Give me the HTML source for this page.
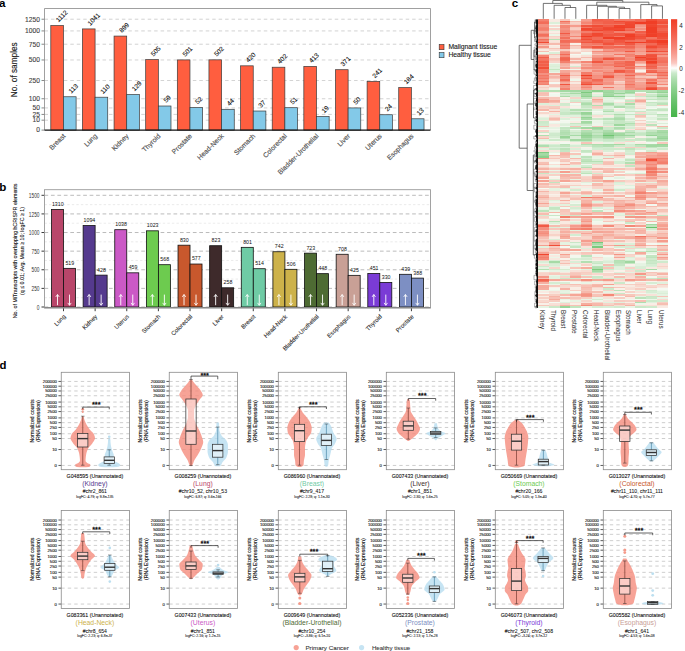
<!DOCTYPE html>
<html><head><meta charset="utf-8"><style>
html,body{margin:0;padding:0;background:#fff;overflow:hidden}
svg{display:block}
text{font-family:"Liberation Sans",sans-serif}
</style></head><body>
<svg width="685" height="651" viewBox="0 0 685 651">
<rect width="685" height="651" fill="#fff"/>
<text x="-0.90" y="6.90" font-size="11.6" text-anchor="start" fill="#000" font-weight="bold">a</text>
<text x="-0.80" y="190.50" font-size="11.6" text-anchor="start" fill="#000" font-weight="bold">b</text>
<text x="511.70" y="6.60" font-size="11.6" text-anchor="start" fill="#000" font-weight="bold">c</text>
<text x="-0.60" y="369.30" font-size="11.4" text-anchor="start" fill="#000" font-weight="bold">d</text>
<line x1="41.50" y1="130.10" x2="44.50" y2="130.10" stroke="#555" stroke-width="0.7"/>
<text x="40.00" y="132.40" font-size="6.7" text-anchor="end" fill="#444" stroke="#444" stroke-width="0.12">0</text>
<line x1="44.50" y1="120.18" x2="430.50" y2="120.18" stroke="#c8c8c8" stroke-width="0.8" stroke-dasharray="3.5,2.95"/>
<line x1="41.50" y1="120.18" x2="44.50" y2="120.18" stroke="#555" stroke-width="0.7"/>
<text x="40.00" y="122.48" font-size="6.7" text-anchor="end" fill="#444" stroke="#444" stroke-width="0.12">10</text>
<line x1="44.50" y1="114.42" x2="430.50" y2="114.42" stroke="#c8c8c8" stroke-width="0.8" stroke-dasharray="3.5,2.95"/>
<line x1="41.50" y1="114.42" x2="44.50" y2="114.42" stroke="#555" stroke-width="0.7"/>
<text x="40.00" y="116.72" font-size="6.7" text-anchor="end" fill="#444" stroke="#444" stroke-width="0.12">25</text>
<line x1="44.50" y1="107.93" x2="430.50" y2="107.93" stroke="#c8c8c8" stroke-width="0.8" stroke-dasharray="3.5,2.95"/>
<line x1="41.50" y1="107.93" x2="44.50" y2="107.93" stroke="#555" stroke-width="0.7"/>
<text x="40.00" y="110.23" font-size="6.7" text-anchor="end" fill="#444" stroke="#444" stroke-width="0.12">50</text>
<line x1="44.50" y1="98.74" x2="430.50" y2="98.74" stroke="#c8c8c8" stroke-width="0.8" stroke-dasharray="3.5,2.95"/>
<line x1="41.50" y1="98.74" x2="44.50" y2="98.74" stroke="#555" stroke-width="0.7"/>
<text x="40.00" y="101.04" font-size="6.7" text-anchor="end" fill="#444" stroke="#444" stroke-width="0.12">100</text>
<line x1="44.50" y1="80.52" x2="430.50" y2="80.52" stroke="#c8c8c8" stroke-width="0.8" stroke-dasharray="3.5,2.95"/>
<line x1="41.50" y1="80.52" x2="44.50" y2="80.52" stroke="#555" stroke-width="0.7"/>
<text x="40.00" y="82.82" font-size="6.7" text-anchor="end" fill="#444" stroke="#444" stroke-width="0.12">250</text>
<line x1="44.50" y1="59.98" x2="430.50" y2="59.98" stroke="#c8c8c8" stroke-width="0.8" stroke-dasharray="3.5,2.95"/>
<line x1="41.50" y1="59.98" x2="44.50" y2="59.98" stroke="#555" stroke-width="0.7"/>
<text x="40.00" y="62.28" font-size="6.7" text-anchor="end" fill="#444" stroke="#444" stroke-width="0.12">500</text>
<line x1="44.50" y1="44.22" x2="430.50" y2="44.22" stroke="#c8c8c8" stroke-width="0.8" stroke-dasharray="3.5,2.95"/>
<line x1="41.50" y1="44.22" x2="44.50" y2="44.22" stroke="#555" stroke-width="0.7"/>
<text x="40.00" y="46.52" font-size="6.7" text-anchor="end" fill="#444" stroke="#444" stroke-width="0.12">750</text>
<line x1="44.50" y1="30.93" x2="430.50" y2="30.93" stroke="#c8c8c8" stroke-width="0.8" stroke-dasharray="3.5,2.95"/>
<line x1="41.50" y1="30.93" x2="44.50" y2="30.93" stroke="#555" stroke-width="0.7"/>
<text x="40.00" y="33.23" font-size="6.7" text-anchor="end" fill="#444" stroke="#444" stroke-width="0.12">1000</text>
<line x1="44.50" y1="19.23" x2="430.50" y2="19.23" stroke="#c8c8c8" stroke-width="0.8" stroke-dasharray="3.5,2.95"/>
<line x1="41.50" y1="19.23" x2="44.50" y2="19.23" stroke="#555" stroke-width="0.7"/>
<text x="40.00" y="21.53" font-size="6.7" text-anchor="end" fill="#444" stroke="#444" stroke-width="0.12">1250</text>
<rect x="50.80" y="25.52" width="12.65" height="104.58" fill="#ff5e3f" stroke="#3a3a3a" stroke-width="0.7"/>
<text x="58.62" y="22.52" font-size="6.5" text-anchor="start" fill="#111" transform="rotate(-45 58.62 22.52)" stroke="#111" stroke-width="0.1">1112</text>
<rect x="63.45" y="96.76" width="12.65" height="33.34" fill="#83c9e8" stroke="#3a3a3a" stroke-width="0.7"/>
<text x="71.27" y="93.76" font-size="6.5" text-anchor="start" fill="#111" transform="rotate(-45 71.27 93.76)" stroke="#111" stroke-width="0.1">113</text>
<text x="65.95" y="136.50" font-size="6.8" text-anchor="end" fill="#555" transform="rotate(-45 65.95 136.50)" stroke="#555" stroke-width="0.15">Breast</text>
<rect x="82.43" y="28.92" width="12.65" height="101.18" fill="#ff5e3f" stroke="#3a3a3a" stroke-width="0.7"/>
<text x="90.25" y="25.92" font-size="6.5" text-anchor="start" fill="#111" transform="rotate(-45 90.25 25.92)" stroke="#111" stroke-width="0.1">1041</text>
<rect x="95.08" y="97.21" width="12.65" height="32.89" fill="#83c9e8" stroke="#3a3a3a" stroke-width="0.7"/>
<text x="102.91" y="94.21" font-size="6.5" text-anchor="start" fill="#111" transform="rotate(-45 102.91 94.21)" stroke="#111" stroke-width="0.1">110</text>
<text x="97.58" y="136.50" font-size="6.8" text-anchor="end" fill="#555" transform="rotate(-45 97.58 136.50)" stroke="#555" stroke-width="0.15">Lung</text>
<rect x="114.06" y="36.07" width="12.65" height="94.03" fill="#ff5e3f" stroke="#3a3a3a" stroke-width="0.7"/>
<text x="121.89" y="33.07" font-size="6.5" text-anchor="start" fill="#111" transform="rotate(-45 121.89 33.07)" stroke="#111" stroke-width="0.1">899</text>
<rect x="126.71" y="94.48" width="12.65" height="35.62" fill="#83c9e8" stroke="#3a3a3a" stroke-width="0.7"/>
<text x="134.53" y="91.48" font-size="6.5" text-anchor="start" fill="#111" transform="rotate(-45 134.53 91.48)" stroke="#111" stroke-width="0.1">129</text>
<text x="129.21" y="136.50" font-size="6.8" text-anchor="end" fill="#555" transform="rotate(-45 129.21 136.50)" stroke="#555" stroke-width="0.15">Kidney</text>
<rect x="145.69" y="59.63" width="12.65" height="70.47" fill="#ff5e3f" stroke="#3a3a3a" stroke-width="0.7"/>
<text x="153.51" y="56.63" font-size="6.5" text-anchor="start" fill="#111" transform="rotate(-45 153.51 56.63)" stroke="#111" stroke-width="0.1">505</text>
<rect x="158.34" y="106.01" width="12.65" height="24.09" fill="#83c9e8" stroke="#3a3a3a" stroke-width="0.7"/>
<text x="166.16" y="103.01" font-size="6.5" text-anchor="start" fill="#111" transform="rotate(-45 166.16 103.01)" stroke="#111" stroke-width="0.1">59</text>
<text x="160.84" y="136.50" font-size="6.8" text-anchor="end" fill="#555" transform="rotate(-45 160.84 136.50)" stroke="#555" stroke-width="0.15">Thyroid</text>
<rect x="177.32" y="59.91" width="12.65" height="70.19" fill="#ff5e3f" stroke="#3a3a3a" stroke-width="0.7"/>
<text x="185.14" y="56.91" font-size="6.5" text-anchor="start" fill="#111" transform="rotate(-45 185.14 56.91)" stroke="#111" stroke-width="0.1">501</text>
<rect x="189.97" y="107.49" width="12.65" height="22.61" fill="#83c9e8" stroke="#3a3a3a" stroke-width="0.7"/>
<text x="197.79" y="104.49" font-size="6.5" text-anchor="start" fill="#111" transform="rotate(-45 197.79 104.49)" stroke="#111" stroke-width="0.1">52</text>
<text x="192.47" y="136.50" font-size="6.8" text-anchor="end" fill="#555" transform="rotate(-45 192.47 136.50)" stroke="#555" stroke-width="0.15">Prostate</text>
<rect x="208.95" y="59.84" width="12.65" height="70.26" fill="#ff5e3f" stroke="#3a3a3a" stroke-width="0.7"/>
<text x="216.77" y="56.84" font-size="6.5" text-anchor="start" fill="#111" transform="rotate(-45 216.77 56.84)" stroke="#111" stroke-width="0.1">502</text>
<rect x="221.60" y="109.30" width="12.65" height="20.80" fill="#83c9e8" stroke="#3a3a3a" stroke-width="0.7"/>
<text x="229.42" y="106.30" font-size="6.5" text-anchor="start" fill="#111" transform="rotate(-45 229.42 106.30)" stroke="#111" stroke-width="0.1">44</text>
<text x="224.10" y="136.50" font-size="6.8" text-anchor="end" fill="#555" transform="rotate(-45 224.10 136.50)" stroke="#555" stroke-width="0.15">Head-Neck</text>
<rect x="240.58" y="65.83" width="12.65" height="64.27" fill="#ff5e3f" stroke="#3a3a3a" stroke-width="0.7"/>
<text x="248.40" y="62.83" font-size="6.5" text-anchor="start" fill="#111" transform="rotate(-45 248.40 62.83)" stroke="#111" stroke-width="0.1">420</text>
<rect x="253.23" y="111.02" width="12.65" height="19.08" fill="#83c9e8" stroke="#3a3a3a" stroke-width="0.7"/>
<text x="261.06" y="108.02" font-size="6.5" text-anchor="start" fill="#111" transform="rotate(-45 261.06 108.02)" stroke="#111" stroke-width="0.1">37</text>
<text x="255.73" y="136.50" font-size="6.8" text-anchor="end" fill="#555" transform="rotate(-45 255.73 136.50)" stroke="#555" stroke-width="0.15">Stomach</text>
<rect x="272.21" y="67.22" width="12.65" height="62.88" fill="#ff5e3f" stroke="#3a3a3a" stroke-width="0.7"/>
<text x="280.03" y="64.22" font-size="6.5" text-anchor="start" fill="#111" transform="rotate(-45 280.03 64.22)" stroke="#111" stroke-width="0.1">402</text>
<rect x="284.86" y="107.70" width="12.65" height="22.40" fill="#83c9e8" stroke="#3a3a3a" stroke-width="0.7"/>
<text x="292.68" y="104.70" font-size="6.5" text-anchor="start" fill="#111" transform="rotate(-45 292.68 104.70)" stroke="#111" stroke-width="0.1">51</text>
<text x="287.36" y="136.50" font-size="6.8" text-anchor="end" fill="#555" transform="rotate(-45 287.36 136.50)" stroke="#555" stroke-width="0.15">Colorectal</text>
<rect x="303.84" y="66.37" width="12.65" height="63.73" fill="#ff5e3f" stroke="#3a3a3a" stroke-width="0.7"/>
<text x="311.66" y="63.37" font-size="6.5" text-anchor="start" fill="#111" transform="rotate(-45 311.66 63.37)" stroke="#111" stroke-width="0.1">413</text>
<rect x="316.49" y="116.43" width="12.65" height="13.67" fill="#83c9e8" stroke="#3a3a3a" stroke-width="0.7"/>
<text x="324.31" y="113.43" font-size="6.5" text-anchor="start" fill="#111" transform="rotate(-45 324.31 113.43)" stroke="#111" stroke-width="0.1">19</text>
<text x="318.99" y="136.50" font-size="6.8" text-anchor="end" fill="#555" transform="rotate(-45 318.99 136.50)" stroke="#555" stroke-width="0.15">Bladder-Urothelial</text>
<rect x="335.47" y="69.70" width="12.65" height="60.40" fill="#ff5e3f" stroke="#3a3a3a" stroke-width="0.7"/>
<text x="343.30" y="66.70" font-size="6.5" text-anchor="start" fill="#111" transform="rotate(-45 343.30 66.70)" stroke="#111" stroke-width="0.1">371</text>
<rect x="348.12" y="107.93" width="12.65" height="22.17" fill="#83c9e8" stroke="#3a3a3a" stroke-width="0.7"/>
<text x="355.94" y="104.93" font-size="6.5" text-anchor="start" fill="#111" transform="rotate(-45 355.94 104.93)" stroke="#111" stroke-width="0.1">50</text>
<text x="350.62" y="136.50" font-size="6.8" text-anchor="end" fill="#555" transform="rotate(-45 350.62 136.50)" stroke="#555" stroke-width="0.15">Liver</text>
<rect x="367.10" y="81.42" width="12.65" height="48.68" fill="#ff5e3f" stroke="#3a3a3a" stroke-width="0.7"/>
<text x="374.93" y="78.42" font-size="6.5" text-anchor="start" fill="#111" transform="rotate(-45 374.93 78.42)" stroke="#111" stroke-width="0.1">241</text>
<rect x="379.75" y="114.74" width="12.65" height="15.36" fill="#83c9e8" stroke="#3a3a3a" stroke-width="0.7"/>
<text x="387.57" y="111.74" font-size="6.5" text-anchor="start" fill="#111" transform="rotate(-45 387.57 111.74)" stroke="#111" stroke-width="0.1">24</text>
<text x="382.25" y="136.50" font-size="6.8" text-anchor="end" fill="#555" transform="rotate(-45 382.25 136.50)" stroke="#555" stroke-width="0.15">Uterus</text>
<rect x="398.73" y="87.56" width="12.65" height="42.54" fill="#ff5e3f" stroke="#3a3a3a" stroke-width="0.7"/>
<text x="406.56" y="84.56" font-size="6.5" text-anchor="start" fill="#111" transform="rotate(-45 406.56 84.56)" stroke="#111" stroke-width="0.1">184</text>
<rect x="411.38" y="118.79" width="12.65" height="11.31" fill="#83c9e8" stroke="#3a3a3a" stroke-width="0.7"/>
<text x="419.20" y="115.79" font-size="6.5" text-anchor="start" fill="#111" transform="rotate(-45 419.20 115.79)" stroke="#111" stroke-width="0.1">13</text>
<text x="413.88" y="136.50" font-size="6.8" text-anchor="end" fill="#555" transform="rotate(-45 413.88 136.50)" stroke="#555" stroke-width="0.15">Esophagus</text>
<line x1="44.50" y1="8.50" x2="44.50" y2="130.10" stroke="#888" stroke-width="0.8"/>
<line x1="44.50" y1="8.50" x2="430.50" y2="8.50" stroke="#888" stroke-width="0.8"/>
<line x1="430.50" y1="8.50" x2="430.50" y2="130.10" stroke="#888" stroke-width="0.8"/>
<line x1="44.50" y1="130.10" x2="430.50" y2="130.10" stroke="#111" stroke-width="1.3"/>
<text x="17.40" y="69.80" font-size="8.5" text-anchor="middle" fill="#222" transform="rotate(-90 17.40 69.80)" textLength="55" lengthAdjust="spacingAndGlyphs" stroke="#222" stroke-width="0.15">No. of samples</text>
<rect x="439.20" y="44.50" width="4.80" height="5.20" fill="#ff5e3f" stroke="#333" stroke-width="0.6"/>
<rect x="439.20" y="52.50" width="4.80" height="5.20" fill="#83c9e8" stroke="#333" stroke-width="0.6"/>
<text x="448.40" y="49.10" font-size="6.6" text-anchor="start" fill="#222" textLength="48.9" lengthAdjust="spacingAndGlyphs" stroke="#222" stroke-width="0.12">Malignant tissue</text>
<text x="448.40" y="57.20" font-size="6.6" text-anchor="start" fill="#222" textLength="42.5" lengthAdjust="spacingAndGlyphs" stroke="#222" stroke-width="0.12">Healthy tissue</text>
<line x1="44.50" y1="307.00" x2="430.50" y2="307.00" stroke="#aaa" stroke-width="0.8" stroke-dasharray="3.7,2.75"/>
<line x1="44.50" y1="297.69" x2="430.50" y2="297.69" stroke="#ddd" stroke-width="0.6" stroke-dasharray="2.4,2.15"/>
<line x1="44.50" y1="288.38" x2="430.50" y2="288.38" stroke="#aaa" stroke-width="0.8" stroke-dasharray="3.7,2.75"/>
<line x1="44.50" y1="279.07" x2="430.50" y2="279.07" stroke="#ddd" stroke-width="0.6" stroke-dasharray="2.4,2.15"/>
<line x1="44.50" y1="269.77" x2="430.50" y2="269.77" stroke="#aaa" stroke-width="0.8" stroke-dasharray="3.7,2.75"/>
<line x1="44.50" y1="260.46" x2="430.50" y2="260.46" stroke="#ddd" stroke-width="0.6" stroke-dasharray="2.4,2.15"/>
<line x1="44.50" y1="251.15" x2="430.50" y2="251.15" stroke="#aaa" stroke-width="0.8" stroke-dasharray="3.7,2.75"/>
<line x1="44.50" y1="241.84" x2="430.50" y2="241.84" stroke="#ddd" stroke-width="0.6" stroke-dasharray="2.4,2.15"/>
<line x1="44.50" y1="232.53" x2="430.50" y2="232.53" stroke="#aaa" stroke-width="0.8" stroke-dasharray="3.7,2.75"/>
<line x1="44.50" y1="223.23" x2="430.50" y2="223.23" stroke="#ddd" stroke-width="0.6" stroke-dasharray="2.4,2.15"/>
<line x1="44.50" y1="213.92" x2="430.50" y2="213.92" stroke="#aaa" stroke-width="0.8" stroke-dasharray="3.7,2.75"/>
<line x1="44.50" y1="204.61" x2="430.50" y2="204.61" stroke="#ddd" stroke-width="0.6" stroke-dasharray="2.4,2.15"/>
<line x1="44.50" y1="195.30" x2="430.50" y2="195.30" stroke="#aaa" stroke-width="0.8" stroke-dasharray="3.7,2.75"/>
<line x1="41.50" y1="307.00" x2="44.50" y2="307.00" stroke="#222" stroke-width="0.9"/>
<text x="39.50" y="309.60" font-size="6.4" text-anchor="end" fill="#333" textLength="2.68" lengthAdjust="spacingAndGlyphs">0</text>
<line x1="41.50" y1="288.38" x2="44.50" y2="288.38" stroke="#222" stroke-width="0.9"/>
<text x="39.50" y="290.98" font-size="6.4" text-anchor="end" fill="#333" textLength="8.040000000000001" lengthAdjust="spacingAndGlyphs">250</text>
<line x1="41.50" y1="269.77" x2="44.50" y2="269.77" stroke="#222" stroke-width="0.9"/>
<text x="39.50" y="272.37" font-size="6.4" text-anchor="end" fill="#333" textLength="8.040000000000001" lengthAdjust="spacingAndGlyphs">500</text>
<line x1="41.50" y1="251.15" x2="44.50" y2="251.15" stroke="#222" stroke-width="0.9"/>
<text x="39.50" y="253.75" font-size="6.4" text-anchor="end" fill="#333" textLength="8.040000000000001" lengthAdjust="spacingAndGlyphs">750</text>
<line x1="41.50" y1="232.53" x2="44.50" y2="232.53" stroke="#222" stroke-width="0.9"/>
<text x="39.50" y="235.13" font-size="6.4" text-anchor="end" fill="#333" textLength="10.72" lengthAdjust="spacingAndGlyphs">1000</text>
<line x1="41.50" y1="213.92" x2="44.50" y2="213.92" stroke="#222" stroke-width="0.9"/>
<text x="39.50" y="216.52" font-size="6.4" text-anchor="end" fill="#333" textLength="10.72" lengthAdjust="spacingAndGlyphs">1250</text>
<line x1="41.50" y1="195.30" x2="44.50" y2="195.30" stroke="#222" stroke-width="0.9"/>
<text x="39.50" y="197.90" font-size="6.4" text-anchor="end" fill="#333" textLength="10.72" lengthAdjust="spacingAndGlyphs">1500</text>
<rect x="51.50" y="209.45" width="12.00" height="97.55" fill="#b9466a" stroke="#111" stroke-width="0.8"/>
<text x="57.80" y="205.85" font-size="6.0" text-anchor="middle" fill="#111" textLength="11.68" lengthAdjust="spacingAndGlyphs">1310</text>
<line x1="57.50" y1="305.20" x2="57.50" y2="294.60" stroke="#fff" stroke-width="0.9"/>
<path d="M55.80,296.90 L57.50,294.50 L59.20,296.90" fill="none" stroke="#fff" stroke-width="0.85"/>
<rect x="63.50" y="268.35" width="12.00" height="38.65" fill="#b9466a" stroke="#111" stroke-width="0.8"/>
<text x="69.80" y="264.75" font-size="6.0" text-anchor="middle" fill="#111" textLength="8.76" lengthAdjust="spacingAndGlyphs">519</text>
<line x1="69.50" y1="294.60" x2="69.50" y2="305.20" stroke="#fff" stroke-width="0.9"/>
<path d="M67.80,302.90 L69.50,305.30 L71.20,302.90" fill="none" stroke="#fff" stroke-width="0.85"/>
<line x1="63.50" y1="307.50" x2="63.50" y2="311.20" stroke="#222" stroke-width="0.9"/>
<text x="66.10" y="317.00" font-size="6.0" text-anchor="end" fill="#333" transform="rotate(-45 66.10 317.00)" stroke="#333" stroke-width="0.1">Lung</text>
<rect x="83.13" y="225.53" width="12.00" height="81.47" fill="#553a8e" stroke="#111" stroke-width="0.8"/>
<text x="89.43" y="221.93" font-size="6.0" text-anchor="middle" fill="#111" textLength="11.68" lengthAdjust="spacingAndGlyphs">1094</text>
<line x1="89.13" y1="305.20" x2="89.13" y2="294.60" stroke="#fff" stroke-width="0.9"/>
<path d="M87.43,296.90 L89.13,294.50 L90.83,296.90" fill="none" stroke="#fff" stroke-width="0.85"/>
<rect x="95.13" y="275.13" width="12.00" height="31.87" fill="#553a8e" stroke="#111" stroke-width="0.8"/>
<text x="101.43" y="271.53" font-size="6.0" text-anchor="middle" fill="#111" textLength="8.76" lengthAdjust="spacingAndGlyphs">428</text>
<line x1="101.13" y1="294.60" x2="101.13" y2="305.20" stroke="#fff" stroke-width="0.9"/>
<path d="M99.43,302.90 L101.13,305.30 L102.83,302.90" fill="none" stroke="#fff" stroke-width="0.85"/>
<line x1="95.13" y1="307.50" x2="95.13" y2="311.20" stroke="#222" stroke-width="0.9"/>
<text x="97.73" y="317.00" font-size="6.0" text-anchor="end" fill="#333" transform="rotate(-45 97.73 317.00)" stroke="#333" stroke-width="0.1">Kidney</text>
<rect x="114.76" y="229.70" width="12.00" height="77.30" fill="#cb59c6" stroke="#111" stroke-width="0.8"/>
<text x="121.06" y="226.10" font-size="6.0" text-anchor="middle" fill="#111" textLength="11.68" lengthAdjust="spacingAndGlyphs">1038</text>
<line x1="120.76" y1="305.20" x2="120.76" y2="294.60" stroke="#fff" stroke-width="0.9"/>
<path d="M119.06,296.90 L120.76,294.50 L122.46,296.90" fill="none" stroke="#fff" stroke-width="0.85"/>
<rect x="126.76" y="272.82" width="12.00" height="34.18" fill="#cb59c6" stroke="#111" stroke-width="0.8"/>
<text x="133.06" y="269.22" font-size="6.0" text-anchor="middle" fill="#111" textLength="8.76" lengthAdjust="spacingAndGlyphs">459</text>
<line x1="132.76" y1="294.60" x2="132.76" y2="305.20" stroke="#fff" stroke-width="0.9"/>
<path d="M131.06,302.90 L132.76,305.30 L134.46,302.90" fill="none" stroke="#fff" stroke-width="0.85"/>
<line x1="126.76" y1="307.50" x2="126.76" y2="311.20" stroke="#222" stroke-width="0.9"/>
<text x="129.36" y="317.00" font-size="6.0" text-anchor="end" fill="#333" transform="rotate(-45 129.36 317.00)" stroke="#333" stroke-width="0.1">Uterus</text>
<rect x="146.39" y="230.82" width="12.00" height="76.18" fill="#6dcb4f" stroke="#111" stroke-width="0.8"/>
<text x="152.69" y="227.22" font-size="6.0" text-anchor="middle" fill="#111" textLength="11.68" lengthAdjust="spacingAndGlyphs">1023</text>
<line x1="152.39" y1="305.20" x2="152.39" y2="294.60" stroke="#fff" stroke-width="0.9"/>
<path d="M150.69,296.90 L152.39,294.50 L154.09,296.90" fill="none" stroke="#fff" stroke-width="0.85"/>
<rect x="158.39" y="264.70" width="12.00" height="42.30" fill="#6dcb4f" stroke="#111" stroke-width="0.8"/>
<text x="164.69" y="261.10" font-size="6.0" text-anchor="middle" fill="#111" textLength="8.76" lengthAdjust="spacingAndGlyphs">568</text>
<line x1="164.39" y1="294.60" x2="164.39" y2="305.20" stroke="#fff" stroke-width="0.9"/>
<path d="M162.69,302.90 L164.39,305.30 L166.09,302.90" fill="none" stroke="#fff" stroke-width="0.85"/>
<line x1="158.39" y1="307.50" x2="158.39" y2="311.20" stroke="#222" stroke-width="0.9"/>
<text x="160.99" y="317.00" font-size="6.0" text-anchor="end" fill="#333" transform="rotate(-45 160.99 317.00)" stroke="#333" stroke-width="0.1">Stomach</text>
<rect x="178.02" y="245.19" width="12.00" height="61.81" fill="#c8582d" stroke="#111" stroke-width="0.8"/>
<text x="184.32" y="241.59" font-size="6.0" text-anchor="middle" fill="#111" textLength="8.76" lengthAdjust="spacingAndGlyphs">830</text>
<line x1="184.02" y1="305.20" x2="184.02" y2="294.60" stroke="#fff" stroke-width="0.9"/>
<path d="M182.32,296.90 L184.02,294.50 L185.72,296.90" fill="none" stroke="#fff" stroke-width="0.85"/>
<rect x="190.02" y="264.03" width="12.00" height="42.97" fill="#c8582d" stroke="#111" stroke-width="0.8"/>
<text x="196.32" y="260.43" font-size="6.0" text-anchor="middle" fill="#111" textLength="8.76" lengthAdjust="spacingAndGlyphs">577</text>
<line x1="196.02" y1="294.60" x2="196.02" y2="305.20" stroke="#fff" stroke-width="0.9"/>
<path d="M194.32,302.90 L196.02,305.30 L197.72,302.90" fill="none" stroke="#fff" stroke-width="0.85"/>
<line x1="190.02" y1="307.50" x2="190.02" y2="311.20" stroke="#222" stroke-width="0.9"/>
<text x="192.62" y="317.00" font-size="6.0" text-anchor="end" fill="#333" transform="rotate(-45 192.62 317.00)" stroke="#333" stroke-width="0.1">Colorectal</text>
<rect x="209.65" y="245.71" width="12.00" height="61.29" fill="#3e2a2b" stroke="#111" stroke-width="0.8"/>
<text x="215.95" y="242.11" font-size="6.0" text-anchor="middle" fill="#111" textLength="8.76" lengthAdjust="spacingAndGlyphs">823</text>
<line x1="215.65" y1="305.20" x2="215.65" y2="294.60" stroke="#fff" stroke-width="0.9"/>
<path d="M213.95,296.90 L215.65,294.50 L217.35,296.90" fill="none" stroke="#fff" stroke-width="0.85"/>
<rect x="221.65" y="287.79" width="12.00" height="19.21" fill="#3e2a2b" stroke="#111" stroke-width="0.8"/>
<text x="227.95" y="284.19" font-size="6.0" text-anchor="middle" fill="#111" textLength="8.76" lengthAdjust="spacingAndGlyphs">258</text>
<line x1="227.65" y1="294.60" x2="227.65" y2="305.20" stroke="#fff" stroke-width="0.9"/>
<path d="M225.95,302.90 L227.65,305.30 L229.35,302.90" fill="none" stroke="#fff" stroke-width="0.85"/>
<line x1="221.65" y1="307.50" x2="221.65" y2="311.20" stroke="#222" stroke-width="0.9"/>
<text x="224.25" y="317.00" font-size="6.0" text-anchor="end" fill="#333" transform="rotate(-45 224.25 317.00)" stroke="#333" stroke-width="0.1">Liver</text>
<rect x="241.28" y="247.35" width="12.00" height="59.65" fill="#6fcba5" stroke="#111" stroke-width="0.8"/>
<text x="247.58" y="243.75" font-size="6.0" text-anchor="middle" fill="#111" textLength="8.76" lengthAdjust="spacingAndGlyphs">801</text>
<line x1="247.28" y1="305.20" x2="247.28" y2="294.60" stroke="#fff" stroke-width="0.9"/>
<path d="M245.58,296.90 L247.28,294.50 L248.98,296.90" fill="none" stroke="#fff" stroke-width="0.85"/>
<rect x="253.28" y="268.72" width="12.00" height="38.28" fill="#6fcba5" stroke="#111" stroke-width="0.8"/>
<text x="259.58" y="265.12" font-size="6.0" text-anchor="middle" fill="#111" textLength="8.76" lengthAdjust="spacingAndGlyphs">514</text>
<line x1="259.28" y1="294.60" x2="259.28" y2="305.20" stroke="#fff" stroke-width="0.9"/>
<path d="M257.58,302.90 L259.28,305.30 L260.98,302.90" fill="none" stroke="#fff" stroke-width="0.85"/>
<line x1="253.28" y1="307.50" x2="253.28" y2="311.20" stroke="#222" stroke-width="0.9"/>
<text x="255.88" y="317.00" font-size="6.0" text-anchor="end" fill="#333" transform="rotate(-45 255.88 317.00)" stroke="#333" stroke-width="0.1">Breast</text>
<rect x="272.91" y="251.75" width="12.00" height="55.25" fill="#cdb24a" stroke="#111" stroke-width="0.8"/>
<text x="279.21" y="248.15" font-size="6.0" text-anchor="middle" fill="#111" textLength="8.76" lengthAdjust="spacingAndGlyphs">742</text>
<line x1="278.91" y1="305.20" x2="278.91" y2="294.60" stroke="#fff" stroke-width="0.9"/>
<path d="M277.21,296.90 L278.91,294.50 L280.61,296.90" fill="none" stroke="#fff" stroke-width="0.85"/>
<rect x="284.91" y="269.32" width="12.00" height="37.68" fill="#cdb24a" stroke="#111" stroke-width="0.8"/>
<text x="291.21" y="265.72" font-size="6.0" text-anchor="middle" fill="#111" textLength="8.76" lengthAdjust="spacingAndGlyphs">506</text>
<line x1="290.91" y1="294.60" x2="290.91" y2="305.20" stroke="#fff" stroke-width="0.9"/>
<path d="M289.21,302.90 L290.91,305.30 L292.61,302.90" fill="none" stroke="#fff" stroke-width="0.85"/>
<line x1="284.91" y1="307.50" x2="284.91" y2="311.20" stroke="#222" stroke-width="0.9"/>
<text x="287.51" y="317.00" font-size="6.0" text-anchor="end" fill="#333" transform="rotate(-45 287.51 317.00)" stroke="#333" stroke-width="0.1">Head-Neck</text>
<rect x="304.54" y="253.16" width="12.00" height="53.84" fill="#4e6b33" stroke="#111" stroke-width="0.8"/>
<text x="310.84" y="249.56" font-size="6.0" text-anchor="middle" fill="#111" textLength="8.76" lengthAdjust="spacingAndGlyphs">723</text>
<line x1="310.54" y1="305.20" x2="310.54" y2="294.60" stroke="#fff" stroke-width="0.9"/>
<path d="M308.84,296.90 L310.54,294.50 L312.24,296.90" fill="none" stroke="#fff" stroke-width="0.85"/>
<rect x="316.54" y="273.64" width="12.00" height="33.36" fill="#4e6b33" stroke="#111" stroke-width="0.8"/>
<text x="322.84" y="270.04" font-size="6.0" text-anchor="middle" fill="#111" textLength="8.76" lengthAdjust="spacingAndGlyphs">448</text>
<line x1="322.54" y1="294.60" x2="322.54" y2="305.20" stroke="#fff" stroke-width="0.9"/>
<path d="M320.84,302.90 L322.54,305.30 L324.24,302.90" fill="none" stroke="#fff" stroke-width="0.85"/>
<line x1="316.54" y1="307.50" x2="316.54" y2="311.20" stroke="#222" stroke-width="0.9"/>
<text x="319.14" y="317.00" font-size="6.0" text-anchor="end" fill="#333" transform="rotate(-45 319.14 317.00)" stroke="#333" stroke-width="0.1">Bladder-Urothelial</text>
<rect x="336.17" y="254.28" width="12.00" height="52.72" fill="#c9a096" stroke="#111" stroke-width="0.8"/>
<text x="342.47" y="250.68" font-size="6.0" text-anchor="middle" fill="#111" textLength="8.76" lengthAdjust="spacingAndGlyphs">708</text>
<line x1="342.17" y1="305.20" x2="342.17" y2="294.60" stroke="#fff" stroke-width="0.9"/>
<path d="M340.47,296.90 L342.17,294.50 L343.87,296.90" fill="none" stroke="#fff" stroke-width="0.85"/>
<rect x="348.17" y="275.35" width="12.00" height="31.65" fill="#c9a096" stroke="#111" stroke-width="0.8"/>
<text x="354.47" y="271.75" font-size="6.0" text-anchor="middle" fill="#111" textLength="8.76" lengthAdjust="spacingAndGlyphs">425</text>
<line x1="354.17" y1="294.60" x2="354.17" y2="305.20" stroke="#fff" stroke-width="0.9"/>
<path d="M352.47,302.90 L354.17,305.30 L355.87,302.90" fill="none" stroke="#fff" stroke-width="0.85"/>
<line x1="348.17" y1="307.50" x2="348.17" y2="311.20" stroke="#222" stroke-width="0.9"/>
<text x="350.77" y="317.00" font-size="6.0" text-anchor="end" fill="#333" transform="rotate(-45 350.77 317.00)" stroke="#333" stroke-width="0.1">Esophagus</text>
<rect x="367.80" y="273.42" width="12.00" height="33.58" fill="#7a3bd6" stroke="#111" stroke-width="0.8"/>
<text x="374.10" y="269.82" font-size="6.0" text-anchor="middle" fill="#111" textLength="8.76" lengthAdjust="spacingAndGlyphs">451</text>
<line x1="373.80" y1="305.20" x2="373.80" y2="294.60" stroke="#fff" stroke-width="0.9"/>
<path d="M372.10,296.90 L373.80,294.50 L375.50,296.90" fill="none" stroke="#fff" stroke-width="0.85"/>
<rect x="379.80" y="282.43" width="12.00" height="24.57" fill="#7a3bd6" stroke="#111" stroke-width="0.8"/>
<text x="386.10" y="278.83" font-size="6.0" text-anchor="middle" fill="#111" textLength="8.76" lengthAdjust="spacingAndGlyphs">330</text>
<line x1="385.80" y1="294.60" x2="385.80" y2="305.20" stroke="#fff" stroke-width="0.9"/>
<path d="M384.10,302.90 L385.80,305.30 L387.50,302.90" fill="none" stroke="#fff" stroke-width="0.85"/>
<line x1="379.80" y1="307.50" x2="379.80" y2="311.20" stroke="#222" stroke-width="0.9"/>
<text x="382.40" y="317.00" font-size="6.0" text-anchor="end" fill="#333" transform="rotate(-45 382.40 317.00)" stroke="#333" stroke-width="0.1">Thyroid</text>
<rect x="399.43" y="274.31" width="12.00" height="32.69" fill="#7d8fc3" stroke="#111" stroke-width="0.8"/>
<text x="405.73" y="270.71" font-size="6.0" text-anchor="middle" fill="#111" textLength="8.76" lengthAdjust="spacingAndGlyphs">439</text>
<line x1="405.43" y1="305.20" x2="405.43" y2="294.60" stroke="#fff" stroke-width="0.9"/>
<path d="M403.73,296.90 L405.43,294.50 L407.13,296.90" fill="none" stroke="#fff" stroke-width="0.85"/>
<rect x="411.43" y="278.11" width="12.00" height="28.89" fill="#7d8fc3" stroke="#111" stroke-width="0.8"/>
<text x="417.73" y="274.51" font-size="6.0" text-anchor="middle" fill="#111" textLength="8.76" lengthAdjust="spacingAndGlyphs">388</text>
<line x1="417.43" y1="294.60" x2="417.43" y2="305.20" stroke="#fff" stroke-width="0.9"/>
<path d="M415.73,302.90 L417.43,305.30 L419.13,302.90" fill="none" stroke="#fff" stroke-width="0.85"/>
<line x1="411.43" y1="307.50" x2="411.43" y2="311.20" stroke="#222" stroke-width="0.9"/>
<text x="414.03" y="317.00" font-size="6.0" text-anchor="end" fill="#333" transform="rotate(-45 414.03 317.00)" stroke="#333" stroke-width="0.1">Prostate</text>
<rect x="44.50" y="189.70" width="386.00" height="118.30" fill="none" stroke="#999" stroke-width="0.9"/>
<line x1="44.50" y1="307.70" x2="430.50" y2="307.70" stroke="#888" stroke-width="1.2"/>
<text x="17.00" y="250.90" font-size="5.8" text-anchor="middle" fill="#111" transform="rotate(-90 17.00 250.90)" textLength="134.7" lengthAdjust="spacingAndGlyphs" stroke="#111" stroke-width="0.1">No. of MiTranscripts with overlapping hCRISPR elements</text>
<text x="24.20" y="251.00" font-size="5.8" text-anchor="middle" fill="#111" transform="rotate(-90 24.20 251.00)" textLength="88" lengthAdjust="spacingAndGlyphs" stroke="#111" stroke-width="0.1">(q ≤ 0.01; Avg. Mean ≥ 10; logFC ≥ 1)</text>
<g shape-rendering="crispEdges">
<rect x="537.90" y="19.20" width="10.88" height="1.55" fill="#f38371"/>
<rect x="548.73" y="19.20" width="10.88" height="1.55" fill="#f9ebe2"/>
<rect x="559.56" y="19.20" width="10.88" height="1.55" fill="#f7c8bc"/>
<rect x="570.39" y="19.20" width="10.88" height="1.55" fill="#f5f9f1"/>
<rect x="581.22" y="19.20" width="10.88" height="1.55" fill="#f59e8f"/>
<rect x="592.05" y="19.20" width="10.88" height="1.55" fill="#f25e49"/>
<rect x="602.88" y="19.20" width="10.88" height="1.55" fill="#f26450"/>
<rect x="613.70" y="19.20" width="10.88" height="1.55" fill="#f37c69"/>
<rect x="624.53" y="19.20" width="10.88" height="1.55" fill="#f37d6b"/>
<rect x="635.36" y="19.20" width="10.88" height="1.55" fill="#f26b57"/>
<rect x="646.19" y="19.20" width="10.88" height="1.55" fill="#f14d36"/>
<rect x="657.02" y="19.20" width="10.88" height="1.55" fill="#f25d47"/>
<rect x="537.90" y="20.70" width="10.88" height="1.55" fill="#f37461"/>
<rect x="548.73" y="20.70" width="10.88" height="1.55" fill="#f8eae1"/>
<rect x="559.56" y="20.70" width="10.88" height="1.55" fill="#f3735f"/>
<rect x="570.39" y="20.70" width="10.88" height="1.55" fill="#f6bcaf"/>
<rect x="581.22" y="20.70" width="10.88" height="1.55" fill="#f49382"/>
<rect x="592.05" y="20.70" width="10.88" height="1.55" fill="#f2634e"/>
<rect x="602.88" y="20.70" width="10.88" height="1.55" fill="#f25f4a"/>
<rect x="613.70" y="20.70" width="10.88" height="1.55" fill="#f14d36"/>
<rect x="624.53" y="20.70" width="10.88" height="1.55" fill="#f1553f"/>
<rect x="635.36" y="20.70" width="10.88" height="1.55" fill="#f2614d"/>
<rect x="646.19" y="20.70" width="10.88" height="1.55" fill="#f03e26"/>
<rect x="657.02" y="20.70" width="10.88" height="1.55" fill="#f1543e"/>
<rect x="537.90" y="22.21" width="10.88" height="1.55" fill="#f26d59"/>
<rect x="548.73" y="22.21" width="10.88" height="1.55" fill="#dcefd9"/>
<rect x="559.56" y="22.21" width="10.88" height="1.55" fill="#f49483"/>
<rect x="570.39" y="22.21" width="10.88" height="1.55" fill="#f7d3c8"/>
<rect x="581.22" y="22.21" width="10.88" height="1.55" fill="#f48674"/>
<rect x="592.05" y="22.21" width="10.88" height="1.55" fill="#f26853"/>
<rect x="602.88" y="22.21" width="10.88" height="1.55" fill="#f25f4a"/>
<rect x="613.70" y="22.21" width="10.88" height="1.55" fill="#f15b46"/>
<rect x="624.53" y="22.21" width="10.88" height="1.55" fill="#f14a33"/>
<rect x="635.36" y="22.21" width="10.88" height="1.55" fill="#f03e26"/>
<rect x="646.19" y="22.21" width="10.88" height="1.55" fill="#f03e26"/>
<rect x="657.02" y="22.21" width="10.88" height="1.55" fill="#f1513a"/>
<rect x="537.90" y="23.71" width="10.88" height="1.55" fill="#f49180"/>
<rect x="548.73" y="23.71" width="10.88" height="1.55" fill="#f3f8ef"/>
<rect x="559.56" y="23.71" width="10.88" height="1.55" fill="#f6c0b3"/>
<rect x="570.39" y="23.71" width="10.88" height="1.55" fill="#f7cbc0"/>
<rect x="581.22" y="23.71" width="10.88" height="1.55" fill="#f59c8c"/>
<rect x="592.05" y="23.71" width="10.88" height="1.55" fill="#f37966"/>
<rect x="602.88" y="23.71" width="10.88" height="1.55" fill="#f26f5b"/>
<rect x="613.70" y="23.71" width="10.88" height="1.55" fill="#f37662"/>
<rect x="624.53" y="23.71" width="10.88" height="1.55" fill="#f04730"/>
<rect x="635.36" y="23.71" width="10.88" height="1.55" fill="#f38270"/>
<rect x="646.19" y="23.71" width="10.88" height="1.55" fill="#f14a33"/>
<rect x="657.02" y="23.71" width="10.88" height="1.55" fill="#f37966"/>
<rect x="537.90" y="25.21" width="10.88" height="1.55" fill="#f4907f"/>
<rect x="548.73" y="25.21" width="10.88" height="1.55" fill="#f8d9cf"/>
<rect x="559.56" y="25.21" width="10.88" height="1.55" fill="#f48775"/>
<rect x="570.39" y="25.21" width="10.88" height="1.55" fill="#f59d8e"/>
<rect x="581.22" y="25.21" width="10.88" height="1.55" fill="#f15640"/>
<rect x="592.05" y="25.21" width="10.88" height="1.55" fill="#f14d36"/>
<rect x="602.88" y="25.21" width="10.88" height="1.55" fill="#f25d48"/>
<rect x="613.70" y="25.21" width="10.88" height="1.55" fill="#f0422b"/>
<rect x="624.53" y="25.21" width="10.88" height="1.55" fill="#f04730"/>
<rect x="635.36" y="25.21" width="10.88" height="1.55" fill="#f49686"/>
<rect x="646.19" y="25.21" width="10.88" height="1.55" fill="#f0452d"/>
<rect x="657.02" y="25.21" width="10.88" height="1.55" fill="#f15741"/>
<rect x="537.90" y="26.72" width="10.88" height="1.55" fill="#f38472"/>
<rect x="548.73" y="26.72" width="10.88" height="1.55" fill="#f4f9f0"/>
<rect x="559.56" y="26.72" width="10.88" height="1.55" fill="#f48674"/>
<rect x="570.39" y="26.72" width="10.88" height="1.55" fill="#f7c9bd"/>
<rect x="581.22" y="26.72" width="10.88" height="1.55" fill="#f37764"/>
<rect x="592.05" y="26.72" width="10.88" height="1.55" fill="#f15b45"/>
<rect x="602.88" y="26.72" width="10.88" height="1.55" fill="#f14a33"/>
<rect x="613.70" y="26.72" width="10.88" height="1.55" fill="#f03e26"/>
<rect x="624.53" y="26.72" width="10.88" height="1.55" fill="#f0432c"/>
<rect x="635.36" y="26.72" width="10.88" height="1.55" fill="#f5a798"/>
<rect x="646.19" y="26.72" width="10.88" height="1.55" fill="#f03e26"/>
<rect x="657.02" y="26.72" width="10.88" height="1.55" fill="#f15944"/>
<rect x="537.90" y="28.22" width="10.88" height="1.55" fill="#f37f6c"/>
<rect x="548.73" y="28.22" width="10.88" height="1.55" fill="#f7d2c7"/>
<rect x="559.56" y="28.22" width="10.88" height="1.55" fill="#f49383"/>
<rect x="570.39" y="28.22" width="10.88" height="1.55" fill="#f7cfc4"/>
<rect x="581.22" y="28.22" width="10.88" height="1.55" fill="#f04730"/>
<rect x="592.05" y="28.22" width="10.88" height="1.55" fill="#f1533d"/>
<rect x="602.88" y="28.22" width="10.88" height="1.55" fill="#f04730"/>
<rect x="613.70" y="28.22" width="10.88" height="1.55" fill="#f14831"/>
<rect x="624.53" y="28.22" width="10.88" height="1.55" fill="#f26b57"/>
<rect x="635.36" y="28.22" width="10.88" height="1.55" fill="#f4907f"/>
<rect x="646.19" y="28.22" width="10.88" height="1.55" fill="#f03e26"/>
<rect x="657.02" y="28.22" width="10.88" height="1.55" fill="#f26651"/>
<rect x="537.90" y="29.72" width="10.88" height="1.55" fill="#f38473"/>
<rect x="548.73" y="29.72" width="10.88" height="1.55" fill="#def0db"/>
<rect x="559.56" y="29.72" width="10.88" height="1.55" fill="#f48977"/>
<rect x="570.39" y="29.72" width="10.88" height="1.55" fill="#f6b1a3"/>
<rect x="581.22" y="29.72" width="10.88" height="1.55" fill="#f15039"/>
<rect x="592.05" y="29.72" width="10.88" height="1.55" fill="#f0452e"/>
<rect x="602.88" y="29.72" width="10.88" height="1.55" fill="#f1503a"/>
<rect x="613.70" y="29.72" width="10.88" height="1.55" fill="#f03e26"/>
<rect x="624.53" y="29.72" width="10.88" height="1.55" fill="#f25f4a"/>
<rect x="635.36" y="29.72" width="10.88" height="1.55" fill="#f5a99a"/>
<rect x="646.19" y="29.72" width="10.88" height="1.55" fill="#f03e26"/>
<rect x="657.02" y="29.72" width="10.88" height="1.55" fill="#f26854"/>
<rect x="537.90" y="31.23" width="10.88" height="1.55" fill="#f5a292"/>
<rect x="548.73" y="31.23" width="10.88" height="1.55" fill="#f9eee6"/>
<rect x="559.56" y="31.23" width="10.88" height="1.55" fill="#f48775"/>
<rect x="570.39" y="31.23" width="10.88" height="1.55" fill="#f5a495"/>
<rect x="581.22" y="31.23" width="10.88" height="1.55" fill="#f37e6c"/>
<rect x="592.05" y="31.23" width="10.88" height="1.55" fill="#f26c58"/>
<rect x="602.88" y="31.23" width="10.88" height="1.55" fill="#f2614c"/>
<rect x="613.70" y="31.23" width="10.88" height="1.55" fill="#f3816f"/>
<rect x="624.53" y="31.23" width="10.88" height="1.55" fill="#f38573"/>
<rect x="635.36" y="31.23" width="10.88" height="1.55" fill="#f25e49"/>
<rect x="646.19" y="31.23" width="10.88" height="1.55" fill="#f03e26"/>
<rect x="657.02" y="31.23" width="10.88" height="1.55" fill="#f15a45"/>
<rect x="537.90" y="32.73" width="10.88" height="1.55" fill="#f48e7d"/>
<rect x="548.73" y="32.73" width="10.88" height="1.55" fill="#f8e0d7"/>
<rect x="559.56" y="32.73" width="10.88" height="1.55" fill="#f15a45"/>
<rect x="570.39" y="32.73" width="10.88" height="1.55" fill="#f5ac9e"/>
<rect x="581.22" y="32.73" width="10.88" height="1.55" fill="#f2614c"/>
<rect x="592.05" y="32.73" width="10.88" height="1.55" fill="#f04831"/>
<rect x="602.88" y="32.73" width="10.88" height="1.55" fill="#f26450"/>
<rect x="613.70" y="32.73" width="10.88" height="1.55" fill="#f1543e"/>
<rect x="624.53" y="32.73" width="10.88" height="1.55" fill="#f25d48"/>
<rect x="635.36" y="32.73" width="10.88" height="1.55" fill="#f26b57"/>
<rect x="646.19" y="32.73" width="10.88" height="1.55" fill="#f0452e"/>
<rect x="657.02" y="32.73" width="10.88" height="1.55" fill="#f14a33"/>
<rect x="537.90" y="34.23" width="10.88" height="1.55" fill="#f2705d"/>
<rect x="548.73" y="34.23" width="10.88" height="1.55" fill="#ecf6e8"/>
<rect x="559.56" y="34.23" width="10.88" height="1.55" fill="#f38271"/>
<rect x="570.39" y="34.23" width="10.88" height="1.55" fill="#f6b2a4"/>
<rect x="581.22" y="34.23" width="10.88" height="1.55" fill="#f15c46"/>
<rect x="592.05" y="34.23" width="10.88" height="1.55" fill="#f14931"/>
<rect x="602.88" y="34.23" width="10.88" height="1.55" fill="#f15843"/>
<rect x="613.70" y="34.23" width="10.88" height="1.55" fill="#f15640"/>
<rect x="624.53" y="34.23" width="10.88" height="1.55" fill="#f04028"/>
<rect x="635.36" y="34.23" width="10.88" height="1.55" fill="#f15843"/>
<rect x="646.19" y="34.23" width="10.88" height="1.55" fill="#f04028"/>
<rect x="657.02" y="34.23" width="10.88" height="1.55" fill="#f14b34"/>
<rect x="537.90" y="35.74" width="10.88" height="1.55" fill="#f37c69"/>
<rect x="548.73" y="35.74" width="10.88" height="1.55" fill="#f7d2c7"/>
<rect x="559.56" y="35.74" width="10.88" height="1.55" fill="#f48c7b"/>
<rect x="570.39" y="35.74" width="10.88" height="1.55" fill="#f48574"/>
<rect x="581.22" y="35.74" width="10.88" height="1.55" fill="#f03e26"/>
<rect x="592.05" y="35.74" width="10.88" height="1.55" fill="#f1533d"/>
<rect x="602.88" y="35.74" width="10.88" height="1.55" fill="#f15943"/>
<rect x="613.70" y="35.74" width="10.88" height="1.55" fill="#f37865"/>
<rect x="624.53" y="35.74" width="10.88" height="1.55" fill="#f03e26"/>
<rect x="635.36" y="35.74" width="10.88" height="1.55" fill="#f14d36"/>
<rect x="646.19" y="35.74" width="10.88" height="1.55" fill="#f03e26"/>
<rect x="657.02" y="35.74" width="10.88" height="1.55" fill="#f14c35"/>
<rect x="537.90" y="37.24" width="10.88" height="1.55" fill="#f5a091"/>
<rect x="548.73" y="37.24" width="10.88" height="1.55" fill="#f8dacf"/>
<rect x="559.56" y="37.24" width="10.88" height="1.55" fill="#f2705c"/>
<rect x="570.39" y="37.24" width="10.88" height="1.55" fill="#f6b7aa"/>
<rect x="581.22" y="37.24" width="10.88" height="1.55" fill="#f25e49"/>
<rect x="592.05" y="37.24" width="10.88" height="1.55" fill="#f26c58"/>
<rect x="602.88" y="37.24" width="10.88" height="1.55" fill="#f03e26"/>
<rect x="613.70" y="37.24" width="10.88" height="1.55" fill="#f03e26"/>
<rect x="624.53" y="37.24" width="10.88" height="1.55" fill="#f0462f"/>
<rect x="635.36" y="37.24" width="10.88" height="1.55" fill="#f1533d"/>
<rect x="646.19" y="37.24" width="10.88" height="1.55" fill="#f37662"/>
<rect x="657.02" y="37.24" width="10.88" height="1.55" fill="#f1523c"/>
<rect x="537.90" y="38.74" width="10.88" height="1.55" fill="#f3715d"/>
<rect x="548.73" y="38.74" width="10.88" height="1.55" fill="#b5e0b4"/>
<rect x="559.56" y="38.74" width="10.88" height="1.55" fill="#f48c7b"/>
<rect x="570.39" y="38.74" width="10.88" height="1.55" fill="#f48a78"/>
<rect x="581.22" y="38.74" width="10.88" height="1.55" fill="#f14d36"/>
<rect x="592.05" y="38.74" width="10.88" height="1.55" fill="#f26d59"/>
<rect x="602.88" y="38.74" width="10.88" height="1.55" fill="#f37360"/>
<rect x="613.70" y="38.74" width="10.88" height="1.55" fill="#f14932"/>
<rect x="624.53" y="38.74" width="10.88" height="1.55" fill="#f14933"/>
<rect x="635.36" y="38.74" width="10.88" height="1.55" fill="#f26955"/>
<rect x="646.19" y="38.74" width="10.88" height="1.55" fill="#f26450"/>
<rect x="657.02" y="38.74" width="10.88" height="1.55" fill="#f26450"/>
<rect x="537.90" y="40.25" width="10.88" height="1.55" fill="#f38472"/>
<rect x="548.73" y="40.25" width="10.88" height="1.55" fill="#f8e4da"/>
<rect x="559.56" y="40.25" width="10.88" height="1.55" fill="#f26b57"/>
<rect x="570.39" y="40.25" width="10.88" height="1.55" fill="#f37663"/>
<rect x="581.22" y="40.25" width="10.88" height="1.55" fill="#f26753"/>
<rect x="592.05" y="40.25" width="10.88" height="1.55" fill="#f15741"/>
<rect x="602.88" y="40.25" width="10.88" height="1.55" fill="#f26551"/>
<rect x="613.70" y="40.25" width="10.88" height="1.55" fill="#f15641"/>
<rect x="624.53" y="40.25" width="10.88" height="1.55" fill="#f26b57"/>
<rect x="635.36" y="40.25" width="10.88" height="1.55" fill="#f37360"/>
<rect x="646.19" y="40.25" width="10.88" height="1.55" fill="#f14831"/>
<rect x="657.02" y="40.25" width="10.88" height="1.55" fill="#f03e26"/>
<rect x="537.90" y="41.75" width="10.88" height="1.55" fill="#f14b34"/>
<rect x="548.73" y="41.75" width="10.88" height="1.55" fill="#f8ded4"/>
<rect x="559.56" y="41.75" width="10.88" height="1.55" fill="#f26f5b"/>
<rect x="570.39" y="41.75" width="10.88" height="1.55" fill="#f38472"/>
<rect x="581.22" y="41.75" width="10.88" height="1.55" fill="#f15741"/>
<rect x="592.05" y="41.75" width="10.88" height="1.55" fill="#f1533c"/>
<rect x="602.88" y="41.75" width="10.88" height="1.55" fill="#f25d47"/>
<rect x="613.70" y="41.75" width="10.88" height="1.55" fill="#f15943"/>
<rect x="624.53" y="41.75" width="10.88" height="1.55" fill="#f04028"/>
<rect x="635.36" y="41.75" width="10.88" height="1.55" fill="#f03e26"/>
<rect x="646.19" y="41.75" width="10.88" height="1.55" fill="#f04831"/>
<rect x="657.02" y="41.75" width="10.88" height="1.55" fill="#f03e26"/>
<rect x="537.90" y="43.25" width="10.88" height="1.55" fill="#f5a091"/>
<rect x="548.73" y="43.25" width="10.88" height="1.55" fill="#f6bbae"/>
<rect x="559.56" y="43.25" width="10.88" height="1.55" fill="#f48a78"/>
<rect x="570.39" y="43.25" width="10.88" height="1.55" fill="#f9efe6"/>
<rect x="581.22" y="43.25" width="10.88" height="1.55" fill="#f37f6d"/>
<rect x="592.05" y="43.25" width="10.88" height="1.55" fill="#f37562"/>
<rect x="602.88" y="43.25" width="10.88" height="1.55" fill="#f1523c"/>
<rect x="613.70" y="43.25" width="10.88" height="1.55" fill="#f2634e"/>
<rect x="624.53" y="43.25" width="10.88" height="1.55" fill="#f15742"/>
<rect x="635.36" y="43.25" width="10.88" height="1.55" fill="#f37f6d"/>
<rect x="646.19" y="43.25" width="10.88" height="1.55" fill="#f26a56"/>
<rect x="657.02" y="43.25" width="10.88" height="1.55" fill="#f14b34"/>
<rect x="537.90" y="44.76" width="10.88" height="1.55" fill="#f7c6ba"/>
<rect x="548.73" y="44.76" width="10.88" height="1.55" fill="#f9eee6"/>
<rect x="559.56" y="44.76" width="10.88" height="1.55" fill="#f37663"/>
<rect x="570.39" y="44.76" width="10.88" height="1.55" fill="#f6b8ab"/>
<rect x="581.22" y="44.76" width="10.88" height="1.55" fill="#f38472"/>
<rect x="592.05" y="44.76" width="10.88" height="1.55" fill="#f4907f"/>
<rect x="602.88" y="44.76" width="10.88" height="1.55" fill="#f37d6a"/>
<rect x="613.70" y="44.76" width="10.88" height="1.55" fill="#f59e8e"/>
<rect x="624.53" y="44.76" width="10.88" height="1.55" fill="#f37460"/>
<rect x="635.36" y="44.76" width="10.88" height="1.55" fill="#f48b7a"/>
<rect x="646.19" y="44.76" width="10.88" height="1.55" fill="#f15c47"/>
<rect x="657.02" y="44.76" width="10.88" height="1.55" fill="#f15c47"/>
<rect x="537.90" y="46.26" width="10.88" height="1.55" fill="#f49887"/>
<rect x="548.73" y="46.26" width="10.88" height="1.55" fill="#f8eae1"/>
<rect x="559.56" y="46.26" width="10.88" height="1.55" fill="#f48978"/>
<rect x="570.39" y="46.26" width="10.88" height="1.55" fill="#f7d0c5"/>
<rect x="581.22" y="46.26" width="10.88" height="1.55" fill="#f26d59"/>
<rect x="592.05" y="46.26" width="10.88" height="1.55" fill="#f1553f"/>
<rect x="602.88" y="46.26" width="10.88" height="1.55" fill="#f26a56"/>
<rect x="613.70" y="46.26" width="10.88" height="1.55" fill="#f26450"/>
<rect x="624.53" y="46.26" width="10.88" height="1.55" fill="#f26652"/>
<rect x="635.36" y="46.26" width="10.88" height="1.55" fill="#f48977"/>
<rect x="646.19" y="46.26" width="10.88" height="1.55" fill="#f14932"/>
<rect x="657.02" y="46.26" width="10.88" height="1.55" fill="#f25d47"/>
<rect x="537.90" y="47.76" width="10.88" height="1.55" fill="#f7cbbf"/>
<rect x="548.73" y="47.76" width="10.88" height="1.55" fill="#f7c4b8"/>
<rect x="559.56" y="47.76" width="10.88" height="1.55" fill="#f3816e"/>
<rect x="570.39" y="47.76" width="10.88" height="1.55" fill="#f7d1c6"/>
<rect x="581.22" y="47.76" width="10.88" height="1.55" fill="#f5a192"/>
<rect x="592.05" y="47.76" width="10.88" height="1.55" fill="#f37764"/>
<rect x="602.88" y="47.76" width="10.88" height="1.55" fill="#f3725e"/>
<rect x="613.70" y="47.76" width="10.88" height="1.55" fill="#f38472"/>
<rect x="624.53" y="47.76" width="10.88" height="1.55" fill="#f37561"/>
<rect x="635.36" y="47.76" width="10.88" height="1.55" fill="#f49989"/>
<rect x="646.19" y="47.76" width="10.88" height="1.55" fill="#f2624d"/>
<rect x="657.02" y="47.76" width="10.88" height="1.55" fill="#f37461"/>
<rect x="537.90" y="49.27" width="10.88" height="1.55" fill="#f8e9e0"/>
<rect x="548.73" y="49.27" width="10.88" height="1.55" fill="#f8dbd1"/>
<rect x="559.56" y="49.27" width="10.88" height="1.55" fill="#f7cabe"/>
<rect x="570.39" y="49.27" width="10.88" height="1.55" fill="#f9efe7"/>
<rect x="581.22" y="49.27" width="10.88" height="1.55" fill="#f8ddd3"/>
<rect x="592.05" y="49.27" width="10.88" height="1.55" fill="#f7c7bb"/>
<rect x="602.88" y="49.27" width="10.88" height="1.55" fill="#f49888"/>
<rect x="613.70" y="49.27" width="10.88" height="1.55" fill="#f48574"/>
<rect x="624.53" y="49.27" width="10.88" height="1.55" fill="#f48675"/>
<rect x="635.36" y="49.27" width="10.88" height="1.55" fill="#f59d8d"/>
<rect x="646.19" y="49.27" width="10.88" height="1.55" fill="#f26f5b"/>
<rect x="657.02" y="49.27" width="10.88" height="1.55" fill="#f37865"/>
<rect x="537.90" y="50.77" width="10.88" height="1.55" fill="#f6bfb2"/>
<rect x="548.73" y="50.77" width="10.88" height="1.55" fill="#f9f4ec"/>
<rect x="559.56" y="50.77" width="10.88" height="1.55" fill="#f59d8d"/>
<rect x="570.39" y="50.77" width="10.88" height="1.55" fill="#f8e6dd"/>
<rect x="581.22" y="50.77" width="10.88" height="1.55" fill="#f7d5ca"/>
<rect x="592.05" y="50.77" width="10.88" height="1.55" fill="#f48e7d"/>
<rect x="602.88" y="50.77" width="10.88" height="1.55" fill="#f37e6c"/>
<rect x="613.70" y="50.77" width="10.88" height="1.55" fill="#f48978"/>
<rect x="624.53" y="50.77" width="10.88" height="1.55" fill="#f15944"/>
<rect x="635.36" y="50.77" width="10.88" height="1.55" fill="#f49180"/>
<rect x="646.19" y="50.77" width="10.88" height="1.55" fill="#f0432b"/>
<rect x="657.02" y="50.77" width="10.88" height="1.55" fill="#f1533d"/>
<rect x="537.90" y="52.27" width="10.88" height="1.55" fill="#eaf5e7"/>
<rect x="548.73" y="52.27" width="10.88" height="1.55" fill="#daeed7"/>
<rect x="559.56" y="52.27" width="10.88" height="1.55" fill="#f48f7f"/>
<rect x="570.39" y="52.27" width="10.88" height="1.55" fill="#f7d0c5"/>
<rect x="581.22" y="52.27" width="10.88" height="1.55" fill="#f3f8ef"/>
<rect x="592.05" y="52.27" width="10.88" height="1.55" fill="#f5ab9d"/>
<rect x="602.88" y="52.27" width="10.88" height="1.55" fill="#f5a899"/>
<rect x="613.70" y="52.27" width="10.88" height="1.55" fill="#f5a89a"/>
<rect x="624.53" y="52.27" width="10.88" height="1.55" fill="#f49888"/>
<rect x="635.36" y="52.27" width="10.88" height="1.55" fill="#f5a798"/>
<rect x="646.19" y="52.27" width="10.88" height="1.55" fill="#f48a79"/>
<rect x="657.02" y="52.27" width="10.88" height="1.55" fill="#f48e7d"/>
<rect x="537.90" y="53.78" width="10.88" height="1.55" fill="#f7c8bc"/>
<rect x="548.73" y="53.78" width="10.88" height="1.55" fill="#f7c3b7"/>
<rect x="559.56" y="53.78" width="10.88" height="1.55" fill="#f26b57"/>
<rect x="570.39" y="53.78" width="10.88" height="1.55" fill="#f5f9f1"/>
<rect x="581.22" y="53.78" width="10.88" height="1.55" fill="#ebf5e8"/>
<rect x="592.05" y="53.78" width="10.88" height="1.55" fill="#f7c5b9"/>
<rect x="602.88" y="53.78" width="10.88" height="1.55" fill="#f6afa1"/>
<rect x="613.70" y="53.78" width="10.88" height="1.55" fill="#f37865"/>
<rect x="624.53" y="53.78" width="10.88" height="1.55" fill="#f3806e"/>
<rect x="635.36" y="53.78" width="10.88" height="1.55" fill="#f5ab9d"/>
<rect x="646.19" y="53.78" width="10.88" height="1.55" fill="#f15640"/>
<rect x="657.02" y="53.78" width="10.88" height="1.55" fill="#f26e5b"/>
<rect x="537.90" y="55.28" width="10.88" height="1.55" fill="#f48674"/>
<rect x="548.73" y="55.28" width="10.88" height="1.55" fill="#f8ded4"/>
<rect x="559.56" y="55.28" width="10.88" height="1.55" fill="#f48e7d"/>
<rect x="570.39" y="55.28" width="10.88" height="1.55" fill="#f9eee6"/>
<rect x="581.22" y="55.28" width="10.88" height="1.55" fill="#f8e0d6"/>
<rect x="592.05" y="55.28" width="10.88" height="1.55" fill="#f59e8e"/>
<rect x="602.88" y="55.28" width="10.88" height="1.55" fill="#f59a8a"/>
<rect x="613.70" y="55.28" width="10.88" height="1.55" fill="#f6b3a6"/>
<rect x="624.53" y="55.28" width="10.88" height="1.55" fill="#f48573"/>
<rect x="635.36" y="55.28" width="10.88" height="1.55" fill="#f2644f"/>
<rect x="646.19" y="55.28" width="10.88" height="1.55" fill="#f1513b"/>
<rect x="657.02" y="55.28" width="10.88" height="1.55" fill="#f59a8a"/>
<rect x="537.90" y="56.78" width="10.88" height="1.55" fill="#f25e49"/>
<rect x="548.73" y="56.78" width="10.88" height="1.55" fill="#f8e2d8"/>
<rect x="559.56" y="56.78" width="10.88" height="1.55" fill="#f26b57"/>
<rect x="570.39" y="56.78" width="10.88" height="1.55" fill="#f8e4db"/>
<rect x="581.22" y="56.78" width="10.88" height="1.55" fill="#f6bcaf"/>
<rect x="592.05" y="56.78" width="10.88" height="1.55" fill="#f49383"/>
<rect x="602.88" y="56.78" width="10.88" height="1.55" fill="#f37b68"/>
<rect x="613.70" y="56.78" width="10.88" height="1.55" fill="#f37b68"/>
<rect x="624.53" y="56.78" width="10.88" height="1.55" fill="#f49888"/>
<rect x="635.36" y="56.78" width="10.88" height="1.55" fill="#f04028"/>
<rect x="646.19" y="56.78" width="10.88" height="1.55" fill="#f15741"/>
<rect x="657.02" y="56.78" width="10.88" height="1.55" fill="#f37d6b"/>
<rect x="537.90" y="58.29" width="10.88" height="1.55" fill="#f37663"/>
<rect x="548.73" y="58.29" width="10.88" height="1.55" fill="#f6c1b5"/>
<rect x="559.56" y="58.29" width="10.88" height="1.55" fill="#f26550"/>
<rect x="570.39" y="58.29" width="10.88" height="1.55" fill="#f6b5a8"/>
<rect x="581.22" y="58.29" width="10.88" height="1.55" fill="#f8e1d7"/>
<rect x="592.05" y="58.29" width="10.88" height="1.55" fill="#f37e6b"/>
<rect x="602.88" y="58.29" width="10.88" height="1.55" fill="#f1543e"/>
<rect x="613.70" y="58.29" width="10.88" height="1.55" fill="#f3715e"/>
<rect x="624.53" y="58.29" width="10.88" height="1.55" fill="#f48c7a"/>
<rect x="635.36" y="58.29" width="10.88" height="1.55" fill="#f15c47"/>
<rect x="646.19" y="58.29" width="10.88" height="1.55" fill="#f0462f"/>
<rect x="657.02" y="58.29" width="10.88" height="1.55" fill="#f37865"/>
<rect x="537.90" y="59.79" width="10.88" height="1.55" fill="#f3715d"/>
<rect x="548.73" y="59.79" width="10.88" height="1.55" fill="#f7c9bd"/>
<rect x="559.56" y="59.79" width="10.88" height="1.55" fill="#f26a56"/>
<rect x="570.39" y="59.79" width="10.88" height="1.55" fill="#f8e2d8"/>
<rect x="581.22" y="59.79" width="10.88" height="1.55" fill="#f8e8df"/>
<rect x="592.05" y="59.79" width="10.88" height="1.55" fill="#f37f6c"/>
<rect x="602.88" y="59.79" width="10.88" height="1.55" fill="#f49383"/>
<rect x="613.70" y="59.79" width="10.88" height="1.55" fill="#f59a8b"/>
<rect x="624.53" y="59.79" width="10.88" height="1.55" fill="#f49584"/>
<rect x="635.36" y="59.79" width="10.88" height="1.55" fill="#f2624d"/>
<rect x="646.19" y="59.79" width="10.88" height="1.55" fill="#f15c47"/>
<rect x="657.02" y="59.79" width="10.88" height="1.55" fill="#f3725f"/>
<rect x="537.90" y="61.29" width="10.88" height="1.55" fill="#f25e49"/>
<rect x="548.73" y="61.29" width="10.88" height="1.55" fill="#f7d4ca"/>
<rect x="559.56" y="61.29" width="10.88" height="1.55" fill="#f3806d"/>
<rect x="570.39" y="61.29" width="10.88" height="1.55" fill="#f5ad9e"/>
<rect x="581.22" y="61.29" width="10.88" height="1.55" fill="#f48675"/>
<rect x="592.05" y="61.29" width="10.88" height="1.55" fill="#f15640"/>
<rect x="602.88" y="61.29" width="10.88" height="1.55" fill="#f48977"/>
<rect x="613.70" y="61.29" width="10.88" height="1.55" fill="#f37561"/>
<rect x="624.53" y="61.29" width="10.88" height="1.55" fill="#f2634e"/>
<rect x="635.36" y="61.29" width="10.88" height="1.55" fill="#f59e8e"/>
<rect x="646.19" y="61.29" width="10.88" height="1.55" fill="#f03e26"/>
<rect x="657.02" y="61.29" width="10.88" height="1.55" fill="#f26f5b"/>
<rect x="537.90" y="62.80" width="10.88" height="1.55" fill="#f26d59"/>
<rect x="548.73" y="62.80" width="10.88" height="1.55" fill="#eef6ea"/>
<rect x="559.56" y="62.80" width="10.88" height="1.55" fill="#f5ac9d"/>
<rect x="570.39" y="62.80" width="10.88" height="1.55" fill="#f7ccc1"/>
<rect x="581.22" y="62.80" width="10.88" height="1.55" fill="#f6b8aa"/>
<rect x="592.05" y="62.80" width="10.88" height="1.55" fill="#f48e7d"/>
<rect x="602.88" y="62.80" width="10.88" height="1.55" fill="#f48f7e"/>
<rect x="613.70" y="62.80" width="10.88" height="1.55" fill="#f26c58"/>
<rect x="624.53" y="62.80" width="10.88" height="1.55" fill="#f26854"/>
<rect x="635.36" y="62.80" width="10.88" height="1.55" fill="#f6b1a3"/>
<rect x="646.19" y="62.80" width="10.88" height="1.55" fill="#f14d36"/>
<rect x="657.02" y="62.80" width="10.88" height="1.55" fill="#f38270"/>
<rect x="537.90" y="64.30" width="10.88" height="1.55" fill="#f25f4a"/>
<rect x="548.73" y="64.30" width="10.88" height="1.55" fill="#def0db"/>
<rect x="559.56" y="64.30" width="10.88" height="1.55" fill="#f6b2a4"/>
<rect x="570.39" y="64.30" width="10.88" height="1.55" fill="#f9ebe2"/>
<rect x="581.22" y="64.30" width="10.88" height="1.55" fill="#f5a090"/>
<rect x="592.05" y="64.30" width="10.88" height="1.55" fill="#f48776"/>
<rect x="602.88" y="64.30" width="10.88" height="1.55" fill="#f37f6c"/>
<rect x="613.70" y="64.30" width="10.88" height="1.55" fill="#f37562"/>
<rect x="624.53" y="64.30" width="10.88" height="1.55" fill="#f26550"/>
<rect x="635.36" y="64.30" width="10.88" height="1.55" fill="#f7d4c9"/>
<rect x="646.19" y="64.30" width="10.88" height="1.55" fill="#f26a56"/>
<rect x="657.02" y="64.30" width="10.88" height="1.55" fill="#f3806e"/>
<rect x="537.90" y="65.80" width="10.88" height="1.55" fill="#f26f5b"/>
<rect x="548.73" y="65.80" width="10.88" height="1.55" fill="#daefd7"/>
<rect x="559.56" y="65.80" width="10.88" height="1.55" fill="#f6bdb1"/>
<rect x="570.39" y="65.80" width="10.88" height="1.55" fill="#d5ecd2"/>
<rect x="581.22" y="65.80" width="10.88" height="1.55" fill="#f5ad9f"/>
<rect x="592.05" y="65.80" width="10.88" height="1.55" fill="#f49281"/>
<rect x="602.88" y="65.80" width="10.88" height="1.55" fill="#f59a8a"/>
<rect x="613.70" y="65.80" width="10.88" height="1.55" fill="#f2634f"/>
<rect x="624.53" y="65.80" width="10.88" height="1.55" fill="#f37c69"/>
<rect x="635.36" y="65.80" width="10.88" height="1.55" fill="#f48a79"/>
<rect x="646.19" y="65.80" width="10.88" height="1.55" fill="#f25e49"/>
<rect x="657.02" y="65.80" width="10.88" height="1.55" fill="#f5a293"/>
<rect x="537.90" y="67.31" width="10.88" height="1.55" fill="#f14e37"/>
<rect x="548.73" y="67.31" width="10.88" height="1.55" fill="#e0f1dd"/>
<rect x="559.56" y="67.31" width="10.88" height="1.55" fill="#f5a495"/>
<rect x="570.39" y="67.31" width="10.88" height="1.55" fill="#f7cbc0"/>
<rect x="581.22" y="67.31" width="10.88" height="1.55" fill="#f48c7b"/>
<rect x="592.05" y="67.31" width="10.88" height="1.55" fill="#f48b7a"/>
<rect x="602.88" y="67.31" width="10.88" height="1.55" fill="#f49787"/>
<rect x="613.70" y="67.31" width="10.88" height="1.55" fill="#f49282"/>
<rect x="624.53" y="67.31" width="10.88" height="1.55" fill="#f26c58"/>
<rect x="635.36" y="67.31" width="10.88" height="1.55" fill="#f6b3a5"/>
<rect x="646.19" y="67.31" width="10.88" height="1.55" fill="#f26854"/>
<rect x="657.02" y="67.31" width="10.88" height="1.55" fill="#f48c7b"/>
<rect x="537.90" y="68.81" width="10.88" height="1.55" fill="#f37865"/>
<rect x="548.73" y="68.81" width="10.88" height="1.55" fill="#c4e6c2"/>
<rect x="559.56" y="68.81" width="10.88" height="1.55" fill="#f9f0e7"/>
<rect x="570.39" y="68.81" width="10.88" height="1.55" fill="#f0f7ec"/>
<rect x="581.22" y="68.81" width="10.88" height="1.55" fill="#f6b0a2"/>
<rect x="592.05" y="68.81" width="10.88" height="1.55" fill="#f5a698"/>
<rect x="602.88" y="68.81" width="10.88" height="1.55" fill="#f5a394"/>
<rect x="613.70" y="68.81" width="10.88" height="1.55" fill="#f48c7b"/>
<rect x="624.53" y="68.81" width="10.88" height="1.55" fill="#f48f7e"/>
<rect x="635.36" y="68.81" width="10.88" height="1.55" fill="#f8d9cf"/>
<rect x="646.19" y="68.81" width="10.88" height="1.55" fill="#f49585"/>
<rect x="657.02" y="68.81" width="10.88" height="1.55" fill="#f59a8a"/>
<rect x="537.90" y="70.32" width="10.88" height="1.55" fill="#f37461"/>
<rect x="548.73" y="70.32" width="10.88" height="1.55" fill="#def0db"/>
<rect x="559.56" y="70.32" width="10.88" height="1.55" fill="#f5a899"/>
<rect x="570.39" y="70.32" width="10.88" height="1.55" fill="#f6bbae"/>
<rect x="581.22" y="70.32" width="10.88" height="1.55" fill="#f6b3a6"/>
<rect x="592.05" y="70.32" width="10.88" height="1.55" fill="#f48d7c"/>
<rect x="602.88" y="70.32" width="10.88" height="1.55" fill="#f49988"/>
<rect x="613.70" y="70.32" width="10.88" height="1.55" fill="#f15a44"/>
<rect x="624.53" y="70.32" width="10.88" height="1.55" fill="#f3715e"/>
<rect x="635.36" y="70.32" width="10.88" height="1.55" fill="#f9f2ea"/>
<rect x="646.19" y="70.32" width="10.88" height="1.55" fill="#f26955"/>
<rect x="657.02" y="70.32" width="10.88" height="1.55" fill="#f48c7b"/>
<rect x="537.90" y="71.82" width="10.88" height="1.55" fill="#f37360"/>
<rect x="548.73" y="71.82" width="10.88" height="1.55" fill="#eaf5e7"/>
<rect x="559.56" y="71.82" width="10.88" height="1.55" fill="#f5a596"/>
<rect x="570.39" y="71.82" width="10.88" height="1.55" fill="#f7cdc2"/>
<rect x="581.22" y="71.82" width="10.88" height="1.55" fill="#f37c6a"/>
<rect x="592.05" y="71.82" width="10.88" height="1.55" fill="#f5a798"/>
<rect x="602.88" y="71.82" width="10.88" height="1.55" fill="#f37c69"/>
<rect x="613.70" y="71.82" width="10.88" height="1.55" fill="#f2604b"/>
<rect x="624.53" y="71.82" width="10.88" height="1.55" fill="#f37360"/>
<rect x="635.36" y="71.82" width="10.88" height="1.55" fill="#f7cbc0"/>
<rect x="646.19" y="71.82" width="10.88" height="1.55" fill="#f25d47"/>
<rect x="657.02" y="71.82" width="10.88" height="1.55" fill="#f26854"/>
<rect x="537.90" y="73.32" width="10.88" height="1.55" fill="#f49181"/>
<rect x="548.73" y="73.32" width="10.88" height="1.55" fill="#f5a899"/>
<rect x="559.56" y="73.32" width="10.88" height="1.55" fill="#f49383"/>
<rect x="570.39" y="73.32" width="10.88" height="1.55" fill="#f7d1c6"/>
<rect x="581.22" y="73.32" width="10.88" height="1.55" fill="#f37d6a"/>
<rect x="592.05" y="73.32" width="10.88" height="1.55" fill="#f59e8f"/>
<rect x="602.88" y="73.32" width="10.88" height="1.55" fill="#f48c7b"/>
<rect x="613.70" y="73.32" width="10.88" height="1.55" fill="#f5a394"/>
<rect x="624.53" y="73.32" width="10.88" height="1.55" fill="#f48b7a"/>
<rect x="635.36" y="73.32" width="10.88" height="1.55" fill="#f48d7c"/>
<rect x="646.19" y="73.32" width="10.88" height="1.55" fill="#f6b4a6"/>
<rect x="657.02" y="73.32" width="10.88" height="1.55" fill="#f3816f"/>
<rect x="537.90" y="74.83" width="10.88" height="1.55" fill="#f37865"/>
<rect x="548.73" y="74.83" width="10.88" height="1.55" fill="#f7cbc0"/>
<rect x="559.56" y="74.83" width="10.88" height="1.55" fill="#f25e49"/>
<rect x="570.39" y="74.83" width="10.88" height="1.55" fill="#f6baad"/>
<rect x="581.22" y="74.83" width="10.88" height="1.55" fill="#f03e26"/>
<rect x="592.05" y="74.83" width="10.88" height="1.55" fill="#f48e7d"/>
<rect x="602.88" y="74.83" width="10.88" height="1.55" fill="#f26f5c"/>
<rect x="613.70" y="74.83" width="10.88" height="1.55" fill="#f49484"/>
<rect x="624.53" y="74.83" width="10.88" height="1.55" fill="#f2634f"/>
<rect x="635.36" y="74.83" width="10.88" height="1.55" fill="#f5a899"/>
<rect x="646.19" y="74.83" width="10.88" height="1.55" fill="#f49685"/>
<rect x="657.02" y="74.83" width="10.88" height="1.55" fill="#f26c58"/>
<rect x="537.90" y="76.33" width="10.88" height="1.55" fill="#f38473"/>
<rect x="548.73" y="76.33" width="10.88" height="1.55" fill="#f6b6a9"/>
<rect x="559.56" y="76.33" width="10.88" height="1.55" fill="#f38270"/>
<rect x="570.39" y="76.33" width="10.88" height="1.55" fill="#f8dfd5"/>
<rect x="581.22" y="76.33" width="10.88" height="1.55" fill="#f3735f"/>
<rect x="592.05" y="76.33" width="10.88" height="1.55" fill="#f49180"/>
<rect x="602.88" y="76.33" width="10.88" height="1.55" fill="#f15943"/>
<rect x="613.70" y="76.33" width="10.88" height="1.55" fill="#f59f8f"/>
<rect x="624.53" y="76.33" width="10.88" height="1.55" fill="#f49281"/>
<rect x="635.36" y="76.33" width="10.88" height="1.55" fill="#f7c4b7"/>
<rect x="646.19" y="76.33" width="10.88" height="1.55" fill="#f7ccc1"/>
<rect x="657.02" y="76.33" width="10.88" height="1.55" fill="#f49585"/>
<rect x="537.90" y="77.83" width="10.88" height="1.55" fill="#f37764"/>
<rect x="548.73" y="77.83" width="10.88" height="1.55" fill="#f7c5b9"/>
<rect x="559.56" y="77.83" width="10.88" height="1.55" fill="#f48877"/>
<rect x="570.39" y="77.83" width="10.88" height="1.55" fill="#f9ebe2"/>
<rect x="581.22" y="77.83" width="10.88" height="1.55" fill="#f15842"/>
<rect x="592.05" y="77.83" width="10.88" height="1.55" fill="#f49281"/>
<rect x="602.88" y="77.83" width="10.88" height="1.55" fill="#f49685"/>
<rect x="613.70" y="77.83" width="10.88" height="1.55" fill="#f5a697"/>
<rect x="624.53" y="77.83" width="10.88" height="1.55" fill="#f3806d"/>
<rect x="635.36" y="77.83" width="10.88" height="1.55" fill="#f59c8d"/>
<rect x="646.19" y="77.83" width="10.88" height="1.55" fill="#f5a495"/>
<rect x="657.02" y="77.83" width="10.88" height="1.55" fill="#f37b69"/>
<rect x="537.90" y="79.34" width="10.88" height="1.55" fill="#f48d7c"/>
<rect x="548.73" y="79.34" width="10.88" height="1.55" fill="#f8ddd3"/>
<rect x="559.56" y="79.34" width="10.88" height="1.55" fill="#f26b57"/>
<rect x="570.39" y="79.34" width="10.88" height="1.55" fill="#eef7eb"/>
<rect x="581.22" y="79.34" width="10.88" height="1.55" fill="#f48775"/>
<rect x="592.05" y="79.34" width="10.88" height="1.55" fill="#f26955"/>
<rect x="602.88" y="79.34" width="10.88" height="1.55" fill="#f49888"/>
<rect x="613.70" y="79.34" width="10.88" height="1.55" fill="#f5a99b"/>
<rect x="624.53" y="79.34" width="10.88" height="1.55" fill="#f49383"/>
<rect x="635.36" y="79.34" width="10.88" height="1.55" fill="#f6afa1"/>
<rect x="646.19" y="79.34" width="10.88" height="1.55" fill="#f37562"/>
<rect x="657.02" y="79.34" width="10.88" height="1.55" fill="#f6ad9f"/>
<rect x="537.90" y="80.84" width="10.88" height="1.55" fill="#f3715e"/>
<rect x="548.73" y="80.84" width="10.88" height="1.55" fill="#f8d7cc"/>
<rect x="559.56" y="80.84" width="10.88" height="1.55" fill="#f48f7e"/>
<rect x="570.39" y="80.84" width="10.88" height="1.55" fill="#f7d0c5"/>
<rect x="581.22" y="80.84" width="10.88" height="1.55" fill="#f37d6a"/>
<rect x="592.05" y="80.84" width="10.88" height="1.55" fill="#f37562"/>
<rect x="602.88" y="80.84" width="10.88" height="1.55" fill="#f59f90"/>
<rect x="613.70" y="80.84" width="10.88" height="1.55" fill="#f7d4c9"/>
<rect x="624.53" y="80.84" width="10.88" height="1.55" fill="#f48876"/>
<rect x="635.36" y="80.84" width="10.88" height="1.55" fill="#f6c1b4"/>
<rect x="646.19" y="80.84" width="10.88" height="1.55" fill="#f48d7c"/>
<rect x="657.02" y="80.84" width="10.88" height="1.55" fill="#f59e8f"/>
<rect x="537.90" y="82.34" width="10.88" height="1.55" fill="#f48a78"/>
<rect x="548.73" y="82.34" width="10.88" height="1.55" fill="#f5f9f2"/>
<rect x="559.56" y="82.34" width="10.88" height="1.55" fill="#f5aa9b"/>
<rect x="570.39" y="82.34" width="10.88" height="1.55" fill="#f8e9e0"/>
<rect x="581.22" y="82.34" width="10.88" height="1.55" fill="#f26752"/>
<rect x="592.05" y="82.34" width="10.88" height="1.55" fill="#f38372"/>
<rect x="602.88" y="82.34" width="10.88" height="1.55" fill="#f49282"/>
<rect x="613.70" y="82.34" width="10.88" height="1.55" fill="#f7c9bd"/>
<rect x="624.53" y="82.34" width="10.88" height="1.55" fill="#f4907f"/>
<rect x="635.36" y="82.34" width="10.88" height="1.55" fill="#f5a293"/>
<rect x="646.19" y="82.34" width="10.88" height="1.55" fill="#f15842"/>
<rect x="657.02" y="82.34" width="10.88" height="1.55" fill="#f6b5a8"/>
<rect x="537.90" y="83.85" width="10.88" height="1.55" fill="#f3806e"/>
<rect x="548.73" y="83.85" width="10.88" height="1.55" fill="#f7cdc2"/>
<rect x="559.56" y="83.85" width="10.88" height="1.55" fill="#f15640"/>
<rect x="570.39" y="83.85" width="10.88" height="1.55" fill="#f7cabe"/>
<rect x="581.22" y="83.85" width="10.88" height="1.55" fill="#f14c35"/>
<rect x="592.05" y="83.85" width="10.88" height="1.55" fill="#f25d48"/>
<rect x="602.88" y="83.85" width="10.88" height="1.55" fill="#f49382"/>
<rect x="613.70" y="83.85" width="10.88" height="1.55" fill="#f5a899"/>
<rect x="624.53" y="83.85" width="10.88" height="1.55" fill="#f3735f"/>
<rect x="635.36" y="83.85" width="10.88" height="1.55" fill="#f5a091"/>
<rect x="646.19" y="83.85" width="10.88" height="1.55" fill="#f48674"/>
<rect x="657.02" y="83.85" width="10.88" height="1.55" fill="#f48675"/>
<rect x="537.90" y="85.35" width="10.88" height="1.55" fill="#f8ded4"/>
<rect x="548.73" y="85.35" width="10.88" height="1.55" fill="#f7c8bd"/>
<rect x="559.56" y="85.35" width="10.88" height="1.55" fill="#f49685"/>
<rect x="570.39" y="85.35" width="10.88" height="1.55" fill="#f7cdc2"/>
<rect x="581.22" y="85.35" width="10.88" height="1.55" fill="#f49787"/>
<rect x="592.05" y="85.35" width="10.88" height="1.55" fill="#f6c0b4"/>
<rect x="602.88" y="85.35" width="10.88" height="1.55" fill="#f6c0b3"/>
<rect x="613.70" y="85.35" width="10.88" height="1.55" fill="#f7c3b6"/>
<rect x="624.53" y="85.35" width="10.88" height="1.55" fill="#f48b7a"/>
<rect x="635.36" y="85.35" width="10.88" height="1.55" fill="#f59b8b"/>
<rect x="646.19" y="85.35" width="10.88" height="1.55" fill="#f3806e"/>
<rect x="657.02" y="85.35" width="10.88" height="1.55" fill="#f7cdc2"/>
<rect x="537.90" y="86.85" width="10.88" height="1.55" fill="#f7ccc0"/>
<rect x="548.73" y="86.85" width="10.88" height="1.55" fill="#f8e4db"/>
<rect x="559.56" y="86.85" width="10.88" height="1.55" fill="#f59a8a"/>
<rect x="570.39" y="86.85" width="10.88" height="1.55" fill="#f7c7bb"/>
<rect x="581.22" y="86.85" width="10.88" height="1.55" fill="#f48574"/>
<rect x="592.05" y="86.85" width="10.88" height="1.55" fill="#f6c0b4"/>
<rect x="602.88" y="86.85" width="10.88" height="1.55" fill="#f37967"/>
<rect x="613.70" y="86.85" width="10.88" height="1.55" fill="#f6bcb0"/>
<rect x="624.53" y="86.85" width="10.88" height="1.55" fill="#f48b79"/>
<rect x="635.36" y="86.85" width="10.88" height="1.55" fill="#f49787"/>
<rect x="646.19" y="86.85" width="10.88" height="1.55" fill="#f15b45"/>
<rect x="657.02" y="86.85" width="10.88" height="1.55" fill="#f48d7c"/>
<rect x="537.90" y="88.36" width="10.88" height="1.55" fill="#f8ddd3"/>
<rect x="548.73" y="88.36" width="10.88" height="1.55" fill="#eef7eb"/>
<rect x="559.56" y="88.36" width="10.88" height="1.55" fill="#f3806e"/>
<rect x="570.39" y="88.36" width="10.88" height="1.55" fill="#f7c9be"/>
<rect x="581.22" y="88.36" width="10.88" height="1.55" fill="#f5a293"/>
<rect x="592.05" y="88.36" width="10.88" height="1.55" fill="#f7c2b6"/>
<rect x="602.88" y="88.36" width="10.88" height="1.55" fill="#f6baad"/>
<rect x="613.70" y="88.36" width="10.88" height="1.55" fill="#f6beb1"/>
<rect x="624.53" y="88.36" width="10.88" height="1.55" fill="#f49888"/>
<rect x="635.36" y="88.36" width="10.88" height="1.55" fill="#f48b7a"/>
<rect x="646.19" y="88.36" width="10.88" height="1.55" fill="#f14932"/>
<rect x="657.02" y="88.36" width="10.88" height="1.55" fill="#f48877"/>
<rect x="537.90" y="89.86" width="10.88" height="1.55" fill="#f7c8bc"/>
<rect x="548.73" y="89.86" width="10.88" height="1.55" fill="#e9f5e6"/>
<rect x="559.56" y="89.86" width="10.88" height="1.55" fill="#f59d8e"/>
<rect x="570.39" y="89.86" width="10.88" height="1.55" fill="#f6b9ac"/>
<rect x="581.22" y="89.86" width="10.88" height="1.55" fill="#f5a192"/>
<rect x="592.05" y="89.86" width="10.88" height="1.55" fill="#f6c1b5"/>
<rect x="602.88" y="89.86" width="10.88" height="1.55" fill="#f7c2b6"/>
<rect x="613.70" y="89.86" width="10.88" height="1.55" fill="#f7d2c7"/>
<rect x="624.53" y="89.86" width="10.88" height="1.55" fill="#f38371"/>
<rect x="635.36" y="89.86" width="10.88" height="1.55" fill="#f48c7b"/>
<rect x="646.19" y="89.86" width="10.88" height="1.55" fill="#f5a192"/>
<rect x="657.02" y="89.86" width="10.88" height="1.55" fill="#f7c4b7"/>
<rect x="537.90" y="91.36" width="10.88" height="1.55" fill="#f7c5b9"/>
<rect x="548.73" y="91.36" width="10.88" height="1.55" fill="#f9ebe2"/>
<rect x="559.56" y="91.36" width="10.88" height="1.55" fill="#d9eed7"/>
<rect x="570.39" y="91.36" width="10.88" height="1.55" fill="#c6e7c4"/>
<rect x="581.22" y="91.36" width="10.88" height="1.55" fill="#7dca7f"/>
<rect x="592.05" y="91.36" width="10.88" height="1.55" fill="#d8eed6"/>
<rect x="602.88" y="91.36" width="10.88" height="1.55" fill="#9dd69d"/>
<rect x="613.70" y="91.36" width="10.88" height="1.55" fill="#bde3bc"/>
<rect x="624.53" y="91.36" width="10.88" height="1.55" fill="#9bd69b"/>
<rect x="635.36" y="91.36" width="10.88" height="1.55" fill="#f5f9f1"/>
<rect x="646.19" y="91.36" width="10.88" height="1.55" fill="#a6daa6"/>
<rect x="657.02" y="91.36" width="10.88" height="1.55" fill="#94d394"/>
<rect x="537.90" y="92.87" width="10.88" height="1.55" fill="#f6beb1"/>
<rect x="548.73" y="92.87" width="10.88" height="1.55" fill="#f6f9f2"/>
<rect x="559.56" y="92.87" width="10.88" height="1.55" fill="#b5e0b4"/>
<rect x="570.39" y="92.87" width="10.88" height="1.55" fill="#a7daa6"/>
<rect x="581.22" y="92.87" width="10.88" height="1.55" fill="#a5d9a4"/>
<rect x="592.05" y="92.87" width="10.88" height="1.55" fill="#f9eee5"/>
<rect x="602.88" y="92.87" width="10.88" height="1.55" fill="#a7daa7"/>
<rect x="613.70" y="92.87" width="10.88" height="1.55" fill="#98d498"/>
<rect x="624.53" y="92.87" width="10.88" height="1.55" fill="#b2dfb1"/>
<rect x="635.36" y="92.87" width="10.88" height="1.55" fill="#f8d7cc"/>
<rect x="646.19" y="92.87" width="10.88" height="1.55" fill="#e6f3e3"/>
<rect x="657.02" y="92.87" width="10.88" height="1.55" fill="#c6e7c5"/>
<rect x="537.90" y="94.37" width="10.88" height="1.55" fill="#f6c1b5"/>
<rect x="548.73" y="94.37" width="10.88" height="1.55" fill="#f1f8ee"/>
<rect x="559.56" y="94.37" width="10.88" height="1.55" fill="#ceeacc"/>
<rect x="570.39" y="94.37" width="10.88" height="1.55" fill="#d1ebce"/>
<rect x="581.22" y="94.37" width="10.88" height="1.55" fill="#a1d8a1"/>
<rect x="592.05" y="94.37" width="10.88" height="1.55" fill="#e2f2df"/>
<rect x="602.88" y="94.37" width="10.88" height="1.55" fill="#a1d8a1"/>
<rect x="613.70" y="94.37" width="10.88" height="1.55" fill="#cae8c8"/>
<rect x="624.53" y="94.37" width="10.88" height="1.55" fill="#e1f1de"/>
<rect x="635.36" y="94.37" width="10.88" height="1.55" fill="#f7cfc4"/>
<rect x="646.19" y="94.37" width="10.88" height="1.55" fill="#cce9ca"/>
<rect x="657.02" y="94.37" width="10.88" height="1.55" fill="#abdcab"/>
<rect x="537.90" y="95.87" width="10.88" height="1.55" fill="#f8e7de"/>
<rect x="548.73" y="95.87" width="10.88" height="1.55" fill="#f9f1e9"/>
<rect x="559.56" y="95.87" width="10.88" height="1.55" fill="#aadba9"/>
<rect x="570.39" y="95.87" width="10.88" height="1.55" fill="#d6edd4"/>
<rect x="581.22" y="95.87" width="10.88" height="1.55" fill="#91d291"/>
<rect x="592.05" y="95.87" width="10.88" height="1.55" fill="#cce9ca"/>
<rect x="602.88" y="95.87" width="10.88" height="1.55" fill="#8acf8b"/>
<rect x="613.70" y="95.87" width="10.88" height="1.55" fill="#92d293"/>
<rect x="624.53" y="95.87" width="10.88" height="1.55" fill="#d2ecd0"/>
<rect x="635.36" y="95.87" width="10.88" height="1.55" fill="#ceeacc"/>
<rect x="646.19" y="95.87" width="10.88" height="1.55" fill="#bbe2ba"/>
<rect x="657.02" y="95.87" width="10.88" height="1.55" fill="#8dd08e"/>
<rect x="537.90" y="97.38" width="10.88" height="1.55" fill="#f6baad"/>
<rect x="548.73" y="97.38" width="10.88" height="1.55" fill="#f7c7bb"/>
<rect x="559.56" y="97.38" width="10.88" height="1.55" fill="#f9f0e7"/>
<rect x="570.39" y="97.38" width="10.88" height="1.55" fill="#f7d5ca"/>
<rect x="581.22" y="97.38" width="10.88" height="1.55" fill="#bde3bc"/>
<rect x="592.05" y="97.38" width="10.88" height="1.55" fill="#f7d4c9"/>
<rect x="602.88" y="97.38" width="10.88" height="1.55" fill="#e2f2df"/>
<rect x="613.70" y="97.38" width="10.88" height="1.55" fill="#d6edd3"/>
<rect x="624.53" y="97.38" width="10.88" height="1.55" fill="#f4f9f0"/>
<rect x="635.36" y="97.38" width="10.88" height="1.55" fill="#f8e7de"/>
<rect x="646.19" y="97.38" width="10.88" height="1.55" fill="#dbefd8"/>
<rect x="657.02" y="97.38" width="10.88" height="1.55" fill="#c3e5c1"/>
<rect x="537.90" y="98.88" width="10.88" height="1.55" fill="#f49686"/>
<rect x="548.73" y="98.88" width="10.88" height="1.55" fill="#f7cabe"/>
<rect x="559.56" y="98.88" width="10.88" height="1.55" fill="#f8e4db"/>
<rect x="570.39" y="98.88" width="10.88" height="1.55" fill="#daeed7"/>
<rect x="581.22" y="98.88" width="10.88" height="1.55" fill="#ecf6e9"/>
<rect x="592.05" y="98.88" width="10.88" height="1.55" fill="#f5a798"/>
<rect x="602.88" y="98.88" width="10.88" height="1.55" fill="#e9f4e5"/>
<rect x="613.70" y="98.88" width="10.88" height="1.55" fill="#e5f3e2"/>
<rect x="624.53" y="98.88" width="10.88" height="1.55" fill="#f8d7cd"/>
<rect x="635.36" y="98.88" width="10.88" height="1.55" fill="#f7c2b6"/>
<rect x="646.19" y="98.88" width="10.88" height="1.55" fill="#c2e5c1"/>
<rect x="657.02" y="98.88" width="10.88" height="1.55" fill="#c0e4bf"/>
<rect x="537.90" y="100.38" width="10.88" height="1.55" fill="#f5a091"/>
<rect x="548.73" y="100.38" width="10.88" height="1.55" fill="#f5ac9d"/>
<rect x="559.56" y="100.38" width="10.88" height="1.55" fill="#eef6ea"/>
<rect x="570.39" y="100.38" width="10.88" height="1.55" fill="#d0ebce"/>
<rect x="581.22" y="100.38" width="10.88" height="1.55" fill="#d4ecd2"/>
<rect x="592.05" y="100.38" width="10.88" height="1.55" fill="#f6bbae"/>
<rect x="602.88" y="100.38" width="10.88" height="1.55" fill="#e3f2e0"/>
<rect x="613.70" y="100.38" width="10.88" height="1.55" fill="#f2f8ee"/>
<rect x="624.53" y="100.38" width="10.88" height="1.55" fill="#c7e7c5"/>
<rect x="635.36" y="100.38" width="10.88" height="1.55" fill="#f5aa9b"/>
<rect x="646.19" y="100.38" width="10.88" height="1.55" fill="#eff7ec"/>
<rect x="657.02" y="100.38" width="10.88" height="1.55" fill="#dff1dc"/>
<rect x="537.90" y="101.89" width="10.88" height="1.55" fill="#f5a596"/>
<rect x="548.73" y="101.89" width="10.88" height="1.55" fill="#f6bcaf"/>
<rect x="559.56" y="101.89" width="10.88" height="1.55" fill="#f9ece4"/>
<rect x="570.39" y="101.89" width="10.88" height="1.55" fill="#f7cbc0"/>
<rect x="581.22" y="101.89" width="10.88" height="1.55" fill="#bbe2ba"/>
<rect x="592.05" y="101.89" width="10.88" height="1.55" fill="#f7c9bd"/>
<rect x="602.88" y="101.89" width="10.88" height="1.55" fill="#ceeacc"/>
<rect x="613.70" y="101.89" width="10.88" height="1.55" fill="#f8e5dc"/>
<rect x="624.53" y="101.89" width="10.88" height="1.55" fill="#f7d0c5"/>
<rect x="635.36" y="101.89" width="10.88" height="1.55" fill="#f7cbbf"/>
<rect x="646.19" y="101.89" width="10.88" height="1.55" fill="#c4e6c2"/>
<rect x="657.02" y="101.89" width="10.88" height="1.55" fill="#c9e8c7"/>
<rect x="537.90" y="103.39" width="10.88" height="1.55" fill="#dcefd9"/>
<rect x="548.73" y="103.39" width="10.88" height="1.55" fill="#f8e0d6"/>
<rect x="559.56" y="103.39" width="10.88" height="1.55" fill="#d0eace"/>
<rect x="570.39" y="103.39" width="10.88" height="1.55" fill="#f4f9f0"/>
<rect x="581.22" y="103.39" width="10.88" height="1.55" fill="#adddac"/>
<rect x="592.05" y="103.39" width="10.88" height="1.55" fill="#f8dbd1"/>
<rect x="602.88" y="103.39" width="10.88" height="1.55" fill="#aadcaa"/>
<rect x="613.70" y="103.39" width="10.88" height="1.55" fill="#dcefd9"/>
<rect x="624.53" y="103.39" width="10.88" height="1.55" fill="#abdcaa"/>
<rect x="635.36" y="103.39" width="10.88" height="1.55" fill="#f8e3d9"/>
<rect x="646.19" y="103.39" width="10.88" height="1.55" fill="#d3ecd0"/>
<rect x="657.02" y="103.39" width="10.88" height="1.55" fill="#bbe2ba"/>
<rect x="537.90" y="104.89" width="10.88" height="1.55" fill="#f8ded4"/>
<rect x="548.73" y="104.89" width="10.88" height="1.55" fill="#dcefd9"/>
<rect x="559.56" y="104.89" width="10.88" height="1.55" fill="#d1ebcf"/>
<rect x="570.39" y="104.89" width="10.88" height="1.55" fill="#eaf5e7"/>
<rect x="581.22" y="104.89" width="10.88" height="1.55" fill="#c4e6c2"/>
<rect x="592.05" y="104.89" width="10.88" height="1.55" fill="#b2dfb1"/>
<rect x="602.88" y="104.89" width="10.88" height="1.55" fill="#bee4bd"/>
<rect x="613.70" y="104.89" width="10.88" height="1.55" fill="#d0eacd"/>
<rect x="624.53" y="104.89" width="10.88" height="1.55" fill="#d5edd3"/>
<rect x="635.36" y="104.89" width="10.88" height="1.55" fill="#f9ece3"/>
<rect x="646.19" y="104.89" width="10.88" height="1.55" fill="#cde9cb"/>
<rect x="657.02" y="104.89" width="10.88" height="1.55" fill="#f7d0c4"/>
<rect x="537.90" y="106.40" width="10.88" height="1.55" fill="#f7cec2"/>
<rect x="548.73" y="106.40" width="10.88" height="1.55" fill="#f7cabe"/>
<rect x="559.56" y="106.40" width="10.88" height="1.55" fill="#f8e4db"/>
<rect x="570.39" y="106.40" width="10.88" height="1.55" fill="#f9f1e9"/>
<rect x="581.22" y="106.40" width="10.88" height="1.55" fill="#c9e8c7"/>
<rect x="592.05" y="106.40" width="10.88" height="1.55" fill="#f7cbc0"/>
<rect x="602.88" y="106.40" width="10.88" height="1.55" fill="#dff0dc"/>
<rect x="613.70" y="106.40" width="10.88" height="1.55" fill="#b0deaf"/>
<rect x="624.53" y="106.40" width="10.88" height="1.55" fill="#c7e7c5"/>
<rect x="635.36" y="106.40" width="10.88" height="1.55" fill="#f8e7dd"/>
<rect x="646.19" y="106.40" width="10.88" height="1.55" fill="#eef6eb"/>
<rect x="657.02" y="106.40" width="10.88" height="1.55" fill="#f2f8ef"/>
<rect x="537.90" y="107.90" width="10.88" height="1.55" fill="#f7d4c9"/>
<rect x="548.73" y="107.90" width="10.88" height="1.55" fill="#f7c2b5"/>
<rect x="559.56" y="107.90" width="10.88" height="1.55" fill="#dcefd9"/>
<rect x="570.39" y="107.90" width="10.88" height="1.55" fill="#e9f4e6"/>
<rect x="581.22" y="107.90" width="10.88" height="1.55" fill="#daefd7"/>
<rect x="592.05" y="107.90" width="10.88" height="1.55" fill="#f7d4c9"/>
<rect x="602.88" y="107.90" width="10.88" height="1.55" fill="#e4f3e1"/>
<rect x="613.70" y="107.90" width="10.88" height="1.55" fill="#f5f9f1"/>
<rect x="624.53" y="107.90" width="10.88" height="1.55" fill="#d2ebcf"/>
<rect x="635.36" y="107.90" width="10.88" height="1.55" fill="#f8d8ce"/>
<rect x="646.19" y="107.90" width="10.88" height="1.55" fill="#f4f9f1"/>
<rect x="657.02" y="107.90" width="10.88" height="1.55" fill="#d2ecd0"/>
<rect x="537.90" y="109.40" width="10.88" height="1.55" fill="#f6b6a9"/>
<rect x="548.73" y="109.40" width="10.88" height="1.55" fill="#f8e0d6"/>
<rect x="559.56" y="109.40" width="10.88" height="1.55" fill="#d3ecd1"/>
<rect x="570.39" y="109.40" width="10.88" height="1.55" fill="#b5e0b4"/>
<rect x="581.22" y="109.40" width="10.88" height="1.55" fill="#bae2b8"/>
<rect x="592.05" y="109.40" width="10.88" height="1.55" fill="#e3f2e0"/>
<rect x="602.88" y="109.40" width="10.88" height="1.55" fill="#cae8c8"/>
<rect x="613.70" y="109.40" width="10.88" height="1.55" fill="#f9ede4"/>
<rect x="624.53" y="109.40" width="10.88" height="1.55" fill="#e0f1dd"/>
<rect x="635.36" y="109.40" width="10.88" height="1.55" fill="#edf6e9"/>
<rect x="646.19" y="109.40" width="10.88" height="1.55" fill="#cae8c8"/>
<rect x="657.02" y="109.40" width="10.88" height="1.55" fill="#c5e6c3"/>
<rect x="537.90" y="110.91" width="10.88" height="1.55" fill="#f7faf3"/>
<rect x="548.73" y="110.91" width="10.88" height="1.55" fill="#f6b1a3"/>
<rect x="559.56" y="110.91" width="10.88" height="1.55" fill="#d3ecd1"/>
<rect x="570.39" y="110.91" width="10.88" height="1.55" fill="#d7edd5"/>
<rect x="581.22" y="110.91" width="10.88" height="1.55" fill="#dff0dc"/>
<rect x="592.05" y="110.91" width="10.88" height="1.55" fill="#f5f9f1"/>
<rect x="602.88" y="110.91" width="10.88" height="1.55" fill="#afdeae"/>
<rect x="613.70" y="110.91" width="10.88" height="1.55" fill="#e2f2df"/>
<rect x="624.53" y="110.91" width="10.88" height="1.55" fill="#c9e8c7"/>
<rect x="635.36" y="110.91" width="10.88" height="1.55" fill="#c9e8c7"/>
<rect x="646.19" y="110.91" width="10.88" height="1.55" fill="#e3f2e0"/>
<rect x="657.02" y="110.91" width="10.88" height="1.55" fill="#e7f3e3"/>
<rect x="537.90" y="112.41" width="10.88" height="1.55" fill="#f8d7cc"/>
<rect x="548.73" y="112.41" width="10.88" height="1.55" fill="#f8e3d9"/>
<rect x="559.56" y="112.41" width="10.88" height="1.55" fill="#c8e7c6"/>
<rect x="570.39" y="112.41" width="10.88" height="1.55" fill="#b8e1b7"/>
<rect x="581.22" y="112.41" width="10.88" height="1.55" fill="#98d498"/>
<rect x="592.05" y="112.41" width="10.88" height="1.55" fill="#edf6ea"/>
<rect x="602.88" y="112.41" width="10.88" height="1.55" fill="#dff0dc"/>
<rect x="613.70" y="112.41" width="10.88" height="1.55" fill="#daefd7"/>
<rect x="624.53" y="112.41" width="10.88" height="1.55" fill="#ebf5e8"/>
<rect x="635.36" y="112.41" width="10.88" height="1.55" fill="#f8d8cd"/>
<rect x="646.19" y="112.41" width="10.88" height="1.55" fill="#daefd8"/>
<rect x="657.02" y="112.41" width="10.88" height="1.55" fill="#f2f8ee"/>
<rect x="537.90" y="113.91" width="10.88" height="1.55" fill="#f9ece4"/>
<rect x="548.73" y="113.91" width="10.88" height="1.55" fill="#e6f3e3"/>
<rect x="559.56" y="113.91" width="10.88" height="1.55" fill="#c7e7c5"/>
<rect x="570.39" y="113.91" width="10.88" height="1.55" fill="#c8e7c6"/>
<rect x="581.22" y="113.91" width="10.88" height="1.55" fill="#a0d8a0"/>
<rect x="592.05" y="113.91" width="10.88" height="1.55" fill="#e0f1de"/>
<rect x="602.88" y="113.91" width="10.88" height="1.55" fill="#ceeacc"/>
<rect x="613.70" y="113.91" width="10.88" height="1.55" fill="#aeddad"/>
<rect x="624.53" y="113.91" width="10.88" height="1.55" fill="#c7e7c6"/>
<rect x="635.36" y="113.91" width="10.88" height="1.55" fill="#c3e6c2"/>
<rect x="646.19" y="113.91" width="10.88" height="1.55" fill="#ceeacc"/>
<rect x="657.02" y="113.91" width="10.88" height="1.55" fill="#b5e0b4"/>
<rect x="537.90" y="115.42" width="10.88" height="1.55" fill="#f9f2ea"/>
<rect x="548.73" y="115.42" width="10.88" height="1.55" fill="#f8e3d9"/>
<rect x="559.56" y="115.42" width="10.88" height="1.55" fill="#e0f1dd"/>
<rect x="570.39" y="115.42" width="10.88" height="1.55" fill="#e1f1de"/>
<rect x="581.22" y="115.42" width="10.88" height="1.55" fill="#c1e5bf"/>
<rect x="592.05" y="115.42" width="10.88" height="1.55" fill="#f8e0d6"/>
<rect x="602.88" y="115.42" width="10.88" height="1.55" fill="#f9ece3"/>
<rect x="613.70" y="115.42" width="10.88" height="1.55" fill="#c9e8c7"/>
<rect x="624.53" y="115.42" width="10.88" height="1.55" fill="#e9f5e6"/>
<rect x="635.36" y="115.42" width="10.88" height="1.55" fill="#f7c2b5"/>
<rect x="646.19" y="115.42" width="10.88" height="1.55" fill="#eef6ea"/>
<rect x="657.02" y="115.42" width="10.88" height="1.55" fill="#cce9ca"/>
<rect x="537.90" y="116.92" width="10.88" height="1.55" fill="#e5f3e1"/>
<rect x="548.73" y="116.92" width="10.88" height="1.55" fill="#f7cfc4"/>
<rect x="559.56" y="116.92" width="10.88" height="1.55" fill="#f8e7de"/>
<rect x="570.39" y="116.92" width="10.88" height="1.55" fill="#f8dcd2"/>
<rect x="581.22" y="116.92" width="10.88" height="1.55" fill="#96d497"/>
<rect x="592.05" y="116.92" width="10.88" height="1.55" fill="#f9ece3"/>
<rect x="602.88" y="116.92" width="10.88" height="1.55" fill="#e6f3e3"/>
<rect x="613.70" y="116.92" width="10.88" height="1.55" fill="#b5e0b4"/>
<rect x="624.53" y="116.92" width="10.88" height="1.55" fill="#ecf6e9"/>
<rect x="635.36" y="116.92" width="10.88" height="1.55" fill="#f7d1c6"/>
<rect x="646.19" y="116.92" width="10.88" height="1.55" fill="#e0f1dd"/>
<rect x="657.02" y="116.92" width="10.88" height="1.55" fill="#ddf0da"/>
<rect x="537.90" y="118.42" width="10.88" height="1.55" fill="#dcefd9"/>
<rect x="548.73" y="118.42" width="10.88" height="1.55" fill="#f6baad"/>
<rect x="559.56" y="118.42" width="10.88" height="1.55" fill="#ddf0da"/>
<rect x="570.39" y="118.42" width="10.88" height="1.55" fill="#eaf5e7"/>
<rect x="581.22" y="118.42" width="10.88" height="1.55" fill="#a8dba7"/>
<rect x="592.05" y="118.42" width="10.88" height="1.55" fill="#cce9ca"/>
<rect x="602.88" y="118.42" width="10.88" height="1.55" fill="#b9e2b8"/>
<rect x="613.70" y="118.42" width="10.88" height="1.55" fill="#abdcaa"/>
<rect x="624.53" y="118.42" width="10.88" height="1.55" fill="#d6edd3"/>
<rect x="635.36" y="118.42" width="10.88" height="1.55" fill="#f9f3eb"/>
<rect x="646.19" y="118.42" width="10.88" height="1.55" fill="#e2f2df"/>
<rect x="657.02" y="118.42" width="10.88" height="1.55" fill="#c1e5bf"/>
<rect x="537.90" y="119.93" width="10.88" height="1.55" fill="#f8e2d8"/>
<rect x="548.73" y="119.93" width="10.88" height="1.55" fill="#f7d1c6"/>
<rect x="559.56" y="119.93" width="10.88" height="1.55" fill="#f5f9f1"/>
<rect x="570.39" y="119.93" width="10.88" height="1.55" fill="#f0f7ed"/>
<rect x="581.22" y="119.93" width="10.88" height="1.55" fill="#e9f5e6"/>
<rect x="592.05" y="119.93" width="10.88" height="1.55" fill="#edf6e9"/>
<rect x="602.88" y="119.93" width="10.88" height="1.55" fill="#ddf0da"/>
<rect x="613.70" y="119.93" width="10.88" height="1.55" fill="#c5e6c4"/>
<rect x="624.53" y="119.93" width="10.88" height="1.55" fill="#e5f3e1"/>
<rect x="635.36" y="119.93" width="10.88" height="1.55" fill="#f7d2c7"/>
<rect x="646.19" y="119.93" width="10.88" height="1.55" fill="#f5f9f1"/>
<rect x="657.02" y="119.93" width="10.88" height="1.55" fill="#f8e7de"/>
<rect x="537.90" y="121.43" width="10.88" height="1.55" fill="#cce9ca"/>
<rect x="548.73" y="121.43" width="10.88" height="1.55" fill="#f5f9f1"/>
<rect x="559.56" y="121.43" width="10.88" height="1.55" fill="#f2f8ee"/>
<rect x="570.39" y="121.43" width="10.88" height="1.55" fill="#f9ede4"/>
<rect x="581.22" y="121.43" width="10.88" height="1.55" fill="#a3d9a3"/>
<rect x="592.05" y="121.43" width="10.88" height="1.55" fill="#ebf5e7"/>
<rect x="602.88" y="121.43" width="10.88" height="1.55" fill="#d0ebce"/>
<rect x="613.70" y="121.43" width="10.88" height="1.55" fill="#c6e7c4"/>
<rect x="624.53" y="121.43" width="10.88" height="1.55" fill="#d1ebcf"/>
<rect x="635.36" y="121.43" width="10.88" height="1.55" fill="#f9ede5"/>
<rect x="646.19" y="121.43" width="10.88" height="1.55" fill="#d9eed7"/>
<rect x="657.02" y="121.43" width="10.88" height="1.55" fill="#f3f8ef"/>
<rect x="537.90" y="122.93" width="10.88" height="1.55" fill="#ceeacc"/>
<rect x="548.73" y="122.93" width="10.88" height="1.55" fill="#ebf5e8"/>
<rect x="559.56" y="122.93" width="10.88" height="1.55" fill="#e4f3e1"/>
<rect x="570.39" y="122.93" width="10.88" height="1.55" fill="#c6e7c4"/>
<rect x="581.22" y="122.93" width="10.88" height="1.55" fill="#aeddad"/>
<rect x="592.05" y="122.93" width="10.88" height="1.55" fill="#edf6ea"/>
<rect x="602.88" y="122.93" width="10.88" height="1.55" fill="#c8e7c6"/>
<rect x="613.70" y="122.93" width="10.88" height="1.55" fill="#c5e6c3"/>
<rect x="624.53" y="122.93" width="10.88" height="1.55" fill="#b2dfb1"/>
<rect x="635.36" y="122.93" width="10.88" height="1.55" fill="#f7ccc0"/>
<rect x="646.19" y="122.93" width="10.88" height="1.55" fill="#f8e7de"/>
<rect x="657.02" y="122.93" width="10.88" height="1.55" fill="#dcefd9"/>
<rect x="537.90" y="124.44" width="10.88" height="1.55" fill="#d1ebcf"/>
<rect x="548.73" y="124.44" width="10.88" height="1.55" fill="#f8e8df"/>
<rect x="559.56" y="124.44" width="10.88" height="1.55" fill="#dff0dc"/>
<rect x="570.39" y="124.44" width="10.88" height="1.55" fill="#d8eed6"/>
<rect x="581.22" y="124.44" width="10.88" height="1.55" fill="#d0ebce"/>
<rect x="592.05" y="124.44" width="10.88" height="1.55" fill="#eef6ea"/>
<rect x="602.88" y="124.44" width="10.88" height="1.55" fill="#d4ecd2"/>
<rect x="613.70" y="124.44" width="10.88" height="1.55" fill="#9ed79e"/>
<rect x="624.53" y="124.44" width="10.88" height="1.55" fill="#c6e7c4"/>
<rect x="635.36" y="124.44" width="10.88" height="1.55" fill="#f8d6cb"/>
<rect x="646.19" y="124.44" width="10.88" height="1.55" fill="#bce2ba"/>
<rect x="657.02" y="124.44" width="10.88" height="1.55" fill="#f2f8ee"/>
<rect x="537.90" y="125.94" width="10.88" height="1.55" fill="#f7c2b5"/>
<rect x="548.73" y="125.94" width="10.88" height="1.55" fill="#f9ebe2"/>
<rect x="559.56" y="125.94" width="10.88" height="1.55" fill="#eff7eb"/>
<rect x="570.39" y="125.94" width="10.88" height="1.55" fill="#f7c3b7"/>
<rect x="581.22" y="125.94" width="10.88" height="1.55" fill="#ecf6e9"/>
<rect x="592.05" y="125.94" width="10.88" height="1.55" fill="#f7cabf"/>
<rect x="602.88" y="125.94" width="10.88" height="1.55" fill="#f8e2d8"/>
<rect x="613.70" y="125.94" width="10.88" height="1.55" fill="#ddf0da"/>
<rect x="624.53" y="125.94" width="10.88" height="1.55" fill="#dff0dc"/>
<rect x="635.36" y="125.94" width="10.88" height="1.55" fill="#f9efe6"/>
<rect x="646.19" y="125.94" width="10.88" height="1.55" fill="#f8ded4"/>
<rect x="657.02" y="125.94" width="10.88" height="1.55" fill="#f6b4a7"/>
<rect x="537.90" y="127.44" width="10.88" height="1.55" fill="#e3f2e0"/>
<rect x="548.73" y="127.44" width="10.88" height="1.55" fill="#e6f3e3"/>
<rect x="559.56" y="127.44" width="10.88" height="1.55" fill="#c3e6c2"/>
<rect x="570.39" y="127.44" width="10.88" height="1.55" fill="#bce3bb"/>
<rect x="581.22" y="127.44" width="10.88" height="1.55" fill="#a3d9a2"/>
<rect x="592.05" y="127.44" width="10.88" height="1.55" fill="#9bd69c"/>
<rect x="602.88" y="127.44" width="10.88" height="1.55" fill="#cce9ca"/>
<rect x="613.70" y="127.44" width="10.88" height="1.55" fill="#aeddad"/>
<rect x="624.53" y="127.44" width="10.88" height="1.55" fill="#d5edd3"/>
<rect x="635.36" y="127.44" width="10.88" height="1.55" fill="#f8d9ce"/>
<rect x="646.19" y="127.44" width="10.88" height="1.55" fill="#f6faf2"/>
<rect x="657.02" y="127.44" width="10.88" height="1.55" fill="#cce9ca"/>
<rect x="537.90" y="128.95" width="10.88" height="1.55" fill="#f4f9f0"/>
<rect x="548.73" y="128.95" width="10.88" height="1.55" fill="#f1f8ed"/>
<rect x="559.56" y="128.95" width="10.88" height="1.55" fill="#cae8c8"/>
<rect x="570.39" y="128.95" width="10.88" height="1.55" fill="#f3f8ef"/>
<rect x="581.22" y="128.95" width="10.88" height="1.55" fill="#f8ded4"/>
<rect x="592.05" y="128.95" width="10.88" height="1.55" fill="#acdcab"/>
<rect x="602.88" y="128.95" width="10.88" height="1.55" fill="#cce9ca"/>
<rect x="613.70" y="128.95" width="10.88" height="1.55" fill="#c0e4bf"/>
<rect x="624.53" y="128.95" width="10.88" height="1.55" fill="#f8e5dc"/>
<rect x="635.36" y="128.95" width="10.88" height="1.55" fill="#f7c6ba"/>
<rect x="646.19" y="128.95" width="10.88" height="1.55" fill="#e0f1dd"/>
<rect x="657.02" y="128.95" width="10.88" height="1.55" fill="#f9ede4"/>
<rect x="537.90" y="130.45" width="10.88" height="1.55" fill="#f7d0c5"/>
<rect x="548.73" y="130.45" width="10.88" height="1.55" fill="#e7f4e4"/>
<rect x="559.56" y="130.45" width="10.88" height="1.55" fill="#b8e1b7"/>
<rect x="570.39" y="130.45" width="10.88" height="1.55" fill="#d8eed5"/>
<rect x="581.22" y="130.45" width="10.88" height="1.55" fill="#b5e0b4"/>
<rect x="592.05" y="130.45" width="10.88" height="1.55" fill="#c4e6c2"/>
<rect x="602.88" y="130.45" width="10.88" height="1.55" fill="#aeddae"/>
<rect x="613.70" y="130.45" width="10.88" height="1.55" fill="#f9f3eb"/>
<rect x="624.53" y="130.45" width="10.88" height="1.55" fill="#c7e7c6"/>
<rect x="635.36" y="130.45" width="10.88" height="1.55" fill="#dff0dc"/>
<rect x="646.19" y="130.45" width="10.88" height="1.55" fill="#c5e6c3"/>
<rect x="657.02" y="130.45" width="10.88" height="1.55" fill="#a9dba8"/>
<rect x="537.90" y="131.95" width="10.88" height="1.55" fill="#cae8c8"/>
<rect x="548.73" y="131.95" width="10.88" height="1.55" fill="#ddf0da"/>
<rect x="559.56" y="131.95" width="10.88" height="1.55" fill="#b0deaf"/>
<rect x="570.39" y="131.95" width="10.88" height="1.55" fill="#c7e7c5"/>
<rect x="581.22" y="131.95" width="10.88" height="1.55" fill="#aadba9"/>
<rect x="592.05" y="131.95" width="10.88" height="1.55" fill="#b8e1b6"/>
<rect x="602.88" y="131.95" width="10.88" height="1.55" fill="#a4d9a3"/>
<rect x="613.70" y="131.95" width="10.88" height="1.55" fill="#bee3bc"/>
<rect x="624.53" y="131.95" width="10.88" height="1.55" fill="#acdcab"/>
<rect x="635.36" y="131.95" width="10.88" height="1.55" fill="#cde9cb"/>
<rect x="646.19" y="131.95" width="10.88" height="1.55" fill="#afdeae"/>
<rect x="657.02" y="131.95" width="10.88" height="1.55" fill="#a1d8a1"/>
<rect x="537.90" y="133.46" width="10.88" height="1.55" fill="#f9f2e9"/>
<rect x="548.73" y="133.46" width="10.88" height="1.55" fill="#cfeacd"/>
<rect x="559.56" y="133.46" width="10.88" height="1.55" fill="#b3dfb2"/>
<rect x="570.39" y="133.46" width="10.88" height="1.55" fill="#cdeacb"/>
<rect x="581.22" y="133.46" width="10.88" height="1.55" fill="#a2d8a2"/>
<rect x="592.05" y="133.46" width="10.88" height="1.55" fill="#c5e6c3"/>
<rect x="602.88" y="133.46" width="10.88" height="1.55" fill="#9ad59a"/>
<rect x="613.70" y="133.46" width="10.88" height="1.55" fill="#a4d9a3"/>
<rect x="624.53" y="133.46" width="10.88" height="1.55" fill="#c3e5c1"/>
<rect x="635.36" y="133.46" width="10.88" height="1.55" fill="#c5e6c3"/>
<rect x="646.19" y="133.46" width="10.88" height="1.55" fill="#b2dfb1"/>
<rect x="657.02" y="133.46" width="10.88" height="1.55" fill="#adddac"/>
<rect x="537.90" y="134.96" width="10.88" height="1.55" fill="#afdeae"/>
<rect x="548.73" y="134.96" width="10.88" height="1.55" fill="#cde9cb"/>
<rect x="559.56" y="134.96" width="10.88" height="1.55" fill="#c0e4be"/>
<rect x="570.39" y="134.96" width="10.88" height="1.55" fill="#a6daa6"/>
<rect x="581.22" y="134.96" width="10.88" height="1.55" fill="#90d190"/>
<rect x="592.05" y="134.96" width="10.88" height="1.55" fill="#abdcab"/>
<rect x="602.88" y="134.96" width="10.88" height="1.55" fill="#71c573"/>
<rect x="613.70" y="134.96" width="10.88" height="1.55" fill="#9bd69b"/>
<rect x="624.53" y="134.96" width="10.88" height="1.55" fill="#9cd69d"/>
<rect x="635.36" y="134.96" width="10.88" height="1.55" fill="#cbe9c9"/>
<rect x="646.19" y="134.96" width="10.88" height="1.55" fill="#96d396"/>
<rect x="657.02" y="134.96" width="10.88" height="1.55" fill="#b1deb0"/>
<rect x="537.90" y="136.46" width="10.88" height="1.55" fill="#f7d4c9"/>
<rect x="548.73" y="136.46" width="10.88" height="1.55" fill="#d6edd3"/>
<rect x="559.56" y="136.46" width="10.88" height="1.55" fill="#98d498"/>
<rect x="570.39" y="136.46" width="10.88" height="1.55" fill="#daeed7"/>
<rect x="581.22" y="136.46" width="10.88" height="1.55" fill="#9bd69b"/>
<rect x="592.05" y="136.46" width="10.88" height="1.55" fill="#b5e0b4"/>
<rect x="602.88" y="136.46" width="10.88" height="1.55" fill="#99d599"/>
<rect x="613.70" y="136.46" width="10.88" height="1.55" fill="#bae2b9"/>
<rect x="624.53" y="136.46" width="10.88" height="1.55" fill="#c4e6c2"/>
<rect x="635.36" y="136.46" width="10.88" height="1.55" fill="#f9f1e9"/>
<rect x="646.19" y="136.46" width="10.88" height="1.55" fill="#e0f1dd"/>
<rect x="657.02" y="136.46" width="10.88" height="1.55" fill="#a1d8a1"/>
<rect x="537.90" y="137.97" width="10.88" height="1.55" fill="#f6b9ac"/>
<rect x="548.73" y="137.97" width="10.88" height="1.55" fill="#eaf5e6"/>
<rect x="559.56" y="137.97" width="10.88" height="1.55" fill="#b4dfb3"/>
<rect x="570.39" y="137.97" width="10.88" height="1.55" fill="#dcefd9"/>
<rect x="581.22" y="137.97" width="10.88" height="1.55" fill="#b0deaf"/>
<rect x="592.05" y="137.97" width="10.88" height="1.55" fill="#c9e8c7"/>
<rect x="602.88" y="137.97" width="10.88" height="1.55" fill="#abdcab"/>
<rect x="613.70" y="137.97" width="10.88" height="1.55" fill="#c9e8c7"/>
<rect x="624.53" y="137.97" width="10.88" height="1.55" fill="#f9ede4"/>
<rect x="635.36" y="137.97" width="10.88" height="1.55" fill="#cae8c8"/>
<rect x="646.19" y="137.97" width="10.88" height="1.55" fill="#bee3bc"/>
<rect x="657.02" y="137.97" width="10.88" height="1.55" fill="#95d396"/>
<rect x="537.90" y="139.47" width="10.88" height="1.55" fill="#e2f2df"/>
<rect x="548.73" y="139.47" width="10.88" height="1.55" fill="#ceeacc"/>
<rect x="559.56" y="139.47" width="10.88" height="1.55" fill="#d5ecd2"/>
<rect x="570.39" y="139.47" width="10.88" height="1.55" fill="#a2d8a2"/>
<rect x="581.22" y="139.47" width="10.88" height="1.55" fill="#a3d9a3"/>
<rect x="592.05" y="139.47" width="10.88" height="1.55" fill="#d1ebcf"/>
<rect x="602.88" y="139.47" width="10.88" height="1.55" fill="#c8e8c7"/>
<rect x="613.70" y="139.47" width="10.88" height="1.55" fill="#ceeacb"/>
<rect x="624.53" y="139.47" width="10.88" height="1.55" fill="#cdeacb"/>
<rect x="635.36" y="139.47" width="10.88" height="1.55" fill="#c9e8c7"/>
<rect x="646.19" y="139.47" width="10.88" height="1.55" fill="#b4e0b3"/>
<rect x="657.02" y="139.47" width="10.88" height="1.55" fill="#adddac"/>
<rect x="537.90" y="140.97" width="10.88" height="1.55" fill="#f2f8ee"/>
<rect x="548.73" y="140.97" width="10.88" height="1.55" fill="#f4f9f0"/>
<rect x="559.56" y="140.97" width="10.88" height="1.55" fill="#f9f2ea"/>
<rect x="570.39" y="140.97" width="10.88" height="1.55" fill="#d4ecd1"/>
<rect x="581.22" y="140.97" width="10.88" height="1.55" fill="#c7e7c5"/>
<rect x="592.05" y="140.97" width="10.88" height="1.55" fill="#e2f2df"/>
<rect x="602.88" y="140.97" width="10.88" height="1.55" fill="#d1ebcf"/>
<rect x="613.70" y="140.97" width="10.88" height="1.55" fill="#dbefd9"/>
<rect x="624.53" y="140.97" width="10.88" height="1.55" fill="#f8d6cc"/>
<rect x="635.36" y="140.97" width="10.88" height="1.55" fill="#f9f4ec"/>
<rect x="646.19" y="140.97" width="10.88" height="1.55" fill="#ceeacc"/>
<rect x="657.02" y="140.97" width="10.88" height="1.55" fill="#e5f3e2"/>
<rect x="537.90" y="142.48" width="10.88" height="1.55" fill="#f9f2ea"/>
<rect x="548.73" y="142.48" width="10.88" height="1.55" fill="#f9f0e8"/>
<rect x="559.56" y="142.48" width="10.88" height="1.55" fill="#f3f9f0"/>
<rect x="570.39" y="142.48" width="10.88" height="1.55" fill="#f9efe7"/>
<rect x="581.22" y="142.48" width="10.88" height="1.55" fill="#f7c4b7"/>
<rect x="592.05" y="142.48" width="10.88" height="1.55" fill="#f9eae2"/>
<rect x="602.88" y="142.48" width="10.88" height="1.55" fill="#e7f4e4"/>
<rect x="613.70" y="142.48" width="10.88" height="1.55" fill="#f8e1d7"/>
<rect x="624.53" y="142.48" width="10.88" height="1.55" fill="#e7f4e4"/>
<rect x="635.36" y="142.48" width="10.88" height="1.55" fill="#f9eee6"/>
<rect x="646.19" y="142.48" width="10.88" height="1.55" fill="#f3f8ef"/>
<rect x="657.02" y="142.48" width="10.88" height="1.55" fill="#f7c8bc"/>
<rect x="537.90" y="143.98" width="10.88" height="1.55" fill="#cfeacd"/>
<rect x="548.73" y="143.98" width="10.88" height="1.55" fill="#daefd7"/>
<rect x="559.56" y="143.98" width="10.88" height="1.55" fill="#bae2b8"/>
<rect x="570.39" y="143.98" width="10.88" height="1.55" fill="#e7f4e3"/>
<rect x="581.22" y="143.98" width="10.88" height="1.55" fill="#b4e0b3"/>
<rect x="592.05" y="143.98" width="10.88" height="1.55" fill="#aeddad"/>
<rect x="602.88" y="143.98" width="10.88" height="1.55" fill="#a9dba8"/>
<rect x="613.70" y="143.98" width="10.88" height="1.55" fill="#a3d9a3"/>
<rect x="624.53" y="143.98" width="10.88" height="1.55" fill="#d4ecd1"/>
<rect x="635.36" y="143.98" width="10.88" height="1.55" fill="#a8dba7"/>
<rect x="646.19" y="143.98" width="10.88" height="1.55" fill="#a9dba9"/>
<rect x="657.02" y="143.98" width="10.88" height="1.55" fill="#9ad59a"/>
<rect x="537.90" y="145.48" width="10.88" height="1.55" fill="#afdeaf"/>
<rect x="548.73" y="145.48" width="10.88" height="1.55" fill="#cce9ca"/>
<rect x="559.56" y="145.48" width="10.88" height="1.55" fill="#c2e5c0"/>
<rect x="570.39" y="145.48" width="10.88" height="1.55" fill="#d6edd4"/>
<rect x="581.22" y="145.48" width="10.88" height="1.55" fill="#d0ebce"/>
<rect x="592.05" y="145.48" width="10.88" height="1.55" fill="#bce3bb"/>
<rect x="602.88" y="145.48" width="10.88" height="1.55" fill="#b3dfb2"/>
<rect x="613.70" y="145.48" width="10.88" height="1.55" fill="#cdeacb"/>
<rect x="624.53" y="145.48" width="10.88" height="1.55" fill="#d5ecd2"/>
<rect x="635.36" y="145.48" width="10.88" height="1.55" fill="#c1e5c0"/>
<rect x="646.19" y="145.48" width="10.88" height="1.55" fill="#a2d8a2"/>
<rect x="657.02" y="145.48" width="10.88" height="1.55" fill="#a4d9a4"/>
<rect x="537.90" y="146.99" width="10.88" height="1.55" fill="#f7d5ca"/>
<rect x="548.73" y="146.99" width="10.88" height="1.55" fill="#dcefd9"/>
<rect x="559.56" y="146.99" width="10.88" height="1.55" fill="#dcefd9"/>
<rect x="570.39" y="146.99" width="10.88" height="1.55" fill="#f8e3d9"/>
<rect x="581.22" y="146.99" width="10.88" height="1.55" fill="#f9f1e9"/>
<rect x="592.05" y="146.99" width="10.88" height="1.55" fill="#cce9ca"/>
<rect x="602.88" y="146.99" width="10.88" height="1.55" fill="#d4ecd2"/>
<rect x="613.70" y="146.99" width="10.88" height="1.55" fill="#f8e3da"/>
<rect x="624.53" y="146.99" width="10.88" height="1.55" fill="#f7ccc0"/>
<rect x="635.36" y="146.99" width="10.88" height="1.55" fill="#f7d2c7"/>
<rect x="646.19" y="146.99" width="10.88" height="1.55" fill="#c2e5c1"/>
<rect x="657.02" y="146.99" width="10.88" height="1.55" fill="#daefd8"/>
<rect x="537.90" y="148.49" width="10.88" height="1.55" fill="#e2f2df"/>
<rect x="548.73" y="148.49" width="10.88" height="1.55" fill="#cde9cb"/>
<rect x="559.56" y="148.49" width="10.88" height="1.55" fill="#bce3bb"/>
<rect x="570.39" y="148.49" width="10.88" height="1.55" fill="#daefd8"/>
<rect x="581.22" y="148.49" width="10.88" height="1.55" fill="#ecf6e9"/>
<rect x="592.05" y="148.49" width="10.88" height="1.55" fill="#d4ecd2"/>
<rect x="602.88" y="148.49" width="10.88" height="1.55" fill="#cfeacc"/>
<rect x="613.70" y="148.49" width="10.88" height="1.55" fill="#cfeacc"/>
<rect x="624.53" y="148.49" width="10.88" height="1.55" fill="#bfe4be"/>
<rect x="635.36" y="148.49" width="10.88" height="1.55" fill="#d6edd3"/>
<rect x="646.19" y="148.49" width="10.88" height="1.55" fill="#e0f1dd"/>
<rect x="657.02" y="148.49" width="10.88" height="1.55" fill="#cfeacc"/>
<rect x="537.90" y="149.99" width="10.88" height="1.55" fill="#f8d8cd"/>
<rect x="548.73" y="149.99" width="10.88" height="1.55" fill="#f8e9e0"/>
<rect x="559.56" y="149.99" width="10.88" height="1.55" fill="#c5e6c4"/>
<rect x="570.39" y="149.99" width="10.88" height="1.55" fill="#f8ded4"/>
<rect x="581.22" y="149.99" width="10.88" height="1.55" fill="#c3e6c2"/>
<rect x="592.05" y="149.99" width="10.88" height="1.55" fill="#f8dbd1"/>
<rect x="602.88" y="149.99" width="10.88" height="1.55" fill="#daeed7"/>
<rect x="613.70" y="149.99" width="10.88" height="1.55" fill="#f1f8ed"/>
<rect x="624.53" y="149.99" width="10.88" height="1.55" fill="#d3ecd0"/>
<rect x="635.36" y="149.99" width="10.88" height="1.55" fill="#f3f9f0"/>
<rect x="646.19" y="149.99" width="10.88" height="1.55" fill="#d3ecd1"/>
<rect x="657.02" y="149.99" width="10.88" height="1.55" fill="#f9f0e8"/>
<rect x="537.90" y="151.50" width="10.88" height="1.55" fill="#80cb82"/>
<rect x="548.73" y="151.50" width="10.88" height="1.55" fill="#e7f3e3"/>
<rect x="559.56" y="151.50" width="10.88" height="1.55" fill="#f6beb1"/>
<rect x="570.39" y="151.50" width="10.88" height="1.55" fill="#f1f8ed"/>
<rect x="581.22" y="151.50" width="10.88" height="1.55" fill="#cdeacb"/>
<rect x="592.05" y="151.50" width="10.88" height="1.55" fill="#f7c5b9"/>
<rect x="602.88" y="151.50" width="10.88" height="1.55" fill="#f9f1e8"/>
<rect x="613.70" y="151.50" width="10.88" height="1.55" fill="#f8d9ce"/>
<rect x="624.53" y="151.50" width="10.88" height="1.55" fill="#d8eed6"/>
<rect x="635.36" y="151.50" width="10.88" height="1.55" fill="#f6b4a6"/>
<rect x="646.19" y="151.50" width="10.88" height="1.55" fill="#f59e8e"/>
<rect x="657.02" y="151.50" width="10.88" height="1.55" fill="#f6b4a7"/>
<rect x="537.90" y="153.00" width="10.88" height="1.55" fill="#a5daa5"/>
<rect x="548.73" y="153.00" width="10.88" height="1.55" fill="#f6faf2"/>
<rect x="559.56" y="153.00" width="10.88" height="1.55" fill="#f6b2a4"/>
<rect x="570.39" y="153.00" width="10.88" height="1.55" fill="#f7c6b9"/>
<rect x="581.22" y="153.00" width="10.88" height="1.55" fill="#f5f9f1"/>
<rect x="592.05" y="153.00" width="10.88" height="1.55" fill="#f6aea0"/>
<rect x="602.88" y="153.00" width="10.88" height="1.55" fill="#f8e7de"/>
<rect x="613.70" y="153.00" width="10.88" height="1.55" fill="#f7d2c7"/>
<rect x="624.53" y="153.00" width="10.88" height="1.55" fill="#d2ebd0"/>
<rect x="635.36" y="153.00" width="10.88" height="1.55" fill="#f6b2a4"/>
<rect x="646.19" y="153.00" width="10.88" height="1.55" fill="#f6b0a2"/>
<rect x="657.02" y="153.00" width="10.88" height="1.55" fill="#f59e8f"/>
<rect x="537.90" y="154.50" width="10.88" height="1.55" fill="#9fd79f"/>
<rect x="548.73" y="154.50" width="10.88" height="1.55" fill="#f6b9ac"/>
<rect x="559.56" y="154.50" width="10.88" height="1.55" fill="#f6baad"/>
<rect x="570.39" y="154.50" width="10.88" height="1.55" fill="#e5f3e2"/>
<rect x="581.22" y="154.50" width="10.88" height="1.55" fill="#eff7eb"/>
<rect x="592.05" y="154.50" width="10.88" height="1.55" fill="#f7d6cb"/>
<rect x="602.88" y="154.50" width="10.88" height="1.55" fill="#f6c1b5"/>
<rect x="613.70" y="154.50" width="10.88" height="1.55" fill="#f6b1a3"/>
<rect x="624.53" y="154.50" width="10.88" height="1.55" fill="#f9ece3"/>
<rect x="635.36" y="154.50" width="10.88" height="1.55" fill="#f6bfb3"/>
<rect x="646.19" y="154.50" width="10.88" height="1.55" fill="#f59f90"/>
<rect x="657.02" y="154.50" width="10.88" height="1.55" fill="#f49281"/>
<rect x="537.90" y="156.01" width="10.88" height="1.55" fill="#8cd08d"/>
<rect x="548.73" y="156.01" width="10.88" height="1.55" fill="#f8dbd0"/>
<rect x="559.56" y="156.01" width="10.88" height="1.55" fill="#f6c1b5"/>
<rect x="570.39" y="156.01" width="10.88" height="1.55" fill="#e9f4e5"/>
<rect x="581.22" y="156.01" width="10.88" height="1.55" fill="#bde3bc"/>
<rect x="592.05" y="156.01" width="10.88" height="1.55" fill="#e7f4e4"/>
<rect x="602.88" y="156.01" width="10.88" height="1.55" fill="#e1f1de"/>
<rect x="613.70" y="156.01" width="10.88" height="1.55" fill="#f7d5ca"/>
<rect x="624.53" y="156.01" width="10.88" height="1.55" fill="#f1f8ed"/>
<rect x="635.36" y="156.01" width="10.88" height="1.55" fill="#f5aa9b"/>
<rect x="646.19" y="156.01" width="10.88" height="1.55" fill="#f5a293"/>
<rect x="657.02" y="156.01" width="10.88" height="1.55" fill="#f59c8d"/>
<rect x="537.90" y="157.51" width="10.88" height="1.55" fill="#f49786"/>
<rect x="548.73" y="157.51" width="10.88" height="1.55" fill="#f7c7bb"/>
<rect x="559.56" y="157.51" width="10.88" height="1.55" fill="#f8e8df"/>
<rect x="570.39" y="157.51" width="10.88" height="1.55" fill="#f6b9ac"/>
<rect x="581.22" y="157.51" width="10.88" height="1.55" fill="#d0ebce"/>
<rect x="592.05" y="157.51" width="10.88" height="1.55" fill="#e9f4e5"/>
<rect x="602.88" y="157.51" width="10.88" height="1.55" fill="#f6b9ac"/>
<rect x="613.70" y="157.51" width="10.88" height="1.55" fill="#f9ede5"/>
<rect x="624.53" y="157.51" width="10.88" height="1.55" fill="#dcefd9"/>
<rect x="635.36" y="157.51" width="10.88" height="1.55" fill="#f7d3c9"/>
<rect x="646.19" y="157.51" width="10.88" height="1.55" fill="#f37562"/>
<rect x="657.02" y="157.51" width="10.88" height="1.55" fill="#f37f6d"/>
<rect x="537.90" y="159.01" width="10.88" height="1.55" fill="#f8e8df"/>
<rect x="548.73" y="159.01" width="10.88" height="1.55" fill="#f8e7de"/>
<rect x="559.56" y="159.01" width="10.88" height="1.55" fill="#f7c9be"/>
<rect x="570.39" y="159.01" width="10.88" height="1.55" fill="#f8dfd5"/>
<rect x="581.22" y="159.01" width="10.88" height="1.55" fill="#bee3bc"/>
<rect x="592.05" y="159.01" width="10.88" height="1.55" fill="#d6edd4"/>
<rect x="602.88" y="159.01" width="10.88" height="1.55" fill="#f9eae2"/>
<rect x="613.70" y="159.01" width="10.88" height="1.55" fill="#e9f5e6"/>
<rect x="624.53" y="159.01" width="10.88" height="1.55" fill="#c2e5c0"/>
<rect x="635.36" y="159.01" width="10.88" height="1.55" fill="#f6c0b3"/>
<rect x="646.19" y="159.01" width="10.88" height="1.55" fill="#f14f38"/>
<rect x="657.02" y="159.01" width="10.88" height="1.55" fill="#f48e7d"/>
<rect x="537.90" y="160.52" width="10.88" height="1.55" fill="#f8e4db"/>
<rect x="548.73" y="160.52" width="10.88" height="1.55" fill="#f9ece3"/>
<rect x="559.56" y="160.52" width="10.88" height="1.55" fill="#f7c4b8"/>
<rect x="570.39" y="160.52" width="10.88" height="1.55" fill="#f9f2ea"/>
<rect x="581.22" y="160.52" width="10.88" height="1.55" fill="#b5e0b4"/>
<rect x="592.05" y="160.52" width="10.88" height="1.55" fill="#b4e0b3"/>
<rect x="602.88" y="160.52" width="10.88" height="1.55" fill="#f7c9bd"/>
<rect x="613.70" y="160.52" width="10.88" height="1.55" fill="#d6edd3"/>
<rect x="624.53" y="160.52" width="10.88" height="1.55" fill="#dbefd9"/>
<rect x="635.36" y="160.52" width="10.88" height="1.55" fill="#f5a495"/>
<rect x="646.19" y="160.52" width="10.88" height="1.55" fill="#f48876"/>
<rect x="657.02" y="160.52" width="10.88" height="1.55" fill="#f48573"/>
<rect x="537.90" y="162.02" width="10.88" height="1.55" fill="#f6c1b4"/>
<rect x="548.73" y="162.02" width="10.88" height="1.55" fill="#f7faf3"/>
<rect x="559.56" y="162.02" width="10.88" height="1.55" fill="#f8e7de"/>
<rect x="570.39" y="162.02" width="10.88" height="1.55" fill="#f6bfb2"/>
<rect x="581.22" y="162.02" width="10.88" height="1.55" fill="#cdeacb"/>
<rect x="592.05" y="162.02" width="10.88" height="1.55" fill="#d0eacd"/>
<rect x="602.88" y="162.02" width="10.88" height="1.55" fill="#f6c0b3"/>
<rect x="613.70" y="162.02" width="10.88" height="1.55" fill="#d5edd3"/>
<rect x="624.53" y="162.02" width="10.88" height="1.55" fill="#b2dfb1"/>
<rect x="635.36" y="162.02" width="10.88" height="1.55" fill="#f5a495"/>
<rect x="646.19" y="162.02" width="10.88" height="1.55" fill="#f59a8b"/>
<rect x="657.02" y="162.02" width="10.88" height="1.55" fill="#f37f6d"/>
<rect x="537.90" y="163.53" width="10.88" height="1.55" fill="#f6b7a9"/>
<rect x="548.73" y="163.53" width="10.88" height="1.55" fill="#f8dfd5"/>
<rect x="559.56" y="163.53" width="10.88" height="1.55" fill="#f6b2a4"/>
<rect x="570.39" y="163.53" width="10.88" height="1.55" fill="#f7d2c7"/>
<rect x="581.22" y="163.53" width="10.88" height="1.55" fill="#f1f8ee"/>
<rect x="592.05" y="163.53" width="10.88" height="1.55" fill="#f7d4c9"/>
<rect x="602.88" y="163.53" width="10.88" height="1.55" fill="#f7c2b5"/>
<rect x="613.70" y="163.53" width="10.88" height="1.55" fill="#f9ebe2"/>
<rect x="624.53" y="163.53" width="10.88" height="1.55" fill="#f7d3c8"/>
<rect x="635.36" y="163.53" width="10.88" height="1.55" fill="#f6b9ac"/>
<rect x="646.19" y="163.53" width="10.88" height="1.55" fill="#f48978"/>
<rect x="657.02" y="163.53" width="10.88" height="1.55" fill="#f6b1a4"/>
<rect x="537.90" y="165.03" width="10.88" height="1.55" fill="#f8e2d9"/>
<rect x="548.73" y="165.03" width="10.88" height="1.55" fill="#eff7eb"/>
<rect x="559.56" y="165.03" width="10.88" height="1.55" fill="#f8e4da"/>
<rect x="570.39" y="165.03" width="10.88" height="1.55" fill="#e5f3e2"/>
<rect x="581.22" y="165.03" width="10.88" height="1.55" fill="#d2ecd0"/>
<rect x="592.05" y="165.03" width="10.88" height="1.55" fill="#f8e9e0"/>
<rect x="602.88" y="165.03" width="10.88" height="1.55" fill="#f8e5dc"/>
<rect x="613.70" y="165.03" width="10.88" height="1.55" fill="#f8e3d9"/>
<rect x="624.53" y="165.03" width="10.88" height="1.55" fill="#c3e6c2"/>
<rect x="635.36" y="165.03" width="10.88" height="1.55" fill="#f7ccc0"/>
<rect x="646.19" y="165.03" width="10.88" height="1.55" fill="#f59a8a"/>
<rect x="657.02" y="165.03" width="10.88" height="1.55" fill="#f8ddd3"/>
<rect x="537.90" y="166.53" width="10.88" height="1.55" fill="#f7cec2"/>
<rect x="548.73" y="166.53" width="10.88" height="1.55" fill="#f8e6dc"/>
<rect x="559.56" y="166.53" width="10.88" height="1.55" fill="#f8e0d7"/>
<rect x="570.39" y="166.53" width="10.88" height="1.55" fill="#f8e5dc"/>
<rect x="581.22" y="166.53" width="10.88" height="1.55" fill="#b6e0b5"/>
<rect x="592.05" y="166.53" width="10.88" height="1.55" fill="#f8e5dc"/>
<rect x="602.88" y="166.53" width="10.88" height="1.55" fill="#f9ede4"/>
<rect x="613.70" y="166.53" width="10.88" height="1.55" fill="#ecf6e9"/>
<rect x="624.53" y="166.53" width="10.88" height="1.55" fill="#f8e5dc"/>
<rect x="635.36" y="166.53" width="10.88" height="1.55" fill="#f6c0b3"/>
<rect x="646.19" y="166.53" width="10.88" height="1.55" fill="#f3816f"/>
<rect x="657.02" y="166.53" width="10.88" height="1.55" fill="#f8d9cf"/>
<rect x="537.90" y="168.04" width="10.88" height="1.55" fill="#f6b2a4"/>
<rect x="548.73" y="168.04" width="10.88" height="1.55" fill="#f7cabe"/>
<rect x="559.56" y="168.04" width="10.88" height="1.55" fill="#f6b7aa"/>
<rect x="570.39" y="168.04" width="10.88" height="1.55" fill="#f6b1a3"/>
<rect x="581.22" y="168.04" width="10.88" height="1.55" fill="#f7d3c8"/>
<rect x="592.05" y="168.04" width="10.88" height="1.55" fill="#f6b7aa"/>
<rect x="602.88" y="168.04" width="10.88" height="1.55" fill="#f6beb2"/>
<rect x="613.70" y="168.04" width="10.88" height="1.55" fill="#f7c3b7"/>
<rect x="624.53" y="168.04" width="10.88" height="1.55" fill="#f7d2c7"/>
<rect x="635.36" y="168.04" width="10.88" height="1.55" fill="#f5a698"/>
<rect x="646.19" y="168.04" width="10.88" height="1.55" fill="#f37764"/>
<rect x="657.02" y="168.04" width="10.88" height="1.55" fill="#f5a091"/>
<rect x="537.90" y="169.54" width="10.88" height="1.55" fill="#f8e6dc"/>
<rect x="548.73" y="169.54" width="10.88" height="1.55" fill="#ebf5e8"/>
<rect x="559.56" y="169.54" width="10.88" height="1.55" fill="#f0f7ec"/>
<rect x="570.39" y="169.54" width="10.88" height="1.55" fill="#f8dbd1"/>
<rect x="581.22" y="169.54" width="10.88" height="1.55" fill="#e6f3e3"/>
<rect x="592.05" y="169.54" width="10.88" height="1.55" fill="#f9ede5"/>
<rect x="602.88" y="169.54" width="10.88" height="1.55" fill="#f6c1b5"/>
<rect x="613.70" y="169.54" width="10.88" height="1.55" fill="#e7f4e4"/>
<rect x="624.53" y="169.54" width="10.88" height="1.55" fill="#f8e9e0"/>
<rect x="635.36" y="169.54" width="10.88" height="1.55" fill="#f8d9cf"/>
<rect x="646.19" y="169.54" width="10.88" height="1.55" fill="#f59b8b"/>
<rect x="657.02" y="169.54" width="10.88" height="1.55" fill="#f7c9bd"/>
<rect x="537.90" y="171.04" width="10.88" height="1.55" fill="#f6b8ab"/>
<rect x="548.73" y="171.04" width="10.88" height="1.55" fill="#f7d2c8"/>
<rect x="559.56" y="171.04" width="10.88" height="1.55" fill="#f59e8e"/>
<rect x="570.39" y="171.04" width="10.88" height="1.55" fill="#f7c4b8"/>
<rect x="581.22" y="171.04" width="10.88" height="1.55" fill="#d1ebce"/>
<rect x="592.05" y="171.04" width="10.88" height="1.55" fill="#f8d9cf"/>
<rect x="602.88" y="171.04" width="10.88" height="1.55" fill="#f6b7aa"/>
<rect x="613.70" y="171.04" width="10.88" height="1.55" fill="#f7d2c7"/>
<rect x="624.53" y="171.04" width="10.88" height="1.55" fill="#f4f9f0"/>
<rect x="635.36" y="171.04" width="10.88" height="1.55" fill="#f0f7ec"/>
<rect x="646.19" y="171.04" width="10.88" height="1.55" fill="#f37561"/>
<rect x="657.02" y="171.04" width="10.88" height="1.55" fill="#f48e7e"/>
<rect x="537.90" y="172.55" width="10.88" height="1.55" fill="#c8e8c6"/>
<rect x="548.73" y="172.55" width="10.88" height="1.55" fill="#e2f2df"/>
<rect x="559.56" y="172.55" width="10.88" height="1.55" fill="#ebf5e7"/>
<rect x="570.39" y="172.55" width="10.88" height="1.55" fill="#e0f1dd"/>
<rect x="581.22" y="172.55" width="10.88" height="1.55" fill="#bce3bb"/>
<rect x="592.05" y="172.55" width="10.88" height="1.55" fill="#d3ecd1"/>
<rect x="602.88" y="172.55" width="10.88" height="1.55" fill="#f1f8ed"/>
<rect x="613.70" y="172.55" width="10.88" height="1.55" fill="#f6faf2"/>
<rect x="624.53" y="172.55" width="10.88" height="1.55" fill="#dff0dc"/>
<rect x="635.36" y="172.55" width="10.88" height="1.55" fill="#dbefd8"/>
<rect x="646.19" y="172.55" width="10.88" height="1.55" fill="#f49382"/>
<rect x="657.02" y="172.55" width="10.88" height="1.55" fill="#f8e0d6"/>
<rect x="537.90" y="174.05" width="10.88" height="1.55" fill="#f7d5ca"/>
<rect x="548.73" y="174.05" width="10.88" height="1.55" fill="#f7d2c7"/>
<rect x="559.56" y="174.05" width="10.88" height="1.55" fill="#f6b1a4"/>
<rect x="570.39" y="174.05" width="10.88" height="1.55" fill="#f6b5a8"/>
<rect x="581.22" y="174.05" width="10.88" height="1.55" fill="#eef6ea"/>
<rect x="592.05" y="174.05" width="10.88" height="1.55" fill="#f7c7bb"/>
<rect x="602.88" y="174.05" width="10.88" height="1.55" fill="#f8ded4"/>
<rect x="613.70" y="174.05" width="10.88" height="1.55" fill="#f7c3b7"/>
<rect x="624.53" y="174.05" width="10.88" height="1.55" fill="#f7cfc4"/>
<rect x="635.36" y="174.05" width="10.88" height="1.55" fill="#f6b9ac"/>
<rect x="646.19" y="174.05" width="10.88" height="1.55" fill="#f48876"/>
<rect x="657.02" y="174.05" width="10.88" height="1.55" fill="#f7cbc0"/>
<rect x="537.90" y="175.55" width="10.88" height="1.55" fill="#f7c5b9"/>
<rect x="548.73" y="175.55" width="10.88" height="1.55" fill="#f4f9f0"/>
<rect x="559.56" y="175.55" width="10.88" height="1.55" fill="#f6b4a6"/>
<rect x="570.39" y="175.55" width="10.88" height="1.55" fill="#f7cbc0"/>
<rect x="581.22" y="175.55" width="10.88" height="1.55" fill="#f8d7cd"/>
<rect x="592.05" y="175.55" width="10.88" height="1.55" fill="#f5aa9c"/>
<rect x="602.88" y="175.55" width="10.88" height="1.55" fill="#f7c7bb"/>
<rect x="613.70" y="175.55" width="10.88" height="1.55" fill="#eef7eb"/>
<rect x="624.53" y="175.55" width="10.88" height="1.55" fill="#f9f1e9"/>
<rect x="635.36" y="175.55" width="10.88" height="1.55" fill="#f8d8ce"/>
<rect x="646.19" y="175.55" width="10.88" height="1.55" fill="#f6b2a5"/>
<rect x="657.02" y="175.55" width="10.88" height="1.55" fill="#f6aea0"/>
<rect x="537.90" y="177.06" width="10.88" height="1.55" fill="#f5a899"/>
<rect x="548.73" y="177.06" width="10.88" height="1.55" fill="#f9f2e9"/>
<rect x="559.56" y="177.06" width="10.88" height="1.55" fill="#f6beb1"/>
<rect x="570.39" y="177.06" width="10.88" height="1.55" fill="#f6bbae"/>
<rect x="581.22" y="177.06" width="10.88" height="1.55" fill="#f7d1c6"/>
<rect x="592.05" y="177.06" width="10.88" height="1.55" fill="#f5a798"/>
<rect x="602.88" y="177.06" width="10.88" height="1.55" fill="#f0f7ec"/>
<rect x="613.70" y="177.06" width="10.88" height="1.55" fill="#e4f2e1"/>
<rect x="624.53" y="177.06" width="10.88" height="1.55" fill="#f9f3eb"/>
<rect x="635.36" y="177.06" width="10.88" height="1.55" fill="#f6b6a9"/>
<rect x="646.19" y="177.06" width="10.88" height="1.55" fill="#f59c8c"/>
<rect x="657.02" y="177.06" width="10.88" height="1.55" fill="#f7c9bd"/>
<rect x="537.90" y="178.56" width="10.88" height="1.55" fill="#f9f0e8"/>
<rect x="548.73" y="178.56" width="10.88" height="1.55" fill="#daefd7"/>
<rect x="559.56" y="178.56" width="10.88" height="1.55" fill="#f7cabe"/>
<rect x="570.39" y="178.56" width="10.88" height="1.55" fill="#e7f4e3"/>
<rect x="581.22" y="178.56" width="10.88" height="1.55" fill="#f7cdc1"/>
<rect x="592.05" y="178.56" width="10.88" height="1.55" fill="#f7c6ba"/>
<rect x="602.88" y="178.56" width="10.88" height="1.55" fill="#eff7eb"/>
<rect x="613.70" y="178.56" width="10.88" height="1.55" fill="#f4f9f0"/>
<rect x="624.53" y="178.56" width="10.88" height="1.55" fill="#eaf5e7"/>
<rect x="635.36" y="178.56" width="10.88" height="1.55" fill="#f7d5ca"/>
<rect x="646.19" y="178.56" width="10.88" height="1.55" fill="#f7c2b6"/>
<rect x="657.02" y="178.56" width="10.88" height="1.55" fill="#f8ded4"/>
<rect x="537.90" y="180.06" width="10.88" height="1.55" fill="#f5a091"/>
<rect x="548.73" y="180.06" width="10.88" height="1.55" fill="#f7cbbf"/>
<rect x="559.56" y="180.06" width="10.88" height="1.55" fill="#f5a697"/>
<rect x="570.39" y="180.06" width="10.88" height="1.55" fill="#f6bbae"/>
<rect x="581.22" y="180.06" width="10.88" height="1.55" fill="#f7d0c5"/>
<rect x="592.05" y="180.06" width="10.88" height="1.55" fill="#f6b9ab"/>
<rect x="602.88" y="180.06" width="10.88" height="1.55" fill="#f5a191"/>
<rect x="613.70" y="180.06" width="10.88" height="1.55" fill="#f7c9bd"/>
<rect x="624.53" y="180.06" width="10.88" height="1.55" fill="#f8d6cb"/>
<rect x="635.36" y="180.06" width="10.88" height="1.55" fill="#f6b0a2"/>
<rect x="646.19" y="180.06" width="10.88" height="1.55" fill="#f7c9bd"/>
<rect x="657.02" y="180.06" width="10.88" height="1.55" fill="#f5aa9c"/>
<rect x="537.90" y="181.57" width="10.88" height="1.55" fill="#f9ebe2"/>
<rect x="548.73" y="181.57" width="10.88" height="1.55" fill="#c0e4bf"/>
<rect x="559.56" y="181.57" width="10.88" height="1.55" fill="#f7faf3"/>
<rect x="570.39" y="181.57" width="10.88" height="1.55" fill="#f9efe7"/>
<rect x="581.22" y="181.57" width="10.88" height="1.55" fill="#e1f1de"/>
<rect x="592.05" y="181.57" width="10.88" height="1.55" fill="#eaf5e7"/>
<rect x="602.88" y="181.57" width="10.88" height="1.55" fill="#f7c9bd"/>
<rect x="613.70" y="181.57" width="10.88" height="1.55" fill="#d7edd5"/>
<rect x="624.53" y="181.57" width="10.88" height="1.55" fill="#f8dfd5"/>
<rect x="635.36" y="181.57" width="10.88" height="1.55" fill="#e9f5e6"/>
<rect x="646.19" y="181.57" width="10.88" height="1.55" fill="#e5f3e1"/>
<rect x="657.02" y="181.57" width="10.88" height="1.55" fill="#f6b8aa"/>
<rect x="537.90" y="183.07" width="10.88" height="1.55" fill="#f6b9ac"/>
<rect x="548.73" y="183.07" width="10.88" height="1.55" fill="#f7cfc3"/>
<rect x="559.56" y="183.07" width="10.88" height="1.55" fill="#f8e7de"/>
<rect x="570.39" y="183.07" width="10.88" height="1.55" fill="#f8e9e0"/>
<rect x="581.22" y="183.07" width="10.88" height="1.55" fill="#eff7eb"/>
<rect x="592.05" y="183.07" width="10.88" height="1.55" fill="#f6bcaf"/>
<rect x="602.88" y="183.07" width="10.88" height="1.55" fill="#f8d9cf"/>
<rect x="613.70" y="183.07" width="10.88" height="1.55" fill="#dff1dd"/>
<rect x="624.53" y="183.07" width="10.88" height="1.55" fill="#f8eae1"/>
<rect x="635.36" y="183.07" width="10.88" height="1.55" fill="#f7c8bc"/>
<rect x="646.19" y="183.07" width="10.88" height="1.55" fill="#f7cfc4"/>
<rect x="657.02" y="183.07" width="10.88" height="1.55" fill="#f6bdb0"/>
<rect x="537.90" y="184.57" width="10.88" height="1.55" fill="#f7ccc1"/>
<rect x="548.73" y="184.57" width="10.88" height="1.55" fill="#f8e5db"/>
<rect x="559.56" y="184.57" width="10.88" height="1.55" fill="#f7c8bc"/>
<rect x="570.39" y="184.57" width="10.88" height="1.55" fill="#f7cfc4"/>
<rect x="581.22" y="184.57" width="10.88" height="1.55" fill="#f8d6cc"/>
<rect x="592.05" y="184.57" width="10.88" height="1.55" fill="#f6b9ac"/>
<rect x="602.88" y="184.57" width="10.88" height="1.55" fill="#f7cbc0"/>
<rect x="613.70" y="184.57" width="10.88" height="1.55" fill="#f8eae1"/>
<rect x="624.53" y="184.57" width="10.88" height="1.55" fill="#dff1dc"/>
<rect x="635.36" y="184.57" width="10.88" height="1.55" fill="#f7c4b8"/>
<rect x="646.19" y="184.57" width="10.88" height="1.55" fill="#f5a899"/>
<rect x="657.02" y="184.57" width="10.88" height="1.55" fill="#f7c6ba"/>
<rect x="537.90" y="186.08" width="10.88" height="1.55" fill="#f7c5b9"/>
<rect x="548.73" y="186.08" width="10.88" height="1.55" fill="#f7cabe"/>
<rect x="559.56" y="186.08" width="10.88" height="1.55" fill="#f6beb2"/>
<rect x="570.39" y="186.08" width="10.88" height="1.55" fill="#eaf5e7"/>
<rect x="581.22" y="186.08" width="10.88" height="1.55" fill="#f9eae1"/>
<rect x="592.05" y="186.08" width="10.88" height="1.55" fill="#f7d5ca"/>
<rect x="602.88" y="186.08" width="10.88" height="1.55" fill="#f8d9ce"/>
<rect x="613.70" y="186.08" width="10.88" height="1.55" fill="#ecf6e9"/>
<rect x="624.53" y="186.08" width="10.88" height="1.55" fill="#edf6e9"/>
<rect x="635.36" y="186.08" width="10.88" height="1.55" fill="#f6b5a8"/>
<rect x="646.19" y="186.08" width="10.88" height="1.55" fill="#f6afa1"/>
<rect x="657.02" y="186.08" width="10.88" height="1.55" fill="#f8e9e0"/>
<rect x="537.90" y="187.58" width="10.88" height="1.55" fill="#f6faf2"/>
<rect x="548.73" y="187.58" width="10.88" height="1.55" fill="#e6f3e2"/>
<rect x="559.56" y="187.58" width="10.88" height="1.55" fill="#e0f1dd"/>
<rect x="570.39" y="187.58" width="10.88" height="1.55" fill="#f8e3da"/>
<rect x="581.22" y="187.58" width="10.88" height="1.55" fill="#ebf5e8"/>
<rect x="592.05" y="187.58" width="10.88" height="1.55" fill="#f8d7cc"/>
<rect x="602.88" y="187.58" width="10.88" height="1.55" fill="#f8d7cc"/>
<rect x="613.70" y="187.58" width="10.88" height="1.55" fill="#e6f3e3"/>
<rect x="624.53" y="187.58" width="10.88" height="1.55" fill="#e0f1dd"/>
<rect x="635.36" y="187.58" width="10.88" height="1.55" fill="#f6b1a4"/>
<rect x="646.19" y="187.58" width="10.88" height="1.55" fill="#f7d2c7"/>
<rect x="657.02" y="187.58" width="10.88" height="1.55" fill="#e0f1dd"/>
<rect x="537.90" y="189.08" width="10.88" height="1.55" fill="#f8e1d8"/>
<rect x="548.73" y="189.08" width="10.88" height="1.55" fill="#e5f3e2"/>
<rect x="559.56" y="189.08" width="10.88" height="1.55" fill="#eff7eb"/>
<rect x="570.39" y="189.08" width="10.88" height="1.55" fill="#d3ecd0"/>
<rect x="581.22" y="189.08" width="10.88" height="1.55" fill="#f9efe6"/>
<rect x="592.05" y="189.08" width="10.88" height="1.55" fill="#e7f4e4"/>
<rect x="602.88" y="189.08" width="10.88" height="1.55" fill="#f6b1a3"/>
<rect x="613.70" y="189.08" width="10.88" height="1.55" fill="#cdeacb"/>
<rect x="624.53" y="189.08" width="10.88" height="1.55" fill="#f8dbd1"/>
<rect x="635.36" y="189.08" width="10.88" height="1.55" fill="#f6afa1"/>
<rect x="646.19" y="189.08" width="10.88" height="1.55" fill="#f8d8cd"/>
<rect x="657.02" y="189.08" width="10.88" height="1.55" fill="#f8d8cd"/>
<rect x="537.90" y="190.59" width="10.88" height="1.55" fill="#f6b5a8"/>
<rect x="548.73" y="190.59" width="10.88" height="1.55" fill="#f8ddd3"/>
<rect x="559.56" y="190.59" width="10.88" height="1.55" fill="#f8d8cd"/>
<rect x="570.39" y="190.59" width="10.88" height="1.55" fill="#f9ede4"/>
<rect x="581.22" y="190.59" width="10.88" height="1.55" fill="#f7c3b7"/>
<rect x="592.05" y="190.59" width="10.88" height="1.55" fill="#f5f9f1"/>
<rect x="602.88" y="190.59" width="10.88" height="1.55" fill="#f8dfd5"/>
<rect x="613.70" y="190.59" width="10.88" height="1.55" fill="#eff7ec"/>
<rect x="624.53" y="190.59" width="10.88" height="1.55" fill="#f8dad0"/>
<rect x="635.36" y="190.59" width="10.88" height="1.55" fill="#f59a8b"/>
<rect x="646.19" y="190.59" width="10.88" height="1.55" fill="#f5f9f1"/>
<rect x="657.02" y="190.59" width="10.88" height="1.55" fill="#f7ccc0"/>
<rect x="537.90" y="192.09" width="10.88" height="1.55" fill="#f7d3c8"/>
<rect x="548.73" y="192.09" width="10.88" height="1.55" fill="#f8e1d7"/>
<rect x="559.56" y="192.09" width="10.88" height="1.55" fill="#f5a495"/>
<rect x="570.39" y="192.09" width="10.88" height="1.55" fill="#f7c9bd"/>
<rect x="581.22" y="192.09" width="10.88" height="1.55" fill="#f6b2a4"/>
<rect x="592.05" y="192.09" width="10.88" height="1.55" fill="#f7d1c6"/>
<rect x="602.88" y="192.09" width="10.88" height="1.55" fill="#f6b4a6"/>
<rect x="613.70" y="192.09" width="10.88" height="1.55" fill="#f7d2c8"/>
<rect x="624.53" y="192.09" width="10.88" height="1.55" fill="#f7c2b6"/>
<rect x="635.36" y="192.09" width="10.88" height="1.55" fill="#f38270"/>
<rect x="646.19" y="192.09" width="10.88" height="1.55" fill="#f59c8c"/>
<rect x="657.02" y="192.09" width="10.88" height="1.55" fill="#f6afa1"/>
<rect x="537.90" y="193.59" width="10.88" height="1.55" fill="#f8dad0"/>
<rect x="548.73" y="193.59" width="10.88" height="1.55" fill="#f9f1e9"/>
<rect x="559.56" y="193.59" width="10.88" height="1.55" fill="#f8d7cc"/>
<rect x="570.39" y="193.59" width="10.88" height="1.55" fill="#eef6ea"/>
<rect x="581.22" y="193.59" width="10.88" height="1.55" fill="#f7d0c5"/>
<rect x="592.05" y="193.59" width="10.88" height="1.55" fill="#f8eae1"/>
<rect x="602.88" y="193.59" width="10.88" height="1.55" fill="#f8eae1"/>
<rect x="613.70" y="193.59" width="10.88" height="1.55" fill="#f8e9e0"/>
<rect x="624.53" y="193.59" width="10.88" height="1.55" fill="#f7d2c6"/>
<rect x="635.36" y="193.59" width="10.88" height="1.55" fill="#f6b3a6"/>
<rect x="646.19" y="193.59" width="10.88" height="1.55" fill="#f6beb2"/>
<rect x="657.02" y="193.59" width="10.88" height="1.55" fill="#f7c3b7"/>
<rect x="537.90" y="195.10" width="10.88" height="1.55" fill="#f6bdb0"/>
<rect x="548.73" y="195.10" width="10.88" height="1.55" fill="#f8eae1"/>
<rect x="559.56" y="195.10" width="10.88" height="1.55" fill="#f6c0b3"/>
<rect x="570.39" y="195.10" width="10.88" height="1.55" fill="#f7d5ca"/>
<rect x="581.22" y="195.10" width="10.88" height="1.55" fill="#dcefda"/>
<rect x="592.05" y="195.10" width="10.88" height="1.55" fill="#f7c4b8"/>
<rect x="602.88" y="195.10" width="10.88" height="1.55" fill="#f6bfb2"/>
<rect x="613.70" y="195.10" width="10.88" height="1.55" fill="#f6b2a5"/>
<rect x="624.53" y="195.10" width="10.88" height="1.55" fill="#f2f8ee"/>
<rect x="635.36" y="195.10" width="10.88" height="1.55" fill="#f59a8a"/>
<rect x="646.19" y="195.10" width="10.88" height="1.55" fill="#f6b5a8"/>
<rect x="657.02" y="195.10" width="10.88" height="1.55" fill="#f7d0c5"/>
<rect x="537.90" y="196.60" width="10.88" height="1.55" fill="#f5aa9c"/>
<rect x="548.73" y="196.60" width="10.88" height="1.55" fill="#f7d3c8"/>
<rect x="559.56" y="196.60" width="10.88" height="1.55" fill="#f7cbc0"/>
<rect x="570.39" y="196.60" width="10.88" height="1.55" fill="#f7cabf"/>
<rect x="581.22" y="196.60" width="10.88" height="1.55" fill="#f37966"/>
<rect x="592.05" y="196.60" width="10.88" height="1.55" fill="#f48a79"/>
<rect x="602.88" y="196.60" width="10.88" height="1.55" fill="#f8e9e0"/>
<rect x="613.70" y="196.60" width="10.88" height="1.55" fill="#f9ece3"/>
<rect x="624.53" y="196.60" width="10.88" height="1.55" fill="#f6b4a7"/>
<rect x="635.36" y="196.60" width="10.88" height="1.55" fill="#f48876"/>
<rect x="646.19" y="196.60" width="10.88" height="1.55" fill="#f6b1a3"/>
<rect x="657.02" y="196.60" width="10.88" height="1.55" fill="#f59989"/>
<rect x="537.90" y="198.10" width="10.88" height="1.55" fill="#f7c6ba"/>
<rect x="548.73" y="198.10" width="10.88" height="1.55" fill="#f8d6cb"/>
<rect x="559.56" y="198.10" width="10.88" height="1.55" fill="#f8e5dc"/>
<rect x="570.39" y="198.10" width="10.88" height="1.55" fill="#f6c0b3"/>
<rect x="581.22" y="198.10" width="10.88" height="1.55" fill="#f7c6ba"/>
<rect x="592.05" y="198.10" width="10.88" height="1.55" fill="#f6b4a7"/>
<rect x="602.88" y="198.10" width="10.88" height="1.55" fill="#f6bdb0"/>
<rect x="613.70" y="198.10" width="10.88" height="1.55" fill="#f8dbd1"/>
<rect x="624.53" y="198.10" width="10.88" height="1.55" fill="#f8d9cf"/>
<rect x="635.36" y="198.10" width="10.88" height="1.55" fill="#f59d8d"/>
<rect x="646.19" y="198.10" width="10.88" height="1.55" fill="#f8e5dc"/>
<rect x="657.02" y="198.10" width="10.88" height="1.55" fill="#f7c3b7"/>
<rect x="537.90" y="199.61" width="10.88" height="1.55" fill="#f8d7cd"/>
<rect x="548.73" y="199.61" width="10.88" height="1.55" fill="#dff1dc"/>
<rect x="559.56" y="199.61" width="10.88" height="1.55" fill="#f6aea0"/>
<rect x="570.39" y="199.61" width="10.88" height="1.55" fill="#f9ebe2"/>
<rect x="581.22" y="199.61" width="10.88" height="1.55" fill="#f6b3a5"/>
<rect x="592.05" y="199.61" width="10.88" height="1.55" fill="#f7cabe"/>
<rect x="602.88" y="199.61" width="10.88" height="1.55" fill="#f6b6a9"/>
<rect x="613.70" y="199.61" width="10.88" height="1.55" fill="#f6b0a2"/>
<rect x="624.53" y="199.61" width="10.88" height="1.55" fill="#f6bcaf"/>
<rect x="635.36" y="199.61" width="10.88" height="1.55" fill="#f8d9ce"/>
<rect x="646.19" y="199.61" width="10.88" height="1.55" fill="#f7c4b8"/>
<rect x="657.02" y="199.61" width="10.88" height="1.55" fill="#f6c0b4"/>
<rect x="537.90" y="201.11" width="10.88" height="1.55" fill="#f7cfc4"/>
<rect x="548.73" y="201.11" width="10.88" height="1.55" fill="#ebf5e8"/>
<rect x="559.56" y="201.11" width="10.88" height="1.55" fill="#f8e3d9"/>
<rect x="570.39" y="201.11" width="10.88" height="1.55" fill="#eaf5e6"/>
<rect x="581.22" y="201.11" width="10.88" height="1.55" fill="#f6b5a7"/>
<rect x="592.05" y="201.11" width="10.88" height="1.55" fill="#e0f1de"/>
<rect x="602.88" y="201.11" width="10.88" height="1.55" fill="#f8d6cc"/>
<rect x="613.70" y="201.11" width="10.88" height="1.55" fill="#f6baad"/>
<rect x="624.53" y="201.11" width="10.88" height="1.55" fill="#f7ccc1"/>
<rect x="635.36" y="201.11" width="10.88" height="1.55" fill="#f7d3c8"/>
<rect x="646.19" y="201.11" width="10.88" height="1.55" fill="#f6b3a5"/>
<rect x="657.02" y="201.11" width="10.88" height="1.55" fill="#f8ddd3"/>
<rect x="537.90" y="202.61" width="10.88" height="1.55" fill="#f5a495"/>
<rect x="548.73" y="202.61" width="10.88" height="1.55" fill="#f8ddd3"/>
<rect x="559.56" y="202.61" width="10.88" height="1.55" fill="#f7cbc0"/>
<rect x="570.39" y="202.61" width="10.88" height="1.55" fill="#f1f7ed"/>
<rect x="581.22" y="202.61" width="10.88" height="1.55" fill="#f5a798"/>
<rect x="592.05" y="202.61" width="10.88" height="1.55" fill="#f7d2c7"/>
<rect x="602.88" y="202.61" width="10.88" height="1.55" fill="#f6baac"/>
<rect x="613.70" y="202.61" width="10.88" height="1.55" fill="#f6b4a6"/>
<rect x="624.53" y="202.61" width="10.88" height="1.55" fill="#f5a799"/>
<rect x="635.36" y="202.61" width="10.88" height="1.55" fill="#f8dad0"/>
<rect x="646.19" y="202.61" width="10.88" height="1.55" fill="#f59d8e"/>
<rect x="657.02" y="202.61" width="10.88" height="1.55" fill="#f5a596"/>
<rect x="537.90" y="204.12" width="10.88" height="1.55" fill="#f7cdc1"/>
<rect x="548.73" y="204.12" width="10.88" height="1.55" fill="#f8e3d9"/>
<rect x="559.56" y="204.12" width="10.88" height="1.55" fill="#e2f2de"/>
<rect x="570.39" y="204.12" width="10.88" height="1.55" fill="#d5ecd2"/>
<rect x="581.22" y="204.12" width="10.88" height="1.55" fill="#f49281"/>
<rect x="592.05" y="204.12" width="10.88" height="1.55" fill="#f6b2a5"/>
<rect x="602.88" y="204.12" width="10.88" height="1.55" fill="#f7cdc1"/>
<rect x="613.70" y="204.12" width="10.88" height="1.55" fill="#f5ad9f"/>
<rect x="624.53" y="204.12" width="10.88" height="1.55" fill="#f4907f"/>
<rect x="635.36" y="204.12" width="10.88" height="1.55" fill="#f6b5a7"/>
<rect x="646.19" y="204.12" width="10.88" height="1.55" fill="#f4f9f1"/>
<rect x="657.02" y="204.12" width="10.88" height="1.55" fill="#f6b6a8"/>
<rect x="537.90" y="205.62" width="10.88" height="1.55" fill="#f7c4b7"/>
<rect x="548.73" y="205.62" width="10.88" height="1.55" fill="#e0f1dd"/>
<rect x="559.56" y="205.62" width="10.88" height="1.55" fill="#f7c7bb"/>
<rect x="570.39" y="205.62" width="10.88" height="1.55" fill="#f8dfd5"/>
<rect x="581.22" y="205.62" width="10.88" height="1.55" fill="#f59d8d"/>
<rect x="592.05" y="205.62" width="10.88" height="1.55" fill="#f7c7bb"/>
<rect x="602.88" y="205.62" width="10.88" height="1.55" fill="#f7d0c5"/>
<rect x="613.70" y="205.62" width="10.88" height="1.55" fill="#f49382"/>
<rect x="624.53" y="205.62" width="10.88" height="1.55" fill="#f5a99b"/>
<rect x="635.36" y="205.62" width="10.88" height="1.55" fill="#f6beb1"/>
<rect x="646.19" y="205.62" width="10.88" height="1.55" fill="#f6bbae"/>
<rect x="657.02" y="205.62" width="10.88" height="1.55" fill="#f7c8bc"/>
<rect x="537.90" y="207.12" width="10.88" height="1.55" fill="#eaf5e6"/>
<rect x="548.73" y="207.12" width="10.88" height="1.55" fill="#c3e6c2"/>
<rect x="559.56" y="207.12" width="10.88" height="1.55" fill="#f1f8ee"/>
<rect x="570.39" y="207.12" width="10.88" height="1.55" fill="#d5ecd2"/>
<rect x="581.22" y="207.12" width="10.88" height="1.55" fill="#f6bdb1"/>
<rect x="592.05" y="207.12" width="10.88" height="1.55" fill="#dbefd8"/>
<rect x="602.88" y="207.12" width="10.88" height="1.55" fill="#e7f3e3"/>
<rect x="613.70" y="207.12" width="10.88" height="1.55" fill="#f6afa1"/>
<rect x="624.53" y="207.12" width="10.88" height="1.55" fill="#f6b2a4"/>
<rect x="635.36" y="207.12" width="10.88" height="1.55" fill="#f7c5b8"/>
<rect x="646.19" y="207.12" width="10.88" height="1.55" fill="#f8dacf"/>
<rect x="657.02" y="207.12" width="10.88" height="1.55" fill="#f8e9e0"/>
<rect x="537.90" y="208.63" width="10.88" height="1.55" fill="#e4f3e1"/>
<rect x="548.73" y="208.63" width="10.88" height="1.55" fill="#c8e7c6"/>
<rect x="559.56" y="208.63" width="10.88" height="1.55" fill="#f6c1b5"/>
<rect x="570.39" y="208.63" width="10.88" height="1.55" fill="#e1f1de"/>
<rect x="581.22" y="208.63" width="10.88" height="1.55" fill="#f8ddd3"/>
<rect x="592.05" y="208.63" width="10.88" height="1.55" fill="#f4f9f0"/>
<rect x="602.88" y="208.63" width="10.88" height="1.55" fill="#f8dcd2"/>
<rect x="613.70" y="208.63" width="10.88" height="1.55" fill="#f6b9ab"/>
<rect x="624.53" y="208.63" width="10.88" height="1.55" fill="#f8ddd3"/>
<rect x="635.36" y="208.63" width="10.88" height="1.55" fill="#f0f7ec"/>
<rect x="646.19" y="208.63" width="10.88" height="1.55" fill="#f8dcd2"/>
<rect x="657.02" y="208.63" width="10.88" height="1.55" fill="#f6c0b4"/>
<rect x="537.90" y="210.13" width="10.88" height="1.55" fill="#bee3bc"/>
<rect x="548.73" y="210.13" width="10.88" height="1.55" fill="#e7f4e3"/>
<rect x="559.56" y="210.13" width="10.88" height="1.55" fill="#f7c6ba"/>
<rect x="570.39" y="210.13" width="10.88" height="1.55" fill="#ecf6e9"/>
<rect x="581.22" y="210.13" width="10.88" height="1.55" fill="#f7cabe"/>
<rect x="592.05" y="210.13" width="10.88" height="1.55" fill="#bfe4be"/>
<rect x="602.88" y="210.13" width="10.88" height="1.55" fill="#ebf5e7"/>
<rect x="613.70" y="210.13" width="10.88" height="1.55" fill="#f48d7c"/>
<rect x="624.53" y="210.13" width="10.88" height="1.55" fill="#f59a8a"/>
<rect x="635.36" y="210.13" width="10.88" height="1.55" fill="#f5a798"/>
<rect x="646.19" y="210.13" width="10.88" height="1.55" fill="#f7d5ca"/>
<rect x="657.02" y="210.13" width="10.88" height="1.55" fill="#f7c4b7"/>
<rect x="537.90" y="211.63" width="10.88" height="1.55" fill="#f8d7cc"/>
<rect x="548.73" y="211.63" width="10.88" height="1.55" fill="#f6b6a9"/>
<rect x="559.56" y="211.63" width="10.88" height="1.55" fill="#f7cbc0"/>
<rect x="570.39" y="211.63" width="10.88" height="1.55" fill="#f7c4b8"/>
<rect x="581.22" y="211.63" width="10.88" height="1.55" fill="#f7c5b9"/>
<rect x="592.05" y="211.63" width="10.88" height="1.55" fill="#f6b5a7"/>
<rect x="602.88" y="211.63" width="10.88" height="1.55" fill="#f6aea0"/>
<rect x="613.70" y="211.63" width="10.88" height="1.55" fill="#f7c4b7"/>
<rect x="624.53" y="211.63" width="10.88" height="1.55" fill="#f7c5b9"/>
<rect x="635.36" y="211.63" width="10.88" height="1.55" fill="#f6bcaf"/>
<rect x="646.19" y="211.63" width="10.88" height="1.55" fill="#f49888"/>
<rect x="657.02" y="211.63" width="10.88" height="1.55" fill="#f8d6cb"/>
<rect x="537.90" y="213.14" width="10.88" height="1.55" fill="#f6bdb0"/>
<rect x="548.73" y="213.14" width="10.88" height="1.55" fill="#f4f9f0"/>
<rect x="559.56" y="213.14" width="10.88" height="1.55" fill="#f7ccc0"/>
<rect x="570.39" y="213.14" width="10.88" height="1.55" fill="#f6b7aa"/>
<rect x="581.22" y="213.14" width="10.88" height="1.55" fill="#f5a091"/>
<rect x="592.05" y="213.14" width="10.88" height="1.55" fill="#f6baad"/>
<rect x="602.88" y="213.14" width="10.88" height="1.55" fill="#f6b1a4"/>
<rect x="613.70" y="213.14" width="10.88" height="1.55" fill="#e5f3e1"/>
<rect x="624.53" y="213.14" width="10.88" height="1.55" fill="#f6b5a7"/>
<rect x="635.36" y="213.14" width="10.88" height="1.55" fill="#f5a292"/>
<rect x="646.19" y="213.14" width="10.88" height="1.55" fill="#f6b0a2"/>
<rect x="657.02" y="213.14" width="10.88" height="1.55" fill="#f8e5dc"/>
<rect x="537.90" y="214.64" width="10.88" height="1.55" fill="#d4ecd2"/>
<rect x="548.73" y="214.64" width="10.88" height="1.55" fill="#c8e7c6"/>
<rect x="559.56" y="214.64" width="10.88" height="1.55" fill="#d7edd4"/>
<rect x="570.39" y="214.64" width="10.88" height="1.55" fill="#cde9cb"/>
<rect x="581.22" y="214.64" width="10.88" height="1.55" fill="#f9ece3"/>
<rect x="592.05" y="214.64" width="10.88" height="1.55" fill="#f9f1e9"/>
<rect x="602.88" y="214.64" width="10.88" height="1.55" fill="#f9f0e8"/>
<rect x="613.70" y="214.64" width="10.88" height="1.55" fill="#def0dc"/>
<rect x="624.53" y="214.64" width="10.88" height="1.55" fill="#d4ecd1"/>
<rect x="635.36" y="214.64" width="10.88" height="1.55" fill="#edf6ea"/>
<rect x="646.19" y="214.64" width="10.88" height="1.55" fill="#ecf6e9"/>
<rect x="657.02" y="214.64" width="10.88" height="1.55" fill="#c4e6c2"/>
<rect x="537.90" y="216.14" width="10.88" height="1.55" fill="#f7d3c8"/>
<rect x="548.73" y="216.14" width="10.88" height="1.55" fill="#f5f9f1"/>
<rect x="559.56" y="216.14" width="10.88" height="1.55" fill="#f37f6c"/>
<rect x="570.39" y="216.14" width="10.88" height="1.55" fill="#f5a697"/>
<rect x="581.22" y="216.14" width="10.88" height="1.55" fill="#f59c8c"/>
<rect x="592.05" y="216.14" width="10.88" height="1.55" fill="#f49787"/>
<rect x="602.88" y="216.14" width="10.88" height="1.55" fill="#f48d7c"/>
<rect x="613.70" y="216.14" width="10.88" height="1.55" fill="#f9ece3"/>
<rect x="624.53" y="216.14" width="10.88" height="1.55" fill="#f59a8a"/>
<rect x="635.36" y="216.14" width="10.88" height="1.55" fill="#f49686"/>
<rect x="646.19" y="216.14" width="10.88" height="1.55" fill="#f6b5a7"/>
<rect x="657.02" y="216.14" width="10.88" height="1.55" fill="#f6b0a2"/>
<rect x="537.90" y="217.65" width="10.88" height="1.55" fill="#f8dacf"/>
<rect x="548.73" y="217.65" width="10.88" height="1.55" fill="#e7f4e4"/>
<rect x="559.56" y="217.65" width="10.88" height="1.55" fill="#f8e9e0"/>
<rect x="570.39" y="217.65" width="10.88" height="1.55" fill="#eff7eb"/>
<rect x="581.22" y="217.65" width="10.88" height="1.55" fill="#f6bbae"/>
<rect x="592.05" y="217.65" width="10.88" height="1.55" fill="#f8e7dd"/>
<rect x="602.88" y="217.65" width="10.88" height="1.55" fill="#f7cfc4"/>
<rect x="613.70" y="217.65" width="10.88" height="1.55" fill="#f2f8ee"/>
<rect x="624.53" y="217.65" width="10.88" height="1.55" fill="#f3f9f0"/>
<rect x="635.36" y="217.65" width="10.88" height="1.55" fill="#f7d2c7"/>
<rect x="646.19" y="217.65" width="10.88" height="1.55" fill="#f7d2c7"/>
<rect x="657.02" y="217.65" width="10.88" height="1.55" fill="#f6afa1"/>
<rect x="537.90" y="219.15" width="10.88" height="1.55" fill="#f0f7ed"/>
<rect x="548.73" y="219.15" width="10.88" height="1.55" fill="#f8e7de"/>
<rect x="559.56" y="219.15" width="10.88" height="1.55" fill="#f6b9ac"/>
<rect x="570.39" y="219.15" width="10.88" height="1.55" fill="#f8dcd2"/>
<rect x="581.22" y="219.15" width="10.88" height="1.55" fill="#f5aa9c"/>
<rect x="592.05" y="219.15" width="10.88" height="1.55" fill="#e4f3e1"/>
<rect x="602.88" y="219.15" width="10.88" height="1.55" fill="#f8e4db"/>
<rect x="613.70" y="219.15" width="10.88" height="1.55" fill="#f7d5cb"/>
<rect x="624.53" y="219.15" width="10.88" height="1.55" fill="#f7c8bc"/>
<rect x="635.36" y="219.15" width="10.88" height="1.55" fill="#f7c2b6"/>
<rect x="646.19" y="219.15" width="10.88" height="1.55" fill="#e4f3e1"/>
<rect x="657.02" y="219.15" width="10.88" height="1.55" fill="#f6b9ac"/>
<rect x="537.90" y="220.65" width="10.88" height="1.55" fill="#f9eae1"/>
<rect x="548.73" y="220.65" width="10.88" height="1.55" fill="#b7e1b6"/>
<rect x="559.56" y="220.65" width="10.88" height="1.55" fill="#f8e9e1"/>
<rect x="570.39" y="220.65" width="10.88" height="1.55" fill="#ebf5e7"/>
<rect x="581.22" y="220.65" width="10.88" height="1.55" fill="#f59989"/>
<rect x="592.05" y="220.65" width="10.88" height="1.55" fill="#f2f8ee"/>
<rect x="602.88" y="220.65" width="10.88" height="1.55" fill="#f7c8bc"/>
<rect x="613.70" y="220.65" width="10.88" height="1.55" fill="#e5f3e1"/>
<rect x="624.53" y="220.65" width="10.88" height="1.55" fill="#f6baad"/>
<rect x="635.36" y="220.65" width="10.88" height="1.55" fill="#f6faf2"/>
<rect x="646.19" y="220.65" width="10.88" height="1.55" fill="#f6bbae"/>
<rect x="657.02" y="220.65" width="10.88" height="1.55" fill="#f8e1d7"/>
<rect x="537.90" y="222.16" width="10.88" height="1.55" fill="#f8e4da"/>
<rect x="548.73" y="222.16" width="10.88" height="1.55" fill="#def0db"/>
<rect x="559.56" y="222.16" width="10.88" height="1.55" fill="#f9eae1"/>
<rect x="570.39" y="222.16" width="10.88" height="1.55" fill="#dff0dc"/>
<rect x="581.22" y="222.16" width="10.88" height="1.55" fill="#f6bbae"/>
<rect x="592.05" y="222.16" width="10.88" height="1.55" fill="#f0f7ec"/>
<rect x="602.88" y="222.16" width="10.88" height="1.55" fill="#eef6ea"/>
<rect x="613.70" y="222.16" width="10.88" height="1.55" fill="#f9f3ea"/>
<rect x="624.53" y="222.16" width="10.88" height="1.55" fill="#cbe9c9"/>
<rect x="635.36" y="222.16" width="10.88" height="1.55" fill="#f7d2c8"/>
<rect x="646.19" y="222.16" width="10.88" height="1.55" fill="#f5f9f1"/>
<rect x="657.02" y="222.16" width="10.88" height="1.55" fill="#f6b7a9"/>
<rect x="537.90" y="223.66" width="10.88" height="1.55" fill="#f49585"/>
<rect x="548.73" y="223.66" width="10.88" height="1.55" fill="#ecf6e9"/>
<rect x="559.56" y="223.66" width="10.88" height="1.55" fill="#f7d1c6"/>
<rect x="570.39" y="223.66" width="10.88" height="1.55" fill="#f7cabe"/>
<rect x="581.22" y="223.66" width="10.88" height="1.55" fill="#f59c8d"/>
<rect x="592.05" y="223.66" width="10.88" height="1.55" fill="#f9ece3"/>
<rect x="602.88" y="223.66" width="10.88" height="1.55" fill="#f7cdc2"/>
<rect x="613.70" y="223.66" width="10.88" height="1.55" fill="#f7c5b8"/>
<rect x="624.53" y="223.66" width="10.88" height="1.55" fill="#f9f3eb"/>
<rect x="635.36" y="223.66" width="10.88" height="1.55" fill="#f8dfd5"/>
<rect x="646.19" y="223.66" width="10.88" height="1.55" fill="#a2d8a2"/>
<rect x="657.02" y="223.66" width="10.88" height="1.55" fill="#f5a495"/>
<rect x="537.90" y="225.16" width="10.88" height="1.55" fill="#f15b46"/>
<rect x="548.73" y="225.16" width="10.88" height="1.55" fill="#f6bcaf"/>
<rect x="559.56" y="225.16" width="10.88" height="1.55" fill="#f7c9bd"/>
<rect x="570.39" y="225.16" width="10.88" height="1.55" fill="#f59b8c"/>
<rect x="581.22" y="225.16" width="10.88" height="1.55" fill="#f37b69"/>
<rect x="592.05" y="225.16" width="10.88" height="1.55" fill="#f7c2b6"/>
<rect x="602.88" y="225.16" width="10.88" height="1.55" fill="#f48c7b"/>
<rect x="613.70" y="225.16" width="10.88" height="1.55" fill="#f7d0c5"/>
<rect x="624.53" y="225.16" width="10.88" height="1.55" fill="#f48977"/>
<rect x="635.36" y="225.16" width="10.88" height="1.55" fill="#f59f90"/>
<rect x="646.19" y="225.16" width="10.88" height="1.55" fill="#bfe4be"/>
<rect x="657.02" y="225.16" width="10.88" height="1.55" fill="#f5a090"/>
<rect x="537.90" y="226.67" width="10.88" height="1.55" fill="#f48f7f"/>
<rect x="548.73" y="226.67" width="10.88" height="1.55" fill="#dcefd9"/>
<rect x="559.56" y="226.67" width="10.88" height="1.55" fill="#e6f3e2"/>
<rect x="570.39" y="226.67" width="10.88" height="1.55" fill="#f5aa9b"/>
<rect x="581.22" y="226.67" width="10.88" height="1.55" fill="#f5a899"/>
<rect x="592.05" y="226.67" width="10.88" height="1.55" fill="#f7cdc1"/>
<rect x="602.88" y="226.67" width="10.88" height="1.55" fill="#f8e6dd"/>
<rect x="613.70" y="226.67" width="10.88" height="1.55" fill="#f7d4c9"/>
<rect x="624.53" y="226.67" width="10.88" height="1.55" fill="#f5f9f1"/>
<rect x="635.36" y="226.67" width="10.88" height="1.55" fill="#f9eee5"/>
<rect x="646.19" y="226.67" width="10.88" height="1.55" fill="#68c26b"/>
<rect x="657.02" y="226.67" width="10.88" height="1.55" fill="#f6bdb0"/>
<rect x="537.90" y="228.17" width="10.88" height="1.55" fill="#f48e7e"/>
<rect x="548.73" y="228.17" width="10.88" height="1.55" fill="#f7c7bb"/>
<rect x="559.56" y="228.17" width="10.88" height="1.55" fill="#f6b7aa"/>
<rect x="570.39" y="228.17" width="10.88" height="1.55" fill="#f48978"/>
<rect x="581.22" y="228.17" width="10.88" height="1.55" fill="#f37f6c"/>
<rect x="592.05" y="228.17" width="10.88" height="1.55" fill="#f6b0a2"/>
<rect x="602.88" y="228.17" width="10.88" height="1.55" fill="#f6b7a9"/>
<rect x="613.70" y="228.17" width="10.88" height="1.55" fill="#f6b3a6"/>
<rect x="624.53" y="228.17" width="10.88" height="1.55" fill="#f6b5a8"/>
<rect x="635.36" y="228.17" width="10.88" height="1.55" fill="#f6bdb0"/>
<rect x="646.19" y="228.17" width="10.88" height="1.55" fill="#cfeacc"/>
<rect x="657.02" y="228.17" width="10.88" height="1.55" fill="#f59c8c"/>
<rect x="537.90" y="229.67" width="10.88" height="1.55" fill="#f6b0a2"/>
<rect x="548.73" y="229.67" width="10.88" height="1.55" fill="#e7f4e4"/>
<rect x="559.56" y="229.67" width="10.88" height="1.55" fill="#f7c3b7"/>
<rect x="570.39" y="229.67" width="10.88" height="1.55" fill="#e4f2e1"/>
<rect x="581.22" y="229.67" width="10.88" height="1.55" fill="#e2f2df"/>
<rect x="592.05" y="229.67" width="10.88" height="1.55" fill="#f7c9bd"/>
<rect x="602.88" y="229.67" width="10.88" height="1.55" fill="#f7cabe"/>
<rect x="613.70" y="229.67" width="10.88" height="1.55" fill="#f7cfc4"/>
<rect x="624.53" y="229.67" width="10.88" height="1.55" fill="#f8e9e0"/>
<rect x="635.36" y="229.67" width="10.88" height="1.55" fill="#f6b1a3"/>
<rect x="646.19" y="229.67" width="10.88" height="1.55" fill="#e8f4e5"/>
<rect x="657.02" y="229.67" width="10.88" height="1.55" fill="#f8d7cc"/>
<rect x="537.90" y="231.18" width="10.88" height="1.55" fill="#f49585"/>
<rect x="548.73" y="231.18" width="10.88" height="1.55" fill="#f8e2d9"/>
<rect x="559.56" y="231.18" width="10.88" height="1.55" fill="#f6afa1"/>
<rect x="570.39" y="231.18" width="10.88" height="1.55" fill="#f7c2b6"/>
<rect x="581.22" y="231.18" width="10.88" height="1.55" fill="#f7c4b7"/>
<rect x="592.05" y="231.18" width="10.88" height="1.55" fill="#f5a596"/>
<rect x="602.88" y="231.18" width="10.88" height="1.55" fill="#f5a99b"/>
<rect x="613.70" y="231.18" width="10.88" height="1.55" fill="#f7c7bb"/>
<rect x="624.53" y="231.18" width="10.88" height="1.55" fill="#f7c5b8"/>
<rect x="635.36" y="231.18" width="10.88" height="1.55" fill="#f6b5a8"/>
<rect x="646.19" y="231.18" width="10.88" height="1.55" fill="#f8ded4"/>
<rect x="657.02" y="231.18" width="10.88" height="1.55" fill="#f7ccc1"/>
<rect x="537.90" y="232.68" width="10.88" height="1.55" fill="#f48d7c"/>
<rect x="548.73" y="232.68" width="10.88" height="1.55" fill="#f8e3d9"/>
<rect x="559.56" y="232.68" width="10.88" height="1.55" fill="#f7c8bc"/>
<rect x="570.39" y="232.68" width="10.88" height="1.55" fill="#f8d6cc"/>
<rect x="581.22" y="232.68" width="10.88" height="1.55" fill="#f5a698"/>
<rect x="592.05" y="232.68" width="10.88" height="1.55" fill="#f7d2c7"/>
<rect x="602.88" y="232.68" width="10.88" height="1.55" fill="#f7c4b8"/>
<rect x="613.70" y="232.68" width="10.88" height="1.55" fill="#f7d5ca"/>
<rect x="624.53" y="232.68" width="10.88" height="1.55" fill="#f7d4c9"/>
<rect x="635.36" y="232.68" width="10.88" height="1.55" fill="#f6b5a7"/>
<rect x="646.19" y="232.68" width="10.88" height="1.55" fill="#f8d6cb"/>
<rect x="657.02" y="232.68" width="10.88" height="1.55" fill="#f6b2a4"/>
<rect x="537.90" y="234.18" width="10.88" height="1.55" fill="#f59c8c"/>
<rect x="548.73" y="234.18" width="10.88" height="1.55" fill="#f7d3c8"/>
<rect x="559.56" y="234.18" width="10.88" height="1.55" fill="#f6b0a2"/>
<rect x="570.39" y="234.18" width="10.88" height="1.55" fill="#d5edd2"/>
<rect x="581.22" y="234.18" width="10.88" height="1.55" fill="#f7c7bb"/>
<rect x="592.05" y="234.18" width="10.88" height="1.55" fill="#f7c3b6"/>
<rect x="602.88" y="234.18" width="10.88" height="1.55" fill="#f6afa0"/>
<rect x="613.70" y="234.18" width="10.88" height="1.55" fill="#f7c2b6"/>
<rect x="624.53" y="234.18" width="10.88" height="1.55" fill="#f8d8cd"/>
<rect x="635.36" y="234.18" width="10.88" height="1.55" fill="#f8e9e0"/>
<rect x="646.19" y="234.18" width="10.88" height="1.55" fill="#f7c5b9"/>
<rect x="657.02" y="234.18" width="10.88" height="1.55" fill="#f6beb1"/>
<rect x="537.90" y="235.69" width="10.88" height="1.55" fill="#f6b2a5"/>
<rect x="548.73" y="235.69" width="10.88" height="1.55" fill="#f8e7dd"/>
<rect x="559.56" y="235.69" width="10.88" height="1.55" fill="#f5a090"/>
<rect x="570.39" y="235.69" width="10.88" height="1.55" fill="#f9f2ea"/>
<rect x="581.22" y="235.69" width="10.88" height="1.55" fill="#f7d5ca"/>
<rect x="592.05" y="235.69" width="10.88" height="1.55" fill="#f5a191"/>
<rect x="602.88" y="235.69" width="10.88" height="1.55" fill="#f6bdb0"/>
<rect x="613.70" y="235.69" width="10.88" height="1.55" fill="#f6b5a7"/>
<rect x="624.53" y="235.69" width="10.88" height="1.55" fill="#f5ad9f"/>
<rect x="635.36" y="235.69" width="10.88" height="1.55" fill="#f37562"/>
<rect x="646.19" y="235.69" width="10.88" height="1.55" fill="#f5a697"/>
<rect x="657.02" y="235.69" width="10.88" height="1.55" fill="#f6bfb3"/>
<rect x="537.90" y="237.19" width="10.88" height="1.55" fill="#f6c0b4"/>
<rect x="548.73" y="237.19" width="10.88" height="1.55" fill="#f9efe7"/>
<rect x="559.56" y="237.19" width="10.88" height="1.55" fill="#f5ad9e"/>
<rect x="570.39" y="237.19" width="10.88" height="1.55" fill="#f7cfc4"/>
<rect x="581.22" y="237.19" width="10.88" height="1.55" fill="#f8d6cb"/>
<rect x="592.05" y="237.19" width="10.88" height="1.55" fill="#f5a89a"/>
<rect x="602.88" y="237.19" width="10.88" height="1.55" fill="#f7c4b8"/>
<rect x="613.70" y="237.19" width="10.88" height="1.55" fill="#f5ac9e"/>
<rect x="624.53" y="237.19" width="10.88" height="1.55" fill="#f5a99b"/>
<rect x="635.36" y="237.19" width="10.88" height="1.55" fill="#f49787"/>
<rect x="646.19" y="237.19" width="10.88" height="1.55" fill="#f7c6b9"/>
<rect x="657.02" y="237.19" width="10.88" height="1.55" fill="#f59989"/>
<rect x="537.90" y="238.69" width="10.88" height="1.55" fill="#f7d2c7"/>
<rect x="548.73" y="238.69" width="10.88" height="1.55" fill="#d9eed6"/>
<rect x="559.56" y="238.69" width="10.88" height="1.55" fill="#f9eee6"/>
<rect x="570.39" y="238.69" width="10.88" height="1.55" fill="#f7cdc2"/>
<rect x="581.22" y="238.69" width="10.88" height="1.55" fill="#f7c8bc"/>
<rect x="592.05" y="238.69" width="10.88" height="1.55" fill="#f6bdb0"/>
<rect x="602.88" y="238.69" width="10.88" height="1.55" fill="#f8dbd1"/>
<rect x="613.70" y="238.69" width="10.88" height="1.55" fill="#e9f4e6"/>
<rect x="624.53" y="238.69" width="10.88" height="1.55" fill="#f8dcd2"/>
<rect x="635.36" y="238.69" width="10.88" height="1.55" fill="#f6b1a3"/>
<rect x="646.19" y="238.69" width="10.88" height="1.55" fill="#f8dcd1"/>
<rect x="657.02" y="238.69" width="10.88" height="1.55" fill="#f8e4da"/>
<rect x="537.90" y="240.20" width="10.88" height="1.55" fill="#f6c0b3"/>
<rect x="548.73" y="240.20" width="10.88" height="1.55" fill="#f7cdc2"/>
<rect x="559.56" y="240.20" width="10.88" height="1.55" fill="#f7cfc4"/>
<rect x="570.39" y="240.20" width="10.88" height="1.55" fill="#f9ebe3"/>
<rect x="581.22" y="240.20" width="10.88" height="1.55" fill="#f59d8d"/>
<rect x="592.05" y="240.20" width="10.88" height="1.55" fill="#f6b0a2"/>
<rect x="602.88" y="240.20" width="10.88" height="1.55" fill="#f6bdb0"/>
<rect x="613.70" y="240.20" width="10.88" height="1.55" fill="#f6c0b4"/>
<rect x="624.53" y="240.20" width="10.88" height="1.55" fill="#f8dfd5"/>
<rect x="635.36" y="240.20" width="10.88" height="1.55" fill="#f5ac9e"/>
<rect x="646.19" y="240.20" width="10.88" height="1.55" fill="#f7d3c8"/>
<rect x="657.02" y="240.20" width="10.88" height="1.55" fill="#f59d8d"/>
<rect x="537.90" y="241.70" width="10.88" height="1.55" fill="#f7cfc3"/>
<rect x="548.73" y="241.70" width="10.88" height="1.55" fill="#f5a192"/>
<rect x="559.56" y="241.70" width="10.88" height="1.55" fill="#e4f3e1"/>
<rect x="570.39" y="241.70" width="10.88" height="1.55" fill="#c8e7c6"/>
<rect x="581.22" y="241.70" width="10.88" height="1.55" fill="#f7c5b9"/>
<rect x="592.05" y="241.70" width="10.88" height="1.55" fill="#79c87b"/>
<rect x="602.88" y="241.70" width="10.88" height="1.55" fill="#f8e1d8"/>
<rect x="613.70" y="241.70" width="10.88" height="1.55" fill="#f8e5db"/>
<rect x="624.53" y="241.70" width="10.88" height="1.55" fill="#f9ece3"/>
<rect x="635.36" y="241.70" width="10.88" height="1.55" fill="#f7cdc1"/>
<rect x="646.19" y="241.70" width="10.88" height="1.55" fill="#f8dbd1"/>
<rect x="657.02" y="241.70" width="10.88" height="1.55" fill="#f7c6ba"/>
<rect x="537.90" y="243.20" width="10.88" height="1.55" fill="#f8d9cf"/>
<rect x="548.73" y="243.20" width="10.88" height="1.55" fill="#f5a596"/>
<rect x="559.56" y="243.20" width="10.88" height="1.55" fill="#e5f3e2"/>
<rect x="570.39" y="243.20" width="10.88" height="1.55" fill="#e7f4e4"/>
<rect x="581.22" y="243.20" width="10.88" height="1.55" fill="#f6b2a4"/>
<rect x="592.05" y="243.20" width="10.88" height="1.55" fill="#aadcaa"/>
<rect x="602.88" y="243.20" width="10.88" height="1.55" fill="#f8ded4"/>
<rect x="613.70" y="243.20" width="10.88" height="1.55" fill="#dbefd9"/>
<rect x="624.53" y="243.20" width="10.88" height="1.55" fill="#dcefd9"/>
<rect x="635.36" y="243.20" width="10.88" height="1.55" fill="#f6b3a5"/>
<rect x="646.19" y="243.20" width="10.88" height="1.55" fill="#f5f9f1"/>
<rect x="657.02" y="243.20" width="10.88" height="1.55" fill="#eef6ea"/>
<rect x="537.90" y="244.71" width="10.88" height="1.55" fill="#f59e8f"/>
<rect x="548.73" y="244.71" width="10.88" height="1.55" fill="#f14b35"/>
<rect x="559.56" y="244.71" width="10.88" height="1.55" fill="#f6b0a2"/>
<rect x="570.39" y="244.71" width="10.88" height="1.55" fill="#d6edd4"/>
<rect x="581.22" y="244.71" width="10.88" height="1.55" fill="#f6b9ac"/>
<rect x="592.05" y="244.71" width="10.88" height="1.55" fill="#c2e5c1"/>
<rect x="602.88" y="244.71" width="10.88" height="1.55" fill="#f6ad9f"/>
<rect x="613.70" y="244.71" width="10.88" height="1.55" fill="#f59a8a"/>
<rect x="624.53" y="244.71" width="10.88" height="1.55" fill="#f7c7bb"/>
<rect x="635.36" y="244.71" width="10.88" height="1.55" fill="#f59e8e"/>
<rect x="646.19" y="244.71" width="10.88" height="1.55" fill="#f6baac"/>
<rect x="657.02" y="244.71" width="10.88" height="1.55" fill="#f59e8e"/>
<rect x="537.90" y="246.21" width="10.88" height="1.55" fill="#e1f1de"/>
<rect x="548.73" y="246.21" width="10.88" height="1.55" fill="#f7cbc0"/>
<rect x="559.56" y="246.21" width="10.88" height="1.55" fill="#f5f9f1"/>
<rect x="570.39" y="246.21" width="10.88" height="1.55" fill="#c3e6c2"/>
<rect x="581.22" y="246.21" width="10.88" height="1.55" fill="#f8e4db"/>
<rect x="592.05" y="246.21" width="10.88" height="1.55" fill="#7bc97d"/>
<rect x="602.88" y="246.21" width="10.88" height="1.55" fill="#f8eae1"/>
<rect x="613.70" y="246.21" width="10.88" height="1.55" fill="#d7edd4"/>
<rect x="624.53" y="246.21" width="10.88" height="1.55" fill="#d6edd3"/>
<rect x="635.36" y="246.21" width="10.88" height="1.55" fill="#f7d0c5"/>
<rect x="646.19" y="246.21" width="10.88" height="1.55" fill="#f9ece4"/>
<rect x="657.02" y="246.21" width="10.88" height="1.55" fill="#f7cbbf"/>
<rect x="537.90" y="247.71" width="10.88" height="1.55" fill="#f7c8bc"/>
<rect x="548.73" y="247.71" width="10.88" height="1.55" fill="#f6b2a4"/>
<rect x="559.56" y="247.71" width="10.88" height="1.55" fill="#f7c4b7"/>
<rect x="570.39" y="247.71" width="10.88" height="1.55" fill="#f9f2ea"/>
<rect x="581.22" y="247.71" width="10.88" height="1.55" fill="#dcefd9"/>
<rect x="592.05" y="247.71" width="10.88" height="1.55" fill="#f7c7bb"/>
<rect x="602.88" y="247.71" width="10.88" height="1.55" fill="#f7c8bc"/>
<rect x="613.70" y="247.71" width="10.88" height="1.55" fill="#f0f7ed"/>
<rect x="624.53" y="247.71" width="10.88" height="1.55" fill="#f7d2c7"/>
<rect x="635.36" y="247.71" width="10.88" height="1.55" fill="#d6edd4"/>
<rect x="646.19" y="247.71" width="10.88" height="1.55" fill="#cde9cb"/>
<rect x="657.02" y="247.71" width="10.88" height="1.55" fill="#f7cabe"/>
<rect x="537.90" y="249.22" width="10.88" height="1.55" fill="#f7cfc4"/>
<rect x="548.73" y="249.22" width="10.88" height="1.55" fill="#f6c0b3"/>
<rect x="559.56" y="249.22" width="10.88" height="1.55" fill="#f5a89a"/>
<rect x="570.39" y="249.22" width="10.88" height="1.55" fill="#f5a99a"/>
<rect x="581.22" y="249.22" width="10.88" height="1.55" fill="#f8dcd2"/>
<rect x="592.05" y="249.22" width="10.88" height="1.55" fill="#f6b6a9"/>
<rect x="602.88" y="249.22" width="10.88" height="1.55" fill="#f7cabe"/>
<rect x="613.70" y="249.22" width="10.88" height="1.55" fill="#f6bdb1"/>
<rect x="624.53" y="249.22" width="10.88" height="1.55" fill="#e0f1dd"/>
<rect x="635.36" y="249.22" width="10.88" height="1.55" fill="#f1f8ed"/>
<rect x="646.19" y="249.22" width="10.88" height="1.55" fill="#d6edd3"/>
<rect x="657.02" y="249.22" width="10.88" height="1.55" fill="#f6b6a8"/>
<rect x="537.90" y="250.72" width="10.88" height="1.55" fill="#f7c6ba"/>
<rect x="548.73" y="250.72" width="10.88" height="1.55" fill="#f7d2c7"/>
<rect x="559.56" y="250.72" width="10.88" height="1.55" fill="#f9ebe2"/>
<rect x="570.39" y="250.72" width="10.88" height="1.55" fill="#f5f9f1"/>
<rect x="581.22" y="250.72" width="10.88" height="1.55" fill="#eff7eb"/>
<rect x="592.05" y="250.72" width="10.88" height="1.55" fill="#f9ebe3"/>
<rect x="602.88" y="250.72" width="10.88" height="1.55" fill="#f8dcd1"/>
<rect x="613.70" y="250.72" width="10.88" height="1.55" fill="#f0f7ec"/>
<rect x="624.53" y="250.72" width="10.88" height="1.55" fill="#d1ebcf"/>
<rect x="635.36" y="250.72" width="10.88" height="1.55" fill="#cfeacd"/>
<rect x="646.19" y="250.72" width="10.88" height="1.55" fill="#b4e0b3"/>
<rect x="657.02" y="250.72" width="10.88" height="1.55" fill="#dff0dc"/>
<rect x="537.90" y="252.22" width="10.88" height="1.55" fill="#f5a293"/>
<rect x="548.73" y="252.22" width="10.88" height="1.55" fill="#f7cbc0"/>
<rect x="559.56" y="252.22" width="10.88" height="1.55" fill="#f8e1d7"/>
<rect x="570.39" y="252.22" width="10.88" height="1.55" fill="#f8d7cc"/>
<rect x="581.22" y="252.22" width="10.88" height="1.55" fill="#f7c6ba"/>
<rect x="592.05" y="252.22" width="10.88" height="1.55" fill="#f6bdb0"/>
<rect x="602.88" y="252.22" width="10.88" height="1.55" fill="#f6c0b3"/>
<rect x="613.70" y="252.22" width="10.88" height="1.55" fill="#f8d9cf"/>
<rect x="624.53" y="252.22" width="10.88" height="1.55" fill="#f2f8ee"/>
<rect x="635.36" y="252.22" width="10.88" height="1.55" fill="#f5a99a"/>
<rect x="646.19" y="252.22" width="10.88" height="1.55" fill="#e4f3e1"/>
<rect x="657.02" y="252.22" width="10.88" height="1.55" fill="#f7c2b6"/>
<rect x="537.90" y="253.73" width="10.88" height="1.55" fill="#f0462f"/>
<rect x="548.73" y="253.73" width="10.88" height="1.55" fill="#f0f7ec"/>
<rect x="559.56" y="253.73" width="10.88" height="1.55" fill="#f5a090"/>
<rect x="570.39" y="253.73" width="10.88" height="1.55" fill="#f8e2d8"/>
<rect x="581.22" y="253.73" width="10.88" height="1.55" fill="#f7cec3"/>
<rect x="592.05" y="253.73" width="10.88" height="1.55" fill="#f9f1e9"/>
<rect x="602.88" y="253.73" width="10.88" height="1.55" fill="#f7cbbf"/>
<rect x="613.70" y="253.73" width="10.88" height="1.55" fill="#f49585"/>
<rect x="624.53" y="253.73" width="10.88" height="1.55" fill="#f7d2c7"/>
<rect x="635.36" y="253.73" width="10.88" height="1.55" fill="#f7c5b9"/>
<rect x="646.19" y="253.73" width="10.88" height="1.55" fill="#f5f9f1"/>
<rect x="657.02" y="253.73" width="10.88" height="1.55" fill="#f59989"/>
<rect x="537.90" y="255.23" width="10.88" height="1.55" fill="#f48a78"/>
<rect x="548.73" y="255.23" width="10.88" height="1.55" fill="#f8eae1"/>
<rect x="559.56" y="255.23" width="10.88" height="1.55" fill="#f7c8bc"/>
<rect x="570.39" y="255.23" width="10.88" height="1.55" fill="#f2f8ee"/>
<rect x="581.22" y="255.23" width="10.88" height="1.55" fill="#bde3bc"/>
<rect x="592.05" y="255.23" width="10.88" height="1.55" fill="#eef7eb"/>
<rect x="602.88" y="255.23" width="10.88" height="1.55" fill="#f5f9f1"/>
<rect x="613.70" y="255.23" width="10.88" height="1.55" fill="#f7cfc3"/>
<rect x="624.53" y="255.23" width="10.88" height="1.55" fill="#f8d6cb"/>
<rect x="635.36" y="255.23" width="10.88" height="1.55" fill="#eff7eb"/>
<rect x="646.19" y="255.23" width="10.88" height="1.55" fill="#c3e5c1"/>
<rect x="657.02" y="255.23" width="10.88" height="1.55" fill="#f7d3c8"/>
<rect x="537.90" y="256.73" width="10.88" height="1.55" fill="#f37d6b"/>
<rect x="548.73" y="256.73" width="10.88" height="1.55" fill="#ebf5e8"/>
<rect x="559.56" y="256.73" width="10.88" height="1.55" fill="#f6c1b5"/>
<rect x="570.39" y="256.73" width="10.88" height="1.55" fill="#f1f7ed"/>
<rect x="581.22" y="256.73" width="10.88" height="1.55" fill="#dcefd9"/>
<rect x="592.05" y="256.73" width="10.88" height="1.55" fill="#f8d8ce"/>
<rect x="602.88" y="256.73" width="10.88" height="1.55" fill="#ecf6e8"/>
<rect x="613.70" y="256.73" width="10.88" height="1.55" fill="#f5a596"/>
<rect x="624.53" y="256.73" width="10.88" height="1.55" fill="#dbefd8"/>
<rect x="635.36" y="256.73" width="10.88" height="1.55" fill="#f8e4db"/>
<rect x="646.19" y="256.73" width="10.88" height="1.55" fill="#bce3bb"/>
<rect x="657.02" y="256.73" width="10.88" height="1.55" fill="#f59d8e"/>
<rect x="537.90" y="258.24" width="10.88" height="1.55" fill="#f48775"/>
<rect x="548.73" y="258.24" width="10.88" height="1.55" fill="#f8e8df"/>
<rect x="559.56" y="258.24" width="10.88" height="1.55" fill="#f9f1e9"/>
<rect x="570.39" y="258.24" width="10.88" height="1.55" fill="#d8eed6"/>
<rect x="581.22" y="258.24" width="10.88" height="1.55" fill="#d4ecd1"/>
<rect x="592.05" y="258.24" width="10.88" height="1.55" fill="#f8e8de"/>
<rect x="602.88" y="258.24" width="10.88" height="1.55" fill="#e9f4e6"/>
<rect x="613.70" y="258.24" width="10.88" height="1.55" fill="#f8dfd5"/>
<rect x="624.53" y="258.24" width="10.88" height="1.55" fill="#e5f3e2"/>
<rect x="635.36" y="258.24" width="10.88" height="1.55" fill="#f8dad0"/>
<rect x="646.19" y="258.24" width="10.88" height="1.55" fill="#cfeacd"/>
<rect x="657.02" y="258.24" width="10.88" height="1.55" fill="#f6b8ab"/>
<rect x="537.90" y="259.74" width="10.88" height="1.55" fill="#f7cfc4"/>
<rect x="548.73" y="259.74" width="10.88" height="1.55" fill="#d8eed5"/>
<rect x="559.56" y="259.74" width="10.88" height="1.55" fill="#f7c7bb"/>
<rect x="570.39" y="259.74" width="10.88" height="1.55" fill="#f9eae2"/>
<rect x="581.22" y="259.74" width="10.88" height="1.55" fill="#e9f4e6"/>
<rect x="592.05" y="259.74" width="10.88" height="1.55" fill="#f9efe7"/>
<rect x="602.88" y="259.74" width="10.88" height="1.55" fill="#e1f1de"/>
<rect x="613.70" y="259.74" width="10.88" height="1.55" fill="#b5e0b4"/>
<rect x="624.53" y="259.74" width="10.88" height="1.55" fill="#cce9ca"/>
<rect x="635.36" y="259.74" width="10.88" height="1.55" fill="#f8e6dc"/>
<rect x="646.19" y="259.74" width="10.88" height="1.55" fill="#c3e5c1"/>
<rect x="657.02" y="259.74" width="10.88" height="1.55" fill="#e8f4e4"/>
<rect x="537.90" y="261.25" width="10.88" height="1.55" fill="#daeed7"/>
<rect x="548.73" y="261.25" width="10.88" height="1.55" fill="#a6daa6"/>
<rect x="559.56" y="261.25" width="10.88" height="1.55" fill="#f8dcd2"/>
<rect x="570.39" y="261.25" width="10.88" height="1.55" fill="#d9eed6"/>
<rect x="581.22" y="261.25" width="10.88" height="1.55" fill="#b2dfb1"/>
<rect x="592.05" y="261.25" width="10.88" height="1.55" fill="#cfeacd"/>
<rect x="602.88" y="261.25" width="10.88" height="1.55" fill="#daeed7"/>
<rect x="613.70" y="261.25" width="10.88" height="1.55" fill="#b7e1b6"/>
<rect x="624.53" y="261.25" width="10.88" height="1.55" fill="#a0d7a0"/>
<rect x="635.36" y="261.25" width="10.88" height="1.55" fill="#f2f8ee"/>
<rect x="646.19" y="261.25" width="10.88" height="1.55" fill="#cbe9c9"/>
<rect x="657.02" y="261.25" width="10.88" height="1.55" fill="#cfeacd"/>
<rect x="537.90" y="262.75" width="10.88" height="1.55" fill="#e8f4e5"/>
<rect x="548.73" y="262.75" width="10.88" height="1.55" fill="#d1ebcf"/>
<rect x="559.56" y="262.75" width="10.88" height="1.55" fill="#f6beb1"/>
<rect x="570.39" y="262.75" width="10.88" height="1.55" fill="#f8dbd1"/>
<rect x="581.22" y="262.75" width="10.88" height="1.55" fill="#f8e3d9"/>
<rect x="592.05" y="262.75" width="10.88" height="1.55" fill="#c7e7c5"/>
<rect x="602.88" y="262.75" width="10.88" height="1.55" fill="#e9f5e6"/>
<rect x="613.70" y="262.75" width="10.88" height="1.55" fill="#bfe4be"/>
<rect x="624.53" y="262.75" width="10.88" height="1.55" fill="#c6e7c4"/>
<rect x="635.36" y="262.75" width="10.88" height="1.55" fill="#e6f3e3"/>
<rect x="646.19" y="262.75" width="10.88" height="1.55" fill="#c7e7c6"/>
<rect x="657.02" y="262.75" width="10.88" height="1.55" fill="#f8e1d7"/>
<rect x="537.90" y="264.25" width="10.88" height="1.55" fill="#f8dbd1"/>
<rect x="548.73" y="264.25" width="10.88" height="1.55" fill="#d8eed6"/>
<rect x="559.56" y="264.25" width="10.88" height="1.55" fill="#f8e6dc"/>
<rect x="570.39" y="264.25" width="10.88" height="1.55" fill="#edf6e9"/>
<rect x="581.22" y="264.25" width="10.88" height="1.55" fill="#f7d4c9"/>
<rect x="592.05" y="264.25" width="10.88" height="1.55" fill="#e3f2e0"/>
<rect x="602.88" y="264.25" width="10.88" height="1.55" fill="#f6bfb2"/>
<rect x="613.70" y="264.25" width="10.88" height="1.55" fill="#c6e6c4"/>
<rect x="624.53" y="264.25" width="10.88" height="1.55" fill="#f9f3eb"/>
<rect x="635.36" y="264.25" width="10.88" height="1.55" fill="#e5f3e2"/>
<rect x="646.19" y="264.25" width="10.88" height="1.55" fill="#d5edd3"/>
<rect x="657.02" y="264.25" width="10.88" height="1.55" fill="#f8e2d9"/>
<rect x="537.90" y="265.76" width="10.88" height="1.55" fill="#ceeacc"/>
<rect x="548.73" y="265.76" width="10.88" height="1.55" fill="#e1f1de"/>
<rect x="559.56" y="265.76" width="10.88" height="1.55" fill="#f3f8ef"/>
<rect x="570.39" y="265.76" width="10.88" height="1.55" fill="#e7f4e4"/>
<rect x="581.22" y="265.76" width="10.88" height="1.55" fill="#f9f3ea"/>
<rect x="592.05" y="265.76" width="10.88" height="1.55" fill="#b7e1b6"/>
<rect x="602.88" y="265.76" width="10.88" height="1.55" fill="#d0ebce"/>
<rect x="613.70" y="265.76" width="10.88" height="1.55" fill="#ddf0da"/>
<rect x="624.53" y="265.76" width="10.88" height="1.55" fill="#e7f3e3"/>
<rect x="635.36" y="265.76" width="10.88" height="1.55" fill="#daeed7"/>
<rect x="646.19" y="265.76" width="10.88" height="1.55" fill="#dbefd8"/>
<rect x="657.02" y="265.76" width="10.88" height="1.55" fill="#f7d2c7"/>
<rect x="537.90" y="267.26" width="10.88" height="1.55" fill="#e6f3e3"/>
<rect x="548.73" y="267.26" width="10.88" height="1.55" fill="#f8d6cb"/>
<rect x="559.56" y="267.26" width="10.88" height="1.55" fill="#eef7eb"/>
<rect x="570.39" y="267.26" width="10.88" height="1.55" fill="#f7c6ba"/>
<rect x="581.22" y="267.26" width="10.88" height="1.55" fill="#f6ae9f"/>
<rect x="592.05" y="267.26" width="10.88" height="1.55" fill="#b1deb0"/>
<rect x="602.88" y="267.26" width="10.88" height="1.55" fill="#f7c4b8"/>
<rect x="613.70" y="267.26" width="10.88" height="1.55" fill="#e0f1dd"/>
<rect x="624.53" y="267.26" width="10.88" height="1.55" fill="#f7d3c8"/>
<rect x="635.36" y="267.26" width="10.88" height="1.55" fill="#d8eed5"/>
<rect x="646.19" y="267.26" width="10.88" height="1.55" fill="#f8eae1"/>
<rect x="657.02" y="267.26" width="10.88" height="1.55" fill="#f8e2d8"/>
<rect x="537.90" y="268.76" width="10.88" height="1.55" fill="#b2dfb1"/>
<rect x="548.73" y="268.76" width="10.88" height="1.55" fill="#d0eacd"/>
<rect x="559.56" y="268.76" width="10.88" height="1.55" fill="#d3ecd0"/>
<rect x="570.39" y="268.76" width="10.88" height="1.55" fill="#eff7eb"/>
<rect x="581.22" y="268.76" width="10.88" height="1.55" fill="#e2f2df"/>
<rect x="592.05" y="268.76" width="10.88" height="1.55" fill="#80cb81"/>
<rect x="602.88" y="268.76" width="10.88" height="1.55" fill="#d0ebce"/>
<rect x="613.70" y="268.76" width="10.88" height="1.55" fill="#e0f1dd"/>
<rect x="624.53" y="268.76" width="10.88" height="1.55" fill="#d8eed6"/>
<rect x="635.36" y="268.76" width="10.88" height="1.55" fill="#f8d8ce"/>
<rect x="646.19" y="268.76" width="10.88" height="1.55" fill="#a6daa6"/>
<rect x="657.02" y="268.76" width="10.88" height="1.55" fill="#ecf5e8"/>
<rect x="537.90" y="270.27" width="10.88" height="1.55" fill="#f1f8ed"/>
<rect x="548.73" y="270.27" width="10.88" height="1.55" fill="#e8f4e5"/>
<rect x="559.56" y="270.27" width="10.88" height="1.55" fill="#e9f4e6"/>
<rect x="570.39" y="270.27" width="10.88" height="1.55" fill="#f8e2d9"/>
<rect x="581.22" y="270.27" width="10.88" height="1.55" fill="#f8dcd2"/>
<rect x="592.05" y="270.27" width="10.88" height="1.55" fill="#a8dba7"/>
<rect x="602.88" y="270.27" width="10.88" height="1.55" fill="#f8e7de"/>
<rect x="613.70" y="270.27" width="10.88" height="1.55" fill="#f9f2ea"/>
<rect x="624.53" y="270.27" width="10.88" height="1.55" fill="#f8ddd3"/>
<rect x="635.36" y="270.27" width="10.88" height="1.55" fill="#cde9cb"/>
<rect x="646.19" y="270.27" width="10.88" height="1.55" fill="#f6f9f2"/>
<rect x="657.02" y="270.27" width="10.88" height="1.55" fill="#f3f9ef"/>
<rect x="537.90" y="271.77" width="10.88" height="1.55" fill="#f8d9ce"/>
<rect x="548.73" y="271.77" width="10.88" height="1.55" fill="#f7d4c9"/>
<rect x="559.56" y="271.77" width="10.88" height="1.55" fill="#f8e8df"/>
<rect x="570.39" y="271.77" width="10.88" height="1.55" fill="#f7ccc1"/>
<rect x="581.22" y="271.77" width="10.88" height="1.55" fill="#f7cdc1"/>
<rect x="592.05" y="271.77" width="10.88" height="1.55" fill="#c2e5c0"/>
<rect x="602.88" y="271.77" width="10.88" height="1.55" fill="#f9f2ea"/>
<rect x="613.70" y="271.77" width="10.88" height="1.55" fill="#dff0dc"/>
<rect x="624.53" y="271.77" width="10.88" height="1.55" fill="#e4f2e1"/>
<rect x="635.36" y="271.77" width="10.88" height="1.55" fill="#f7d6cb"/>
<rect x="646.19" y="271.77" width="10.88" height="1.55" fill="#f7c3b7"/>
<rect x="657.02" y="271.77" width="10.88" height="1.55" fill="#f7d4ca"/>
<rect x="537.90" y="273.27" width="10.88" height="1.55" fill="#f7d3c8"/>
<rect x="548.73" y="273.27" width="10.88" height="1.55" fill="#f7c9bd"/>
<rect x="559.56" y="273.27" width="10.88" height="1.55" fill="#f7cec2"/>
<rect x="570.39" y="273.27" width="10.88" height="1.55" fill="#f7c6ba"/>
<rect x="581.22" y="273.27" width="10.88" height="1.55" fill="#f7d0c4"/>
<rect x="592.05" y="273.27" width="10.88" height="1.55" fill="#f8d8ce"/>
<rect x="602.88" y="273.27" width="10.88" height="1.55" fill="#f7d4c9"/>
<rect x="613.70" y="273.27" width="10.88" height="1.55" fill="#f7c7bb"/>
<rect x="624.53" y="273.27" width="10.88" height="1.55" fill="#f7d3c9"/>
<rect x="635.36" y="273.27" width="10.88" height="1.55" fill="#f59989"/>
<rect x="646.19" y="273.27" width="10.88" height="1.55" fill="#f7d2c7"/>
<rect x="657.02" y="273.27" width="10.88" height="1.55" fill="#f6b4a7"/>
<rect x="537.90" y="274.78" width="10.88" height="1.55" fill="#f7d3c8"/>
<rect x="548.73" y="274.78" width="10.88" height="1.55" fill="#e9f5e6"/>
<rect x="559.56" y="274.78" width="10.88" height="1.55" fill="#ddf0db"/>
<rect x="570.39" y="274.78" width="10.88" height="1.55" fill="#f6bfb2"/>
<rect x="581.22" y="274.78" width="10.88" height="1.55" fill="#e3f2e0"/>
<rect x="592.05" y="274.78" width="10.88" height="1.55" fill="#f9ede5"/>
<rect x="602.88" y="274.78" width="10.88" height="1.55" fill="#f7d4c9"/>
<rect x="613.70" y="274.78" width="10.88" height="1.55" fill="#eff7ec"/>
<rect x="624.53" y="274.78" width="10.88" height="1.55" fill="#f8d6cb"/>
<rect x="635.36" y="274.78" width="10.88" height="1.55" fill="#d5edd2"/>
<rect x="646.19" y="274.78" width="10.88" height="1.55" fill="#f7c9be"/>
<rect x="657.02" y="274.78" width="10.88" height="1.55" fill="#f8e5dc"/>
<rect x="537.90" y="276.28" width="10.88" height="1.55" fill="#f59989"/>
<rect x="548.73" y="276.28" width="10.88" height="1.55" fill="#e2f2df"/>
<rect x="559.56" y="276.28" width="10.88" height="1.55" fill="#f8d7cc"/>
<rect x="570.39" y="276.28" width="10.88" height="1.55" fill="#f5a99a"/>
<rect x="581.22" y="276.28" width="10.88" height="1.55" fill="#f7c4b8"/>
<rect x="592.05" y="276.28" width="10.88" height="1.55" fill="#cbe9c9"/>
<rect x="602.88" y="276.28" width="10.88" height="1.55" fill="#f8e4da"/>
<rect x="613.70" y="276.28" width="10.88" height="1.55" fill="#f6bdb0"/>
<rect x="624.53" y="276.28" width="10.88" height="1.55" fill="#f8dbd1"/>
<rect x="635.36" y="276.28" width="10.88" height="1.55" fill="#f6b3a5"/>
<rect x="646.19" y="276.28" width="10.88" height="1.55" fill="#f2f8ee"/>
<rect x="657.02" y="276.28" width="10.88" height="1.55" fill="#f7d2c7"/>
<rect x="537.90" y="277.78" width="10.88" height="1.55" fill="#f6c1b4"/>
<rect x="548.73" y="277.78" width="10.88" height="1.55" fill="#e3f2df"/>
<rect x="559.56" y="277.78" width="10.88" height="1.55" fill="#cce9ca"/>
<rect x="570.39" y="277.78" width="10.88" height="1.55" fill="#d3ecd1"/>
<rect x="581.22" y="277.78" width="10.88" height="1.55" fill="#eef7eb"/>
<rect x="592.05" y="277.78" width="10.88" height="1.55" fill="#d4ecd1"/>
<rect x="602.88" y="277.78" width="10.88" height="1.55" fill="#d3ecd1"/>
<rect x="613.70" y="277.78" width="10.88" height="1.55" fill="#d6edd3"/>
<rect x="624.53" y="277.78" width="10.88" height="1.55" fill="#f8e0d6"/>
<rect x="635.36" y="277.78" width="10.88" height="1.55" fill="#f7c9bd"/>
<rect x="646.19" y="277.78" width="10.88" height="1.55" fill="#cde9cb"/>
<rect x="657.02" y="277.78" width="10.88" height="1.55" fill="#bfe4be"/>
<rect x="537.90" y="279.29" width="10.88" height="1.55" fill="#f26550"/>
<rect x="548.73" y="279.29" width="10.88" height="1.55" fill="#f5a798"/>
<rect x="559.56" y="279.29" width="10.88" height="1.55" fill="#f6b3a5"/>
<rect x="570.39" y="279.29" width="10.88" height="1.55" fill="#f6b5a8"/>
<rect x="581.22" y="279.29" width="10.88" height="1.55" fill="#f4907f"/>
<rect x="592.05" y="279.29" width="10.88" height="1.55" fill="#f5a99a"/>
<rect x="602.88" y="279.29" width="10.88" height="1.55" fill="#f59a8a"/>
<rect x="613.70" y="279.29" width="10.88" height="1.55" fill="#f8d7cd"/>
<rect x="624.53" y="279.29" width="10.88" height="1.55" fill="#f59c8d"/>
<rect x="635.36" y="279.29" width="10.88" height="1.55" fill="#f5a99b"/>
<rect x="646.19" y="279.29" width="10.88" height="1.55" fill="#f6b8ab"/>
<rect x="657.02" y="279.29" width="10.88" height="1.55" fill="#f5aa9b"/>
<rect x="537.90" y="280.79" width="10.88" height="1.55" fill="#f37a67"/>
<rect x="548.73" y="280.79" width="10.88" height="1.55" fill="#f9ede4"/>
<rect x="559.56" y="280.79" width="10.88" height="1.55" fill="#f4f9f0"/>
<rect x="570.39" y="280.79" width="10.88" height="1.55" fill="#f9eee6"/>
<rect x="581.22" y="280.79" width="10.88" height="1.55" fill="#f7d1c6"/>
<rect x="592.05" y="280.79" width="10.88" height="1.55" fill="#e8f4e5"/>
<rect x="602.88" y="280.79" width="10.88" height="1.55" fill="#f8dacf"/>
<rect x="613.70" y="280.79" width="10.88" height="1.55" fill="#f8e5db"/>
<rect x="624.53" y="280.79" width="10.88" height="1.55" fill="#f7d4c9"/>
<rect x="635.36" y="280.79" width="10.88" height="1.55" fill="#f2f8ee"/>
<rect x="646.19" y="280.79" width="10.88" height="1.55" fill="#f9f3eb"/>
<rect x="657.02" y="280.79" width="10.88" height="1.55" fill="#f8e6dd"/>
<rect x="537.90" y="282.29" width="10.88" height="1.55" fill="#f6b1a3"/>
<rect x="548.73" y="282.29" width="10.88" height="1.55" fill="#d5edd2"/>
<rect x="559.56" y="282.29" width="10.88" height="1.55" fill="#d9eed6"/>
<rect x="570.39" y="282.29" width="10.88" height="1.55" fill="#f1f7ed"/>
<rect x="581.22" y="282.29" width="10.88" height="1.55" fill="#eaf5e6"/>
<rect x="592.05" y="282.29" width="10.88" height="1.55" fill="#f9ece3"/>
<rect x="602.88" y="282.29" width="10.88" height="1.55" fill="#f8e7dd"/>
<rect x="613.70" y="282.29" width="10.88" height="1.55" fill="#cde9ca"/>
<rect x="624.53" y="282.29" width="10.88" height="1.55" fill="#f3f8ef"/>
<rect x="635.36" y="282.29" width="10.88" height="1.55" fill="#f8dcd2"/>
<rect x="646.19" y="282.29" width="10.88" height="1.55" fill="#d7edd4"/>
<rect x="657.02" y="282.29" width="10.88" height="1.55" fill="#e0f1dd"/>
<rect x="537.90" y="283.80" width="10.88" height="1.55" fill="#f8e8df"/>
<rect x="548.73" y="283.80" width="10.88" height="1.55" fill="#e9f5e6"/>
<rect x="559.56" y="283.80" width="10.88" height="1.55" fill="#f7c6b9"/>
<rect x="570.39" y="283.80" width="10.88" height="1.55" fill="#f6bfb3"/>
<rect x="581.22" y="283.80" width="10.88" height="1.55" fill="#f7d1c6"/>
<rect x="592.05" y="283.80" width="10.88" height="1.55" fill="#f6baad"/>
<rect x="602.88" y="283.80" width="10.88" height="1.55" fill="#f59f90"/>
<rect x="613.70" y="283.80" width="10.88" height="1.55" fill="#f8d8ce"/>
<rect x="624.53" y="283.80" width="10.88" height="1.55" fill="#f7cec2"/>
<rect x="635.36" y="283.80" width="10.88" height="1.55" fill="#f7cbc0"/>
<rect x="646.19" y="283.80" width="10.88" height="1.55" fill="#f1f8ed"/>
<rect x="657.02" y="283.80" width="10.88" height="1.55" fill="#f7c7bb"/>
<rect x="537.90" y="285.30" width="10.88" height="1.55" fill="#f5ab9d"/>
<rect x="548.73" y="285.30" width="10.88" height="1.55" fill="#f7cabe"/>
<rect x="559.56" y="285.30" width="10.88" height="1.55" fill="#f8d9cf"/>
<rect x="570.39" y="285.30" width="10.88" height="1.55" fill="#f7d6cb"/>
<rect x="581.22" y="285.30" width="10.88" height="1.55" fill="#f7c2b6"/>
<rect x="592.05" y="285.30" width="10.88" height="1.55" fill="#f6b4a6"/>
<rect x="602.88" y="285.30" width="10.88" height="1.55" fill="#eaf5e6"/>
<rect x="613.70" y="285.30" width="10.88" height="1.55" fill="#f9ece4"/>
<rect x="624.53" y="285.30" width="10.88" height="1.55" fill="#f8eae1"/>
<rect x="635.36" y="285.30" width="10.88" height="1.55" fill="#f8d7cc"/>
<rect x="646.19" y="285.30" width="10.88" height="1.55" fill="#f8d7cd"/>
<rect x="657.02" y="285.30" width="10.88" height="1.55" fill="#f8dfd5"/>
<rect x="537.90" y="286.80" width="10.88" height="1.55" fill="#f5aa9c"/>
<rect x="548.73" y="286.80" width="10.88" height="1.55" fill="#f9efe7"/>
<rect x="559.56" y="286.80" width="10.88" height="1.55" fill="#f8dbd1"/>
<rect x="570.39" y="286.80" width="10.88" height="1.55" fill="#f9eee5"/>
<rect x="581.22" y="286.80" width="10.88" height="1.55" fill="#f6b8ab"/>
<rect x="592.05" y="286.80" width="10.88" height="1.55" fill="#f7d5ca"/>
<rect x="602.88" y="286.80" width="10.88" height="1.55" fill="#f6baad"/>
<rect x="613.70" y="286.80" width="10.88" height="1.55" fill="#f7c6ba"/>
<rect x="624.53" y="286.80" width="10.88" height="1.55" fill="#f8e0d7"/>
<rect x="635.36" y="286.80" width="10.88" height="1.55" fill="#f8e6dc"/>
<rect x="646.19" y="286.80" width="10.88" height="1.55" fill="#f7cec3"/>
<rect x="657.02" y="286.80" width="10.88" height="1.55" fill="#f8e8df"/>
<rect x="537.90" y="288.31" width="10.88" height="1.55" fill="#f6ad9f"/>
<rect x="548.73" y="288.31" width="10.88" height="1.55" fill="#f3f8ef"/>
<rect x="559.56" y="288.31" width="10.88" height="1.55" fill="#f6b2a5"/>
<rect x="570.39" y="288.31" width="10.88" height="1.55" fill="#f9ede4"/>
<rect x="581.22" y="288.31" width="10.88" height="1.55" fill="#f6c0b3"/>
<rect x="592.05" y="288.31" width="10.88" height="1.55" fill="#f8e3da"/>
<rect x="602.88" y="288.31" width="10.88" height="1.55" fill="#cce9ca"/>
<rect x="613.70" y="288.31" width="10.88" height="1.55" fill="#f9f1e8"/>
<rect x="624.53" y="288.31" width="10.88" height="1.55" fill="#f8ddd3"/>
<rect x="635.36" y="288.31" width="10.88" height="1.55" fill="#f7ccc0"/>
<rect x="646.19" y="288.31" width="10.88" height="1.55" fill="#f9efe7"/>
<rect x="657.02" y="288.31" width="10.88" height="1.55" fill="#f5f9f2"/>
<rect x="537.90" y="289.81" width="10.88" height="1.55" fill="#ecf6e9"/>
<rect x="548.73" y="289.81" width="10.88" height="1.55" fill="#edf6e9"/>
<rect x="559.56" y="289.81" width="10.88" height="1.55" fill="#e3f2e0"/>
<rect x="570.39" y="289.81" width="10.88" height="1.55" fill="#f7cfc4"/>
<rect x="581.22" y="289.81" width="10.88" height="1.55" fill="#f7c7bc"/>
<rect x="592.05" y="289.81" width="10.88" height="1.55" fill="#f9efe6"/>
<rect x="602.88" y="289.81" width="10.88" height="1.55" fill="#f7d4c9"/>
<rect x="613.70" y="289.81" width="10.88" height="1.55" fill="#bae2b9"/>
<rect x="624.53" y="289.81" width="10.88" height="1.55" fill="#f4f9f0"/>
<rect x="635.36" y="289.81" width="10.88" height="1.55" fill="#e3f2e0"/>
<rect x="646.19" y="289.81" width="10.88" height="1.55" fill="#d1ebcf"/>
<rect x="657.02" y="289.81" width="10.88" height="1.55" fill="#edf6e9"/>
<rect x="537.90" y="291.31" width="10.88" height="1.55" fill="#f9eae2"/>
<rect x="548.73" y="291.31" width="10.88" height="1.55" fill="#f8dfd6"/>
<rect x="559.56" y="291.31" width="10.88" height="1.55" fill="#e5f3e2"/>
<rect x="570.39" y="291.31" width="10.88" height="1.55" fill="#f4f9f0"/>
<rect x="581.22" y="291.31" width="10.88" height="1.55" fill="#f6b9ac"/>
<rect x="592.05" y="291.31" width="10.88" height="1.55" fill="#f6c1b4"/>
<rect x="602.88" y="291.31" width="10.88" height="1.55" fill="#e6f3e3"/>
<rect x="613.70" y="291.31" width="10.88" height="1.55" fill="#f9eee5"/>
<rect x="624.53" y="291.31" width="10.88" height="1.55" fill="#f7d3c8"/>
<rect x="635.36" y="291.31" width="10.88" height="1.55" fill="#f8e3d9"/>
<rect x="646.19" y="291.31" width="10.88" height="1.55" fill="#d7edd4"/>
<rect x="657.02" y="291.31" width="10.88" height="1.55" fill="#e2f2df"/>
<rect x="537.90" y="292.82" width="10.88" height="1.55" fill="#f6faf2"/>
<rect x="548.73" y="292.82" width="10.88" height="1.55" fill="#f8e5db"/>
<rect x="559.56" y="292.82" width="10.88" height="1.55" fill="#d8eed5"/>
<rect x="570.39" y="292.82" width="10.88" height="1.55" fill="#f8dbd0"/>
<rect x="581.22" y="292.82" width="10.88" height="1.55" fill="#f59d8e"/>
<rect x="592.05" y="292.82" width="10.88" height="1.55" fill="#f8e1d8"/>
<rect x="602.88" y="292.82" width="10.88" height="1.55" fill="#f8dacf"/>
<rect x="613.70" y="292.82" width="10.88" height="1.55" fill="#cae8c8"/>
<rect x="624.53" y="292.82" width="10.88" height="1.55" fill="#f3f8ef"/>
<rect x="635.36" y="292.82" width="10.88" height="1.55" fill="#f2f8ee"/>
<rect x="646.19" y="292.82" width="10.88" height="1.55" fill="#e6f3e3"/>
<rect x="657.02" y="292.82" width="10.88" height="1.55" fill="#daefd7"/>
<rect x="537.90" y="294.32" width="10.88" height="1.55" fill="#f7ccc0"/>
<rect x="548.73" y="294.32" width="10.88" height="1.55" fill="#f7cfc3"/>
<rect x="559.56" y="294.32" width="10.88" height="1.55" fill="#f6bdb0"/>
<rect x="570.39" y="294.32" width="10.88" height="1.55" fill="#f5a697"/>
<rect x="581.22" y="294.32" width="10.88" height="1.55" fill="#f49382"/>
<rect x="592.05" y="294.32" width="10.88" height="1.55" fill="#f7c4b8"/>
<rect x="602.88" y="294.32" width="10.88" height="1.55" fill="#f48877"/>
<rect x="613.70" y="294.32" width="10.88" height="1.55" fill="#f7c8bc"/>
<rect x="624.53" y="294.32" width="10.88" height="1.55" fill="#f7c7bb"/>
<rect x="635.36" y="294.32" width="10.88" height="1.55" fill="#f7d6cb"/>
<rect x="646.19" y="294.32" width="10.88" height="1.55" fill="#f8e2d8"/>
<rect x="657.02" y="294.32" width="10.88" height="1.55" fill="#e5f3e2"/>
<rect x="537.90" y="295.82" width="10.88" height="1.55" fill="#f8e9e0"/>
<rect x="548.73" y="295.82" width="10.88" height="1.55" fill="#f6b4a6"/>
<rect x="559.56" y="295.82" width="10.88" height="1.55" fill="#f9eee6"/>
<rect x="570.39" y="295.82" width="10.88" height="1.55" fill="#f8d8cd"/>
<rect x="581.22" y="295.82" width="10.88" height="1.55" fill="#f59c8d"/>
<rect x="592.05" y="295.82" width="10.88" height="1.55" fill="#f6c0b3"/>
<rect x="602.88" y="295.82" width="10.88" height="1.55" fill="#f8d6cb"/>
<rect x="613.70" y="295.82" width="10.88" height="1.55" fill="#f6f9f2"/>
<rect x="624.53" y="295.82" width="10.88" height="1.55" fill="#f6baad"/>
<rect x="635.36" y="295.82" width="10.88" height="1.55" fill="#e4f3e1"/>
<rect x="646.19" y="295.82" width="10.88" height="1.55" fill="#c6e7c5"/>
<rect x="657.02" y="295.82" width="10.88" height="1.55" fill="#f7c3b7"/>
<rect x="537.90" y="297.33" width="10.88" height="1.55" fill="#f7cfc3"/>
<rect x="548.73" y="297.33" width="10.88" height="1.55" fill="#f6c0b4"/>
<rect x="559.56" y="297.33" width="10.88" height="1.55" fill="#f6bdb0"/>
<rect x="570.39" y="297.33" width="10.88" height="1.55" fill="#f7c5b9"/>
<rect x="581.22" y="297.33" width="10.88" height="1.55" fill="#f7d0c4"/>
<rect x="592.05" y="297.33" width="10.88" height="1.55" fill="#e9f4e6"/>
<rect x="602.88" y="297.33" width="10.88" height="1.55" fill="#f8e0d7"/>
<rect x="613.70" y="297.33" width="10.88" height="1.55" fill="#f7cdc2"/>
<rect x="624.53" y="297.33" width="10.88" height="1.55" fill="#f9ece4"/>
<rect x="635.36" y="297.33" width="10.88" height="1.55" fill="#bae2b9"/>
<rect x="646.19" y="297.33" width="10.88" height="1.55" fill="#cae8c8"/>
<rect x="657.02" y="297.33" width="10.88" height="1.55" fill="#e8f4e5"/>
<rect x="537.90" y="298.83" width="10.88" height="1.55" fill="#f8eae1"/>
<rect x="548.73" y="298.83" width="10.88" height="1.55" fill="#f5a99a"/>
<rect x="559.56" y="298.83" width="10.88" height="1.55" fill="#e8f4e5"/>
<rect x="570.39" y="298.83" width="10.88" height="1.55" fill="#f8d6cb"/>
<rect x="581.22" y="298.83" width="10.88" height="1.55" fill="#e8f4e5"/>
<rect x="592.05" y="298.83" width="10.88" height="1.55" fill="#d4ecd2"/>
<rect x="602.88" y="298.83" width="10.88" height="1.55" fill="#eef6ea"/>
<rect x="613.70" y="298.83" width="10.88" height="1.55" fill="#f4f9f1"/>
<rect x="624.53" y="298.83" width="10.88" height="1.55" fill="#f1f7ed"/>
<rect x="635.36" y="298.83" width="10.88" height="1.55" fill="#f6faf2"/>
<rect x="646.19" y="298.83" width="10.88" height="1.55" fill="#ecf6e8"/>
<rect x="657.02" y="298.83" width="10.88" height="1.55" fill="#f8d9cf"/>
<rect x="537.90" y="300.33" width="10.88" height="1.55" fill="#f8d8ce"/>
<rect x="548.73" y="300.33" width="10.88" height="1.55" fill="#f7ccc0"/>
<rect x="559.56" y="300.33" width="10.88" height="1.55" fill="#f2f8ee"/>
<rect x="570.39" y="300.33" width="10.88" height="1.55" fill="#e8f4e4"/>
<rect x="581.22" y="300.33" width="10.88" height="1.55" fill="#f7d6cb"/>
<rect x="592.05" y="300.33" width="10.88" height="1.55" fill="#eef7eb"/>
<rect x="602.88" y="300.33" width="10.88" height="1.55" fill="#f8e5dc"/>
<rect x="613.70" y="300.33" width="10.88" height="1.55" fill="#f7ccc1"/>
<rect x="624.53" y="300.33" width="10.88" height="1.55" fill="#f7d0c5"/>
<rect x="635.36" y="300.33" width="10.88" height="1.55" fill="#f6bfb3"/>
<rect x="646.19" y="300.33" width="10.88" height="1.55" fill="#cdeacb"/>
<rect x="657.02" y="300.33" width="10.88" height="1.55" fill="#d1ebcf"/>
<rect x="537.90" y="301.84" width="10.88" height="1.55" fill="#f7cdc2"/>
<rect x="548.73" y="301.84" width="10.88" height="1.55" fill="#f4f9f1"/>
<rect x="559.56" y="301.84" width="10.88" height="1.55" fill="#e0f1dd"/>
<rect x="570.39" y="301.84" width="10.88" height="1.55" fill="#f8e4da"/>
<rect x="581.22" y="301.84" width="10.88" height="1.55" fill="#f8e4db"/>
<rect x="592.05" y="301.84" width="10.88" height="1.55" fill="#f7d4ca"/>
<rect x="602.88" y="301.84" width="10.88" height="1.55" fill="#e1f1de"/>
<rect x="613.70" y="301.84" width="10.88" height="1.55" fill="#e1f1de"/>
<rect x="624.53" y="301.84" width="10.88" height="1.55" fill="#f9ede4"/>
<rect x="635.36" y="301.84" width="10.88" height="1.55" fill="#afdeaf"/>
<rect x="646.19" y="301.84" width="10.88" height="1.55" fill="#e0f1dd"/>
<rect x="657.02" y="301.84" width="10.88" height="1.55" fill="#f7cec3"/>
<rect x="537.90" y="303.34" width="10.88" height="1.55" fill="#f9f0e8"/>
<rect x="548.73" y="303.34" width="10.88" height="1.55" fill="#f8e0d7"/>
<rect x="559.56" y="303.34" width="10.88" height="1.55" fill="#f7d4ca"/>
<rect x="570.39" y="303.34" width="10.88" height="1.55" fill="#f9eee6"/>
<rect x="581.22" y="303.34" width="10.88" height="1.55" fill="#f5ad9e"/>
<rect x="592.05" y="303.34" width="10.88" height="1.55" fill="#f6b9ac"/>
<rect x="602.88" y="303.34" width="10.88" height="1.55" fill="#f7d3c8"/>
<rect x="613.70" y="303.34" width="10.88" height="1.55" fill="#f6c0b4"/>
<rect x="624.53" y="303.34" width="10.88" height="1.55" fill="#f7cdc2"/>
<rect x="635.36" y="303.34" width="10.88" height="1.55" fill="#edf6e9"/>
<rect x="646.19" y="303.34" width="10.88" height="1.55" fill="#f9eee6"/>
<rect x="657.02" y="303.34" width="10.88" height="1.55" fill="#f6bfb2"/>
<rect x="537.90" y="304.84" width="10.88" height="1.55" fill="#f7c7bb"/>
<rect x="548.73" y="304.84" width="10.88" height="1.55" fill="#f8d7cd"/>
<rect x="559.56" y="304.84" width="10.88" height="1.55" fill="#f6b3a5"/>
<rect x="570.39" y="304.84" width="10.88" height="1.55" fill="#f7c2b5"/>
<rect x="581.22" y="304.84" width="10.88" height="1.55" fill="#f48c7b"/>
<rect x="592.05" y="304.84" width="10.88" height="1.55" fill="#f6b4a6"/>
<rect x="602.88" y="304.84" width="10.88" height="1.55" fill="#f6c1b4"/>
<rect x="613.70" y="304.84" width="10.88" height="1.55" fill="#f8ddd3"/>
<rect x="624.53" y="304.84" width="10.88" height="1.55" fill="#f6b1a3"/>
<rect x="635.36" y="304.84" width="10.88" height="1.55" fill="#f8e2d9"/>
<rect x="646.19" y="304.84" width="10.88" height="1.55" fill="#f8e1d7"/>
<rect x="657.02" y="304.84" width="10.88" height="1.55" fill="#f8dfd5"/>
<rect x="537.90" y="306.35" width="10.88" height="1.55" fill="#e6f3e3"/>
<rect x="548.73" y="306.35" width="10.88" height="1.55" fill="#cae8c8"/>
<rect x="559.56" y="306.35" width="10.88" height="1.55" fill="#98d498"/>
<rect x="570.39" y="306.35" width="10.88" height="1.55" fill="#c1e5bf"/>
<rect x="581.22" y="306.35" width="10.88" height="1.55" fill="#eaf5e7"/>
<rect x="592.05" y="306.35" width="10.88" height="1.55" fill="#d6edd4"/>
<rect x="602.88" y="306.35" width="10.88" height="1.55" fill="#d9eed7"/>
<rect x="613.70" y="306.35" width="10.88" height="1.55" fill="#d2ebcf"/>
<rect x="624.53" y="306.35" width="10.88" height="1.55" fill="#e9f4e6"/>
<rect x="635.36" y="306.35" width="10.88" height="1.55" fill="#cae8c8"/>
<rect x="646.19" y="306.35" width="10.88" height="1.55" fill="#ceeacc"/>
<rect x="657.02" y="306.35" width="10.88" height="1.55" fill="#f9eae2"/>
<rect x="537.90" y="89.6" width="10.88" height="1.9" fill="#b6e0b5"/>
<rect x="548.73" y="89.6" width="10.88" height="1.9" fill="#b6e0b5"/>
<rect x="559.56" y="89.6" width="10.88" height="1.9" fill="#a3d9a3"/>
<rect x="570.39" y="89.6" width="10.88" height="1.9" fill="#a3d9a3"/>
<rect x="581.22" y="89.6" width="10.88" height="1.9" fill="#a3d9a3"/>
<rect x="592.05" y="89.6" width="10.88" height="1.9" fill="#91d291"/>
<rect x="602.88" y="89.6" width="10.88" height="1.9" fill="#a3d9a3"/>
<rect x="613.70" y="89.6" width="10.88" height="1.9" fill="#b6e0b5"/>
<rect x="624.53" y="89.6" width="10.88" height="1.9" fill="#a3d9a3"/>
<rect x="635.36" y="89.6" width="10.88" height="1.9" fill="#b6e0b5"/>
<rect x="646.19" y="89.6" width="10.88" height="1.9" fill="#b6e0b5"/>
<rect x="657.02" y="89.6" width="10.88" height="1.9" fill="#a3d9a3"/>
</g>
<defs><linearGradient id="cb" x1="0" y1="0" x2="0" y2="1"><stop offset="0.000" stop-color="#f03e26"/><stop offset="0.050" stop-color="#f14932"/><stop offset="0.100" stop-color="#f2543f"/><stop offset="0.150" stop-color="#f3604d"/><stop offset="0.200" stop-color="#f46d5b"/><stop offset="0.250" stop-color="#f57b6b"/><stop offset="0.300" stop-color="#f68a7c"/><stop offset="0.350" stop-color="#f79b8f"/><stop offset="0.400" stop-color="#f9afa5"/><stop offset="0.450" stop-color="#fbc9c2"/><stop offset="0.500" stop-color="#ffffff"/><stop offset="0.550" stop-color="#cbeacc"/><stop offset="0.600" stop-color="#b3e0b4"/><stop offset="0.650" stop-color="#a0d8a2"/><stop offset="0.700" stop-color="#8fd292"/><stop offset="0.750" stop-color="#81cc83"/><stop offset="0.800" stop-color="#73c676"/><stop offset="0.850" stop-color="#67c16a"/><stop offset="0.900" stop-color="#5bbd5f"/><stop offset="0.950" stop-color="#50b854"/><stop offset="1.000" stop-color="#46b44a"/></linearGradient></defs>
<rect x="671.00" y="19.20" width="6.20" height="97.80" fill="url(#cb)"/>
<text x="679.20" y="27.70" font-size="6.3" text-anchor="start" fill="#222">4</text>
<text x="679.20" y="49.50" font-size="6.3" text-anchor="start" fill="#222">2</text>
<text x="679.20" y="71.20" font-size="6.3" text-anchor="start" fill="#222">0</text>
<text x="678.60" y="92.50" font-size="6.3" text-anchor="start" fill="#222">-2</text>
<text x="678.60" y="114.50" font-size="6.3" text-anchor="start" fill="#222">-4</text>
<path d="M564.97,18.80 V7.50 H575.80 V18.80" fill="none" stroke="#444" stroke-width="0.75"/>
<path d="M554.14,18.80 V5.30 H570.39 V7.50" fill="none" stroke="#444" stroke-width="0.75"/>
<path d="M543.31,18.80 V3.40 H562.27 V5.30" fill="none" stroke="#444" stroke-width="0.75"/>
<path d="M619.12,18.80 V8.50 H629.95 V18.80" fill="none" stroke="#444" stroke-width="0.75"/>
<path d="M608.29,18.80 V7.20 H624.53 V8.50" fill="none" stroke="#444" stroke-width="0.75"/>
<path d="M597.46,18.80 V6.30 H616.41 V7.20" fill="none" stroke="#444" stroke-width="0.75"/>
<path d="M586.63,18.80 V5.30 H606.94 V6.30" fill="none" stroke="#444" stroke-width="0.75"/>
<path d="M651.61,18.80 V5.90 H662.44 V18.80" fill="none" stroke="#444" stroke-width="0.75"/>
<path d="M640.78,18.80 V4.60 H657.02 V5.90" fill="none" stroke="#444" stroke-width="0.75"/>
<path d="M596.78,5.30 V2.20 H648.90 V4.60" fill="none" stroke="#444" stroke-width="0.75"/>
<path d="M552.79,3.40 V0.50 H622.84 V2.20" fill="none" stroke="#444" stroke-width="0.75"/>
<path d="M531.20,45.30 H519.20 V148.20 H527.20" fill="none" stroke="#444" stroke-width="0.75"/>
<path d="M534.50,30.30 H531.20 V59.50 H534.00" fill="none" stroke="#444" stroke-width="0.75"/>
<path d="M533.50,104.00 H527.20 V190.50 H533.30" fill="none" stroke="#444" stroke-width="0.75"/>
<path d="M535.50,90.00 H533.50 V118.00 H535.50" fill="none" stroke="#444" stroke-width="0.75"/>
<path d="M535.30,155.00 H533.30 V255.00 H535.30" fill="none" stroke="#444" stroke-width="0.75"/>
<path d="M536.00,22.00 H534.50 V38.00 H536.00" fill="none" stroke="#444" stroke-width="0.75"/>
<path d="M536.00,50.00 H534.00 V70.00 H536.00" fill="none" stroke="#444" stroke-width="0.75"/>
<path d="M536.90,19.70 H534.97 V23.80 H536.90" fill="none" stroke="#555" stroke-width="0.45"/>
<path d="M536.90,24.98 H535.67 V29.07 H536.90" fill="none" stroke="#555" stroke-width="0.45"/>
<path d="M536.90,30.71 H533.66 V33.84 H536.90" fill="none" stroke="#555" stroke-width="0.45"/>
<path d="M536.90,36.51 H535.03 V41.17 H536.90" fill="none" stroke="#555" stroke-width="0.45"/>
<path d="M536.90,39.41 H534.63 V41.77 H536.90" fill="none" stroke="#555" stroke-width="0.45"/>
<path d="M536.90,43.81 H534.86 V45.36 H536.90" fill="none" stroke="#555" stroke-width="0.45"/>
<path d="M536.90,47.07 H534.21 V51.78 H536.90" fill="none" stroke="#555" stroke-width="0.45"/>
<path d="M536.90,52.25 H533.95 V56.54 H536.90" fill="none" stroke="#555" stroke-width="0.45"/>
<path d="M536.90,55.24 H534.96 V57.18 H536.90" fill="none" stroke="#555" stroke-width="0.45"/>
<path d="M536.90,57.74 H535.52 V59.98 H536.90" fill="none" stroke="#555" stroke-width="0.45"/>
<path d="M536.90,61.00 H535.76 V65.55 H536.90" fill="none" stroke="#555" stroke-width="0.45"/>
<path d="M536.90,64.51 H535.72 V67.90 H536.90" fill="none" stroke="#555" stroke-width="0.45"/>
<path d="M536.90,69.38 H534.05 V74.18 H536.90" fill="none" stroke="#555" stroke-width="0.45"/>
<path d="M536.90,74.30 H535.73 V78.93 H536.90" fill="none" stroke="#555" stroke-width="0.45"/>
<path d="M536.90,77.85 H534.39 V79.93 H536.90" fill="none" stroke="#555" stroke-width="0.45"/>
<path d="M536.90,80.86 H533.74 V83.41 H536.90" fill="none" stroke="#555" stroke-width="0.45"/>
<path d="M536.90,85.47 H533.61 V89.34 H536.90" fill="none" stroke="#555" stroke-width="0.45"/>
<path d="M536.90,89.15 H534.28 V93.51 H536.90" fill="none" stroke="#555" stroke-width="0.45"/>
<path d="M536.90,93.33 H534.29 V96.52 H536.90" fill="none" stroke="#555" stroke-width="0.45"/>
<path d="M536.90,98.30 H533.73 V103.21 H536.90" fill="none" stroke="#555" stroke-width="0.45"/>
<path d="M536.90,100.88 H535.25 V105.33 H536.90" fill="none" stroke="#555" stroke-width="0.45"/>
<path d="M536.90,103.44 H535.33 V106.22 H536.90" fill="none" stroke="#555" stroke-width="0.45"/>
<path d="M536.90,107.97 H533.62 V109.63 H536.90" fill="none" stroke="#555" stroke-width="0.45"/>
<path d="M536.90,111.10 H535.70 V113.29 H536.90" fill="none" stroke="#555" stroke-width="0.45"/>
<path d="M536.90,116.24 H535.65 V121.04 H536.90" fill="none" stroke="#555" stroke-width="0.45"/>
<path d="M536.90,119.95 H534.38 V123.29 H536.90" fill="none" stroke="#555" stroke-width="0.45"/>
<path d="M536.90,125.16 H533.84 V129.28 H536.90" fill="none" stroke="#555" stroke-width="0.45"/>
<path d="M536.90,130.45 H535.49 V132.08 H536.90" fill="none" stroke="#555" stroke-width="0.45"/>
<path d="M536.90,136.26 H533.80 V138.96 H536.90" fill="none" stroke="#555" stroke-width="0.45"/>
<path d="M536.90,140.90 H535.62 V143.59 H536.90" fill="none" stroke="#555" stroke-width="0.45"/>
<path d="M536.90,146.64 H534.80 V149.23 H536.90" fill="none" stroke="#555" stroke-width="0.45"/>
<path d="M536.90,150.25 H533.99 V152.02 H536.90" fill="none" stroke="#555" stroke-width="0.45"/>
<path d="M536.90,153.27 H535.12 V158.26 H536.90" fill="none" stroke="#555" stroke-width="0.45"/>
<path d="M536.90,156.33 H533.71 V161.29 H536.90" fill="none" stroke="#555" stroke-width="0.45"/>
<path d="M536.90,160.70 H534.49 V163.03 H536.90" fill="none" stroke="#555" stroke-width="0.45"/>
<path d="M536.90,165.28 H535.42 V168.37 H536.90" fill="none" stroke="#555" stroke-width="0.45"/>
<path d="M536.90,169.25 H533.72 V173.96 H536.90" fill="none" stroke="#555" stroke-width="0.45"/>
<path d="M536.90,171.87 H534.69 V176.30 H536.90" fill="none" stroke="#555" stroke-width="0.45"/>
<path d="M536.90,174.83 H535.21 V179.65 H536.90" fill="none" stroke="#555" stroke-width="0.45"/>
<path d="M536.90,179.53 H535.33 V181.41 H536.90" fill="none" stroke="#555" stroke-width="0.45"/>
<path d="M536.90,183.55 H533.93 V188.01 H536.90" fill="none" stroke="#555" stroke-width="0.45"/>
<path d="M536.90,187.09 H534.60 V192.08 H536.90" fill="none" stroke="#555" stroke-width="0.45"/>
<path d="M536.90,192.57 H535.75 V195.66 H536.90" fill="none" stroke="#555" stroke-width="0.45"/>
<path d="M536.90,196.78 H535.20 V199.95 H536.90" fill="none" stroke="#555" stroke-width="0.45"/>
<path d="M536.90,200.30 H534.49 V202.31 H536.90" fill="none" stroke="#555" stroke-width="0.45"/>
<path d="M536.90,204.11 H535.77 V208.97 H536.90" fill="none" stroke="#555" stroke-width="0.45"/>
<path d="M536.90,208.81 H534.70 V211.49 H536.90" fill="none" stroke="#555" stroke-width="0.45"/>
<path d="M536.90,211.62 H534.20 V215.86 H536.90" fill="none" stroke="#555" stroke-width="0.45"/>
<path d="M536.90,217.16 H534.39 V221.41 H536.90" fill="none" stroke="#555" stroke-width="0.45"/>
<path d="M536.90,222.37 H535.13 V226.19 H536.90" fill="none" stroke="#555" stroke-width="0.45"/>
<path d="M536.90,227.53 H534.40 V231.49 H536.90" fill="none" stroke="#555" stroke-width="0.45"/>
<path d="M536.90,231.01 H534.67 V235.21 H536.90" fill="none" stroke="#555" stroke-width="0.45"/>
<path d="M536.90,235.93 H534.25 V240.74 H536.90" fill="none" stroke="#555" stroke-width="0.45"/>
<path d="M536.90,240.70 H534.88 V242.24 H536.90" fill="none" stroke="#555" stroke-width="0.45"/>
<path d="M536.90,245.12 H534.15 V248.97 H536.90" fill="none" stroke="#555" stroke-width="0.45"/>
<path d="M536.90,249.24 H535.40 V253.00 H536.90" fill="none" stroke="#555" stroke-width="0.45"/>
<path d="M536.90,254.53 H534.37 V258.28 H536.90" fill="none" stroke="#555" stroke-width="0.45"/>
<path d="M536.90,259.61 H535.42 V262.34 H536.90" fill="none" stroke="#555" stroke-width="0.45"/>
<path d="M536.90,265.06 H535.51 V268.97 H536.90" fill="none" stroke="#555" stroke-width="0.45"/>
<path d="M536.90,270.98 H535.70 V274.29 H536.90" fill="none" stroke="#555" stroke-width="0.45"/>
<path d="M536.90,275.33 H533.97 V279.76 H536.90" fill="none" stroke="#555" stroke-width="0.45"/>
<path d="M536.90,281.11 H534.65 V285.03 H536.90" fill="none" stroke="#555" stroke-width="0.45"/>
<path d="M536.90,286.13 H535.21 V288.23 H536.90" fill="none" stroke="#555" stroke-width="0.45"/>
<path d="M536.90,291.36 H534.88 V295.19 H536.90" fill="none" stroke="#555" stroke-width="0.45"/>
<path d="M536.90,295.33 H534.97 V299.55 H536.90" fill="none" stroke="#555" stroke-width="0.45"/>
<path d="M536.90,300.06 H535.18 V301.66 H536.90" fill="none" stroke="#555" stroke-width="0.45"/>
<path d="M536.90,303.12 H534.57 V306.90 H536.90" fill="none" stroke="#555" stroke-width="0.45"/>
<path d="M536.90,306.39 H535.11 V307.85 H536.90" fill="none" stroke="#555" stroke-width="0.45"/>
<path d="M537.6,19.50 L536.05,19.50 L535.39,20.62 L535.81,21.60 L535.61,22.66 L536.04,23.51 L536.28,24.84 L535.68,26.47 L535.30,28.53 L535.75,29.90 L535.48,31.27 L535.90,33.24 L536.28,34.09 L536.17,35.02 L536.23,36.29 L536.61,38.44 L536.60,39.82 L535.89,41.52 L536.25,42.52 L536.83,44.11 L536.27,46.27 L536.73,47.56 L535.47,48.36 L536.28,49.95 L536.31,50.95 L535.90,53.00 L535.66,54.40 L536.86,55.61 L536.84,56.94 L536.25,59.02 L536.87,60.18 L535.96,61.68 L536.87,62.92 L535.76,64.41 L535.50,65.88 L536.01,67.55 L536.55,68.76 L535.32,70.72 L535.74,72.26 L536.55,74.37 L535.73,75.52 L536.88,76.53 L536.27,77.74 L536.33,79.21 L536.49,80.85 L536.52,81.82 L536.15,83.04 L535.77,84.31 L536.04,85.85 L536.49,87.16 L535.36,88.79 L536.03,89.94 L536.72,92.02 L535.32,93.59 L535.98,95.48 L536.43,97.08 L536.07,98.77 L535.92,100.84 L536.66,102.19 L535.77,103.27 L535.41,105.23 L536.41,107.20 L535.76,108.61 L536.76,110.50 L536.07,111.50 L536.10,113.07 L535.55,114.33 L536.60,115.95 L535.67,116.85 L536.57,118.79 L535.34,120.52 L536.87,122.33 L536.42,124.53 L536.65,125.40 L536.33,126.51 L536.44,128.64 L535.77,129.63 L535.54,131.71 L535.96,133.37 L536.30,134.40 L535.47,135.26 L535.42,136.59 L536.22,137.47 L536.71,139.31 L535.99,140.29 L536.26,141.54 L536.80,143.02 L535.39,144.34 L535.54,146.12 L536.11,147.80 L536.19,149.88 L535.72,151.55 L535.71,153.12 L536.13,154.97 L535.68,155.96 L536.48,157.28 L536.44,158.33 L535.44,160.05 L535.45,161.78 L536.25,162.76 L536.70,163.89 L535.82,165.36 L535.35,167.28 L535.39,169.09 L536.82,170.10 L535.66,171.86 L536.86,172.82 L536.61,174.55 L536.30,175.55 L535.68,176.84 L536.28,178.11 L535.92,179.40 L536.63,180.39 L536.59,182.10 L536.66,183.50 L536.25,185.03 L536.48,186.63 L535.46,187.98 L535.62,188.83 L536.72,189.69 L536.52,191.16 L536.05,191.96 L536.29,194.00 L536.04,195.41 L535.55,196.34 L535.90,197.37 L536.71,198.71 L535.71,199.72 L535.56,200.91 L535.68,202.11 L535.35,203.59 L535.89,205.68 L536.40,207.79 L536.05,209.54 L535.49,211.66 L535.77,213.40 L536.47,215.14 L535.62,216.17 L535.67,217.00 L535.94,217.91 L535.88,220.08 L536.05,221.31 L536.47,222.51 L535.56,224.31 L536.38,225.45 L536.33,227.57 L536.86,228.97 L535.40,229.78 L535.96,231.67 L536.18,232.53 L536.13,234.72 L535.45,236.01 L536.74,236.91 L536.80,238.40 L535.69,239.27 L535.94,240.14 L535.71,241.03 L535.79,242.40 L535.36,243.27 L535.59,245.43 L535.94,246.94 L535.43,248.48 L535.47,249.72 L536.77,251.28 L536.67,252.92 L535.33,254.02 L536.08,255.58 L535.90,257.18 L536.46,258.85 L535.79,260.93 L536.62,262.36 L535.49,263.47 L535.44,264.71 L536.61,266.59 L535.51,267.83 L535.69,268.74 L535.99,269.66 L535.69,271.27 L536.42,272.15 L535.62,273.02 L535.90,274.22 L535.97,275.16 L536.50,276.40 L536.73,277.98 L536.52,279.69 L536.01,281.30 L536.35,283.24 L536.46,285.38 L535.73,287.16 L535.91,289.10 L535.41,290.08 L535.72,291.12 L535.76,292.86 L536.52,293.75 L535.34,295.33 L535.51,296.20 L536.68,297.50 L536.28,299.63 L535.99,300.75 L535.83,302.06 L536.24,302.88 L536.46,304.84 L536.15,305.77 L536.44,306.81 L536.50,307.85 L537.6,307.85 Z" fill="#111"/>
<line x1="537.40" y1="19.50" x2="537.40" y2="307.85" stroke="#000" stroke-width="1.0"/>
<text x="539.81" y="310.00" font-size="6.3" text-anchor="start" fill="#222" transform="rotate(90 539.81 310.00)">Kidney</text>
<text x="550.64" y="310.00" font-size="6.3" text-anchor="start" fill="#222" transform="rotate(90 550.64 310.00)">Thyroid</text>
<text x="561.47" y="310.00" font-size="6.3" text-anchor="start" fill="#222" transform="rotate(90 561.47 310.00)">Breast</text>
<text x="572.30" y="310.00" font-size="6.3" text-anchor="start" fill="#222" transform="rotate(90 572.30 310.00)">Prostate</text>
<text x="583.13" y="310.00" font-size="6.3" text-anchor="start" fill="#222" transform="rotate(90 583.13 310.00)">Colorectal</text>
<text x="593.96" y="310.00" font-size="6.3" text-anchor="start" fill="#222" transform="rotate(90 593.96 310.00)">Head-Neck</text>
<text x="604.79" y="310.00" font-size="6.3" text-anchor="start" fill="#222" transform="rotate(90 604.79 310.00)">Bladder-Urothelial</text>
<text x="615.62" y="310.00" font-size="6.3" text-anchor="start" fill="#222" transform="rotate(90 615.62 310.00)">Esophagus</text>
<text x="626.45" y="310.00" font-size="6.3" text-anchor="start" fill="#222" transform="rotate(90 626.45 310.00)">Stomach</text>
<text x="637.28" y="310.00" font-size="6.3" text-anchor="start" fill="#222" transform="rotate(90 637.28 310.00)">Liver</text>
<text x="648.11" y="310.00" font-size="6.3" text-anchor="start" fill="#222" transform="rotate(90 648.11 310.00)">Lung</text>
<text x="658.94" y="310.00" font-size="6.3" text-anchor="start" fill="#222" transform="rotate(90 658.94 310.00)">Uterus</text>
<line x1="61.25" y1="465.45" x2="129.55" y2="465.45" stroke="#bdbdbd" stroke-width="0.75" stroke-dasharray="3.4,3.1"/>
<line x1="58.45" y1="465.45" x2="61.25" y2="465.45" stroke="#222" stroke-width="0.75"/>
<text x="56.85" y="466.95" font-size="4.2" text-anchor="end" fill="#222" stroke="#222" stroke-width="0.12">0</text>
<line x1="61.25" y1="449.53" x2="129.55" y2="449.53" stroke="#bdbdbd" stroke-width="0.75" stroke-dasharray="3.4,3.1"/>
<line x1="58.45" y1="449.53" x2="61.25" y2="449.53" stroke="#222" stroke-width="0.75"/>
<text x="56.85" y="451.03" font-size="4.2" text-anchor="end" fill="#222" stroke="#222" stroke-width="0.12">10</text>
<line x1="61.25" y1="438.52" x2="129.55" y2="438.52" stroke="#bdbdbd" stroke-width="0.75" stroke-dasharray="3.4,3.1"/>
<line x1="58.45" y1="438.52" x2="61.25" y2="438.52" stroke="#222" stroke-width="0.75"/>
<text x="56.85" y="440.02" font-size="4.2" text-anchor="end" fill="#222" stroke="#222" stroke-width="0.12">50</text>
<line x1="61.25" y1="433.75" x2="129.55" y2="433.75" stroke="#bdbdbd" stroke-width="0.75" stroke-dasharray="3.4,3.1"/>
<line x1="58.45" y1="433.75" x2="61.25" y2="433.75" stroke="#222" stroke-width="0.75"/>
<text x="56.85" y="435.25" font-size="4.2" text-anchor="end" fill="#222" stroke="#222" stroke-width="0.12">100</text>
<line x1="61.25" y1="427.44" x2="129.55" y2="427.44" stroke="#bdbdbd" stroke-width="0.75" stroke-dasharray="3.4,3.1"/>
<line x1="58.45" y1="427.44" x2="61.25" y2="427.44" stroke="#222" stroke-width="0.75"/>
<text x="56.85" y="428.94" font-size="4.2" text-anchor="end" fill="#222" stroke="#222" stroke-width="0.12">250</text>
<line x1="61.25" y1="422.67" x2="129.55" y2="422.67" stroke="#bdbdbd" stroke-width="0.75" stroke-dasharray="3.4,3.1"/>
<line x1="58.45" y1="422.67" x2="61.25" y2="422.67" stroke="#222" stroke-width="0.75"/>
<text x="56.85" y="424.17" font-size="4.2" text-anchor="end" fill="#222" stroke="#222" stroke-width="0.12">500</text>
<line x1="61.25" y1="417.90" x2="129.55" y2="417.90" stroke="#bdbdbd" stroke-width="0.75" stroke-dasharray="3.4,3.1"/>
<line x1="58.45" y1="417.90" x2="61.25" y2="417.90" stroke="#222" stroke-width="0.75"/>
<text x="56.85" y="419.40" font-size="4.2" text-anchor="end" fill="#222" stroke="#222" stroke-width="0.12">1000</text>
<line x1="61.25" y1="411.59" x2="129.55" y2="411.59" stroke="#bdbdbd" stroke-width="0.75" stroke-dasharray="3.4,3.1"/>
<line x1="58.45" y1="411.59" x2="61.25" y2="411.59" stroke="#222" stroke-width="0.75"/>
<text x="56.85" y="413.09" font-size="4.2" text-anchor="end" fill="#222" stroke="#222" stroke-width="0.12">2500</text>
<line x1="61.25" y1="406.82" x2="129.55" y2="406.82" stroke="#bdbdbd" stroke-width="0.75" stroke-dasharray="3.4,3.1"/>
<line x1="58.45" y1="406.82" x2="61.25" y2="406.82" stroke="#222" stroke-width="0.75"/>
<text x="56.85" y="408.32" font-size="4.2" text-anchor="end" fill="#222" stroke="#222" stroke-width="0.12">5000</text>
<line x1="61.25" y1="402.05" x2="129.55" y2="402.05" stroke="#bdbdbd" stroke-width="0.75" stroke-dasharray="3.4,3.1"/>
<line x1="58.45" y1="402.05" x2="61.25" y2="402.05" stroke="#222" stroke-width="0.75"/>
<text x="56.85" y="403.55" font-size="4.2" text-anchor="end" fill="#222" stroke="#222" stroke-width="0.12">10000</text>
<line x1="61.25" y1="395.74" x2="129.55" y2="395.74" stroke="#bdbdbd" stroke-width="0.75" stroke-dasharray="3.4,3.1"/>
<line x1="58.45" y1="395.74" x2="61.25" y2="395.74" stroke="#222" stroke-width="0.75"/>
<text x="56.85" y="397.24" font-size="4.2" text-anchor="end" fill="#222" stroke="#222" stroke-width="0.12">25000</text>
<line x1="61.25" y1="390.97" x2="129.55" y2="390.97" stroke="#bdbdbd" stroke-width="0.75" stroke-dasharray="3.4,3.1"/>
<line x1="58.45" y1="390.97" x2="61.25" y2="390.97" stroke="#222" stroke-width="0.75"/>
<text x="56.85" y="392.47" font-size="4.2" text-anchor="end" fill="#222" stroke="#222" stroke-width="0.12">50000</text>
<line x1="61.25" y1="386.20" x2="129.55" y2="386.20" stroke="#bdbdbd" stroke-width="0.75" stroke-dasharray="3.4,3.1"/>
<line x1="58.45" y1="386.20" x2="61.25" y2="386.20" stroke="#222" stroke-width="0.75"/>
<text x="56.85" y="387.70" font-size="4.2" text-anchor="end" fill="#222" stroke="#222" stroke-width="0.12">100000</text>
<line x1="61.25" y1="381.43" x2="129.55" y2="381.43" stroke="#bdbdbd" stroke-width="0.75" stroke-dasharray="3.4,3.1"/>
<line x1="58.45" y1="381.43" x2="61.25" y2="381.43" stroke="#222" stroke-width="0.75"/>
<text x="56.85" y="382.93" font-size="4.2" text-anchor="end" fill="#222" stroke="#222" stroke-width="0.12">200000</text>
<path d="M83.35,416.00 L83.43,416.40 L83.53,416.80 L83.63,417.20 L83.74,417.60 L83.85,418.00 L83.97,418.40 L84.10,418.81 L84.24,419.21 L84.38,419.61 L84.52,420.01 L84.67,420.41 L84.83,420.81 L84.99,421.21 L85.15,421.61 L85.32,422.01 L85.49,422.41 L85.67,422.81 L85.85,423.21 L86.03,423.61 L86.23,424.02 L86.44,424.42 L86.66,424.82 L86.89,425.22 L87.12,425.62 L87.37,426.02 L87.62,426.42 L87.88,426.82 L88.14,427.22 L88.41,427.62 L88.69,428.02 L88.97,428.42 L89.26,428.82 L89.55,429.23 L89.85,429.63 L90.18,430.03 L90.55,430.43 L90.95,430.83 L91.37,431.23 L91.79,431.63 L92.20,432.03 L92.60,432.43 L92.96,432.83 L93.29,433.23 L93.56,433.63 L93.77,434.04 L93.94,434.44 L94.12,434.84 L94.29,435.24 L94.44,435.64 L94.59,436.04 L94.71,436.44 L94.81,436.84 L94.89,437.24 L94.94,437.64 L94.95,438.04 L94.92,438.44 L94.85,438.84 L94.73,439.25 L94.58,439.65 L94.40,440.05 L94.19,440.45 L93.96,440.85 L93.71,441.25 L93.45,441.65 L93.18,442.05 L92.91,442.45 L92.64,442.85 L92.37,443.25 L92.12,443.65 L91.83,444.05 L91.51,444.46 L91.16,444.86 L90.79,445.26 L90.40,445.66 L90.01,446.06 L89.63,446.46 L89.27,446.86 L88.93,447.26 L88.63,447.66 L88.38,448.06 L88.17,448.46 L87.98,448.86 L87.79,449.26 L87.62,449.67 L87.45,450.07 L87.28,450.47 L87.13,450.87 L86.98,451.27 L86.84,451.67 L86.71,452.07 L86.60,452.47 L86.49,452.87 L86.39,453.27 L86.30,453.67 L86.22,454.07 L86.15,454.48 L86.09,454.88 L86.04,455.28 L85.98,455.68 L85.92,456.08 L85.87,456.48 L85.82,456.88 L85.77,457.28 L85.73,457.68 L85.69,458.08 L85.65,458.48 L85.62,458.88 L85.60,459.28 L85.58,459.69 L85.56,460.09 L85.55,460.49 L85.55,460.89 L85.67,461.29 L85.91,461.69 L86.26,462.09 L86.67,462.49 L87.13,462.89 L87.76,463.29 L88.81,463.69 L89.80,464.09 L90.25,464.49 L90.24,464.90 L90.22,465.30 L90.19,465.70 L90.13,466.10 L90.05,466.50 L88.57,466.90 L85.75,467.30 L79.75,467.30 L76.93,466.90 L75.45,466.50 L75.37,466.10 L75.31,465.70 L75.28,465.30 L75.26,464.90 L75.25,464.49 L75.70,464.09 L76.69,463.69 L77.74,463.29 L78.37,462.89 L78.83,462.49 L79.24,462.09 L79.59,461.69 L79.83,461.29 L79.95,460.89 L79.95,460.49 L79.94,460.09 L79.92,459.69 L79.90,459.28 L79.88,458.88 L79.85,458.48 L79.81,458.08 L79.77,457.68 L79.73,457.28 L79.68,456.88 L79.63,456.48 L79.58,456.08 L79.52,455.68 L79.46,455.28 L79.41,454.88 L79.35,454.48 L79.28,454.07 L79.20,453.67 L79.11,453.27 L79.01,452.87 L78.90,452.47 L78.79,452.07 L78.66,451.67 L78.52,451.27 L78.37,450.87 L78.22,450.47 L78.05,450.07 L77.88,449.67 L77.71,449.26 L77.52,448.86 L77.33,448.46 L77.12,448.06 L76.87,447.66 L76.57,447.26 L76.23,446.86 L75.87,446.46 L75.49,446.06 L75.10,445.66 L74.71,445.26 L74.34,444.86 L73.99,444.46 L73.67,444.05 L73.38,443.65 L73.13,443.25 L72.86,442.85 L72.59,442.45 L72.32,442.05 L72.05,441.65 L71.79,441.25 L71.54,440.85 L71.31,440.45 L71.10,440.05 L70.92,439.65 L70.77,439.25 L70.65,438.84 L70.58,438.44 L70.55,438.04 L70.56,437.64 L70.61,437.24 L70.69,436.84 L70.79,436.44 L70.91,436.04 L71.06,435.64 L71.21,435.24 L71.38,434.84 L71.56,434.44 L71.73,434.04 L71.94,433.63 L72.21,433.23 L72.54,432.83 L72.90,432.43 L73.30,432.03 L73.71,431.63 L74.13,431.23 L74.55,430.83 L74.95,430.43 L75.32,430.03 L75.65,429.63 L75.95,429.23 L76.24,428.82 L76.53,428.42 L76.81,428.02 L77.09,427.62 L77.36,427.22 L77.62,426.82 L77.88,426.42 L78.13,426.02 L78.38,425.62 L78.61,425.22 L78.84,424.82 L79.06,424.42 L79.27,424.02 L79.47,423.61 L79.65,423.21 L79.83,422.81 L80.01,422.41 L80.18,422.01 L80.35,421.61 L80.51,421.21 L80.67,420.81 L80.83,420.41 L80.98,420.01 L81.12,419.61 L81.26,419.21 L81.40,418.81 L81.53,418.40 L81.65,418.00 L81.76,417.60 L81.87,417.20 L81.97,416.80 L82.07,416.40 L82.15,416.00Z" fill="#f5897a" fill-opacity="0.78"/>
<circle cx="82.75" cy="409.30" r="1.40" fill="#f59a8a"/>
<circle cx="82.75" cy="412.00" r="1.00" fill="#f59a8a"/>
<line x1="82.75" y1="416.20" x2="82.75" y2="433.40" stroke="#6e3228" stroke-width="0.65"/>
<line x1="82.75" y1="447.00" x2="82.75" y2="465.20" stroke="#6e3228" stroke-width="0.65"/>
<rect x="77.60" y="433.40" width="10.30" height="13.60" fill="#ffffff" fill-opacity="0.45" stroke="#333" stroke-width="0.75"/>
<line x1="77.60" y1="438.60" x2="87.90" y2="438.60" stroke="#333" stroke-width="1.4"/>
<line x1="80.95" y1="416.20" x2="84.55" y2="416.20" stroke="#333" stroke-width="0.5"/>
<line x1="80.95" y1="465.20" x2="84.55" y2="465.20" stroke="#333" stroke-width="0.5"/>
<path d="M110.45,440.00 L110.45,440.40 L110.46,440.80 L110.48,441.20 L110.51,441.61 L110.53,442.01 L110.57,442.41 L110.60,442.81 L110.64,443.21 L110.69,443.61 L110.73,444.01 L110.78,444.42 L110.83,444.82 L110.88,445.22 L110.94,445.62 L111.01,446.02 L111.09,446.42 L111.18,446.82 L111.28,447.23 L111.38,447.63 L111.49,448.03 L111.60,448.43 L111.70,448.83 L111.82,449.23 L111.94,449.64 L112.07,450.04 L112.21,450.44 L112.35,450.84 L112.49,451.24 L112.63,451.64 L112.76,452.04 L112.92,452.45 L113.09,452.85 L113.27,453.25 L113.44,453.65 L113.58,454.05 L113.69,454.45 L113.75,454.85 L113.75,455.26 L113.75,455.66 L113.75,456.06 L113.75,456.46 L113.75,456.86 L113.75,457.26 L113.75,457.66 L113.75,458.07 L113.76,458.47 L113.79,458.87 L113.84,459.27 L113.91,459.67 L113.99,460.07 L114.09,460.48 L114.21,460.88 L114.48,461.28 L115.21,461.68 L116.21,462.08 L117.24,462.48 L118.08,462.88 L118.64,463.29 L119.19,463.69 L119.68,464.09 L120.06,464.49 L120.24,464.89 L120.21,465.29 L120.04,465.69 L119.72,466.10 L119.25,466.50 L117.12,466.90 L113.25,467.30 L105.25,467.30 L101.38,466.90 L99.25,466.50 L98.78,466.10 L98.46,465.69 L98.29,465.29 L98.26,464.89 L98.44,464.49 L98.82,464.09 L99.31,463.69 L99.86,463.29 L100.42,462.88 L101.26,462.48 L102.29,462.08 L103.29,461.68 L104.02,461.28 L104.29,460.88 L104.41,460.48 L104.51,460.07 L104.59,459.67 L104.66,459.27 L104.71,458.87 L104.74,458.47 L104.75,458.07 L104.75,457.66 L104.75,457.26 L104.75,456.86 L104.75,456.46 L104.75,456.06 L104.75,455.66 L104.75,455.26 L104.75,454.85 L104.81,454.45 L104.92,454.05 L105.06,453.65 L105.23,453.25 L105.41,452.85 L105.58,452.45 L105.74,452.04 L105.87,451.64 L106.01,451.24 L106.15,450.84 L106.29,450.44 L106.43,450.04 L106.56,449.64 L106.68,449.23 L106.80,448.83 L106.90,448.43 L107.01,448.03 L107.12,447.63 L107.22,447.23 L107.32,446.82 L107.41,446.42 L107.49,446.02 L107.56,445.62 L107.62,445.22 L107.67,444.82 L107.72,444.42 L107.77,444.01 L107.81,443.61 L107.86,443.21 L107.90,442.81 L107.93,442.41 L107.97,442.01 L107.99,441.61 L108.02,441.20 L108.04,440.80 L108.05,440.40 L108.05,440.00Z" fill="#b6dcef" fill-opacity="0.78"/>
<circle cx="109.25" cy="436.80" r="1.30" fill="#bcdff0"/>
<circle cx="109.25" cy="439.50" r="1.10" fill="#bcdff0"/>
<line x1="109.25" y1="449.80" x2="109.25" y2="456.90" stroke="#3f7f9f" stroke-width="0.65"/>
<line x1="109.25" y1="463.40" x2="109.25" y2="465.20" stroke="#3f7f9f" stroke-width="0.65"/>
<rect x="104.10" y="456.90" width="10.30" height="6.50" fill="#ffffff" fill-opacity="0.45" stroke="#333" stroke-width="0.75"/>
<line x1="104.10" y1="460.30" x2="114.40" y2="460.30" stroke="#333" stroke-width="1.4"/>
<line x1="107.45" y1="449.80" x2="111.05" y2="449.80" stroke="#333" stroke-width="0.5"/>
<line x1="107.45" y1="465.20" x2="111.05" y2="465.20" stroke="#333" stroke-width="0.5"/>
<path d="M82.75,409.30 V407.10 H109.25 V409.30" fill="none" stroke="#222" stroke-width="0.7"/>
<text x="96.30" y="407.00" font-size="7.4" text-anchor="middle" fill="#111" textLength="8.6" lengthAdjust="spacingAndGlyphs" stroke="#111" stroke-width="0.35">***</text>
<rect x="61.25" y="372.30" width="68.30" height="97.40" fill="none" stroke="#8a8a8a" stroke-width="0.8"/>
<text x="34.25" y="421.00" font-size="5.4" text-anchor="middle" fill="#111" transform="rotate(-90 34.25 421.00)" textLength="43.1" lengthAdjust="spacingAndGlyphs" stroke="#111" stroke-width="0.12">Normalized counts</text>
<text x="39.95" y="421.00" font-size="5.4" text-anchor="middle" fill="#111" transform="rotate(-90 39.95 421.00)" textLength="41.7" lengthAdjust="spacingAndGlyphs" stroke="#111" stroke-width="0.12">(RNA Expression)</text>
<text x="94.90" y="478.20" font-size="5.7" text-anchor="middle" fill="#111" textLength="56.62" lengthAdjust="spacingAndGlyphs" stroke="#111" stroke-width="0.1">G048595 (Unannotated)</text>
<text x="94.90" y="485.90" font-size="6.6" text-anchor="middle" fill="#553a8e" textLength="25.32" lengthAdjust="spacingAndGlyphs">(Kidney)</text>
<text x="94.90" y="493.30" font-size="5.3" text-anchor="middle" fill="#111" textLength="24.1" lengthAdjust="spacingAndGlyphs" stroke="#111" stroke-width="0.06">#chr2_861</text>
<text x="94.90" y="497.50" font-size="3.6" text-anchor="middle" fill="#222" textLength="37.2" lengthAdjust="spacingAndGlyphs" stroke="#222" stroke-width="0.08">logFC: 4.79; q: 9.8e-135</text>
<line x1="169.25" y1="465.45" x2="237.55" y2="465.45" stroke="#bdbdbd" stroke-width="0.75" stroke-dasharray="3.4,3.1"/>
<line x1="166.45" y1="465.45" x2="169.25" y2="465.45" stroke="#222" stroke-width="0.75"/>
<text x="164.85" y="466.95" font-size="4.2" text-anchor="end" fill="#222" stroke="#222" stroke-width="0.12">0</text>
<line x1="169.25" y1="449.53" x2="237.55" y2="449.53" stroke="#bdbdbd" stroke-width="0.75" stroke-dasharray="3.4,3.1"/>
<line x1="166.45" y1="449.53" x2="169.25" y2="449.53" stroke="#222" stroke-width="0.75"/>
<text x="164.85" y="451.03" font-size="4.2" text-anchor="end" fill="#222" stroke="#222" stroke-width="0.12">10</text>
<line x1="169.25" y1="438.52" x2="237.55" y2="438.52" stroke="#bdbdbd" stroke-width="0.75" stroke-dasharray="3.4,3.1"/>
<line x1="166.45" y1="438.52" x2="169.25" y2="438.52" stroke="#222" stroke-width="0.75"/>
<text x="164.85" y="440.02" font-size="4.2" text-anchor="end" fill="#222" stroke="#222" stroke-width="0.12">50</text>
<line x1="169.25" y1="433.75" x2="237.55" y2="433.75" stroke="#bdbdbd" stroke-width="0.75" stroke-dasharray="3.4,3.1"/>
<line x1="166.45" y1="433.75" x2="169.25" y2="433.75" stroke="#222" stroke-width="0.75"/>
<text x="164.85" y="435.25" font-size="4.2" text-anchor="end" fill="#222" stroke="#222" stroke-width="0.12">100</text>
<line x1="169.25" y1="427.44" x2="237.55" y2="427.44" stroke="#bdbdbd" stroke-width="0.75" stroke-dasharray="3.4,3.1"/>
<line x1="166.45" y1="427.44" x2="169.25" y2="427.44" stroke="#222" stroke-width="0.75"/>
<text x="164.85" y="428.94" font-size="4.2" text-anchor="end" fill="#222" stroke="#222" stroke-width="0.12">250</text>
<line x1="169.25" y1="422.67" x2="237.55" y2="422.67" stroke="#bdbdbd" stroke-width="0.75" stroke-dasharray="3.4,3.1"/>
<line x1="166.45" y1="422.67" x2="169.25" y2="422.67" stroke="#222" stroke-width="0.75"/>
<text x="164.85" y="424.17" font-size="4.2" text-anchor="end" fill="#222" stroke="#222" stroke-width="0.12">500</text>
<line x1="169.25" y1="417.90" x2="237.55" y2="417.90" stroke="#bdbdbd" stroke-width="0.75" stroke-dasharray="3.4,3.1"/>
<line x1="166.45" y1="417.90" x2="169.25" y2="417.90" stroke="#222" stroke-width="0.75"/>
<text x="164.85" y="419.40" font-size="4.2" text-anchor="end" fill="#222" stroke="#222" stroke-width="0.12">1000</text>
<line x1="169.25" y1="411.59" x2="237.55" y2="411.59" stroke="#bdbdbd" stroke-width="0.75" stroke-dasharray="3.4,3.1"/>
<line x1="166.45" y1="411.59" x2="169.25" y2="411.59" stroke="#222" stroke-width="0.75"/>
<text x="164.85" y="413.09" font-size="4.2" text-anchor="end" fill="#222" stroke="#222" stroke-width="0.12">2500</text>
<line x1="169.25" y1="406.82" x2="237.55" y2="406.82" stroke="#bdbdbd" stroke-width="0.75" stroke-dasharray="3.4,3.1"/>
<line x1="166.45" y1="406.82" x2="169.25" y2="406.82" stroke="#222" stroke-width="0.75"/>
<text x="164.85" y="408.32" font-size="4.2" text-anchor="end" fill="#222" stroke="#222" stroke-width="0.12">5000</text>
<line x1="169.25" y1="402.05" x2="237.55" y2="402.05" stroke="#bdbdbd" stroke-width="0.75" stroke-dasharray="3.4,3.1"/>
<line x1="166.45" y1="402.05" x2="169.25" y2="402.05" stroke="#222" stroke-width="0.75"/>
<text x="164.85" y="403.55" font-size="4.2" text-anchor="end" fill="#222" stroke="#222" stroke-width="0.12">10000</text>
<line x1="169.25" y1="395.74" x2="237.55" y2="395.74" stroke="#bdbdbd" stroke-width="0.75" stroke-dasharray="3.4,3.1"/>
<line x1="166.45" y1="395.74" x2="169.25" y2="395.74" stroke="#222" stroke-width="0.75"/>
<text x="164.85" y="397.24" font-size="4.2" text-anchor="end" fill="#222" stroke="#222" stroke-width="0.12">25000</text>
<line x1="169.25" y1="390.97" x2="237.55" y2="390.97" stroke="#bdbdbd" stroke-width="0.75" stroke-dasharray="3.4,3.1"/>
<line x1="166.45" y1="390.97" x2="169.25" y2="390.97" stroke="#222" stroke-width="0.75"/>
<text x="164.85" y="392.47" font-size="4.2" text-anchor="end" fill="#222" stroke="#222" stroke-width="0.12">50000</text>
<line x1="169.25" y1="386.20" x2="237.55" y2="386.20" stroke="#bdbdbd" stroke-width="0.75" stroke-dasharray="3.4,3.1"/>
<line x1="166.45" y1="386.20" x2="169.25" y2="386.20" stroke="#222" stroke-width="0.75"/>
<text x="164.85" y="387.70" font-size="4.2" text-anchor="end" fill="#222" stroke="#222" stroke-width="0.12">100000</text>
<line x1="169.25" y1="381.43" x2="237.55" y2="381.43" stroke="#bdbdbd" stroke-width="0.75" stroke-dasharray="3.4,3.1"/>
<line x1="166.45" y1="381.43" x2="169.25" y2="381.43" stroke="#222" stroke-width="0.75"/>
<text x="164.85" y="382.93" font-size="4.2" text-anchor="end" fill="#222" stroke="#222" stroke-width="0.12">200000</text>
<path d="M191.80,379.40 L192.03,379.80 L192.28,380.20 L192.53,380.60 L192.80,381.00 L193.07,381.40 L193.36,381.80 L193.65,382.20 L193.96,382.60 L194.29,383.00 L194.63,383.40 L194.97,383.81 L195.32,384.21 L195.66,384.61 L196.01,385.01 L196.35,385.41 L196.71,385.81 L197.07,386.21 L197.44,386.61 L197.82,387.01 L198.19,387.41 L198.55,387.81 L198.91,388.21 L199.26,388.61 L199.59,389.01 L199.90,389.41 L200.19,389.81 L200.45,390.21 L200.69,390.61 L200.94,391.01 L201.20,391.41 L201.46,391.81 L201.70,392.21 L201.93,392.62 L202.15,393.02 L202.33,393.42 L202.49,393.82 L202.60,394.22 L202.68,394.62 L202.70,395.02 L202.65,395.42 L202.53,395.82 L202.34,396.22 L202.09,396.62 L201.80,397.02 L201.48,397.42 L201.14,397.82 L200.79,398.22 L200.44,398.62 L200.10,399.02 L199.79,399.42 L199.52,399.82 L199.25,400.22 L198.97,400.62 L198.68,401.02 L198.39,401.43 L198.11,401.83 L197.83,402.23 L197.55,402.63 L197.29,403.03 L197.04,403.43 L196.80,403.83 L196.59,404.23 L196.39,404.63 L196.18,405.03 L195.98,405.43 L195.77,405.83 L195.56,406.23 L195.35,406.63 L195.16,407.03 L194.97,407.43 L194.79,407.83 L194.63,408.23 L194.48,408.63 L194.36,409.03 L194.25,409.43 L194.17,409.84 L194.12,410.24 L194.10,410.64 L194.10,411.04 L194.10,411.44 L194.10,411.84 L194.10,412.24 L194.10,412.64 L194.10,413.04 L194.10,413.44 L194.10,413.84 L194.10,414.24 L194.10,414.64 L194.10,415.04 L194.10,415.44 L194.10,415.84 L194.10,416.24 L194.10,416.64 L194.10,417.04 L194.11,417.44 L194.15,417.84 L194.20,418.24 L194.27,418.65 L194.36,419.05 L194.45,419.45 L194.56,419.85 L194.68,420.25 L194.81,420.65 L194.95,421.05 L195.09,421.45 L195.23,421.85 L195.37,422.25 L195.51,422.65 L195.65,423.05 L195.79,423.45 L195.94,423.85 L196.11,424.25 L196.28,424.65 L196.47,425.05 L196.67,425.45 L196.88,425.85 L197.09,426.25 L197.31,426.65 L197.53,427.05 L197.76,427.46 L197.98,427.86 L198.21,428.26 L198.43,428.66 L198.65,429.06 L198.86,429.46 L199.06,429.86 L199.26,430.26 L199.45,430.66 L199.63,431.06 L199.80,431.46 L199.97,431.86 L200.14,432.26 L200.30,432.66 L200.47,433.06 L200.63,433.46 L200.79,433.86 L200.94,434.26 L201.10,434.66 L201.25,435.06 L201.39,435.46 L201.53,435.86 L201.67,436.27 L201.80,436.67 L201.93,437.07 L202.05,437.47 L202.18,437.87 L202.32,438.27 L202.45,438.67 L202.59,439.07 L202.72,439.47 L202.84,439.87 L202.95,440.27 L203.05,440.67 L203.12,441.07 L203.17,441.47 L203.20,441.87 L203.19,442.27 L203.16,442.67 L203.11,443.07 L203.03,443.47 L202.93,443.87 L202.81,444.27 L202.68,444.68 L202.54,445.08 L202.38,445.48 L202.22,445.88 L202.05,446.28 L201.88,446.68 L201.71,447.08 L201.54,447.48 L201.37,447.88 L201.21,448.28 L201.05,448.68 L200.87,449.08 L200.69,449.48 L200.51,449.88 L200.31,450.28 L200.11,450.68 L199.90,451.08 L199.69,451.48 L199.47,451.88 L199.25,452.28 L199.03,452.68 L198.80,453.08 L198.57,453.49 L198.35,453.89 L198.12,454.29 L197.89,454.69 L197.66,455.09 L197.41,455.49 L197.15,455.89 L196.89,456.29 L196.62,456.69 L196.35,457.09 L196.08,457.49 L195.81,457.89 L195.55,458.29 L195.29,458.69 L195.04,459.09 L194.80,459.49 L194.57,459.89 L194.35,460.29 L194.15,460.69 L193.97,461.09 L193.81,461.49 L193.67,461.89 L193.54,462.30 L193.41,462.70 L193.28,463.10 L193.14,463.50 L192.98,463.90 L192.81,464.30 L192.60,464.70 L192.34,465.10 L192.03,465.50 L191.67,465.90 L191.30,466.30 L190.70,466.30 L190.33,465.90 L189.97,465.50 L189.66,465.10 L189.40,464.70 L189.19,464.30 L189.02,463.90 L188.86,463.50 L188.72,463.10 L188.59,462.70 L188.46,462.30 L188.33,461.89 L188.19,461.49 L188.03,461.09 L187.85,460.69 L187.65,460.29 L187.43,459.89 L187.20,459.49 L186.96,459.09 L186.71,458.69 L186.45,458.29 L186.19,457.89 L185.92,457.49 L185.65,457.09 L185.38,456.69 L185.11,456.29 L184.85,455.89 L184.59,455.49 L184.34,455.09 L184.11,454.69 L183.88,454.29 L183.65,453.89 L183.43,453.49 L183.20,453.08 L182.97,452.68 L182.75,452.28 L182.53,451.88 L182.31,451.48 L182.10,451.08 L181.89,450.68 L181.69,450.28 L181.49,449.88 L181.31,449.48 L181.13,449.08 L180.95,448.68 L180.79,448.28 L180.63,447.88 L180.46,447.48 L180.29,447.08 L180.12,446.68 L179.95,446.28 L179.78,445.88 L179.62,445.48 L179.46,445.08 L179.32,444.68 L179.19,444.27 L179.07,443.87 L178.97,443.47 L178.89,443.07 L178.84,442.67 L178.81,442.27 L178.80,441.87 L178.83,441.47 L178.88,441.07 L178.95,440.67 L179.05,440.27 L179.16,439.87 L179.28,439.47 L179.41,439.07 L179.55,438.67 L179.68,438.27 L179.82,437.87 L179.95,437.47 L180.07,437.07 L180.20,436.67 L180.33,436.27 L180.47,435.86 L180.61,435.46 L180.75,435.06 L180.90,434.66 L181.06,434.26 L181.21,433.86 L181.37,433.46 L181.53,433.06 L181.70,432.66 L181.86,432.26 L182.03,431.86 L182.20,431.46 L182.37,431.06 L182.55,430.66 L182.74,430.26 L182.94,429.86 L183.14,429.46 L183.35,429.06 L183.57,428.66 L183.79,428.26 L184.02,427.86 L184.24,427.46 L184.47,427.05 L184.69,426.65 L184.91,426.25 L185.12,425.85 L185.33,425.45 L185.53,425.05 L185.72,424.65 L185.89,424.25 L186.06,423.85 L186.21,423.45 L186.35,423.05 L186.49,422.65 L186.63,422.25 L186.77,421.85 L186.91,421.45 L187.05,421.05 L187.19,420.65 L187.32,420.25 L187.44,419.85 L187.55,419.45 L187.64,419.05 L187.73,418.65 L187.80,418.24 L187.85,417.84 L187.89,417.44 L187.90,417.04 L187.90,416.64 L187.90,416.24 L187.90,415.84 L187.90,415.44 L187.90,415.04 L187.90,414.64 L187.90,414.24 L187.90,413.84 L187.90,413.44 L187.90,413.04 L187.90,412.64 L187.90,412.24 L187.90,411.84 L187.90,411.44 L187.90,411.04 L187.90,410.64 L187.88,410.24 L187.83,409.84 L187.75,409.43 L187.64,409.03 L187.52,408.63 L187.37,408.23 L187.21,407.83 L187.03,407.43 L186.84,407.03 L186.65,406.63 L186.44,406.23 L186.23,405.83 L186.02,405.43 L185.82,405.03 L185.61,404.63 L185.41,404.23 L185.20,403.83 L184.96,403.43 L184.71,403.03 L184.45,402.63 L184.17,402.23 L183.89,401.83 L183.61,401.43 L183.32,401.02 L183.03,400.62 L182.75,400.22 L182.48,399.82 L182.21,399.42 L181.90,399.02 L181.56,398.62 L181.21,398.22 L180.86,397.82 L180.52,397.42 L180.20,397.02 L179.91,396.62 L179.66,396.22 L179.47,395.82 L179.35,395.42 L179.30,395.02 L179.32,394.62 L179.40,394.22 L179.51,393.82 L179.67,393.42 L179.85,393.02 L180.07,392.62 L180.30,392.21 L180.54,391.81 L180.80,391.41 L181.06,391.01 L181.31,390.61 L181.55,390.21 L181.81,389.81 L182.10,389.41 L182.41,389.01 L182.74,388.61 L183.09,388.21 L183.45,387.81 L183.81,387.41 L184.18,387.01 L184.56,386.61 L184.93,386.21 L185.29,385.81 L185.65,385.41 L185.99,385.01 L186.34,384.61 L186.68,384.21 L187.03,383.81 L187.37,383.40 L187.71,383.00 L188.04,382.60 L188.35,382.20 L188.64,381.80 L188.93,381.40 L189.20,381.00 L189.47,380.60 L189.72,380.20 L189.97,379.80 L190.20,379.40Z" fill="#f5897a" fill-opacity="0.78"/>
<line x1="191.00" y1="379.50" x2="191.00" y2="399.00" stroke="#6e3228" stroke-width="0.65"/>
<line x1="191.00" y1="444.30" x2="191.00" y2="465.50" stroke="#6e3228" stroke-width="0.65"/>
<rect x="185.85" y="399.00" width="10.30" height="45.30" fill="#ffffff" fill-opacity="0.45" stroke="#333" stroke-width="0.75"/>
<line x1="185.85" y1="431.00" x2="196.15" y2="431.00" stroke="#333" stroke-width="1.4"/>
<line x1="189.20" y1="379.50" x2="192.80" y2="379.50" stroke="#333" stroke-width="0.5"/>
<line x1="189.20" y1="465.50" x2="192.80" y2="465.50" stroke="#333" stroke-width="0.5"/>
<path d="M219.05,422.40 L219.05,422.80 L219.05,423.20 L219.06,423.61 L219.07,424.01 L219.08,424.41 L219.09,424.81 L219.10,425.21 L219.12,425.61 L219.13,426.02 L219.15,426.42 L219.17,426.82 L219.20,427.22 L219.22,427.62 L219.25,428.03 L219.27,428.43 L219.30,428.83 L219.33,429.23 L219.36,429.63 L219.41,430.03 L219.48,430.44 L219.56,430.84 L219.67,431.24 L219.79,431.64 L219.92,432.04 L220.07,432.45 L220.23,432.85 L220.41,433.25 L220.59,433.65 L220.78,434.05 L220.98,434.46 L221.19,434.86 L221.41,435.26 L221.63,435.66 L221.89,436.06 L222.23,436.46 L222.63,436.87 L223.08,437.27 L223.56,437.67 L224.05,438.07 L224.55,438.47 L225.02,438.88 L225.46,439.28 L225.84,439.68 L226.16,440.08 L226.39,440.48 L226.60,440.88 L226.80,441.29 L226.99,441.69 L227.17,442.09 L227.35,442.49 L227.50,442.89 L227.64,443.30 L227.76,443.70 L227.85,444.10 L227.91,444.50 L227.95,444.90 L227.95,445.30 L227.95,445.71 L227.95,446.11 L227.95,446.51 L227.95,446.91 L227.95,447.31 L227.95,447.72 L227.95,448.12 L227.95,448.52 L227.95,448.92 L227.95,449.32 L227.95,449.72 L227.95,450.13 L227.95,450.53 L227.95,450.93 L227.95,451.33 L227.94,451.73 L227.92,452.14 L227.88,452.54 L227.82,452.94 L227.75,453.34 L227.66,453.74 L227.56,454.14 L227.45,454.55 L227.33,454.95 L227.20,455.35 L227.06,455.75 L226.91,456.15 L226.76,456.56 L226.61,456.96 L226.45,457.36 L226.28,457.76 L226.06,458.16 L225.77,458.57 L225.45,458.97 L225.08,459.37 L224.70,459.77 L224.30,460.17 L223.90,460.57 L223.51,460.98 L223.14,461.38 L222.81,461.78 L222.52,462.18 L222.29,462.58 L222.08,462.99 L221.89,463.39 L221.71,463.79 L221.52,464.19 L221.31,464.59 L221.07,464.99 L220.81,465.40 L220.54,465.80 L220.25,466.20 L215.25,466.20 L214.96,465.80 L214.69,465.40 L214.43,464.99 L214.19,464.59 L213.98,464.19 L213.79,463.79 L213.61,463.39 L213.42,462.99 L213.21,462.58 L212.98,462.18 L212.69,461.78 L212.36,461.38 L211.99,460.98 L211.60,460.57 L211.20,460.17 L210.80,459.77 L210.42,459.37 L210.05,458.97 L209.73,458.57 L209.44,458.16 L209.22,457.76 L209.05,457.36 L208.89,456.96 L208.74,456.56 L208.59,456.15 L208.44,455.75 L208.30,455.35 L208.17,454.95 L208.05,454.55 L207.94,454.14 L207.84,453.74 L207.75,453.34 L207.68,452.94 L207.62,452.54 L207.58,452.14 L207.56,451.73 L207.55,451.33 L207.55,450.93 L207.55,450.53 L207.55,450.13 L207.55,449.72 L207.55,449.32 L207.55,448.92 L207.55,448.52 L207.55,448.12 L207.55,447.72 L207.55,447.31 L207.55,446.91 L207.55,446.51 L207.55,446.11 L207.55,445.71 L207.55,445.30 L207.55,444.90 L207.59,444.50 L207.65,444.10 L207.74,443.70 L207.86,443.30 L208.00,442.89 L208.15,442.49 L208.33,442.09 L208.51,441.69 L208.70,441.29 L208.90,440.88 L209.11,440.48 L209.34,440.08 L209.66,439.68 L210.04,439.28 L210.48,438.88 L210.95,438.47 L211.45,438.07 L211.94,437.67 L212.42,437.27 L212.87,436.87 L213.27,436.46 L213.61,436.06 L213.87,435.66 L214.09,435.26 L214.31,434.86 L214.52,434.46 L214.72,434.05 L214.91,433.65 L215.09,433.25 L215.27,432.85 L215.43,432.45 L215.58,432.04 L215.71,431.64 L215.83,431.24 L215.94,430.84 L216.02,430.44 L216.09,430.03 L216.14,429.63 L216.17,429.23 L216.20,428.83 L216.23,428.43 L216.25,428.03 L216.28,427.62 L216.30,427.22 L216.33,426.82 L216.35,426.42 L216.37,426.02 L216.38,425.61 L216.40,425.21 L216.41,424.81 L216.42,424.41 L216.43,424.01 L216.44,423.61 L216.45,423.20 L216.45,422.80 L216.45,422.40Z" fill="#b6dcef" fill-opacity="0.78"/>
<line x1="217.75" y1="427.10" x2="217.75" y2="444.30" stroke="#3f7f9f" stroke-width="0.65"/>
<line x1="217.75" y1="457.20" x2="217.75" y2="464.70" stroke="#3f7f9f" stroke-width="0.65"/>
<rect x="212.60" y="444.30" width="10.30" height="12.90" fill="#ffffff" fill-opacity="0.45" stroke="#333" stroke-width="0.75"/>
<line x1="212.60" y1="450.60" x2="222.90" y2="450.60" stroke="#333" stroke-width="1.4"/>
<line x1="215.95" y1="427.10" x2="219.55" y2="427.10" stroke="#333" stroke-width="0.5"/>
<line x1="215.95" y1="464.70" x2="219.55" y2="464.70" stroke="#333" stroke-width="0.5"/>
<path d="M191.00,379.30 V376.10 H217.75 V379.30" fill="none" stroke="#222" stroke-width="0.7"/>
<text x="204.68" y="378.00" font-size="7.4" text-anchor="middle" fill="#111" textLength="8.6" lengthAdjust="spacingAndGlyphs" stroke="#111" stroke-width="0.35">***</text>
<rect x="169.25" y="372.30" width="68.30" height="97.40" fill="none" stroke="#8a8a8a" stroke-width="0.8"/>
<text x="142.25" y="421.00" font-size="5.4" text-anchor="middle" fill="#111" transform="rotate(-90 142.25 421.00)" textLength="43.1" lengthAdjust="spacingAndGlyphs" stroke="#111" stroke-width="0.12">Normalized counts</text>
<text x="147.95" y="421.00" font-size="5.4" text-anchor="middle" fill="#111" transform="rotate(-90 147.95 421.00)" textLength="41.7" lengthAdjust="spacingAndGlyphs" stroke="#111" stroke-width="0.12">(RNA Expression)</text>
<text x="202.90" y="478.20" font-size="5.7" text-anchor="middle" fill="#111" textLength="56.62" lengthAdjust="spacingAndGlyphs" stroke="#111" stroke-width="0.1">G008259 (Unannotated)</text>
<text x="202.90" y="485.90" font-size="6.6" text-anchor="middle" fill="#b9466a" textLength="19.65" lengthAdjust="spacingAndGlyphs">(Lung)</text>
<text x="202.90" y="493.30" font-size="5.3" text-anchor="middle" fill="#111" textLength="48.2" lengthAdjust="spacingAndGlyphs" stroke="#111" stroke-width="0.06">#chr10_52, chr10_53</text>
<text x="202.90" y="497.50" font-size="3.6" text-anchor="middle" fill="#222" textLength="37.2" lengthAdjust="spacingAndGlyphs" stroke="#222" stroke-width="0.08">logFC: 6.87; q: 3.6e-166</text>
<line x1="278.30" y1="465.45" x2="346.60" y2="465.45" stroke="#bdbdbd" stroke-width="0.75" stroke-dasharray="3.4,3.1"/>
<line x1="275.50" y1="465.45" x2="278.30" y2="465.45" stroke="#222" stroke-width="0.75"/>
<text x="273.90" y="466.95" font-size="4.2" text-anchor="end" fill="#222" stroke="#222" stroke-width="0.12">0</text>
<line x1="278.30" y1="449.53" x2="346.60" y2="449.53" stroke="#bdbdbd" stroke-width="0.75" stroke-dasharray="3.4,3.1"/>
<line x1="275.50" y1="449.53" x2="278.30" y2="449.53" stroke="#222" stroke-width="0.75"/>
<text x="273.90" y="451.03" font-size="4.2" text-anchor="end" fill="#222" stroke="#222" stroke-width="0.12">10</text>
<line x1="278.30" y1="438.52" x2="346.60" y2="438.52" stroke="#bdbdbd" stroke-width="0.75" stroke-dasharray="3.4,3.1"/>
<line x1="275.50" y1="438.52" x2="278.30" y2="438.52" stroke="#222" stroke-width="0.75"/>
<text x="273.90" y="440.02" font-size="4.2" text-anchor="end" fill="#222" stroke="#222" stroke-width="0.12">50</text>
<line x1="278.30" y1="433.75" x2="346.60" y2="433.75" stroke="#bdbdbd" stroke-width="0.75" stroke-dasharray="3.4,3.1"/>
<line x1="275.50" y1="433.75" x2="278.30" y2="433.75" stroke="#222" stroke-width="0.75"/>
<text x="273.90" y="435.25" font-size="4.2" text-anchor="end" fill="#222" stroke="#222" stroke-width="0.12">100</text>
<line x1="278.30" y1="427.44" x2="346.60" y2="427.44" stroke="#bdbdbd" stroke-width="0.75" stroke-dasharray="3.4,3.1"/>
<line x1="275.50" y1="427.44" x2="278.30" y2="427.44" stroke="#222" stroke-width="0.75"/>
<text x="273.90" y="428.94" font-size="4.2" text-anchor="end" fill="#222" stroke="#222" stroke-width="0.12">250</text>
<line x1="278.30" y1="422.67" x2="346.60" y2="422.67" stroke="#bdbdbd" stroke-width="0.75" stroke-dasharray="3.4,3.1"/>
<line x1="275.50" y1="422.67" x2="278.30" y2="422.67" stroke="#222" stroke-width="0.75"/>
<text x="273.90" y="424.17" font-size="4.2" text-anchor="end" fill="#222" stroke="#222" stroke-width="0.12">500</text>
<line x1="278.30" y1="417.90" x2="346.60" y2="417.90" stroke="#bdbdbd" stroke-width="0.75" stroke-dasharray="3.4,3.1"/>
<line x1="275.50" y1="417.90" x2="278.30" y2="417.90" stroke="#222" stroke-width="0.75"/>
<text x="273.90" y="419.40" font-size="4.2" text-anchor="end" fill="#222" stroke="#222" stroke-width="0.12">1000</text>
<line x1="278.30" y1="411.59" x2="346.60" y2="411.59" stroke="#bdbdbd" stroke-width="0.75" stroke-dasharray="3.4,3.1"/>
<line x1="275.50" y1="411.59" x2="278.30" y2="411.59" stroke="#222" stroke-width="0.75"/>
<text x="273.90" y="413.09" font-size="4.2" text-anchor="end" fill="#222" stroke="#222" stroke-width="0.12">2500</text>
<line x1="278.30" y1="406.82" x2="346.60" y2="406.82" stroke="#bdbdbd" stroke-width="0.75" stroke-dasharray="3.4,3.1"/>
<line x1="275.50" y1="406.82" x2="278.30" y2="406.82" stroke="#222" stroke-width="0.75"/>
<text x="273.90" y="408.32" font-size="4.2" text-anchor="end" fill="#222" stroke="#222" stroke-width="0.12">5000</text>
<line x1="278.30" y1="402.05" x2="346.60" y2="402.05" stroke="#bdbdbd" stroke-width="0.75" stroke-dasharray="3.4,3.1"/>
<line x1="275.50" y1="402.05" x2="278.30" y2="402.05" stroke="#222" stroke-width="0.75"/>
<text x="273.90" y="403.55" font-size="4.2" text-anchor="end" fill="#222" stroke="#222" stroke-width="0.12">10000</text>
<line x1="278.30" y1="395.74" x2="346.60" y2="395.74" stroke="#bdbdbd" stroke-width="0.75" stroke-dasharray="3.4,3.1"/>
<line x1="275.50" y1="395.74" x2="278.30" y2="395.74" stroke="#222" stroke-width="0.75"/>
<text x="273.90" y="397.24" font-size="4.2" text-anchor="end" fill="#222" stroke="#222" stroke-width="0.12">25000</text>
<line x1="278.30" y1="390.97" x2="346.60" y2="390.97" stroke="#bdbdbd" stroke-width="0.75" stroke-dasharray="3.4,3.1"/>
<line x1="275.50" y1="390.97" x2="278.30" y2="390.97" stroke="#222" stroke-width="0.75"/>
<text x="273.90" y="392.47" font-size="4.2" text-anchor="end" fill="#222" stroke="#222" stroke-width="0.12">50000</text>
<line x1="278.30" y1="386.20" x2="346.60" y2="386.20" stroke="#bdbdbd" stroke-width="0.75" stroke-dasharray="3.4,3.1"/>
<line x1="275.50" y1="386.20" x2="278.30" y2="386.20" stroke="#222" stroke-width="0.75"/>
<text x="273.90" y="387.70" font-size="4.2" text-anchor="end" fill="#222" stroke="#222" stroke-width="0.12">100000</text>
<line x1="278.30" y1="381.43" x2="346.60" y2="381.43" stroke="#bdbdbd" stroke-width="0.75" stroke-dasharray="3.4,3.1"/>
<line x1="275.50" y1="381.43" x2="278.30" y2="381.43" stroke="#222" stroke-width="0.75"/>
<text x="273.90" y="382.93" font-size="4.2" text-anchor="end" fill="#222" stroke="#222" stroke-width="0.12">200000</text>
<path d="M300.30,407.60 L300.44,408.00 L300.58,408.40 L300.75,408.80 L300.92,409.20 L301.11,409.60 L301.30,410.00 L301.51,410.40 L301.73,410.81 L301.95,411.21 L302.18,411.61 L302.42,412.01 L302.67,412.41 L302.94,412.81 L303.24,413.21 L303.57,413.61 L303.91,414.01 L304.27,414.41 L304.63,414.81 L305.00,415.21 L305.36,415.61 L305.71,416.01 L306.05,416.41 L306.36,416.82 L306.66,417.22 L306.96,417.62 L307.26,418.02 L307.56,418.42 L307.86,418.82 L308.16,419.22 L308.45,419.62 L308.73,420.02 L309.01,420.42 L309.27,420.82 L309.52,421.22 L309.76,421.62 L309.98,422.02 L310.18,422.43 L310.35,422.83 L310.51,423.23 L310.65,423.63 L310.80,424.03 L310.94,424.43 L311.08,424.83 L311.21,425.23 L311.33,425.63 L311.44,426.03 L311.53,426.43 L311.61,426.83 L311.66,427.23 L311.69,427.63 L311.70,428.03 L311.69,428.44 L311.68,428.84 L311.65,429.24 L311.62,429.64 L311.58,430.04 L311.54,430.44 L311.48,430.84 L311.43,431.24 L311.37,431.64 L311.30,432.04 L311.23,432.44 L311.14,432.84 L311.00,433.24 L310.79,433.64 L310.55,434.04 L310.26,434.45 L309.96,434.85 L309.63,435.25 L309.30,435.65 L308.98,436.05 L308.67,436.45 L308.38,436.85 L308.13,437.25 L307.90,437.65 L307.67,438.05 L307.43,438.45 L307.19,438.85 L306.96,439.25 L306.74,439.65 L306.53,440.05 L306.33,440.46 L306.16,440.86 L306.01,441.26 L305.88,441.66 L305.79,442.06 L305.71,442.46 L305.63,442.86 L305.55,443.26 L305.48,443.66 L305.41,444.06 L305.34,444.46 L305.28,444.86 L305.22,445.26 L305.17,445.66 L305.12,446.06 L305.09,446.47 L305.05,446.87 L305.03,447.27 L305.01,447.67 L305.00,448.07 L305.00,448.47 L305.00,448.87 L305.00,449.27 L305.00,449.67 L305.00,450.07 L305.00,450.47 L305.00,450.87 L305.00,451.27 L305.00,451.67 L305.00,452.07 L305.00,452.48 L305.00,452.88 L305.00,453.28 L305.00,453.68 L305.00,454.08 L305.00,454.48 L304.99,454.88 L304.96,455.28 L304.92,455.68 L304.87,456.08 L304.80,456.48 L304.72,456.88 L304.64,457.28 L304.54,457.68 L304.45,458.09 L304.36,458.49 L304.26,458.89 L304.17,459.29 L304.09,459.69 L304.01,460.09 L303.94,460.49 L303.89,460.89 L303.84,461.29 L303.81,461.69 L303.78,462.09 L303.75,462.49 L303.73,462.89 L303.70,463.29 L303.67,463.69 L303.63,464.10 L303.58,464.50 L303.52,464.90 L303.45,465.30 L303.28,465.70 L302.72,466.10 L301.88,466.50 L301.00,466.90 L298.00,466.90 L297.12,466.50 L296.28,466.10 L295.72,465.70 L295.55,465.30 L295.48,464.90 L295.42,464.50 L295.37,464.10 L295.33,463.69 L295.30,463.29 L295.27,462.89 L295.25,462.49 L295.22,462.09 L295.19,461.69 L295.16,461.29 L295.11,460.89 L295.06,460.49 L294.99,460.09 L294.91,459.69 L294.83,459.29 L294.74,458.89 L294.64,458.49 L294.55,458.09 L294.46,457.68 L294.36,457.28 L294.28,456.88 L294.20,456.48 L294.13,456.08 L294.08,455.68 L294.04,455.28 L294.01,454.88 L294.00,454.48 L294.00,454.08 L294.00,453.68 L294.00,453.28 L294.00,452.88 L294.00,452.48 L294.00,452.07 L294.00,451.67 L294.00,451.27 L294.00,450.87 L294.00,450.47 L294.00,450.07 L294.00,449.67 L294.00,449.27 L294.00,448.87 L294.00,448.47 L294.00,448.07 L293.99,447.67 L293.97,447.27 L293.95,446.87 L293.91,446.47 L293.88,446.06 L293.83,445.66 L293.78,445.26 L293.72,444.86 L293.66,444.46 L293.59,444.06 L293.52,443.66 L293.45,443.26 L293.37,442.86 L293.29,442.46 L293.21,442.06 L293.12,441.66 L292.99,441.26 L292.84,440.86 L292.67,440.46 L292.47,440.05 L292.26,439.65 L292.04,439.25 L291.81,438.85 L291.57,438.45 L291.33,438.05 L291.10,437.65 L290.87,437.25 L290.62,436.85 L290.33,436.45 L290.02,436.05 L289.70,435.65 L289.37,435.25 L289.04,434.85 L288.74,434.45 L288.45,434.04 L288.21,433.64 L288.00,433.24 L287.86,432.84 L287.77,432.44 L287.70,432.04 L287.63,431.64 L287.57,431.24 L287.52,430.84 L287.46,430.44 L287.42,430.04 L287.38,429.64 L287.35,429.24 L287.32,428.84 L287.31,428.44 L287.30,428.03 L287.31,427.63 L287.34,427.23 L287.39,426.83 L287.47,426.43 L287.56,426.03 L287.67,425.63 L287.79,425.23 L287.92,424.83 L288.06,424.43 L288.20,424.03 L288.35,423.63 L288.49,423.23 L288.65,422.83 L288.82,422.43 L289.02,422.02 L289.24,421.62 L289.48,421.22 L289.73,420.82 L289.99,420.42 L290.27,420.02 L290.55,419.62 L290.84,419.22 L291.14,418.82 L291.44,418.42 L291.74,418.02 L292.04,417.62 L292.34,417.22 L292.64,416.82 L292.95,416.41 L293.29,416.01 L293.64,415.61 L294.00,415.21 L294.37,414.81 L294.73,414.41 L295.09,414.01 L295.43,413.61 L295.76,413.21 L296.06,412.81 L296.33,412.41 L296.58,412.01 L296.82,411.61 L297.05,411.21 L297.27,410.81 L297.49,410.40 L297.70,410.00 L297.89,409.60 L298.08,409.20 L298.25,408.80 L298.42,408.40 L298.56,408.00 L298.70,407.60Z" fill="#f5897a" fill-opacity="0.78"/>
<line x1="299.50" y1="407.60" x2="299.50" y2="424.30" stroke="#6e3228" stroke-width="0.65"/>
<line x1="299.50" y1="441.50" x2="299.50" y2="465.20" stroke="#6e3228" stroke-width="0.65"/>
<rect x="294.35" y="424.30" width="10.30" height="17.20" fill="#ffffff" fill-opacity="0.45" stroke="#333" stroke-width="0.75"/>
<line x1="294.35" y1="430.70" x2="304.65" y2="430.70" stroke="#333" stroke-width="1.4"/>
<line x1="297.70" y1="407.60" x2="301.30" y2="407.60" stroke="#333" stroke-width="0.5"/>
<line x1="297.70" y1="465.20" x2="301.30" y2="465.20" stroke="#333" stroke-width="0.5"/>
<path d="M328.70,422.40 L328.98,422.80 L329.26,423.20 L329.53,423.60 L329.80,424.00 L330.05,424.40 L330.29,424.80 L330.53,425.20 L330.75,425.60 L330.96,426.00 L331.15,426.40 L331.32,426.80 L331.49,427.20 L331.65,427.60 L331.79,428.00 L331.93,428.40 L332.07,428.80 L332.20,429.20 L332.33,429.60 L332.46,430.00 L332.59,430.40 L332.73,430.80 L332.86,431.20 L333.01,431.60 L333.16,432.00 L333.32,432.40 L333.49,432.80 L333.69,433.20 L333.92,433.60 L334.16,434.00 L334.42,434.40 L334.69,434.80 L334.97,435.20 L335.24,435.60 L335.50,436.00 L335.74,436.40 L335.97,436.80 L336.17,437.20 L336.34,437.60 L336.47,438.00 L336.56,438.40 L336.60,438.80 L336.59,439.20 L336.54,439.60 L336.47,440.00 L336.36,440.40 L336.23,440.80 L336.08,441.20 L335.92,441.60 L335.74,442.00 L335.56,442.40 L335.37,442.80 L335.18,443.20 L335.00,443.60 L334.80,444.00 L334.56,444.40 L334.28,444.80 L333.99,445.20 L333.68,445.60 L333.37,446.00 L333.06,446.40 L332.76,446.80 L332.49,447.20 L332.24,447.60 L332.03,448.00 L331.86,448.40 L331.72,448.80 L331.59,449.20 L331.47,449.60 L331.35,450.00 L331.25,450.40 L331.15,450.80 L331.05,451.20 L330.96,451.60 L330.87,452.00 L330.78,452.40 L330.70,452.80 L330.61,453.20 L330.52,453.60 L330.42,454.00 L330.33,454.40 L330.22,454.80 L330.12,455.20 L330.01,455.60 L329.90,456.00 L329.79,456.40 L329.67,456.80 L329.56,457.20 L329.45,457.60 L329.34,458.00 L329.24,458.40 L329.14,458.80 L329.04,459.20 L328.95,459.60 L328.86,460.00 L328.78,460.40 L328.70,460.80 L328.64,461.20 L328.58,461.60 L328.54,462.00 L328.50,462.40 L328.47,462.80 L328.43,463.20 L328.40,463.60 L328.35,464.00 L328.30,464.40 L328.24,464.80 L328.16,465.20 L328.06,465.60 L327.89,466.00 L327.44,466.40 L326.90,466.80 L325.90,466.80 L325.36,466.40 L324.91,466.00 L324.74,465.60 L324.64,465.20 L324.56,464.80 L324.50,464.40 L324.45,464.00 L324.40,463.60 L324.37,463.20 L324.33,462.80 L324.30,462.40 L324.26,462.00 L324.22,461.60 L324.16,461.20 L324.10,460.80 L324.02,460.40 L323.94,460.00 L323.85,459.60 L323.76,459.20 L323.66,458.80 L323.56,458.40 L323.46,458.00 L323.35,457.60 L323.24,457.20 L323.13,456.80 L323.01,456.40 L322.90,456.00 L322.79,455.60 L322.68,455.20 L322.58,454.80 L322.47,454.40 L322.38,454.00 L322.28,453.60 L322.19,453.20 L322.10,452.80 L322.02,452.40 L321.93,452.00 L321.84,451.60 L321.75,451.20 L321.65,450.80 L321.55,450.40 L321.45,450.00 L321.33,449.60 L321.21,449.20 L321.08,448.80 L320.94,448.40 L320.77,448.00 L320.56,447.60 L320.31,447.20 L320.04,446.80 L319.74,446.40 L319.43,446.00 L319.12,445.60 L318.81,445.20 L318.52,444.80 L318.24,444.40 L318.00,444.00 L317.80,443.60 L317.62,443.20 L317.43,442.80 L317.24,442.40 L317.06,442.00 L316.88,441.60 L316.72,441.20 L316.57,440.80 L316.44,440.40 L316.33,440.00 L316.26,439.60 L316.21,439.20 L316.20,438.80 L316.24,438.40 L316.33,438.00 L316.46,437.60 L316.63,437.20 L316.83,436.80 L317.06,436.40 L317.30,436.00 L317.56,435.60 L317.83,435.20 L318.11,434.80 L318.38,434.40 L318.64,434.00 L318.88,433.60 L319.11,433.20 L319.31,432.80 L319.48,432.40 L319.64,432.00 L319.79,431.60 L319.94,431.20 L320.07,430.80 L320.21,430.40 L320.34,430.00 L320.47,429.60 L320.60,429.20 L320.73,428.80 L320.87,428.40 L321.01,428.00 L321.15,427.60 L321.31,427.20 L321.48,426.80 L321.65,426.40 L321.84,426.00 L322.05,425.60 L322.27,425.20 L322.51,424.80 L322.75,424.40 L323.00,424.00 L323.27,423.60 L323.54,423.20 L323.82,422.80 L324.10,422.40Z" fill="#b6dcef" fill-opacity="0.78"/>
<line x1="326.40" y1="424.00" x2="326.40" y2="434.20" stroke="#3f7f9f" stroke-width="0.65"/>
<line x1="326.40" y1="445.40" x2="326.40" y2="459.50" stroke="#3f7f9f" stroke-width="0.65"/>
<rect x="321.25" y="434.20" width="10.30" height="11.20" fill="#ffffff" fill-opacity="0.45" stroke="#333" stroke-width="0.75"/>
<line x1="321.25" y1="440.40" x2="331.55" y2="440.40" stroke="#333" stroke-width="1.4"/>
<line x1="324.60" y1="424.00" x2="328.20" y2="424.00" stroke="#333" stroke-width="0.5"/>
<line x1="324.60" y1="459.50" x2="328.20" y2="459.50" stroke="#333" stroke-width="0.5"/>
<path d="M299.50,409.00 V406.80 H326.40 V409.00" fill="none" stroke="#222" stroke-width="0.7"/>
<text x="313.25" y="406.70" font-size="7.4" text-anchor="middle" fill="#111" textLength="8.6" lengthAdjust="spacingAndGlyphs" stroke="#111" stroke-width="0.35">***</text>
<rect x="278.30" y="372.30" width="68.30" height="97.40" fill="none" stroke="#8a8a8a" stroke-width="0.8"/>
<text x="251.30" y="421.00" font-size="5.4" text-anchor="middle" fill="#111" transform="rotate(-90 251.30 421.00)" textLength="43.1" lengthAdjust="spacingAndGlyphs" stroke="#111" stroke-width="0.12">Normalized counts</text>
<text x="257.00" y="421.00" font-size="5.4" text-anchor="middle" fill="#111" transform="rotate(-90 257.00 421.00)" textLength="41.7" lengthAdjust="spacingAndGlyphs" stroke="#111" stroke-width="0.12">(RNA Expression)</text>
<text x="311.95" y="478.20" font-size="5.7" text-anchor="middle" fill="#111" textLength="56.62" lengthAdjust="spacingAndGlyphs" stroke="#111" stroke-width="0.1">G086960 (Unannotated)</text>
<text x="311.95" y="485.90" font-size="6.6" text-anchor="middle" fill="#6fcba5" textLength="24.18" lengthAdjust="spacingAndGlyphs">(Breast)</text>
<text x="311.95" y="493.30" font-size="5.3" text-anchor="middle" fill="#111" textLength="24.1" lengthAdjust="spacingAndGlyphs" stroke="#111" stroke-width="0.06">#chr9_417</text>
<text x="311.95" y="497.50" font-size="3.6" text-anchor="middle" fill="#222" textLength="35.29" lengthAdjust="spacingAndGlyphs" stroke="#222" stroke-width="0.08">logFC: 2.28; q: 1.1e-30</text>
<line x1="386.30" y1="465.45" x2="454.60" y2="465.45" stroke="#bdbdbd" stroke-width="0.75" stroke-dasharray="3.4,3.1"/>
<line x1="383.50" y1="465.45" x2="386.30" y2="465.45" stroke="#222" stroke-width="0.75"/>
<text x="381.90" y="466.95" font-size="4.2" text-anchor="end" fill="#222" stroke="#222" stroke-width="0.12">0</text>
<line x1="386.30" y1="449.53" x2="454.60" y2="449.53" stroke="#bdbdbd" stroke-width="0.75" stroke-dasharray="3.4,3.1"/>
<line x1="383.50" y1="449.53" x2="386.30" y2="449.53" stroke="#222" stroke-width="0.75"/>
<text x="381.90" y="451.03" font-size="4.2" text-anchor="end" fill="#222" stroke="#222" stroke-width="0.12">10</text>
<line x1="386.30" y1="438.52" x2="454.60" y2="438.52" stroke="#bdbdbd" stroke-width="0.75" stroke-dasharray="3.4,3.1"/>
<line x1="383.50" y1="438.52" x2="386.30" y2="438.52" stroke="#222" stroke-width="0.75"/>
<text x="381.90" y="440.02" font-size="4.2" text-anchor="end" fill="#222" stroke="#222" stroke-width="0.12">50</text>
<line x1="386.30" y1="433.75" x2="454.60" y2="433.75" stroke="#bdbdbd" stroke-width="0.75" stroke-dasharray="3.4,3.1"/>
<line x1="383.50" y1="433.75" x2="386.30" y2="433.75" stroke="#222" stroke-width="0.75"/>
<text x="381.90" y="435.25" font-size="4.2" text-anchor="end" fill="#222" stroke="#222" stroke-width="0.12">100</text>
<line x1="386.30" y1="427.44" x2="454.60" y2="427.44" stroke="#bdbdbd" stroke-width="0.75" stroke-dasharray="3.4,3.1"/>
<line x1="383.50" y1="427.44" x2="386.30" y2="427.44" stroke="#222" stroke-width="0.75"/>
<text x="381.90" y="428.94" font-size="4.2" text-anchor="end" fill="#222" stroke="#222" stroke-width="0.12">250</text>
<line x1="386.30" y1="422.67" x2="454.60" y2="422.67" stroke="#bdbdbd" stroke-width="0.75" stroke-dasharray="3.4,3.1"/>
<line x1="383.50" y1="422.67" x2="386.30" y2="422.67" stroke="#222" stroke-width="0.75"/>
<text x="381.90" y="424.17" font-size="4.2" text-anchor="end" fill="#222" stroke="#222" stroke-width="0.12">500</text>
<line x1="386.30" y1="417.90" x2="454.60" y2="417.90" stroke="#bdbdbd" stroke-width="0.75" stroke-dasharray="3.4,3.1"/>
<line x1="383.50" y1="417.90" x2="386.30" y2="417.90" stroke="#222" stroke-width="0.75"/>
<text x="381.90" y="419.40" font-size="4.2" text-anchor="end" fill="#222" stroke="#222" stroke-width="0.12">1000</text>
<line x1="386.30" y1="411.59" x2="454.60" y2="411.59" stroke="#bdbdbd" stroke-width="0.75" stroke-dasharray="3.4,3.1"/>
<line x1="383.50" y1="411.59" x2="386.30" y2="411.59" stroke="#222" stroke-width="0.75"/>
<text x="381.90" y="413.09" font-size="4.2" text-anchor="end" fill="#222" stroke="#222" stroke-width="0.12">2500</text>
<line x1="386.30" y1="406.82" x2="454.60" y2="406.82" stroke="#bdbdbd" stroke-width="0.75" stroke-dasharray="3.4,3.1"/>
<line x1="383.50" y1="406.82" x2="386.30" y2="406.82" stroke="#222" stroke-width="0.75"/>
<text x="381.90" y="408.32" font-size="4.2" text-anchor="end" fill="#222" stroke="#222" stroke-width="0.12">5000</text>
<line x1="386.30" y1="402.05" x2="454.60" y2="402.05" stroke="#bdbdbd" stroke-width="0.75" stroke-dasharray="3.4,3.1"/>
<line x1="383.50" y1="402.05" x2="386.30" y2="402.05" stroke="#222" stroke-width="0.75"/>
<text x="381.90" y="403.55" font-size="4.2" text-anchor="end" fill="#222" stroke="#222" stroke-width="0.12">10000</text>
<line x1="386.30" y1="395.74" x2="454.60" y2="395.74" stroke="#bdbdbd" stroke-width="0.75" stroke-dasharray="3.4,3.1"/>
<line x1="383.50" y1="395.74" x2="386.30" y2="395.74" stroke="#222" stroke-width="0.75"/>
<text x="381.90" y="397.24" font-size="4.2" text-anchor="end" fill="#222" stroke="#222" stroke-width="0.12">25000</text>
<line x1="386.30" y1="390.97" x2="454.60" y2="390.97" stroke="#bdbdbd" stroke-width="0.75" stroke-dasharray="3.4,3.1"/>
<line x1="383.50" y1="390.97" x2="386.30" y2="390.97" stroke="#222" stroke-width="0.75"/>
<text x="381.90" y="392.47" font-size="4.2" text-anchor="end" fill="#222" stroke="#222" stroke-width="0.12">50000</text>
<line x1="386.30" y1="386.20" x2="454.60" y2="386.20" stroke="#bdbdbd" stroke-width="0.75" stroke-dasharray="3.4,3.1"/>
<line x1="383.50" y1="386.20" x2="386.30" y2="386.20" stroke="#222" stroke-width="0.75"/>
<text x="381.90" y="387.70" font-size="4.2" text-anchor="end" fill="#222" stroke="#222" stroke-width="0.12">100000</text>
<line x1="386.30" y1="381.43" x2="454.60" y2="381.43" stroke="#bdbdbd" stroke-width="0.75" stroke-dasharray="3.4,3.1"/>
<line x1="383.50" y1="381.43" x2="386.30" y2="381.43" stroke="#222" stroke-width="0.75"/>
<text x="381.90" y="382.93" font-size="4.2" text-anchor="end" fill="#222" stroke="#222" stroke-width="0.12">200000</text>
<path d="M409.10,399.00 L409.28,399.40 L409.45,399.81 L409.62,400.21 L409.75,400.61 L409.85,401.01 L409.91,401.42 L409.95,401.82 L409.99,402.22 L410.02,402.63 L410.04,403.03 L410.07,403.43 L410.08,403.83 L410.10,404.24 L410.12,404.64 L410.14,405.04 L410.16,405.45 L410.19,405.85 L410.22,406.25 L410.25,406.65 L410.27,407.06 L410.30,407.46 L410.32,407.86 L410.35,408.27 L410.38,408.67 L410.41,409.07 L410.45,409.48 L410.49,409.88 L410.54,410.28 L410.60,410.68 L410.68,411.09 L410.80,411.49 L410.95,411.89 L411.14,412.30 L411.35,412.70 L411.58,413.10 L411.82,413.50 L412.07,413.91 L412.33,414.31 L412.59,414.71 L412.83,415.12 L413.07,415.52 L413.31,415.92 L413.57,416.32 L413.84,416.73 L414.12,417.13 L414.40,417.53 L414.68,417.94 L414.96,418.34 L415.24,418.74 L415.51,419.14 L415.77,419.55 L416.01,419.95 L416.24,420.35 L416.47,420.76 L416.70,421.16 L416.91,421.56 L417.13,421.96 L417.34,422.37 L417.54,422.77 L417.74,423.17 L417.94,423.58 L418.13,423.98 L418.31,424.38 L418.49,424.78 L418.68,425.19 L418.88,425.59 L419.09,425.99 L419.29,426.40 L419.49,426.80 L419.66,427.20 L419.81,427.60 L419.92,428.01 L419.99,428.41 L420.00,428.81 L419.96,429.22 L419.88,429.62 L419.76,430.02 L419.62,430.42 L419.44,430.83 L419.25,431.23 L419.03,431.63 L418.81,432.04 L418.59,432.44 L418.35,432.84 L418.06,433.25 L417.72,433.65 L417.34,434.05 L416.93,434.45 L416.48,434.86 L416.03,435.26 L415.56,435.66 L415.09,436.07 L414.64,436.47 L414.18,436.87 L413.71,437.27 L413.23,437.68 L412.73,438.08 L412.22,438.48 L411.70,438.89 L411.16,439.29 L410.61,439.69 L410.04,440.09 L409.43,440.50 L408.80,440.90 L407.80,440.90 L407.17,440.50 L406.56,440.09 L405.99,439.69 L405.44,439.29 L404.90,438.89 L404.38,438.48 L403.87,438.08 L403.37,437.68 L402.89,437.27 L402.42,436.87 L401.96,436.47 L401.51,436.07 L401.04,435.66 L400.57,435.26 L400.12,434.86 L399.67,434.45 L399.26,434.05 L398.88,433.65 L398.54,433.25 L398.25,432.84 L398.01,432.44 L397.79,432.04 L397.57,431.63 L397.35,431.23 L397.16,430.83 L396.98,430.42 L396.84,430.02 L396.72,429.62 L396.64,429.22 L396.60,428.81 L396.61,428.41 L396.68,428.01 L396.79,427.60 L396.94,427.20 L397.11,426.80 L397.31,426.40 L397.51,425.99 L397.72,425.59 L397.92,425.19 L398.11,424.78 L398.29,424.38 L398.47,423.98 L398.66,423.58 L398.86,423.17 L399.06,422.77 L399.26,422.37 L399.47,421.96 L399.69,421.56 L399.90,421.16 L400.13,420.76 L400.36,420.35 L400.59,419.95 L400.83,419.55 L401.09,419.14 L401.36,418.74 L401.64,418.34 L401.92,417.94 L402.20,417.53 L402.48,417.13 L402.76,416.73 L403.03,416.32 L403.29,415.92 L403.53,415.52 L403.77,415.12 L404.01,414.71 L404.27,414.31 L404.53,413.91 L404.78,413.50 L405.02,413.10 L405.25,412.70 L405.46,412.30 L405.65,411.89 L405.80,411.49 L405.92,411.09 L406.00,410.68 L406.06,410.28 L406.11,409.88 L406.15,409.48 L406.19,409.07 L406.22,408.67 L406.25,408.27 L406.28,407.86 L406.30,407.46 L406.33,407.06 L406.35,406.65 L406.38,406.25 L406.41,405.85 L406.44,405.45 L406.46,405.04 L406.48,404.64 L406.50,404.24 L406.52,403.83 L406.53,403.43 L406.56,403.03 L406.58,402.63 L406.61,402.22 L406.65,401.82 L406.69,401.42 L406.75,401.01 L406.85,400.61 L406.98,400.21 L407.15,399.81 L407.32,399.40 L407.50,399.00Z" fill="#f5897a" fill-opacity="0.78"/>
<line x1="408.30" y1="408.00" x2="408.30" y2="421.20" stroke="#6e3228" stroke-width="0.65"/>
<line x1="408.30" y1="430.30" x2="408.30" y2="439.20" stroke="#6e3228" stroke-width="0.65"/>
<rect x="403.15" y="421.20" width="10.30" height="9.10" fill="#ffffff" fill-opacity="0.45" stroke="#333" stroke-width="0.75"/>
<line x1="403.15" y1="425.90" x2="413.45" y2="425.90" stroke="#333" stroke-width="1.4"/>
<line x1="406.50" y1="408.00" x2="410.10" y2="408.00" stroke="#333" stroke-width="0.5"/>
<line x1="406.50" y1="439.20" x2="410.10" y2="439.20" stroke="#333" stroke-width="0.5"/>
<path d="M437.00,423.20 L437.01,423.61 L437.04,424.01 L437.09,424.42 L437.15,424.83 L437.23,425.24 L437.32,425.64 L437.42,426.05 L437.53,426.46 L437.66,426.86 L437.79,427.27 L437.92,427.68 L438.07,428.09 L438.26,428.49 L438.50,428.90 L438.78,429.31 L439.11,429.71 L439.47,430.12 L439.88,430.53 L440.33,430.94 L440.97,431.34 L441.97,431.75 L443.12,432.16 L444.22,432.56 L445.05,432.97 L445.40,433.38 L445.22,433.79 L444.73,434.19 L444.03,434.60 L443.24,435.01 L442.47,435.41 L441.82,435.82 L441.19,436.23 L440.53,436.64 L439.87,437.04 L439.22,437.45 L438.60,437.86 L438.04,438.26 L437.54,438.67 L437.13,439.08 L436.77,439.49 L436.46,439.89 L436.20,440.30 L435.20,440.30 L434.94,439.89 L434.63,439.49 L434.27,439.08 L433.86,438.67 L433.36,438.26 L432.80,437.86 L432.18,437.45 L431.53,437.04 L430.87,436.64 L430.21,436.23 L429.58,435.82 L428.93,435.41 L428.16,435.01 L427.37,434.60 L426.67,434.19 L426.18,433.79 L426.00,433.38 L426.35,432.97 L427.18,432.56 L428.28,432.16 L429.43,431.75 L430.43,431.34 L431.07,430.94 L431.52,430.53 L431.93,430.12 L432.29,429.71 L432.62,429.31 L432.90,428.90 L433.14,428.49 L433.33,428.09 L433.48,427.68 L433.61,427.27 L433.74,426.86 L433.87,426.46 L433.98,426.05 L434.08,425.64 L434.17,425.24 L434.25,424.83 L434.31,424.42 L434.36,424.01 L434.39,423.61 L434.40,423.20Z" fill="#b6dcef" fill-opacity="0.78"/>
<line x1="435.70" y1="427.90" x2="435.70" y2="431.50" stroke="#3f7f9f" stroke-width="0.65"/>
<line x1="435.70" y1="434.60" x2="435.70" y2="437.60" stroke="#3f7f9f" stroke-width="0.65"/>
<rect x="430.55" y="431.50" width="10.30" height="3.10" fill="#ffffff" fill-opacity="0.45" stroke="#333" stroke-width="0.75"/>
<line x1="430.55" y1="433.10" x2="440.85" y2="433.10" stroke="#333" stroke-width="1.4"/>
<line x1="433.90" y1="427.90" x2="437.50" y2="427.90" stroke="#333" stroke-width="0.5"/>
<line x1="433.90" y1="437.60" x2="437.50" y2="437.60" stroke="#333" stroke-width="0.5"/>
<path d="M408.30,400.70 V398.50 H435.70 V400.70" fill="none" stroke="#222" stroke-width="0.7"/>
<text x="422.30" y="398.40" font-size="7.4" text-anchor="middle" fill="#111" textLength="8.6" lengthAdjust="spacingAndGlyphs" stroke="#111" stroke-width="0.35">***</text>
<rect x="386.30" y="372.30" width="68.30" height="97.40" fill="none" stroke="#8a8a8a" stroke-width="0.8"/>
<text x="359.30" y="421.00" font-size="5.4" text-anchor="middle" fill="#111" transform="rotate(-90 359.30 421.00)" textLength="43.1" lengthAdjust="spacingAndGlyphs" stroke="#111" stroke-width="0.12">Normalized counts</text>
<text x="365.00" y="421.00" font-size="5.4" text-anchor="middle" fill="#111" transform="rotate(-90 365.00 421.00)" textLength="41.7" lengthAdjust="spacingAndGlyphs" stroke="#111" stroke-width="0.12">(RNA Expression)</text>
<text x="419.95" y="478.20" font-size="5.7" text-anchor="middle" fill="#111" textLength="56.62" lengthAdjust="spacingAndGlyphs" stroke="#111" stroke-width="0.1">G007433 (Unannotated)</text>
<text x="419.95" y="485.90" font-size="6.6" text-anchor="middle" fill="#3e2a2b" textLength="19.27" lengthAdjust="spacingAndGlyphs">(Liver)</text>
<text x="419.95" y="493.30" font-size="5.3" text-anchor="middle" fill="#111" textLength="24.1" lengthAdjust="spacingAndGlyphs" stroke="#111" stroke-width="0.06">#chr1_851</text>
<text x="419.95" y="497.50" font-size="3.6" text-anchor="middle" fill="#222" textLength="35.29" lengthAdjust="spacingAndGlyphs" stroke="#222" stroke-width="0.08">logFC: 2.30; q: 1.6e-25</text>
<line x1="495.30" y1="465.45" x2="563.60" y2="465.45" stroke="#bdbdbd" stroke-width="0.75" stroke-dasharray="3.4,3.1"/>
<line x1="492.50" y1="465.45" x2="495.30" y2="465.45" stroke="#222" stroke-width="0.75"/>
<text x="490.90" y="466.95" font-size="4.2" text-anchor="end" fill="#222" stroke="#222" stroke-width="0.12">0</text>
<line x1="495.30" y1="449.53" x2="563.60" y2="449.53" stroke="#bdbdbd" stroke-width="0.75" stroke-dasharray="3.4,3.1"/>
<line x1="492.50" y1="449.53" x2="495.30" y2="449.53" stroke="#222" stroke-width="0.75"/>
<text x="490.90" y="451.03" font-size="4.2" text-anchor="end" fill="#222" stroke="#222" stroke-width="0.12">10</text>
<line x1="495.30" y1="438.52" x2="563.60" y2="438.52" stroke="#bdbdbd" stroke-width="0.75" stroke-dasharray="3.4,3.1"/>
<line x1="492.50" y1="438.52" x2="495.30" y2="438.52" stroke="#222" stroke-width="0.75"/>
<text x="490.90" y="440.02" font-size="4.2" text-anchor="end" fill="#222" stroke="#222" stroke-width="0.12">50</text>
<line x1="495.30" y1="433.75" x2="563.60" y2="433.75" stroke="#bdbdbd" stroke-width="0.75" stroke-dasharray="3.4,3.1"/>
<line x1="492.50" y1="433.75" x2="495.30" y2="433.75" stroke="#222" stroke-width="0.75"/>
<text x="490.90" y="435.25" font-size="4.2" text-anchor="end" fill="#222" stroke="#222" stroke-width="0.12">100</text>
<line x1="495.30" y1="427.44" x2="563.60" y2="427.44" stroke="#bdbdbd" stroke-width="0.75" stroke-dasharray="3.4,3.1"/>
<line x1="492.50" y1="427.44" x2="495.30" y2="427.44" stroke="#222" stroke-width="0.75"/>
<text x="490.90" y="428.94" font-size="4.2" text-anchor="end" fill="#222" stroke="#222" stroke-width="0.12">250</text>
<line x1="495.30" y1="422.67" x2="563.60" y2="422.67" stroke="#bdbdbd" stroke-width="0.75" stroke-dasharray="3.4,3.1"/>
<line x1="492.50" y1="422.67" x2="495.30" y2="422.67" stroke="#222" stroke-width="0.75"/>
<text x="490.90" y="424.17" font-size="4.2" text-anchor="end" fill="#222" stroke="#222" stroke-width="0.12">500</text>
<line x1="495.30" y1="417.90" x2="563.60" y2="417.90" stroke="#bdbdbd" stroke-width="0.75" stroke-dasharray="3.4,3.1"/>
<line x1="492.50" y1="417.90" x2="495.30" y2="417.90" stroke="#222" stroke-width="0.75"/>
<text x="490.90" y="419.40" font-size="4.2" text-anchor="end" fill="#222" stroke="#222" stroke-width="0.12">1000</text>
<line x1="495.30" y1="411.59" x2="563.60" y2="411.59" stroke="#bdbdbd" stroke-width="0.75" stroke-dasharray="3.4,3.1"/>
<line x1="492.50" y1="411.59" x2="495.30" y2="411.59" stroke="#222" stroke-width="0.75"/>
<text x="490.90" y="413.09" font-size="4.2" text-anchor="end" fill="#222" stroke="#222" stroke-width="0.12">2500</text>
<line x1="495.30" y1="406.82" x2="563.60" y2="406.82" stroke="#bdbdbd" stroke-width="0.75" stroke-dasharray="3.4,3.1"/>
<line x1="492.50" y1="406.82" x2="495.30" y2="406.82" stroke="#222" stroke-width="0.75"/>
<text x="490.90" y="408.32" font-size="4.2" text-anchor="end" fill="#222" stroke="#222" stroke-width="0.12">5000</text>
<line x1="495.30" y1="402.05" x2="563.60" y2="402.05" stroke="#bdbdbd" stroke-width="0.75" stroke-dasharray="3.4,3.1"/>
<line x1="492.50" y1="402.05" x2="495.30" y2="402.05" stroke="#222" stroke-width="0.75"/>
<text x="490.90" y="403.55" font-size="4.2" text-anchor="end" fill="#222" stroke="#222" stroke-width="0.12">10000</text>
<line x1="495.30" y1="395.74" x2="563.60" y2="395.74" stroke="#bdbdbd" stroke-width="0.75" stroke-dasharray="3.4,3.1"/>
<line x1="492.50" y1="395.74" x2="495.30" y2="395.74" stroke="#222" stroke-width="0.75"/>
<text x="490.90" y="397.24" font-size="4.2" text-anchor="end" fill="#222" stroke="#222" stroke-width="0.12">25000</text>
<line x1="495.30" y1="390.97" x2="563.60" y2="390.97" stroke="#bdbdbd" stroke-width="0.75" stroke-dasharray="3.4,3.1"/>
<line x1="492.50" y1="390.97" x2="495.30" y2="390.97" stroke="#222" stroke-width="0.75"/>
<text x="490.90" y="392.47" font-size="4.2" text-anchor="end" fill="#222" stroke="#222" stroke-width="0.12">50000</text>
<line x1="495.30" y1="386.20" x2="563.60" y2="386.20" stroke="#bdbdbd" stroke-width="0.75" stroke-dasharray="3.4,3.1"/>
<line x1="492.50" y1="386.20" x2="495.30" y2="386.20" stroke="#222" stroke-width="0.75"/>
<text x="490.90" y="387.70" font-size="4.2" text-anchor="end" fill="#222" stroke="#222" stroke-width="0.12">100000</text>
<line x1="495.30" y1="381.43" x2="563.60" y2="381.43" stroke="#bdbdbd" stroke-width="0.75" stroke-dasharray="3.4,3.1"/>
<line x1="492.50" y1="381.43" x2="495.30" y2="381.43" stroke="#222" stroke-width="0.75"/>
<text x="490.90" y="382.93" font-size="4.2" text-anchor="end" fill="#222" stroke="#222" stroke-width="0.12">200000</text>
<path d="M517.50,419.80 L518.14,420.20 L518.75,420.61 L519.33,421.01 L519.89,421.41 L520.42,421.82 L520.93,422.22 L521.42,422.62 L521.84,423.03 L522.20,423.43 L522.52,423.83 L522.82,424.24 L523.10,424.64 L523.37,425.04 L523.62,425.45 L523.86,425.85 L524.09,426.25 L524.32,426.66 L524.54,427.06 L524.76,427.46 L524.98,427.87 L525.21,428.27 L525.43,428.67 L525.66,429.08 L525.89,429.48 L526.11,429.88 L526.32,430.29 L526.53,430.69 L526.72,431.09 L526.90,431.50 L527.06,431.90 L527.21,432.31 L527.33,432.71 L527.45,433.11 L527.58,433.52 L527.69,433.92 L527.81,434.32 L527.92,434.73 L528.02,435.13 L528.11,435.53 L528.18,435.94 L528.24,436.34 L528.28,436.74 L528.30,437.15 L528.30,437.55 L528.29,437.95 L528.28,438.36 L528.26,438.76 L528.23,439.16 L528.20,439.57 L528.17,439.97 L528.14,440.37 L528.10,440.78 L528.07,441.18 L528.03,441.58 L528.00,441.99 L527.97,442.39 L527.93,442.79 L527.90,443.20 L527.86,443.60 L527.82,444.00 L527.77,444.41 L527.73,444.81 L527.68,445.21 L527.64,445.62 L527.59,446.02 L527.54,446.42 L527.49,446.83 L527.44,447.23 L527.39,447.63 L527.33,448.04 L527.28,448.44 L527.23,448.84 L527.17,449.25 L527.11,449.65 L527.04,450.05 L526.98,450.46 L526.91,450.86 L526.84,451.26 L526.78,451.67 L526.71,452.07 L526.64,452.47 L526.57,452.88 L526.50,453.28 L526.43,453.68 L526.37,454.09 L526.30,454.49 L526.24,454.89 L526.17,455.30 L526.10,455.70 L526.04,456.11 L525.97,456.51 L525.91,456.91 L525.84,457.32 L525.77,457.72 L525.71,458.12 L525.64,458.53 L525.58,458.93 L525.52,459.33 L525.46,459.74 L525.40,460.14 L525.34,460.54 L525.28,460.95 L525.23,461.35 L525.19,461.75 L525.15,462.16 L525.12,462.56 L525.08,462.96 L525.03,463.37 L524.98,463.77 L524.91,464.17 L524.83,464.58 L524.71,464.98 L524.51,465.38 L524.21,465.79 L523.78,466.19 L523.03,466.59 L521.09,467.00 L518.50,467.40 L514.50,467.40 L511.91,467.00 L509.97,466.59 L509.22,466.19 L508.79,465.79 L508.49,465.38 L508.29,464.98 L508.17,464.58 L508.09,464.17 L508.02,463.77 L507.97,463.37 L507.92,462.96 L507.88,462.56 L507.85,462.16 L507.81,461.75 L507.77,461.35 L507.72,460.95 L507.66,460.54 L507.60,460.14 L507.54,459.74 L507.48,459.33 L507.42,458.93 L507.36,458.53 L507.29,458.12 L507.23,457.72 L507.16,457.32 L507.09,456.91 L507.03,456.51 L506.96,456.11 L506.90,455.70 L506.83,455.30 L506.76,454.89 L506.70,454.49 L506.63,454.09 L506.57,453.68 L506.50,453.28 L506.43,452.88 L506.36,452.47 L506.29,452.07 L506.22,451.67 L506.16,451.26 L506.09,450.86 L506.02,450.46 L505.96,450.05 L505.89,449.65 L505.83,449.25 L505.77,448.84 L505.72,448.44 L505.67,448.04 L505.61,447.63 L505.56,447.23 L505.51,446.83 L505.46,446.42 L505.41,446.02 L505.36,445.62 L505.32,445.21 L505.27,444.81 L505.23,444.41 L505.18,444.00 L505.14,443.60 L505.10,443.20 L505.07,442.79 L505.03,442.39 L505.00,441.99 L504.97,441.58 L504.93,441.18 L504.90,440.78 L504.86,440.37 L504.83,439.97 L504.80,439.57 L504.77,439.16 L504.74,438.76 L504.72,438.36 L504.71,437.95 L504.70,437.55 L504.70,437.15 L504.72,436.74 L504.76,436.34 L504.82,435.94 L504.89,435.53 L504.98,435.13 L505.08,434.73 L505.19,434.32 L505.31,433.92 L505.42,433.52 L505.55,433.11 L505.67,432.71 L505.79,432.31 L505.94,431.90 L506.10,431.50 L506.28,431.09 L506.47,430.69 L506.68,430.29 L506.89,429.88 L507.11,429.48 L507.34,429.08 L507.57,428.67 L507.79,428.27 L508.02,427.87 L508.24,427.46 L508.46,427.06 L508.68,426.66 L508.91,426.25 L509.14,425.85 L509.38,425.45 L509.63,425.04 L509.90,424.64 L510.18,424.24 L510.48,423.83 L510.80,423.43 L511.16,423.03 L511.58,422.62 L512.07,422.22 L512.58,421.82 L513.11,421.41 L513.67,421.01 L514.25,420.61 L514.86,420.20 L515.50,419.80Z" fill="#f5897a" fill-opacity="0.78"/>
<line x1="516.50" y1="419.80" x2="516.50" y2="434.20" stroke="#6e3228" stroke-width="0.65"/>
<line x1="516.50" y1="450.10" x2="516.50" y2="465.20" stroke="#6e3228" stroke-width="0.65"/>
<rect x="511.35" y="434.20" width="10.30" height="15.90" fill="#ffffff" fill-opacity="0.45" stroke="#333" stroke-width="0.75"/>
<line x1="511.35" y1="441.20" x2="521.65" y2="441.20" stroke="#333" stroke-width="1.4"/>
<line x1="514.70" y1="419.80" x2="518.30" y2="419.80" stroke="#333" stroke-width="0.5"/>
<line x1="514.70" y1="465.20" x2="518.30" y2="465.20" stroke="#333" stroke-width="0.5"/>
<path d="M545.00,449.80 L545.23,450.20 L545.45,450.60 L545.65,451.01 L545.85,451.41 L546.04,451.81 L546.21,452.21 L546.37,452.62 L546.51,453.02 L546.63,453.42 L546.75,453.82 L546.85,454.23 L546.95,454.63 L547.04,455.03 L547.14,455.43 L547.23,455.84 L547.34,456.24 L547.44,456.64 L547.54,457.04 L547.65,457.45 L547.75,457.85 L547.86,458.25 L547.96,458.65 L548.06,459.06 L548.16,459.46 L548.25,459.86 L548.32,460.26 L548.40,460.67 L548.48,461.07 L548.59,461.47 L548.72,461.87 L548.89,462.28 L549.40,462.68 L550.44,463.08 L551.74,463.48 L553.02,463.89 L554.00,464.29 L554.40,464.69 L553.85,465.09 L552.33,465.50 L550.09,465.90 L547.40,466.30 L539.40,466.30 L536.71,465.90 L534.47,465.50 L532.95,465.09 L532.40,464.69 L532.80,464.29 L533.78,463.89 L535.06,463.48 L536.36,463.08 L537.40,462.68 L537.91,462.28 L538.08,461.87 L538.21,461.47 L538.32,461.07 L538.40,460.67 L538.48,460.26 L538.55,459.86 L538.64,459.46 L538.74,459.06 L538.84,458.65 L538.94,458.25 L539.05,457.85 L539.15,457.45 L539.26,457.04 L539.36,456.64 L539.46,456.24 L539.57,455.84 L539.66,455.43 L539.76,455.03 L539.85,454.63 L539.95,454.23 L540.05,453.82 L540.17,453.42 L540.29,453.02 L540.43,452.62 L540.59,452.21 L540.76,451.81 L540.95,451.41 L541.15,451.01 L541.35,450.60 L541.57,450.20 L541.80,449.80Z" fill="#b6dcef" fill-opacity="0.78"/>
<line x1="543.40" y1="450.30" x2="543.40" y2="459.20" stroke="#3f7f9f" stroke-width="0.65"/>
<line x1="543.40" y1="465.00" x2="543.40" y2="465.20" stroke="#3f7f9f" stroke-width="0.65"/>
<rect x="538.25" y="459.20" width="10.30" height="5.80" fill="#ffffff" fill-opacity="0.45" stroke="#333" stroke-width="0.75"/>
<line x1="538.25" y1="461.60" x2="548.55" y2="461.60" stroke="#333" stroke-width="1.4"/>
<line x1="541.60" y1="450.30" x2="545.20" y2="450.30" stroke="#333" stroke-width="0.5"/>
<line x1="541.60" y1="465.20" x2="545.20" y2="465.20" stroke="#333" stroke-width="0.5"/>
<path d="M516.50,421.80 V419.60 H543.40 V421.80" fill="none" stroke="#222" stroke-width="0.7"/>
<text x="530.25" y="419.50" font-size="7.4" text-anchor="middle" fill="#111" textLength="8.6" lengthAdjust="spacingAndGlyphs" stroke="#111" stroke-width="0.35">***</text>
<rect x="495.30" y="372.30" width="68.30" height="97.40" fill="none" stroke="#8a8a8a" stroke-width="0.8"/>
<text x="468.30" y="421.00" font-size="5.4" text-anchor="middle" fill="#111" transform="rotate(-90 468.30 421.00)" textLength="43.1" lengthAdjust="spacingAndGlyphs" stroke="#111" stroke-width="0.12">Normalized counts</text>
<text x="474.00" y="421.00" font-size="5.4" text-anchor="middle" fill="#111" transform="rotate(-90 474.00 421.00)" textLength="41.7" lengthAdjust="spacingAndGlyphs" stroke="#111" stroke-width="0.12">(RNA Expression)</text>
<text x="528.95" y="478.20" font-size="5.7" text-anchor="middle" fill="#111" textLength="56.62" lengthAdjust="spacingAndGlyphs" stroke="#111" stroke-width="0.1">G050669 (Unannotated)</text>
<text x="528.95" y="485.90" font-size="6.6" text-anchor="middle" fill="#6dcb4f" textLength="31.36" lengthAdjust="spacingAndGlyphs">(Stomach)</text>
<text x="528.95" y="493.30" font-size="5.3" text-anchor="middle" fill="#111" textLength="26.94" lengthAdjust="spacingAndGlyphs" stroke="#111" stroke-width="0.06">#chr20_166</text>
<text x="528.95" y="497.50" font-size="3.6" text-anchor="middle" fill="#222" textLength="35.29" lengthAdjust="spacingAndGlyphs" stroke="#222" stroke-width="0.08">logFC: 5.05; q: 1.3e-40</text>
<line x1="603.30" y1="465.45" x2="671.60" y2="465.45" stroke="#bdbdbd" stroke-width="0.75" stroke-dasharray="3.4,3.1"/>
<line x1="600.50" y1="465.45" x2="603.30" y2="465.45" stroke="#222" stroke-width="0.75"/>
<text x="598.90" y="466.95" font-size="4.2" text-anchor="end" fill="#222" stroke="#222" stroke-width="0.12">0</text>
<line x1="603.30" y1="449.53" x2="671.60" y2="449.53" stroke="#bdbdbd" stroke-width="0.75" stroke-dasharray="3.4,3.1"/>
<line x1="600.50" y1="449.53" x2="603.30" y2="449.53" stroke="#222" stroke-width="0.75"/>
<text x="598.90" y="451.03" font-size="4.2" text-anchor="end" fill="#222" stroke="#222" stroke-width="0.12">10</text>
<line x1="603.30" y1="438.52" x2="671.60" y2="438.52" stroke="#bdbdbd" stroke-width="0.75" stroke-dasharray="3.4,3.1"/>
<line x1="600.50" y1="438.52" x2="603.30" y2="438.52" stroke="#222" stroke-width="0.75"/>
<text x="598.90" y="440.02" font-size="4.2" text-anchor="end" fill="#222" stroke="#222" stroke-width="0.12">50</text>
<line x1="603.30" y1="433.75" x2="671.60" y2="433.75" stroke="#bdbdbd" stroke-width="0.75" stroke-dasharray="3.4,3.1"/>
<line x1="600.50" y1="433.75" x2="603.30" y2="433.75" stroke="#222" stroke-width="0.75"/>
<text x="598.90" y="435.25" font-size="4.2" text-anchor="end" fill="#222" stroke="#222" stroke-width="0.12">100</text>
<line x1="603.30" y1="427.44" x2="671.60" y2="427.44" stroke="#bdbdbd" stroke-width="0.75" stroke-dasharray="3.4,3.1"/>
<line x1="600.50" y1="427.44" x2="603.30" y2="427.44" stroke="#222" stroke-width="0.75"/>
<text x="598.90" y="428.94" font-size="4.2" text-anchor="end" fill="#222" stroke="#222" stroke-width="0.12">250</text>
<line x1="603.30" y1="422.67" x2="671.60" y2="422.67" stroke="#bdbdbd" stroke-width="0.75" stroke-dasharray="3.4,3.1"/>
<line x1="600.50" y1="422.67" x2="603.30" y2="422.67" stroke="#222" stroke-width="0.75"/>
<text x="598.90" y="424.17" font-size="4.2" text-anchor="end" fill="#222" stroke="#222" stroke-width="0.12">500</text>
<line x1="603.30" y1="417.90" x2="671.60" y2="417.90" stroke="#bdbdbd" stroke-width="0.75" stroke-dasharray="3.4,3.1"/>
<line x1="600.50" y1="417.90" x2="603.30" y2="417.90" stroke="#222" stroke-width="0.75"/>
<text x="598.90" y="419.40" font-size="4.2" text-anchor="end" fill="#222" stroke="#222" stroke-width="0.12">1000</text>
<line x1="603.30" y1="411.59" x2="671.60" y2="411.59" stroke="#bdbdbd" stroke-width="0.75" stroke-dasharray="3.4,3.1"/>
<line x1="600.50" y1="411.59" x2="603.30" y2="411.59" stroke="#222" stroke-width="0.75"/>
<text x="598.90" y="413.09" font-size="4.2" text-anchor="end" fill="#222" stroke="#222" stroke-width="0.12">2500</text>
<line x1="603.30" y1="406.82" x2="671.60" y2="406.82" stroke="#bdbdbd" stroke-width="0.75" stroke-dasharray="3.4,3.1"/>
<line x1="600.50" y1="406.82" x2="603.30" y2="406.82" stroke="#222" stroke-width="0.75"/>
<text x="598.90" y="408.32" font-size="4.2" text-anchor="end" fill="#222" stroke="#222" stroke-width="0.12">5000</text>
<line x1="603.30" y1="402.05" x2="671.60" y2="402.05" stroke="#bdbdbd" stroke-width="0.75" stroke-dasharray="3.4,3.1"/>
<line x1="600.50" y1="402.05" x2="603.30" y2="402.05" stroke="#222" stroke-width="0.75"/>
<text x="598.90" y="403.55" font-size="4.2" text-anchor="end" fill="#222" stroke="#222" stroke-width="0.12">10000</text>
<line x1="603.30" y1="395.74" x2="671.60" y2="395.74" stroke="#bdbdbd" stroke-width="0.75" stroke-dasharray="3.4,3.1"/>
<line x1="600.50" y1="395.74" x2="603.30" y2="395.74" stroke="#222" stroke-width="0.75"/>
<text x="598.90" y="397.24" font-size="4.2" text-anchor="end" fill="#222" stroke="#222" stroke-width="0.12">25000</text>
<line x1="603.30" y1="390.97" x2="671.60" y2="390.97" stroke="#bdbdbd" stroke-width="0.75" stroke-dasharray="3.4,3.1"/>
<line x1="600.50" y1="390.97" x2="603.30" y2="390.97" stroke="#222" stroke-width="0.75"/>
<text x="598.90" y="392.47" font-size="4.2" text-anchor="end" fill="#222" stroke="#222" stroke-width="0.12">50000</text>
<line x1="603.30" y1="386.20" x2="671.60" y2="386.20" stroke="#bdbdbd" stroke-width="0.75" stroke-dasharray="3.4,3.1"/>
<line x1="600.50" y1="386.20" x2="603.30" y2="386.20" stroke="#222" stroke-width="0.75"/>
<text x="598.90" y="387.70" font-size="4.2" text-anchor="end" fill="#222" stroke="#222" stroke-width="0.12">100000</text>
<line x1="603.30" y1="381.43" x2="671.60" y2="381.43" stroke="#bdbdbd" stroke-width="0.75" stroke-dasharray="3.4,3.1"/>
<line x1="600.50" y1="381.43" x2="603.30" y2="381.43" stroke="#222" stroke-width="0.75"/>
<text x="598.90" y="382.93" font-size="4.2" text-anchor="end" fill="#222" stroke="#222" stroke-width="0.12">200000</text>
<path d="M625.60,413.80 L625.72,414.20 L625.86,414.61 L626.02,415.01 L626.20,415.41 L626.39,415.82 L626.58,416.22 L626.79,416.62 L627.01,417.02 L627.25,417.43 L627.50,417.83 L627.78,418.23 L628.08,418.64 L628.41,419.04 L628.75,419.44 L629.13,419.85 L629.58,420.25 L630.06,420.65 L630.56,421.05 L631.03,421.46 L631.47,421.86 L631.90,422.26 L632.32,422.67 L632.73,423.07 L633.13,423.47 L633.49,423.88 L633.84,424.28 L634.17,424.68 L634.50,425.08 L634.80,425.49 L635.07,425.89 L635.30,426.29 L635.51,426.70 L635.72,427.10 L635.92,427.50 L636.11,427.91 L636.27,428.31 L636.39,428.71 L636.47,429.12 L636.50,429.52 L636.43,429.92 L636.26,430.32 L636.01,430.73 L635.69,431.13 L635.32,431.53 L634.93,431.94 L634.54,432.34 L634.16,432.74 L633.70,433.15 L633.16,433.55 L632.59,433.95 L632.04,434.35 L631.55,434.76 L631.15,435.16 L630.78,435.56 L630.42,435.97 L630.10,436.37 L629.83,436.77 L629.64,437.18 L629.52,437.58 L629.41,437.98 L629.31,438.38 L629.21,438.79 L629.11,439.19 L629.03,439.59 L628.95,440.00 L628.88,440.40 L628.82,440.80 L628.76,441.21 L628.71,441.61 L628.67,442.01 L628.64,442.42 L628.62,442.82 L628.60,443.22 L628.60,443.62 L628.60,444.03 L628.61,444.43 L628.63,444.83 L628.65,445.24 L628.67,445.64 L628.69,446.04 L628.72,446.45 L628.75,446.85 L628.78,447.25 L628.81,447.65 L628.84,448.06 L628.87,448.46 L628.90,448.86 L628.93,449.27 L628.95,449.67 L628.97,450.07 L628.98,450.48 L628.99,450.88 L629.00,451.28 L629.00,451.68 L628.99,452.09 L628.98,452.49 L628.96,452.89 L628.93,453.30 L628.91,453.70 L628.87,454.10 L628.84,454.51 L628.81,454.91 L628.77,455.31 L628.74,455.72 L628.70,456.12 L628.67,456.52 L628.64,456.92 L628.62,457.33 L628.59,457.73 L628.57,458.13 L628.56,458.54 L628.54,458.94 L628.53,459.34 L628.52,459.75 L628.50,460.15 L628.49,460.55 L628.48,460.95 L628.46,461.36 L628.45,461.76 L628.43,462.16 L628.40,462.57 L628.38,462.97 L628.35,463.37 L628.31,463.78 L628.26,464.18 L628.17,464.58 L628.02,464.98 L627.83,465.39 L627.59,465.79 L627.30,466.19 L626.70,466.60 L625.80,467.00 L623.80,467.00 L622.90,466.60 L622.30,466.19 L622.01,465.79 L621.77,465.39 L621.58,464.98 L621.43,464.58 L621.34,464.18 L621.29,463.78 L621.25,463.37 L621.22,462.97 L621.20,462.57 L621.17,462.16 L621.15,461.76 L621.14,461.36 L621.12,460.95 L621.11,460.55 L621.10,460.15 L621.08,459.75 L621.07,459.34 L621.06,458.94 L621.04,458.54 L621.03,458.13 L621.01,457.73 L620.98,457.33 L620.96,456.92 L620.93,456.52 L620.90,456.12 L620.86,455.72 L620.83,455.31 L620.79,454.91 L620.76,454.51 L620.73,454.10 L620.69,453.70 L620.67,453.30 L620.64,452.89 L620.62,452.49 L620.61,452.09 L620.60,451.68 L620.60,451.28 L620.61,450.88 L620.62,450.48 L620.63,450.07 L620.65,449.67 L620.67,449.27 L620.70,448.86 L620.73,448.46 L620.76,448.06 L620.79,447.65 L620.82,447.25 L620.85,446.85 L620.88,446.45 L620.91,446.04 L620.93,445.64 L620.95,445.24 L620.97,444.83 L620.99,444.43 L621.00,444.03 L621.00,443.62 L621.00,443.22 L620.98,442.82 L620.96,442.42 L620.93,442.01 L620.89,441.61 L620.84,441.21 L620.78,440.80 L620.72,440.40 L620.65,440.00 L620.57,439.59 L620.49,439.19 L620.39,438.79 L620.29,438.38 L620.19,437.98 L620.08,437.58 L619.96,437.18 L619.77,436.77 L619.50,436.37 L619.18,435.97 L618.82,435.56 L618.45,435.16 L618.05,434.76 L617.56,434.35 L617.01,433.95 L616.44,433.55 L615.90,433.15 L615.44,432.74 L615.06,432.34 L614.67,431.94 L614.28,431.53 L613.91,431.13 L613.59,430.73 L613.34,430.32 L613.17,429.92 L613.10,429.52 L613.13,429.12 L613.21,428.71 L613.33,428.31 L613.49,427.91 L613.68,427.50 L613.88,427.10 L614.09,426.70 L614.30,426.29 L614.53,425.89 L614.80,425.49 L615.10,425.08 L615.43,424.68 L615.76,424.28 L616.11,423.88 L616.47,423.47 L616.87,423.07 L617.28,422.67 L617.70,422.26 L618.13,421.86 L618.57,421.46 L619.04,421.05 L619.54,420.65 L620.02,420.25 L620.47,419.85 L620.85,419.44 L621.19,419.04 L621.52,418.64 L621.82,418.23 L622.10,417.83 L622.35,417.43 L622.59,417.02 L622.81,416.62 L623.02,416.22 L623.21,415.82 L623.40,415.41 L623.58,415.01 L623.74,414.61 L623.88,414.20 L624.00,413.80Z" fill="#f5897a" fill-opacity="0.78"/>
<line x1="624.80" y1="414.60" x2="624.80" y2="426.00" stroke="#6e3228" stroke-width="0.65"/>
<line x1="624.80" y1="441.50" x2="624.80" y2="463.10" stroke="#6e3228" stroke-width="0.65"/>
<rect x="619.65" y="426.00" width="10.30" height="15.50" fill="#ffffff" fill-opacity="0.45" stroke="#333" stroke-width="0.75"/>
<line x1="619.65" y1="430.10" x2="629.95" y2="430.10" stroke="#333" stroke-width="1.4"/>
<line x1="623.00" y1="414.60" x2="626.60" y2="414.60" stroke="#333" stroke-width="0.5"/>
<line x1="623.00" y1="463.10" x2="626.60" y2="463.10" stroke="#333" stroke-width="0.5"/>
<path d="M653.00,442.00 L653.29,442.40 L653.58,442.80 L653.87,443.20 L654.17,443.60 L654.47,444.00 L654.77,444.40 L655.07,444.80 L655.38,445.20 L655.68,445.60 L655.99,446.00 L656.29,446.40 L656.60,446.80 L656.91,447.20 L657.22,447.60 L657.55,448.00 L657.88,448.40 L658.22,448.80 L658.59,449.20 L659.05,449.60 L659.56,450.00 L660.10,450.40 L660.60,450.80 L661.05,451.20 L661.39,451.60 L661.57,452.00 L661.58,452.40 L661.45,452.80 L661.20,453.20 L660.87,453.60 L660.49,454.00 L660.08,454.40 L659.67,454.80 L659.29,455.20 L658.94,455.60 L658.57,456.00 L658.20,456.40 L657.81,456.80 L657.41,457.20 L657.01,457.60 L656.59,458.00 L656.17,458.40 L655.74,458.80 L655.30,459.20 L654.85,459.60 L654.39,460.00 L653.91,460.40 L653.41,460.80 L652.91,461.20 L652.40,461.60 L650.40,461.60 L649.89,461.20 L649.39,460.80 L648.89,460.40 L648.41,460.00 L647.95,459.60 L647.50,459.20 L647.06,458.80 L646.63,458.40 L646.21,458.00 L645.79,457.60 L645.39,457.20 L644.99,456.80 L644.60,456.40 L644.23,456.00 L643.86,455.60 L643.51,455.20 L643.13,454.80 L642.72,454.40 L642.31,454.00 L641.93,453.60 L641.60,453.20 L641.35,452.80 L641.22,452.40 L641.23,452.00 L641.41,451.60 L641.75,451.20 L642.20,450.80 L642.70,450.40 L643.24,450.00 L643.75,449.60 L644.21,449.20 L644.58,448.80 L644.92,448.40 L645.25,448.00 L645.58,447.60 L645.89,447.20 L646.20,446.80 L646.51,446.40 L646.81,446.00 L647.12,445.60 L647.42,445.20 L647.73,444.80 L648.03,444.40 L648.33,444.00 L648.63,443.60 L648.93,443.20 L649.22,442.80 L649.51,442.40 L649.80,442.00Z" fill="#b6dcef" fill-opacity="0.78"/>
<line x1="651.40" y1="442.80" x2="651.40" y2="449.80" stroke="#3f7f9f" stroke-width="0.65"/>
<line x1="651.40" y1="455.60" x2="651.40" y2="460.80" stroke="#3f7f9f" stroke-width="0.65"/>
<rect x="646.25" y="449.80" width="10.30" height="5.80" fill="#ffffff" fill-opacity="0.45" stroke="#333" stroke-width="0.75"/>
<line x1="646.25" y1="452.50" x2="656.55" y2="452.50" stroke="#333" stroke-width="1.4"/>
<line x1="649.60" y1="442.80" x2="653.20" y2="442.80" stroke="#333" stroke-width="0.5"/>
<line x1="649.60" y1="460.80" x2="653.20" y2="460.80" stroke="#333" stroke-width="0.5"/>
<path d="M624.80,414.50 V412.30 H651.40 V414.50" fill="none" stroke="#222" stroke-width="0.7"/>
<text x="638.40" y="412.20" font-size="7.4" text-anchor="middle" fill="#111" textLength="8.6" lengthAdjust="spacingAndGlyphs" stroke="#111" stroke-width="0.35">***</text>
<rect x="603.30" y="372.30" width="68.30" height="97.40" fill="none" stroke="#8a8a8a" stroke-width="0.8"/>
<text x="576.30" y="421.00" font-size="5.4" text-anchor="middle" fill="#111" transform="rotate(-90 576.30 421.00)" textLength="43.1" lengthAdjust="spacingAndGlyphs" stroke="#111" stroke-width="0.12">Normalized counts</text>
<text x="582.00" y="421.00" font-size="5.4" text-anchor="middle" fill="#111" transform="rotate(-90 582.00 421.00)" textLength="41.7" lengthAdjust="spacingAndGlyphs" stroke="#111" stroke-width="0.12">(RNA Expression)</text>
<text x="636.95" y="478.20" font-size="5.7" text-anchor="middle" fill="#111" textLength="56.62" lengthAdjust="spacingAndGlyphs" stroke="#111" stroke-width="0.1">G013027 (Unannotated)</text>
<text x="636.95" y="485.90" font-size="6.6" text-anchor="middle" fill="#c8582d" textLength="35.14" lengthAdjust="spacingAndGlyphs">(Colorectal)</text>
<text x="636.95" y="493.30" font-size="5.3" text-anchor="middle" fill="#111" textLength="51.98" lengthAdjust="spacingAndGlyphs" stroke="#111" stroke-width="0.06">#chr11_110, chr11_111</text>
<text x="636.95" y="497.50" font-size="3.6" text-anchor="middle" fill="#222" textLength="35.29" lengthAdjust="spacingAndGlyphs" stroke="#222" stroke-width="0.08">logFC: 4.70; q: 5.7e-77</text>
<line x1="61.25" y1="604.05" x2="129.55" y2="604.05" stroke="#bdbdbd" stroke-width="0.75" stroke-dasharray="3.4,3.1"/>
<line x1="58.45" y1="604.05" x2="61.25" y2="604.05" stroke="#222" stroke-width="0.75"/>
<text x="56.85" y="605.55" font-size="4.2" text-anchor="end" fill="#222" stroke="#222" stroke-width="0.12">0</text>
<line x1="61.25" y1="588.13" x2="129.55" y2="588.13" stroke="#bdbdbd" stroke-width="0.75" stroke-dasharray="3.4,3.1"/>
<line x1="58.45" y1="588.13" x2="61.25" y2="588.13" stroke="#222" stroke-width="0.75"/>
<text x="56.85" y="589.63" font-size="4.2" text-anchor="end" fill="#222" stroke="#222" stroke-width="0.12">10</text>
<line x1="61.25" y1="577.12" x2="129.55" y2="577.12" stroke="#bdbdbd" stroke-width="0.75" stroke-dasharray="3.4,3.1"/>
<line x1="58.45" y1="577.12" x2="61.25" y2="577.12" stroke="#222" stroke-width="0.75"/>
<text x="56.85" y="578.62" font-size="4.2" text-anchor="end" fill="#222" stroke="#222" stroke-width="0.12">50</text>
<line x1="61.25" y1="572.35" x2="129.55" y2="572.35" stroke="#bdbdbd" stroke-width="0.75" stroke-dasharray="3.4,3.1"/>
<line x1="58.45" y1="572.35" x2="61.25" y2="572.35" stroke="#222" stroke-width="0.75"/>
<text x="56.85" y="573.85" font-size="4.2" text-anchor="end" fill="#222" stroke="#222" stroke-width="0.12">100</text>
<line x1="61.25" y1="566.04" x2="129.55" y2="566.04" stroke="#bdbdbd" stroke-width="0.75" stroke-dasharray="3.4,3.1"/>
<line x1="58.45" y1="566.04" x2="61.25" y2="566.04" stroke="#222" stroke-width="0.75"/>
<text x="56.85" y="567.54" font-size="4.2" text-anchor="end" fill="#222" stroke="#222" stroke-width="0.12">250</text>
<line x1="61.25" y1="561.27" x2="129.55" y2="561.27" stroke="#bdbdbd" stroke-width="0.75" stroke-dasharray="3.4,3.1"/>
<line x1="58.45" y1="561.27" x2="61.25" y2="561.27" stroke="#222" stroke-width="0.75"/>
<text x="56.85" y="562.77" font-size="4.2" text-anchor="end" fill="#222" stroke="#222" stroke-width="0.12">500</text>
<line x1="61.25" y1="556.50" x2="129.55" y2="556.50" stroke="#bdbdbd" stroke-width="0.75" stroke-dasharray="3.4,3.1"/>
<line x1="58.45" y1="556.50" x2="61.25" y2="556.50" stroke="#222" stroke-width="0.75"/>
<text x="56.85" y="558.00" font-size="4.2" text-anchor="end" fill="#222" stroke="#222" stroke-width="0.12">1000</text>
<line x1="61.25" y1="550.19" x2="129.55" y2="550.19" stroke="#bdbdbd" stroke-width="0.75" stroke-dasharray="3.4,3.1"/>
<line x1="58.45" y1="550.19" x2="61.25" y2="550.19" stroke="#222" stroke-width="0.75"/>
<text x="56.85" y="551.69" font-size="4.2" text-anchor="end" fill="#222" stroke="#222" stroke-width="0.12">2500</text>
<line x1="61.25" y1="545.42" x2="129.55" y2="545.42" stroke="#bdbdbd" stroke-width="0.75" stroke-dasharray="3.4,3.1"/>
<line x1="58.45" y1="545.42" x2="61.25" y2="545.42" stroke="#222" stroke-width="0.75"/>
<text x="56.85" y="546.92" font-size="4.2" text-anchor="end" fill="#222" stroke="#222" stroke-width="0.12">5000</text>
<line x1="61.25" y1="540.65" x2="129.55" y2="540.65" stroke="#bdbdbd" stroke-width="0.75" stroke-dasharray="3.4,3.1"/>
<line x1="58.45" y1="540.65" x2="61.25" y2="540.65" stroke="#222" stroke-width="0.75"/>
<text x="56.85" y="542.15" font-size="4.2" text-anchor="end" fill="#222" stroke="#222" stroke-width="0.12">10000</text>
<line x1="61.25" y1="534.34" x2="129.55" y2="534.34" stroke="#bdbdbd" stroke-width="0.75" stroke-dasharray="3.4,3.1"/>
<line x1="58.45" y1="534.34" x2="61.25" y2="534.34" stroke="#222" stroke-width="0.75"/>
<text x="56.85" y="535.84" font-size="4.2" text-anchor="end" fill="#222" stroke="#222" stroke-width="0.12">25000</text>
<line x1="61.25" y1="529.57" x2="129.55" y2="529.57" stroke="#bdbdbd" stroke-width="0.75" stroke-dasharray="3.4,3.1"/>
<line x1="58.45" y1="529.57" x2="61.25" y2="529.57" stroke="#222" stroke-width="0.75"/>
<text x="56.85" y="531.07" font-size="4.2" text-anchor="end" fill="#222" stroke="#222" stroke-width="0.12">50000</text>
<line x1="61.25" y1="524.80" x2="129.55" y2="524.80" stroke="#bdbdbd" stroke-width="0.75" stroke-dasharray="3.4,3.1"/>
<line x1="58.45" y1="524.80" x2="61.25" y2="524.80" stroke="#222" stroke-width="0.75"/>
<text x="56.85" y="526.30" font-size="4.2" text-anchor="end" fill="#222" stroke="#222" stroke-width="0.12">100000</text>
<line x1="61.25" y1="520.03" x2="129.55" y2="520.03" stroke="#bdbdbd" stroke-width="0.75" stroke-dasharray="3.4,3.1"/>
<line x1="58.45" y1="520.03" x2="61.25" y2="520.03" stroke="#222" stroke-width="0.75"/>
<text x="56.85" y="521.53" font-size="4.2" text-anchor="end" fill="#222" stroke="#222" stroke-width="0.12">200000</text>
<path d="M84.00,533.00 L84.06,533.40 L84.12,533.80 L84.17,534.20 L84.23,534.60 L84.28,535.00 L84.33,535.41 L84.39,535.81 L84.43,536.21 L84.48,536.61 L84.53,537.01 L84.57,537.41 L84.61,537.81 L84.65,538.21 L84.68,538.61 L84.71,539.01 L84.73,539.41 L84.76,539.81 L84.79,540.22 L84.81,540.62 L84.85,541.02 L84.88,541.42 L84.92,541.82 L84.97,542.22 L85.04,542.62 L85.14,543.02 L85.27,543.42 L85.44,543.82 L85.63,544.22 L85.84,544.63 L86.08,545.03 L86.32,545.43 L86.58,545.83 L86.84,546.23 L87.10,546.63 L87.36,547.03 L87.62,547.43 L87.90,547.83 L88.20,548.23 L88.52,548.63 L88.85,549.04 L89.19,549.44 L89.55,549.84 L89.90,550.24 L90.26,550.64 L90.62,551.04 L90.98,551.44 L91.34,551.84 L91.73,552.24 L92.19,552.64 L92.67,553.04 L93.16,553.44 L93.64,553.85 L94.07,554.25 L94.44,554.65 L94.71,555.05 L94.87,555.45 L94.89,555.85 L94.76,556.25 L94.52,556.65 L94.18,557.05 L93.76,557.45 L93.31,557.85 L92.83,558.26 L92.35,558.66 L91.90,559.06 L91.50,559.46 L91.18,559.86 L90.87,560.26 L90.58,560.66 L90.29,561.06 L90.01,561.46 L89.73,561.86 L89.46,562.26 L89.20,562.66 L88.95,563.07 L88.70,563.47 L88.45,563.87 L88.22,564.27 L87.98,564.67 L87.75,565.07 L87.52,565.47 L87.29,565.87 L87.06,566.27 L86.85,566.67 L86.64,567.07 L86.44,567.48 L86.25,567.88 L86.07,568.28 L85.92,568.68 L85.77,569.08 L85.64,569.48 L85.52,569.88 L85.40,570.28 L85.29,570.68 L85.18,571.08 L85.08,571.48 L84.98,571.89 L84.89,572.29 L84.80,572.69 L84.72,573.09 L84.64,573.49 L84.57,573.89 L84.51,574.29 L84.46,574.69 L84.42,575.09 L84.38,575.49 L84.34,575.89 L84.29,576.29 L84.23,576.70 L84.15,577.10 L84.06,577.50 L83.90,577.90 L83.54,578.30 L83.10,578.70 L82.30,578.70 L81.86,578.30 L81.50,577.90 L81.34,577.50 L81.25,577.10 L81.17,576.70 L81.11,576.29 L81.06,575.89 L81.02,575.49 L80.98,575.09 L80.94,574.69 L80.89,574.29 L80.83,573.89 L80.76,573.49 L80.68,573.09 L80.60,572.69 L80.51,572.29 L80.42,571.89 L80.32,571.48 L80.22,571.08 L80.11,570.68 L80.00,570.28 L79.88,569.88 L79.76,569.48 L79.63,569.08 L79.48,568.68 L79.33,568.28 L79.15,567.88 L78.96,567.48 L78.76,567.07 L78.55,566.67 L78.34,566.27 L78.11,565.87 L77.88,565.47 L77.65,565.07 L77.42,564.67 L77.18,564.27 L76.95,563.87 L76.70,563.47 L76.45,563.07 L76.20,562.66 L75.94,562.26 L75.67,561.86 L75.39,561.46 L75.11,561.06 L74.82,560.66 L74.53,560.26 L74.22,559.86 L73.90,559.46 L73.50,559.06 L73.05,558.66 L72.57,558.26 L72.09,557.85 L71.64,557.45 L71.22,557.05 L70.88,556.65 L70.64,556.25 L70.51,555.85 L70.53,555.45 L70.69,555.05 L70.96,554.65 L71.33,554.25 L71.76,553.85 L72.24,553.44 L72.73,553.04 L73.21,552.64 L73.67,552.24 L74.06,551.84 L74.42,551.44 L74.78,551.04 L75.14,550.64 L75.50,550.24 L75.85,549.84 L76.21,549.44 L76.55,549.04 L76.88,548.63 L77.20,548.23 L77.50,547.83 L77.78,547.43 L78.04,547.03 L78.30,546.63 L78.56,546.23 L78.82,545.83 L79.08,545.43 L79.32,545.03 L79.56,544.63 L79.77,544.22 L79.96,543.82 L80.13,543.42 L80.26,543.02 L80.36,542.62 L80.43,542.22 L80.48,541.82 L80.52,541.42 L80.55,541.02 L80.59,540.62 L80.61,540.22 L80.64,539.81 L80.67,539.41 L80.69,539.01 L80.72,538.61 L80.75,538.21 L80.79,537.81 L80.83,537.41 L80.87,537.01 L80.92,536.61 L80.97,536.21 L81.01,535.81 L81.07,535.41 L81.12,535.00 L81.17,534.60 L81.23,534.20 L81.28,533.80 L81.34,533.40 L81.40,533.00Z" fill="#f5897a" fill-opacity="0.78"/>
<line x1="82.70" y1="541.30" x2="82.70" y2="552.30" stroke="#6e3228" stroke-width="0.65"/>
<line x1="82.70" y1="559.70" x2="82.70" y2="570.60" stroke="#6e3228" stroke-width="0.65"/>
<rect x="77.55" y="552.30" width="10.30" height="7.40" fill="#ffffff" fill-opacity="0.45" stroke="#333" stroke-width="0.75"/>
<line x1="77.55" y1="556.10" x2="87.85" y2="556.10" stroke="#333" stroke-width="1.4"/>
<line x1="80.90" y1="541.30" x2="84.50" y2="541.30" stroke="#333" stroke-width="0.5"/>
<line x1="80.90" y1="570.60" x2="84.50" y2="570.60" stroke="#333" stroke-width="0.5"/>
<path d="M111.10,555.00 L111.18,555.40 L111.28,555.80 L111.40,556.20 L111.52,556.60 L111.66,557.00 L111.82,557.40 L111.98,557.80 L112.16,558.20 L112.34,558.60 L112.53,559.00 L112.73,559.40 L112.94,559.80 L113.15,560.20 L113.37,560.60 L113.59,561.00 L113.82,561.40 L114.07,561.80 L114.35,562.20 L114.65,562.60 L114.97,563.00 L115.30,563.40 L115.64,563.80 L115.99,564.20 L116.35,564.60 L116.71,565.00 L117.11,565.40 L117.61,565.80 L118.14,566.20 L118.63,566.60 L119.00,567.00 L119.19,567.40 L119.10,567.80 L118.69,568.20 L118.04,568.60 L117.26,569.00 L116.42,569.40 L115.63,569.80 L114.95,570.20 L114.50,570.60 L114.21,571.00 L113.95,571.40 L113.73,571.80 L113.53,572.20 L113.35,572.60 L113.19,573.00 L113.02,573.40 L112.86,573.80 L112.68,574.20 L112.49,574.60 L112.28,575.00 L112.04,575.40 L111.76,575.80 L111.45,576.20 L111.13,576.60 L110.80,577.00 L108.80,577.00 L108.47,576.60 L108.15,576.20 L107.84,575.80 L107.56,575.40 L107.32,575.00 L107.11,574.60 L106.92,574.20 L106.74,573.80 L106.58,573.40 L106.41,573.00 L106.25,572.60 L106.07,572.20 L105.87,571.80 L105.65,571.40 L105.39,571.00 L105.10,570.60 L104.65,570.20 L103.97,569.80 L103.18,569.40 L102.34,569.00 L101.56,568.60 L100.91,568.20 L100.50,567.80 L100.41,567.40 L100.60,567.00 L100.97,566.60 L101.46,566.20 L101.99,565.80 L102.49,565.40 L102.89,565.00 L103.25,564.60 L103.61,564.20 L103.96,563.80 L104.30,563.40 L104.63,563.00 L104.95,562.60 L105.25,562.20 L105.53,561.80 L105.78,561.40 L106.01,561.00 L106.23,560.60 L106.45,560.20 L106.66,559.80 L106.87,559.40 L107.07,559.00 L107.26,558.60 L107.44,558.20 L107.62,557.80 L107.78,557.40 L107.94,557.00 L108.08,556.60 L108.20,556.20 L108.32,555.80 L108.42,555.40 L108.50,555.00Z" fill="#b6dcef" fill-opacity="0.78"/>
<circle cx="109.80" cy="547.90" r="1.30" fill="#bcdff0"/>
<circle cx="109.80" cy="581.60" r="1.30" fill="#bcdff0"/>
<line x1="109.80" y1="555.00" x2="109.80" y2="563.40" stroke="#3f7f9f" stroke-width="0.65"/>
<line x1="109.80" y1="570.30" x2="109.80" y2="576.90" stroke="#3f7f9f" stroke-width="0.65"/>
<rect x="104.65" y="563.40" width="10.30" height="6.90" fill="#ffffff" fill-opacity="0.45" stroke="#333" stroke-width="0.75"/>
<line x1="104.65" y1="567.20" x2="114.95" y2="567.20" stroke="#333" stroke-width="1.4"/>
<line x1="108.00" y1="555.00" x2="111.60" y2="555.00" stroke="#333" stroke-width="0.5"/>
<line x1="108.00" y1="576.90" x2="111.60" y2="576.90" stroke="#333" stroke-width="0.5"/>
<path d="M82.70,534.00 V531.80 H109.80 V534.00" fill="none" stroke="#222" stroke-width="0.7"/>
<text x="96.55" y="531.70" font-size="7.4" text-anchor="middle" fill="#111" textLength="8.6" lengthAdjust="spacingAndGlyphs" stroke="#111" stroke-width="0.35">***</text>
<rect x="61.25" y="510.50" width="68.30" height="97.90" fill="none" stroke="#8a8a8a" stroke-width="0.8"/>
<text x="34.25" y="559.20" font-size="5.4" text-anchor="middle" fill="#111" transform="rotate(-90 34.25 559.20)" textLength="43.1" lengthAdjust="spacingAndGlyphs" stroke="#111" stroke-width="0.12">Normalized counts</text>
<text x="39.95" y="559.20" font-size="5.4" text-anchor="middle" fill="#111" transform="rotate(-90 39.95 559.20)" textLength="41.7" lengthAdjust="spacingAndGlyphs" stroke="#111" stroke-width="0.12">(RNA Expression)</text>
<text x="94.90" y="616.70" font-size="5.7" text-anchor="middle" fill="#111" textLength="56.62" lengthAdjust="spacingAndGlyphs" stroke="#111" stroke-width="0.1">G083361 (Unannotated)</text>
<text x="94.90" y="625.10" font-size="6.6" text-anchor="middle" fill="#cdb24a" textLength="38.54" lengthAdjust="spacingAndGlyphs">(Head-Neck)</text>
<text x="94.90" y="633.20" font-size="5.3" text-anchor="middle" fill="#111" textLength="24.1" lengthAdjust="spacingAndGlyphs" stroke="#111" stroke-width="0.06">#chr8_654</text>
<text x="94.90" y="637.00" font-size="3.6" text-anchor="middle" fill="#222" textLength="35.29" lengthAdjust="spacingAndGlyphs" stroke="#222" stroke-width="0.08">logFC: 2.23; q: 6.8e-37</text>
<line x1="169.25" y1="604.05" x2="237.55" y2="604.05" stroke="#bdbdbd" stroke-width="0.75" stroke-dasharray="3.4,3.1"/>
<line x1="166.45" y1="604.05" x2="169.25" y2="604.05" stroke="#222" stroke-width="0.75"/>
<text x="164.85" y="605.55" font-size="4.2" text-anchor="end" fill="#222" stroke="#222" stroke-width="0.12">0</text>
<line x1="169.25" y1="588.13" x2="237.55" y2="588.13" stroke="#bdbdbd" stroke-width="0.75" stroke-dasharray="3.4,3.1"/>
<line x1="166.45" y1="588.13" x2="169.25" y2="588.13" stroke="#222" stroke-width="0.75"/>
<text x="164.85" y="589.63" font-size="4.2" text-anchor="end" fill="#222" stroke="#222" stroke-width="0.12">10</text>
<line x1="169.25" y1="577.12" x2="237.55" y2="577.12" stroke="#bdbdbd" stroke-width="0.75" stroke-dasharray="3.4,3.1"/>
<line x1="166.45" y1="577.12" x2="169.25" y2="577.12" stroke="#222" stroke-width="0.75"/>
<text x="164.85" y="578.62" font-size="4.2" text-anchor="end" fill="#222" stroke="#222" stroke-width="0.12">50</text>
<line x1="169.25" y1="572.35" x2="237.55" y2="572.35" stroke="#bdbdbd" stroke-width="0.75" stroke-dasharray="3.4,3.1"/>
<line x1="166.45" y1="572.35" x2="169.25" y2="572.35" stroke="#222" stroke-width="0.75"/>
<text x="164.85" y="573.85" font-size="4.2" text-anchor="end" fill="#222" stroke="#222" stroke-width="0.12">100</text>
<line x1="169.25" y1="566.04" x2="237.55" y2="566.04" stroke="#bdbdbd" stroke-width="0.75" stroke-dasharray="3.4,3.1"/>
<line x1="166.45" y1="566.04" x2="169.25" y2="566.04" stroke="#222" stroke-width="0.75"/>
<text x="164.85" y="567.54" font-size="4.2" text-anchor="end" fill="#222" stroke="#222" stroke-width="0.12">250</text>
<line x1="169.25" y1="561.27" x2="237.55" y2="561.27" stroke="#bdbdbd" stroke-width="0.75" stroke-dasharray="3.4,3.1"/>
<line x1="166.45" y1="561.27" x2="169.25" y2="561.27" stroke="#222" stroke-width="0.75"/>
<text x="164.85" y="562.77" font-size="4.2" text-anchor="end" fill="#222" stroke="#222" stroke-width="0.12">500</text>
<line x1="169.25" y1="556.50" x2="237.55" y2="556.50" stroke="#bdbdbd" stroke-width="0.75" stroke-dasharray="3.4,3.1"/>
<line x1="166.45" y1="556.50" x2="169.25" y2="556.50" stroke="#222" stroke-width="0.75"/>
<text x="164.85" y="558.00" font-size="4.2" text-anchor="end" fill="#222" stroke="#222" stroke-width="0.12">1000</text>
<line x1="169.25" y1="550.19" x2="237.55" y2="550.19" stroke="#bdbdbd" stroke-width="0.75" stroke-dasharray="3.4,3.1"/>
<line x1="166.45" y1="550.19" x2="169.25" y2="550.19" stroke="#222" stroke-width="0.75"/>
<text x="164.85" y="551.69" font-size="4.2" text-anchor="end" fill="#222" stroke="#222" stroke-width="0.12">2500</text>
<line x1="169.25" y1="545.42" x2="237.55" y2="545.42" stroke="#bdbdbd" stroke-width="0.75" stroke-dasharray="3.4,3.1"/>
<line x1="166.45" y1="545.42" x2="169.25" y2="545.42" stroke="#222" stroke-width="0.75"/>
<text x="164.85" y="546.92" font-size="4.2" text-anchor="end" fill="#222" stroke="#222" stroke-width="0.12">5000</text>
<line x1="169.25" y1="540.65" x2="237.55" y2="540.65" stroke="#bdbdbd" stroke-width="0.75" stroke-dasharray="3.4,3.1"/>
<line x1="166.45" y1="540.65" x2="169.25" y2="540.65" stroke="#222" stroke-width="0.75"/>
<text x="164.85" y="542.15" font-size="4.2" text-anchor="end" fill="#222" stroke="#222" stroke-width="0.12">10000</text>
<line x1="169.25" y1="534.34" x2="237.55" y2="534.34" stroke="#bdbdbd" stroke-width="0.75" stroke-dasharray="3.4,3.1"/>
<line x1="166.45" y1="534.34" x2="169.25" y2="534.34" stroke="#222" stroke-width="0.75"/>
<text x="164.85" y="535.84" font-size="4.2" text-anchor="end" fill="#222" stroke="#222" stroke-width="0.12">25000</text>
<line x1="169.25" y1="529.57" x2="237.55" y2="529.57" stroke="#bdbdbd" stroke-width="0.75" stroke-dasharray="3.4,3.1"/>
<line x1="166.45" y1="529.57" x2="169.25" y2="529.57" stroke="#222" stroke-width="0.75"/>
<text x="164.85" y="531.07" font-size="4.2" text-anchor="end" fill="#222" stroke="#222" stroke-width="0.12">50000</text>
<line x1="169.25" y1="524.80" x2="237.55" y2="524.80" stroke="#bdbdbd" stroke-width="0.75" stroke-dasharray="3.4,3.1"/>
<line x1="166.45" y1="524.80" x2="169.25" y2="524.80" stroke="#222" stroke-width="0.75"/>
<text x="164.85" y="526.30" font-size="4.2" text-anchor="end" fill="#222" stroke="#222" stroke-width="0.12">100000</text>
<line x1="169.25" y1="520.03" x2="237.55" y2="520.03" stroke="#bdbdbd" stroke-width="0.75" stroke-dasharray="3.4,3.1"/>
<line x1="166.45" y1="520.03" x2="169.25" y2="520.03" stroke="#222" stroke-width="0.75"/>
<text x="164.85" y="521.53" font-size="4.2" text-anchor="end" fill="#222" stroke="#222" stroke-width="0.12">200000</text>
<path d="M192.30,545.60 L192.36,546.00 L192.43,546.40 L192.50,546.80 L192.58,547.20 L192.66,547.60 L192.74,548.00 L192.83,548.40 L192.93,548.80 L193.02,549.20 L193.12,549.60 L193.22,550.00 L193.33,550.40 L193.43,550.80 L193.54,551.20 L193.65,551.60 L193.77,552.00 L193.89,552.40 L194.02,552.80 L194.16,553.20 L194.30,553.60 L194.46,554.00 L194.63,554.40 L194.81,554.80 L195.00,555.20 L195.24,555.60 L195.51,556.00 L195.82,556.40 L196.15,556.80 L196.50,557.20 L196.87,557.60 L197.25,558.00 L197.62,558.40 L198.00,558.80 L198.37,559.20 L198.72,559.60 L199.07,560.00 L199.47,560.40 L199.90,560.80 L200.35,561.20 L200.80,561.60 L201.23,562.00 L201.64,562.40 L202.00,562.80 L202.31,563.20 L202.53,563.60 L202.67,564.00 L202.70,564.40 L202.69,564.80 L202.67,565.20 L202.64,565.60 L202.59,566.00 L202.54,566.40 L202.48,566.80 L202.41,567.20 L202.33,567.60 L202.24,568.00 L202.15,568.40 L202.05,568.80 L201.94,569.20 L201.74,569.60 L201.46,570.00 L201.11,570.40 L200.71,570.80 L200.26,571.20 L199.78,571.60 L199.29,572.00 L198.79,572.40 L198.30,572.80 L197.84,573.20 L197.40,573.60 L197.00,574.00 L196.61,574.40 L196.22,574.80 L195.84,575.20 L195.45,575.60 L195.06,576.00 L194.66,576.40 L194.26,576.80 L193.84,577.20 L193.41,577.60 L192.96,578.00 L192.49,578.40 L192.00,578.80 L191.50,579.20 L190.50,579.20 L190.00,578.80 L189.51,578.40 L189.04,578.00 L188.59,577.60 L188.16,577.20 L187.74,576.80 L187.34,576.40 L186.94,576.00 L186.55,575.60 L186.16,575.20 L185.78,574.80 L185.39,574.40 L185.00,574.00 L184.60,573.60 L184.16,573.20 L183.70,572.80 L183.21,572.40 L182.71,572.00 L182.22,571.60 L181.74,571.20 L181.29,570.80 L180.89,570.40 L180.54,570.00 L180.26,569.60 L180.06,569.20 L179.95,568.80 L179.85,568.40 L179.76,568.00 L179.67,567.60 L179.59,567.20 L179.52,566.80 L179.46,566.40 L179.41,566.00 L179.36,565.60 L179.33,565.20 L179.31,564.80 L179.30,564.40 L179.33,564.00 L179.47,563.60 L179.69,563.20 L180.00,562.80 L180.36,562.40 L180.77,562.00 L181.20,561.60 L181.65,561.20 L182.10,560.80 L182.53,560.40 L182.93,560.00 L183.28,559.60 L183.63,559.20 L184.00,558.80 L184.38,558.40 L184.75,558.00 L185.13,557.60 L185.50,557.20 L185.85,556.80 L186.18,556.40 L186.49,556.00 L186.76,555.60 L187.00,555.20 L187.19,554.80 L187.37,554.40 L187.54,554.00 L187.70,553.60 L187.84,553.20 L187.98,552.80 L188.11,552.40 L188.23,552.00 L188.35,551.60 L188.46,551.20 L188.57,550.80 L188.67,550.40 L188.78,550.00 L188.88,549.60 L188.98,549.20 L189.07,548.80 L189.17,548.40 L189.26,548.00 L189.34,547.60 L189.42,547.20 L189.50,546.80 L189.57,546.40 L189.64,546.00 L189.70,545.60Z" fill="#f5897a" fill-opacity="0.78"/>
<line x1="191.00" y1="551.00" x2="191.00" y2="562.00" stroke="#6e3228" stroke-width="0.65"/>
<line x1="191.00" y1="569.40" x2="191.00" y2="578.40" stroke="#6e3228" stroke-width="0.65"/>
<rect x="185.85" y="562.00" width="10.30" height="7.40" fill="#ffffff" fill-opacity="0.45" stroke="#333" stroke-width="0.75"/>
<line x1="185.85" y1="565.90" x2="196.15" y2="565.90" stroke="#333" stroke-width="1.4"/>
<line x1="189.20" y1="551.00" x2="192.80" y2="551.00" stroke="#333" stroke-width="0.5"/>
<line x1="189.20" y1="578.40" x2="192.80" y2="578.40" stroke="#333" stroke-width="0.5"/>
<path d="M219.60,567.00 L219.86,567.40 L220.20,567.81 L220.62,568.21 L221.11,568.61 L221.65,569.02 L222.22,569.42 L222.84,569.82 L223.70,570.23 L224.86,570.63 L226.11,571.03 L227.24,571.44 L228.03,571.84 L228.30,572.24 L227.84,572.65 L226.84,573.05 L225.55,573.45 L224.24,573.85 L223.19,574.26 L222.62,574.66 L222.23,575.06 L221.91,575.47 L221.64,575.87 L221.40,576.27 L221.18,576.68 L220.96,577.08 L220.72,577.48 L220.44,577.89 L220.10,578.29 L219.68,578.69 L219.16,579.10 L218.60,579.50 L217.60,579.50 L217.04,579.10 L216.52,578.69 L216.10,578.29 L215.76,577.89 L215.48,577.48 L215.24,577.08 L215.02,576.68 L214.80,576.27 L214.56,575.87 L214.29,575.47 L213.97,575.06 L213.58,574.66 L213.01,574.26 L211.96,573.85 L210.65,573.45 L209.36,573.05 L208.36,572.65 L207.90,572.24 L208.17,571.84 L208.96,571.44 L210.09,571.03 L211.34,570.63 L212.50,570.23 L213.36,569.82 L213.98,569.42 L214.55,569.02 L215.09,568.61 L215.58,568.21 L216.00,567.81 L216.34,567.40 L216.60,567.00Z" fill="#b6dcef" fill-opacity="0.78"/>
<circle cx="218.10" cy="565.10" r="1.30" fill="#bcdff0"/>
<line x1="218.10" y1="569.80" x2="218.10" y2="571.90" stroke="#3f7f9f" stroke-width="0.65"/>
<line x1="218.10" y1="574.40" x2="218.10" y2="577.00" stroke="#3f7f9f" stroke-width="0.65"/>
<rect x="212.95" y="571.90" width="10.30" height="2.50" fill="#ffffff" fill-opacity="0.45" stroke="#333" stroke-width="0.75"/>
<line x1="212.95" y1="573.20" x2="223.25" y2="573.20" stroke="#333" stroke-width="1.4"/>
<line x1="216.30" y1="569.80" x2="219.90" y2="569.80" stroke="#333" stroke-width="0.5"/>
<line x1="216.30" y1="577.00" x2="219.90" y2="577.00" stroke="#333" stroke-width="0.5"/>
<path d="M191.00,547.80 V545.60 H218.10 V547.80" fill="none" stroke="#222" stroke-width="0.7"/>
<text x="204.85" y="545.50" font-size="7.4" text-anchor="middle" fill="#111" textLength="8.6" lengthAdjust="spacingAndGlyphs" stroke="#111" stroke-width="0.35">***</text>
<rect x="169.25" y="510.50" width="68.30" height="97.90" fill="none" stroke="#8a8a8a" stroke-width="0.8"/>
<text x="142.25" y="559.20" font-size="5.4" text-anchor="middle" fill="#111" transform="rotate(-90 142.25 559.20)" textLength="43.1" lengthAdjust="spacingAndGlyphs" stroke="#111" stroke-width="0.12">Normalized counts</text>
<text x="147.95" y="559.20" font-size="5.4" text-anchor="middle" fill="#111" transform="rotate(-90 147.95 559.20)" textLength="41.7" lengthAdjust="spacingAndGlyphs" stroke="#111" stroke-width="0.12">(RNA Expression)</text>
<text x="202.90" y="616.70" font-size="5.7" text-anchor="middle" fill="#111" textLength="56.62" lengthAdjust="spacingAndGlyphs" stroke="#111" stroke-width="0.1">G007433 (Unannotated)</text>
<text x="202.90" y="625.10" font-size="6.6" text-anchor="middle" fill="#cb59c6" textLength="24.56" lengthAdjust="spacingAndGlyphs">(Uterus)</text>
<text x="202.90" y="633.20" font-size="5.3" text-anchor="middle" fill="#111" textLength="24.1" lengthAdjust="spacingAndGlyphs" stroke="#111" stroke-width="0.06">#chr1_851</text>
<text x="202.90" y="637.00" font-size="3.6" text-anchor="middle" fill="#222" textLength="35.29" lengthAdjust="spacingAndGlyphs" stroke="#222" stroke-width="0.08">logFC: 2.16; q: 1.2e-15</text>
<line x1="278.30" y1="604.05" x2="346.60" y2="604.05" stroke="#bdbdbd" stroke-width="0.75" stroke-dasharray="3.4,3.1"/>
<line x1="275.50" y1="604.05" x2="278.30" y2="604.05" stroke="#222" stroke-width="0.75"/>
<text x="273.90" y="605.55" font-size="4.2" text-anchor="end" fill="#222" stroke="#222" stroke-width="0.12">0</text>
<line x1="278.30" y1="588.13" x2="346.60" y2="588.13" stroke="#bdbdbd" stroke-width="0.75" stroke-dasharray="3.4,3.1"/>
<line x1="275.50" y1="588.13" x2="278.30" y2="588.13" stroke="#222" stroke-width="0.75"/>
<text x="273.90" y="589.63" font-size="4.2" text-anchor="end" fill="#222" stroke="#222" stroke-width="0.12">10</text>
<line x1="278.30" y1="577.12" x2="346.60" y2="577.12" stroke="#bdbdbd" stroke-width="0.75" stroke-dasharray="3.4,3.1"/>
<line x1="275.50" y1="577.12" x2="278.30" y2="577.12" stroke="#222" stroke-width="0.75"/>
<text x="273.90" y="578.62" font-size="4.2" text-anchor="end" fill="#222" stroke="#222" stroke-width="0.12">50</text>
<line x1="278.30" y1="572.35" x2="346.60" y2="572.35" stroke="#bdbdbd" stroke-width="0.75" stroke-dasharray="3.4,3.1"/>
<line x1="275.50" y1="572.35" x2="278.30" y2="572.35" stroke="#222" stroke-width="0.75"/>
<text x="273.90" y="573.85" font-size="4.2" text-anchor="end" fill="#222" stroke="#222" stroke-width="0.12">100</text>
<line x1="278.30" y1="566.04" x2="346.60" y2="566.04" stroke="#bdbdbd" stroke-width="0.75" stroke-dasharray="3.4,3.1"/>
<line x1="275.50" y1="566.04" x2="278.30" y2="566.04" stroke="#222" stroke-width="0.75"/>
<text x="273.90" y="567.54" font-size="4.2" text-anchor="end" fill="#222" stroke="#222" stroke-width="0.12">250</text>
<line x1="278.30" y1="561.27" x2="346.60" y2="561.27" stroke="#bdbdbd" stroke-width="0.75" stroke-dasharray="3.4,3.1"/>
<line x1="275.50" y1="561.27" x2="278.30" y2="561.27" stroke="#222" stroke-width="0.75"/>
<text x="273.90" y="562.77" font-size="4.2" text-anchor="end" fill="#222" stroke="#222" stroke-width="0.12">500</text>
<line x1="278.30" y1="556.50" x2="346.60" y2="556.50" stroke="#bdbdbd" stroke-width="0.75" stroke-dasharray="3.4,3.1"/>
<line x1="275.50" y1="556.50" x2="278.30" y2="556.50" stroke="#222" stroke-width="0.75"/>
<text x="273.90" y="558.00" font-size="4.2" text-anchor="end" fill="#222" stroke="#222" stroke-width="0.12">1000</text>
<line x1="278.30" y1="550.19" x2="346.60" y2="550.19" stroke="#bdbdbd" stroke-width="0.75" stroke-dasharray="3.4,3.1"/>
<line x1="275.50" y1="550.19" x2="278.30" y2="550.19" stroke="#222" stroke-width="0.75"/>
<text x="273.90" y="551.69" font-size="4.2" text-anchor="end" fill="#222" stroke="#222" stroke-width="0.12">2500</text>
<line x1="278.30" y1="545.42" x2="346.60" y2="545.42" stroke="#bdbdbd" stroke-width="0.75" stroke-dasharray="3.4,3.1"/>
<line x1="275.50" y1="545.42" x2="278.30" y2="545.42" stroke="#222" stroke-width="0.75"/>
<text x="273.90" y="546.92" font-size="4.2" text-anchor="end" fill="#222" stroke="#222" stroke-width="0.12">5000</text>
<line x1="278.30" y1="540.65" x2="346.60" y2="540.65" stroke="#bdbdbd" stroke-width="0.75" stroke-dasharray="3.4,3.1"/>
<line x1="275.50" y1="540.65" x2="278.30" y2="540.65" stroke="#222" stroke-width="0.75"/>
<text x="273.90" y="542.15" font-size="4.2" text-anchor="end" fill="#222" stroke="#222" stroke-width="0.12">10000</text>
<line x1="278.30" y1="534.34" x2="346.60" y2="534.34" stroke="#bdbdbd" stroke-width="0.75" stroke-dasharray="3.4,3.1"/>
<line x1="275.50" y1="534.34" x2="278.30" y2="534.34" stroke="#222" stroke-width="0.75"/>
<text x="273.90" y="535.84" font-size="4.2" text-anchor="end" fill="#222" stroke="#222" stroke-width="0.12">25000</text>
<line x1="278.30" y1="529.57" x2="346.60" y2="529.57" stroke="#bdbdbd" stroke-width="0.75" stroke-dasharray="3.4,3.1"/>
<line x1="275.50" y1="529.57" x2="278.30" y2="529.57" stroke="#222" stroke-width="0.75"/>
<text x="273.90" y="531.07" font-size="4.2" text-anchor="end" fill="#222" stroke="#222" stroke-width="0.12">50000</text>
<line x1="278.30" y1="524.80" x2="346.60" y2="524.80" stroke="#bdbdbd" stroke-width="0.75" stroke-dasharray="3.4,3.1"/>
<line x1="275.50" y1="524.80" x2="278.30" y2="524.80" stroke="#222" stroke-width="0.75"/>
<text x="273.90" y="526.30" font-size="4.2" text-anchor="end" fill="#222" stroke="#222" stroke-width="0.12">100000</text>
<line x1="278.30" y1="520.03" x2="346.60" y2="520.03" stroke="#bdbdbd" stroke-width="0.75" stroke-dasharray="3.4,3.1"/>
<line x1="275.50" y1="520.03" x2="278.30" y2="520.03" stroke="#222" stroke-width="0.75"/>
<text x="273.90" y="521.53" font-size="4.2" text-anchor="end" fill="#222" stroke="#222" stroke-width="0.12">200000</text>
<path d="M301.40,556.50 L301.41,556.90 L301.43,557.30 L301.46,557.71 L301.51,558.11 L301.56,558.51 L301.62,558.91 L301.70,559.31 L301.77,559.72 L301.86,560.12 L301.95,560.52 L302.04,560.92 L302.13,561.32 L302.25,561.73 L302.39,562.13 L302.56,562.53 L302.74,562.93 L302.95,563.34 L303.17,563.74 L303.40,564.14 L303.64,564.54 L303.89,564.94 L304.15,565.35 L304.40,565.75 L304.66,566.15 L304.95,566.55 L305.27,566.95 L305.60,567.36 L305.95,567.76 L306.31,568.16 L306.67,568.56 L307.03,568.96 L307.39,569.37 L307.74,569.77 L308.07,570.17 L308.38,570.57 L308.69,570.97 L309.02,571.38 L309.37,571.78 L309.73,572.18 L310.08,572.58 L310.41,572.98 L310.72,573.39 L310.99,573.79 L311.21,574.19 L311.38,574.59 L311.48,574.99 L311.50,575.40 L311.47,575.80 L311.42,576.20 L311.33,576.60 L311.22,577.01 L311.09,577.41 L310.95,577.81 L310.78,578.21 L310.61,578.61 L310.44,579.02 L310.26,579.42 L310.08,579.82 L309.90,580.22 L309.69,580.62 L309.45,581.03 L309.20,581.43 L308.92,581.83 L308.63,582.23 L308.32,582.63 L308.02,583.04 L307.71,583.44 L307.41,583.84 L307.12,584.24 L306.84,584.64 L306.57,585.05 L306.29,585.45 L306.00,585.85 L305.72,586.25 L305.44,586.65 L305.16,587.06 L304.88,587.46 L304.61,587.86 L304.35,588.26 L304.11,588.66 L303.88,589.07 L303.66,589.47 L303.47,589.87 L303.30,590.27 L303.15,590.68 L303.01,591.08 L302.87,591.48 L302.73,591.88 L302.58,592.28 L302.43,592.69 L302.25,593.09 L302.05,593.49 L301.83,593.89 L301.56,594.29 L301.19,594.70 L300.76,595.10 L300.30,595.50 L299.30,595.50 L298.84,595.10 L298.41,594.70 L298.04,594.29 L297.77,593.89 L297.55,593.49 L297.35,593.09 L297.17,592.69 L297.02,592.28 L296.87,591.88 L296.73,591.48 L296.59,591.08 L296.45,590.68 L296.30,590.27 L296.13,589.87 L295.94,589.47 L295.72,589.07 L295.49,588.66 L295.25,588.26 L294.99,587.86 L294.72,587.46 L294.44,587.06 L294.16,586.65 L293.88,586.25 L293.60,585.85 L293.31,585.45 L293.03,585.05 L292.76,584.64 L292.48,584.24 L292.19,583.84 L291.89,583.44 L291.58,583.04 L291.28,582.63 L290.97,582.23 L290.68,581.83 L290.40,581.43 L290.15,581.03 L289.91,580.62 L289.70,580.22 L289.52,579.82 L289.34,579.42 L289.16,579.02 L288.99,578.61 L288.82,578.21 L288.65,577.81 L288.51,577.41 L288.38,577.01 L288.27,576.60 L288.18,576.20 L288.13,575.80 L288.10,575.40 L288.12,574.99 L288.22,574.59 L288.39,574.19 L288.61,573.79 L288.88,573.39 L289.19,572.98 L289.52,572.58 L289.87,572.18 L290.23,571.78 L290.58,571.38 L290.91,570.97 L291.22,570.57 L291.53,570.17 L291.86,569.77 L292.21,569.37 L292.57,568.96 L292.93,568.56 L293.29,568.16 L293.65,567.76 L294.00,567.36 L294.33,566.95 L294.65,566.55 L294.94,566.15 L295.20,565.75 L295.45,565.35 L295.71,564.94 L295.96,564.54 L296.20,564.14 L296.43,563.74 L296.65,563.34 L296.86,562.93 L297.04,562.53 L297.21,562.13 L297.35,561.73 L297.47,561.32 L297.56,560.92 L297.65,560.52 L297.74,560.12 L297.83,559.72 L297.90,559.31 L297.98,558.91 L298.04,558.51 L298.09,558.11 L298.14,557.71 L298.17,557.30 L298.19,556.90 L298.20,556.50Z" fill="#f5897a" fill-opacity="0.78"/>
<circle cx="299.80" cy="598.00" r="1.50" fill="#f59a8a"/>
<circle cx="299.80" cy="603.50" r="1.60" fill="#f59a8a"/>
<line x1="299.80" y1="560.40" x2="299.80" y2="573.30" stroke="#6e3228" stroke-width="0.65"/>
<line x1="299.80" y1="581.90" x2="299.80" y2="593.30" stroke="#6e3228" stroke-width="0.65"/>
<rect x="294.65" y="573.30" width="10.30" height="8.60" fill="#ffffff" fill-opacity="0.45" stroke="#333" stroke-width="0.75"/>
<line x1="294.65" y1="576.90" x2="304.95" y2="576.90" stroke="#333" stroke-width="1.4"/>
<line x1="298.00" y1="560.40" x2="301.60" y2="560.40" stroke="#333" stroke-width="0.5"/>
<line x1="298.00" y1="593.30" x2="301.60" y2="593.30" stroke="#333" stroke-width="0.5"/>
<path d="M329.30,555.00 L330.64,555.41 L331.84,555.81 L332.91,556.22 L333.85,556.62 L334.67,557.03 L335.37,557.43 L335.94,557.84 L336.40,558.25 L336.74,558.65 L336.96,559.06 L337.08,559.46 L337.06,559.87 L336.73,560.27 L336.14,560.68 L335.43,561.08 L334.71,561.49 L334.11,561.90 L333.75,562.30 L333.70,562.71 L333.71,563.11 L333.73,563.52 L333.76,563.92 L333.80,564.33 L333.85,564.74 L333.90,565.14 L333.95,565.55 L334.01,565.95 L334.12,566.36 L334.29,566.76 L334.51,567.17 L334.77,567.58 L335.05,567.98 L335.33,568.39 L335.60,568.79 L335.85,569.20 L336.06,569.60 L336.21,570.01 L336.29,570.42 L336.27,570.82 L336.04,571.23 L335.63,571.63 L335.07,572.04 L334.39,572.44 L333.63,572.85 L332.83,573.25 L332.01,573.66 L331.22,574.07 L330.48,574.47 L329.84,574.88 L329.32,575.28 L328.90,575.69 L328.54,576.09 L328.20,576.50 L327.20,576.50 L326.86,576.09 L326.50,575.69 L326.08,575.28 L325.56,574.88 L324.92,574.47 L324.18,574.07 L323.39,573.66 L322.57,573.25 L321.77,572.85 L321.01,572.44 L320.33,572.04 L319.77,571.63 L319.36,571.23 L319.13,570.82 L319.11,570.42 L319.19,570.01 L319.34,569.60 L319.55,569.20 L319.80,568.79 L320.07,568.39 L320.35,567.98 L320.63,567.58 L320.89,567.17 L321.11,566.76 L321.28,566.36 L321.39,565.95 L321.45,565.55 L321.50,565.14 L321.55,564.74 L321.60,564.33 L321.64,563.92 L321.67,563.52 L321.69,563.11 L321.70,562.71 L321.65,562.30 L321.29,561.90 L320.69,561.49 L319.97,561.08 L319.26,560.68 L318.67,560.27 L318.34,559.87 L318.32,559.46 L318.44,559.06 L318.66,558.65 L319.00,558.25 L319.46,557.84 L320.03,557.43 L320.73,557.03 L321.55,556.62 L322.49,556.22 L323.56,555.81 L324.76,555.41 L326.10,555.00Z" fill="#b6dcef" fill-opacity="0.78"/>
<line x1="327.70" y1="555.70" x2="327.70" y2="561.20" stroke="#3f7f9f" stroke-width="0.65"/>
<line x1="327.70" y1="571.40" x2="327.70" y2="576.40" stroke="#3f7f9f" stroke-width="0.65"/>
<rect x="322.55" y="561.20" width="10.30" height="10.20" fill="#ffffff" fill-opacity="0.45" stroke="#333" stroke-width="0.75"/>
<line x1="322.55" y1="568.70" x2="332.85" y2="568.70" stroke="#333" stroke-width="1.4"/>
<line x1="325.90" y1="555.70" x2="329.50" y2="555.70" stroke="#333" stroke-width="0.5"/>
<line x1="325.90" y1="576.40" x2="329.50" y2="576.40" stroke="#333" stroke-width="0.5"/>
<path d="M299.80,556.40 V554.20 H327.70 V556.40" fill="none" stroke="#222" stroke-width="0.7"/>
<text x="314.05" y="554.10" font-size="7.4" text-anchor="middle" fill="#111" textLength="8.6" lengthAdjust="spacingAndGlyphs" stroke="#111" stroke-width="0.35">***</text>
<rect x="278.30" y="510.50" width="68.30" height="97.90" fill="none" stroke="#8a8a8a" stroke-width="0.8"/>
<text x="251.30" y="559.20" font-size="5.4" text-anchor="middle" fill="#111" transform="rotate(-90 251.30 559.20)" textLength="43.1" lengthAdjust="spacingAndGlyphs" stroke="#111" stroke-width="0.12">Normalized counts</text>
<text x="257.00" y="559.20" font-size="5.4" text-anchor="middle" fill="#111" transform="rotate(-90 257.00 559.20)" textLength="41.7" lengthAdjust="spacingAndGlyphs" stroke="#111" stroke-width="0.12">(RNA Expression)</text>
<text x="311.95" y="616.70" font-size="5.7" text-anchor="middle" fill="#111" textLength="56.62" lengthAdjust="spacingAndGlyphs" stroke="#111" stroke-width="0.1">G009649 (Unannotated)</text>
<text x="311.95" y="625.10" font-size="6.6" text-anchor="middle" fill="#4e6b33" textLength="58.95" lengthAdjust="spacingAndGlyphs">(Bladder-Urothelial)</text>
<text x="311.95" y="633.20" font-size="5.3" text-anchor="middle" fill="#111" textLength="26.94" lengthAdjust="spacingAndGlyphs" stroke="#111" stroke-width="0.06">#chr10_254</text>
<text x="311.95" y="637.00" font-size="3.6" text-anchor="middle" fill="#222" textLength="36.43" lengthAdjust="spacingAndGlyphs" stroke="#222" stroke-width="0.08">logFC: -3.86; q: 6.1e-10</text>
<line x1="386.30" y1="604.05" x2="454.60" y2="604.05" stroke="#bdbdbd" stroke-width="0.75" stroke-dasharray="3.4,3.1"/>
<line x1="383.50" y1="604.05" x2="386.30" y2="604.05" stroke="#222" stroke-width="0.75"/>
<text x="381.90" y="605.55" font-size="4.2" text-anchor="end" fill="#222" stroke="#222" stroke-width="0.12">0</text>
<line x1="386.30" y1="588.13" x2="454.60" y2="588.13" stroke="#bdbdbd" stroke-width="0.75" stroke-dasharray="3.4,3.1"/>
<line x1="383.50" y1="588.13" x2="386.30" y2="588.13" stroke="#222" stroke-width="0.75"/>
<text x="381.90" y="589.63" font-size="4.2" text-anchor="end" fill="#222" stroke="#222" stroke-width="0.12">10</text>
<line x1="386.30" y1="577.12" x2="454.60" y2="577.12" stroke="#bdbdbd" stroke-width="0.75" stroke-dasharray="3.4,3.1"/>
<line x1="383.50" y1="577.12" x2="386.30" y2="577.12" stroke="#222" stroke-width="0.75"/>
<text x="381.90" y="578.62" font-size="4.2" text-anchor="end" fill="#222" stroke="#222" stroke-width="0.12">50</text>
<line x1="386.30" y1="572.35" x2="454.60" y2="572.35" stroke="#bdbdbd" stroke-width="0.75" stroke-dasharray="3.4,3.1"/>
<line x1="383.50" y1="572.35" x2="386.30" y2="572.35" stroke="#222" stroke-width="0.75"/>
<text x="381.90" y="573.85" font-size="4.2" text-anchor="end" fill="#222" stroke="#222" stroke-width="0.12">100</text>
<line x1="386.30" y1="566.04" x2="454.60" y2="566.04" stroke="#bdbdbd" stroke-width="0.75" stroke-dasharray="3.4,3.1"/>
<line x1="383.50" y1="566.04" x2="386.30" y2="566.04" stroke="#222" stroke-width="0.75"/>
<text x="381.90" y="567.54" font-size="4.2" text-anchor="end" fill="#222" stroke="#222" stroke-width="0.12">250</text>
<line x1="386.30" y1="561.27" x2="454.60" y2="561.27" stroke="#bdbdbd" stroke-width="0.75" stroke-dasharray="3.4,3.1"/>
<line x1="383.50" y1="561.27" x2="386.30" y2="561.27" stroke="#222" stroke-width="0.75"/>
<text x="381.90" y="562.77" font-size="4.2" text-anchor="end" fill="#222" stroke="#222" stroke-width="0.12">500</text>
<line x1="386.30" y1="556.50" x2="454.60" y2="556.50" stroke="#bdbdbd" stroke-width="0.75" stroke-dasharray="3.4,3.1"/>
<line x1="383.50" y1="556.50" x2="386.30" y2="556.50" stroke="#222" stroke-width="0.75"/>
<text x="381.90" y="558.00" font-size="4.2" text-anchor="end" fill="#222" stroke="#222" stroke-width="0.12">1000</text>
<line x1="386.30" y1="550.19" x2="454.60" y2="550.19" stroke="#bdbdbd" stroke-width="0.75" stroke-dasharray="3.4,3.1"/>
<line x1="383.50" y1="550.19" x2="386.30" y2="550.19" stroke="#222" stroke-width="0.75"/>
<text x="381.90" y="551.69" font-size="4.2" text-anchor="end" fill="#222" stroke="#222" stroke-width="0.12">2500</text>
<line x1="386.30" y1="545.42" x2="454.60" y2="545.42" stroke="#bdbdbd" stroke-width="0.75" stroke-dasharray="3.4,3.1"/>
<line x1="383.50" y1="545.42" x2="386.30" y2="545.42" stroke="#222" stroke-width="0.75"/>
<text x="381.90" y="546.92" font-size="4.2" text-anchor="end" fill="#222" stroke="#222" stroke-width="0.12">5000</text>
<line x1="386.30" y1="540.65" x2="454.60" y2="540.65" stroke="#bdbdbd" stroke-width="0.75" stroke-dasharray="3.4,3.1"/>
<line x1="383.50" y1="540.65" x2="386.30" y2="540.65" stroke="#222" stroke-width="0.75"/>
<text x="381.90" y="542.15" font-size="4.2" text-anchor="end" fill="#222" stroke="#222" stroke-width="0.12">10000</text>
<line x1="386.30" y1="534.34" x2="454.60" y2="534.34" stroke="#bdbdbd" stroke-width="0.75" stroke-dasharray="3.4,3.1"/>
<line x1="383.50" y1="534.34" x2="386.30" y2="534.34" stroke="#222" stroke-width="0.75"/>
<text x="381.90" y="535.84" font-size="4.2" text-anchor="end" fill="#222" stroke="#222" stroke-width="0.12">25000</text>
<line x1="386.30" y1="529.57" x2="454.60" y2="529.57" stroke="#bdbdbd" stroke-width="0.75" stroke-dasharray="3.4,3.1"/>
<line x1="383.50" y1="529.57" x2="386.30" y2="529.57" stroke="#222" stroke-width="0.75"/>
<text x="381.90" y="531.07" font-size="4.2" text-anchor="end" fill="#222" stroke="#222" stroke-width="0.12">50000</text>
<line x1="386.30" y1="524.80" x2="454.60" y2="524.80" stroke="#bdbdbd" stroke-width="0.75" stroke-dasharray="3.4,3.1"/>
<line x1="383.50" y1="524.80" x2="386.30" y2="524.80" stroke="#222" stroke-width="0.75"/>
<text x="381.90" y="526.30" font-size="4.2" text-anchor="end" fill="#222" stroke="#222" stroke-width="0.12">100000</text>
<line x1="386.30" y1="520.03" x2="454.60" y2="520.03" stroke="#bdbdbd" stroke-width="0.75" stroke-dasharray="3.4,3.1"/>
<line x1="383.50" y1="520.03" x2="386.30" y2="520.03" stroke="#222" stroke-width="0.75"/>
<text x="381.90" y="521.53" font-size="4.2" text-anchor="end" fill="#222" stroke="#222" stroke-width="0.12">200000</text>
<path d="M409.40,559.70 L409.47,560.10 L409.55,560.50 L409.65,560.90 L409.76,561.30 L409.89,561.71 L410.02,562.11 L410.16,562.51 L410.32,562.91 L410.48,563.31 L410.65,563.71 L410.82,564.11 L411.00,564.51 L411.20,564.91 L411.43,565.32 L411.68,565.72 L411.94,566.12 L412.23,566.52 L412.52,566.92 L412.82,567.32 L413.12,567.72 L413.43,568.12 L413.74,568.53 L414.04,568.93 L414.36,569.33 L414.69,569.73 L415.05,570.13 L415.42,570.53 L415.80,570.93 L416.17,571.33 L416.54,571.73 L416.89,572.14 L417.23,572.54 L417.53,572.94 L417.80,573.34 L418.02,573.74 L418.23,574.14 L418.44,574.54 L418.65,574.94 L418.84,575.34 L419.03,575.75 L419.19,576.15 L419.32,576.55 L419.42,576.95 L419.48,577.35 L419.50,577.75 L419.40,578.15 L419.15,578.55 L418.80,578.95 L418.36,579.36 L417.86,579.76 L417.33,580.16 L416.79,580.56 L416.29,580.96 L415.83,581.36 L415.45,581.76 L415.07,582.16 L414.68,582.56 L414.29,582.97 L413.90,583.37 L413.52,583.77 L413.15,584.17 L412.81,584.57 L412.49,584.97 L412.20,585.37 L411.96,585.77 L411.75,586.17 L411.59,586.58 L411.45,586.98 L411.33,587.38 L411.22,587.78 L411.12,588.18 L411.03,588.58 L410.95,588.98 L410.87,589.38 L410.79,589.79 L410.71,590.19 L410.63,590.59 L410.54,590.99 L410.44,591.39 L410.33,591.79 L410.21,592.19 L410.07,592.59 L409.90,592.99 L409.71,593.40 L409.50,593.80 L409.27,594.20 L409.04,594.60 L408.80,595.00 L406.80,595.00 L406.56,594.60 L406.33,594.20 L406.10,593.80 L405.89,593.40 L405.70,592.99 L405.53,592.59 L405.39,592.19 L405.27,591.79 L405.16,591.39 L405.06,590.99 L404.97,590.59 L404.89,590.19 L404.81,589.79 L404.73,589.38 L404.65,588.98 L404.57,588.58 L404.48,588.18 L404.38,587.78 L404.27,587.38 L404.15,586.98 L404.01,586.58 L403.85,586.17 L403.64,585.77 L403.40,585.37 L403.11,584.97 L402.79,584.57 L402.45,584.17 L402.08,583.77 L401.70,583.37 L401.31,582.97 L400.92,582.56 L400.53,582.16 L400.15,581.76 L399.77,581.36 L399.31,580.96 L398.81,580.56 L398.27,580.16 L397.74,579.76 L397.24,579.36 L396.80,578.95 L396.45,578.55 L396.20,578.15 L396.10,577.75 L396.12,577.35 L396.18,576.95 L396.28,576.55 L396.41,576.15 L396.57,575.75 L396.76,575.34 L396.95,574.94 L397.16,574.54 L397.37,574.14 L397.58,573.74 L397.80,573.34 L398.07,572.94 L398.37,572.54 L398.71,572.14 L399.06,571.73 L399.43,571.33 L399.80,570.93 L400.18,570.53 L400.55,570.13 L400.91,569.73 L401.24,569.33 L401.56,568.93 L401.86,568.53 L402.17,568.12 L402.48,567.72 L402.78,567.32 L403.08,566.92 L403.37,566.52 L403.66,566.12 L403.92,565.72 L404.17,565.32 L404.40,564.91 L404.60,564.51 L404.78,564.11 L404.95,563.71 L405.12,563.31 L405.28,562.91 L405.44,562.51 L405.58,562.11 L405.71,561.71 L405.84,561.30 L405.95,560.90 L406.05,560.50 L406.13,560.10 L406.20,559.70Z" fill="#f5897a" fill-opacity="0.78"/>
<circle cx="407.80" cy="597.50" r="1.30" fill="#f59a8a"/>
<circle cx="407.80" cy="600.00" r="1.20" fill="#f59a8a"/>
<circle cx="407.80" cy="603.50" r="1.60" fill="#f59a8a"/>
<line x1="407.80" y1="563.10" x2="407.80" y2="574.20" stroke="#6e3228" stroke-width="0.65"/>
<line x1="407.80" y1="582.30" x2="407.80" y2="594.10" stroke="#6e3228" stroke-width="0.65"/>
<rect x="402.65" y="574.20" width="10.30" height="8.10" fill="#ffffff" fill-opacity="0.45" stroke="#333" stroke-width="0.75"/>
<line x1="402.65" y1="578.00" x2="412.95" y2="578.00" stroke="#333" stroke-width="1.4"/>
<line x1="406.00" y1="563.10" x2="409.60" y2="563.10" stroke="#333" stroke-width="0.5"/>
<line x1="406.00" y1="594.10" x2="409.60" y2="594.10" stroke="#333" stroke-width="0.5"/>
<path d="M435.70,576.00 L436.04,576.40 L436.39,576.80 L436.73,577.20 L437.07,577.60 L437.41,578.00 L437.75,578.40 L438.09,578.80 L438.43,579.20 L438.76,579.60 L439.10,580.00 L439.45,580.40 L439.81,580.80 L440.18,581.20 L440.56,581.60 L440.94,582.00 L441.31,582.40 L441.66,582.80 L442.00,583.20 L442.31,583.60 L442.60,584.00 L442.84,584.40 L443.05,584.80 L443.24,585.20 L443.44,585.60 L443.63,586.00 L443.81,586.40 L443.98,586.80 L444.14,587.20 L444.28,587.60 L444.40,588.00 L444.49,588.40 L444.56,588.80 L444.60,589.20 L444.58,589.60 L444.44,590.00 L444.17,590.40 L443.80,590.80 L443.35,591.20 L442.85,591.60 L442.32,592.00 L441.78,592.40 L441.25,592.80 L440.76,593.20 L440.32,593.60 L439.97,594.00 L439.70,594.40 L439.45,594.80 L439.23,595.20 L439.02,595.60 L438.83,596.00 L438.64,596.40 L438.47,596.80 L438.30,597.20 L438.12,597.60 L437.95,598.00 L437.76,598.40 L437.57,598.80 L437.37,599.20 L437.14,599.60 L436.90,600.00 L436.63,600.40 L436.32,600.80 L435.96,601.20 L435.59,601.60 L435.20,602.00 L433.60,602.00 L433.21,601.60 L432.84,601.20 L432.48,600.80 L432.17,600.40 L431.90,600.00 L431.66,599.60 L431.43,599.20 L431.23,598.80 L431.04,598.40 L430.85,598.00 L430.68,597.60 L430.50,597.20 L430.33,596.80 L430.16,596.40 L429.97,596.00 L429.78,595.60 L429.57,595.20 L429.35,594.80 L429.10,594.40 L428.83,594.00 L428.48,593.60 L428.04,593.20 L427.55,592.80 L427.02,592.40 L426.48,592.00 L425.95,591.60 L425.45,591.20 L425.00,590.80 L424.63,590.40 L424.36,590.00 L424.22,589.60 L424.20,589.20 L424.24,588.80 L424.31,588.40 L424.40,588.00 L424.52,587.60 L424.66,587.20 L424.82,586.80 L424.99,586.40 L425.17,586.00 L425.36,585.60 L425.56,585.20 L425.75,584.80 L425.96,584.40 L426.20,584.00 L426.49,583.60 L426.80,583.20 L427.14,582.80 L427.49,582.40 L427.86,582.00 L428.24,581.60 L428.62,581.20 L428.99,580.80 L429.35,580.40 L429.70,580.00 L430.04,579.60 L430.37,579.20 L430.71,578.80 L431.05,578.40 L431.39,578.00 L431.73,577.60 L432.07,577.20 L432.41,576.80 L432.76,576.40 L433.10,576.00Z" fill="#b6dcef" fill-opacity="0.78"/>
<circle cx="434.40" cy="572.20" r="1.30" fill="#bcdff0"/>
<line x1="434.40" y1="576.90" x2="434.40" y2="586.00" stroke="#3f7f9f" stroke-width="0.65"/>
<line x1="434.40" y1="592.50" x2="434.40" y2="601.40" stroke="#3f7f9f" stroke-width="0.65"/>
<rect x="429.25" y="586.00" width="10.30" height="6.50" fill="#ffffff" fill-opacity="0.45" stroke="#333" stroke-width="0.75"/>
<line x1="429.25" y1="588.60" x2="439.55" y2="588.60" stroke="#333" stroke-width="1.4"/>
<line x1="432.60" y1="576.90" x2="436.20" y2="576.90" stroke="#333" stroke-width="0.5"/>
<line x1="432.60" y1="601.40" x2="436.20" y2="601.40" stroke="#333" stroke-width="0.5"/>
<path d="M407.80,560.60 V558.40 H434.40 V560.60" fill="none" stroke="#222" stroke-width="0.7"/>
<text x="421.40" y="558.30" font-size="7.4" text-anchor="middle" fill="#111" textLength="8.6" lengthAdjust="spacingAndGlyphs" stroke="#111" stroke-width="0.35">***</text>
<rect x="386.30" y="510.50" width="68.30" height="97.90" fill="none" stroke="#8a8a8a" stroke-width="0.8"/>
<text x="359.30" y="559.20" font-size="5.4" text-anchor="middle" fill="#111" transform="rotate(-90 359.30 559.20)" textLength="43.1" lengthAdjust="spacingAndGlyphs" stroke="#111" stroke-width="0.12">Normalized counts</text>
<text x="365.00" y="559.20" font-size="5.4" text-anchor="middle" fill="#111" transform="rotate(-90 365.00 559.20)" textLength="41.7" lengthAdjust="spacingAndGlyphs" stroke="#111" stroke-width="0.12">(RNA Expression)</text>
<text x="419.95" y="616.70" font-size="5.7" text-anchor="middle" fill="#111" textLength="56.62" lengthAdjust="spacingAndGlyphs" stroke="#111" stroke-width="0.1">G052336 (Unannotated)</text>
<text x="419.95" y="625.10" font-size="6.6" text-anchor="middle" fill="#7d8fc3" textLength="29.85" lengthAdjust="spacingAndGlyphs">(Prostate)</text>
<text x="419.95" y="633.20" font-size="5.3" text-anchor="middle" fill="#111" textLength="26.94" lengthAdjust="spacingAndGlyphs" stroke="#111" stroke-width="0.06">#chr21_158</text>
<text x="419.95" y="637.00" font-size="3.6" text-anchor="middle" fill="#222" textLength="35.29" lengthAdjust="spacingAndGlyphs" stroke="#222" stroke-width="0.08">logFC: 2.13; q: 1.7e-28</text>
<line x1="495.30" y1="604.05" x2="563.60" y2="604.05" stroke="#bdbdbd" stroke-width="0.75" stroke-dasharray="3.4,3.1"/>
<line x1="492.50" y1="604.05" x2="495.30" y2="604.05" stroke="#222" stroke-width="0.75"/>
<text x="490.90" y="605.55" font-size="4.2" text-anchor="end" fill="#222" stroke="#222" stroke-width="0.12">0</text>
<line x1="495.30" y1="588.13" x2="563.60" y2="588.13" stroke="#bdbdbd" stroke-width="0.75" stroke-dasharray="3.4,3.1"/>
<line x1="492.50" y1="588.13" x2="495.30" y2="588.13" stroke="#222" stroke-width="0.75"/>
<text x="490.90" y="589.63" font-size="4.2" text-anchor="end" fill="#222" stroke="#222" stroke-width="0.12">10</text>
<line x1="495.30" y1="577.12" x2="563.60" y2="577.12" stroke="#bdbdbd" stroke-width="0.75" stroke-dasharray="3.4,3.1"/>
<line x1="492.50" y1="577.12" x2="495.30" y2="577.12" stroke="#222" stroke-width="0.75"/>
<text x="490.90" y="578.62" font-size="4.2" text-anchor="end" fill="#222" stroke="#222" stroke-width="0.12">50</text>
<line x1="495.30" y1="572.35" x2="563.60" y2="572.35" stroke="#bdbdbd" stroke-width="0.75" stroke-dasharray="3.4,3.1"/>
<line x1="492.50" y1="572.35" x2="495.30" y2="572.35" stroke="#222" stroke-width="0.75"/>
<text x="490.90" y="573.85" font-size="4.2" text-anchor="end" fill="#222" stroke="#222" stroke-width="0.12">100</text>
<line x1="495.30" y1="566.04" x2="563.60" y2="566.04" stroke="#bdbdbd" stroke-width="0.75" stroke-dasharray="3.4,3.1"/>
<line x1="492.50" y1="566.04" x2="495.30" y2="566.04" stroke="#222" stroke-width="0.75"/>
<text x="490.90" y="567.54" font-size="4.2" text-anchor="end" fill="#222" stroke="#222" stroke-width="0.12">250</text>
<line x1="495.30" y1="561.27" x2="563.60" y2="561.27" stroke="#bdbdbd" stroke-width="0.75" stroke-dasharray="3.4,3.1"/>
<line x1="492.50" y1="561.27" x2="495.30" y2="561.27" stroke="#222" stroke-width="0.75"/>
<text x="490.90" y="562.77" font-size="4.2" text-anchor="end" fill="#222" stroke="#222" stroke-width="0.12">500</text>
<line x1="495.30" y1="556.50" x2="563.60" y2="556.50" stroke="#bdbdbd" stroke-width="0.75" stroke-dasharray="3.4,3.1"/>
<line x1="492.50" y1="556.50" x2="495.30" y2="556.50" stroke="#222" stroke-width="0.75"/>
<text x="490.90" y="558.00" font-size="4.2" text-anchor="end" fill="#222" stroke="#222" stroke-width="0.12">1000</text>
<line x1="495.30" y1="550.19" x2="563.60" y2="550.19" stroke="#bdbdbd" stroke-width="0.75" stroke-dasharray="3.4,3.1"/>
<line x1="492.50" y1="550.19" x2="495.30" y2="550.19" stroke="#222" stroke-width="0.75"/>
<text x="490.90" y="551.69" font-size="4.2" text-anchor="end" fill="#222" stroke="#222" stroke-width="0.12">2500</text>
<line x1="495.30" y1="545.42" x2="563.60" y2="545.42" stroke="#bdbdbd" stroke-width="0.75" stroke-dasharray="3.4,3.1"/>
<line x1="492.50" y1="545.42" x2="495.30" y2="545.42" stroke="#222" stroke-width="0.75"/>
<text x="490.90" y="546.92" font-size="4.2" text-anchor="end" fill="#222" stroke="#222" stroke-width="0.12">5000</text>
<line x1="495.30" y1="540.65" x2="563.60" y2="540.65" stroke="#bdbdbd" stroke-width="0.75" stroke-dasharray="3.4,3.1"/>
<line x1="492.50" y1="540.65" x2="495.30" y2="540.65" stroke="#222" stroke-width="0.75"/>
<text x="490.90" y="542.15" font-size="4.2" text-anchor="end" fill="#222" stroke="#222" stroke-width="0.12">10000</text>
<line x1="495.30" y1="534.34" x2="563.60" y2="534.34" stroke="#bdbdbd" stroke-width="0.75" stroke-dasharray="3.4,3.1"/>
<line x1="492.50" y1="534.34" x2="495.30" y2="534.34" stroke="#222" stroke-width="0.75"/>
<text x="490.90" y="535.84" font-size="4.2" text-anchor="end" fill="#222" stroke="#222" stroke-width="0.12">25000</text>
<line x1="495.30" y1="529.57" x2="563.60" y2="529.57" stroke="#bdbdbd" stroke-width="0.75" stroke-dasharray="3.4,3.1"/>
<line x1="492.50" y1="529.57" x2="495.30" y2="529.57" stroke="#222" stroke-width="0.75"/>
<text x="490.90" y="531.07" font-size="4.2" text-anchor="end" fill="#222" stroke="#222" stroke-width="0.12">50000</text>
<line x1="495.30" y1="524.80" x2="563.60" y2="524.80" stroke="#bdbdbd" stroke-width="0.75" stroke-dasharray="3.4,3.1"/>
<line x1="492.50" y1="524.80" x2="495.30" y2="524.80" stroke="#222" stroke-width="0.75"/>
<text x="490.90" y="526.30" font-size="4.2" text-anchor="end" fill="#222" stroke="#222" stroke-width="0.12">100000</text>
<line x1="495.30" y1="520.03" x2="563.60" y2="520.03" stroke="#bdbdbd" stroke-width="0.75" stroke-dasharray="3.4,3.1"/>
<line x1="492.50" y1="520.03" x2="495.30" y2="520.03" stroke="#222" stroke-width="0.75"/>
<text x="490.90" y="521.53" font-size="4.2" text-anchor="end" fill="#222" stroke="#222" stroke-width="0.12">200000</text>
<path d="M518.00,544.00 L518.11,544.40 L518.23,544.80 L518.35,545.21 L518.48,545.61 L518.61,546.01 L518.75,546.41 L518.89,546.81 L519.04,547.22 L519.20,547.62 L519.36,548.02 L519.53,548.42 L519.70,548.82 L519.87,549.23 L520.05,549.63 L520.24,550.03 L520.43,550.43 L520.63,550.83 L520.83,551.24 L521.04,551.64 L521.25,552.04 L521.46,552.44 L521.68,552.84 L521.91,553.25 L522.15,553.65 L522.42,554.05 L522.72,554.45 L523.03,554.85 L523.35,555.25 L523.66,555.66 L523.95,556.06 L524.21,556.46 L524.44,556.86 L524.62,557.26 L524.81,557.67 L524.99,558.07 L525.16,558.47 L525.30,558.87 L525.41,559.27 L525.48,559.68 L525.50,560.08 L525.49,560.48 L525.47,560.88 L525.44,561.28 L525.41,561.69 L525.36,562.09 L525.31,562.49 L525.26,562.89 L525.21,563.29 L525.16,563.70 L525.10,564.10 L525.05,564.50 L525.01,564.90 L524.97,565.30 L524.92,565.71 L524.86,566.11 L524.81,566.51 L524.76,566.91 L524.73,567.31 L524.71,567.72 L524.70,568.12 L524.74,568.52 L524.81,568.92 L524.92,569.32 L525.04,569.73 L525.16,570.13 L525.28,570.53 L525.39,570.93 L525.48,571.33 L525.53,571.74 L525.58,572.14 L525.63,572.54 L525.68,572.94 L525.73,573.34 L525.77,573.75 L525.81,574.15 L525.84,574.55 L525.87,574.95 L525.89,575.35 L525.90,575.75 L525.90,576.16 L525.85,576.56 L525.77,576.96 L525.66,577.36 L525.53,577.76 L525.39,578.17 L525.26,578.57 L525.15,578.97 L525.06,579.37 L525.01,579.77 L525.01,580.18 L525.06,580.58 L525.17,580.98 L525.31,581.38 L525.47,581.78 L525.65,582.19 L525.83,582.59 L526.00,582.99 L526.18,583.39 L526.40,583.79 L526.64,584.20 L526.89,584.60 L527.15,585.00 L527.39,585.40 L527.61,585.80 L527.80,586.21 L527.93,586.61 L528.00,587.01 L528.04,587.41 L528.07,587.81 L528.10,588.22 L528.13,588.62 L528.15,589.02 L528.17,589.42 L528.19,589.82 L528.20,590.23 L528.20,590.63 L528.16,591.03 L528.00,591.43 L527.76,591.83 L527.44,592.24 L527.08,592.64 L526.70,593.04 L526.32,593.44 L525.97,593.84 L525.66,594.25 L525.42,594.65 L525.21,595.05 L525.01,595.45 L524.82,595.85 L524.64,596.25 L524.46,596.66 L524.30,597.06 L524.13,597.46 L523.96,597.86 L523.80,598.26 L523.62,598.67 L523.45,599.07 L523.26,599.47 L523.06,599.87 L522.86,600.27 L522.68,600.68 L522.50,601.08 L522.33,601.48 L522.15,601.88 L521.95,602.28 L521.74,602.69 L521.49,603.09 L521.21,603.49 L520.88,603.89 L520.51,604.29 L519.89,604.70 L518.99,605.10 L518.00,605.50 L515.00,605.50 L514.01,605.10 L513.11,604.70 L512.49,604.29 L512.12,603.89 L511.79,603.49 L511.51,603.09 L511.26,602.69 L511.05,602.28 L510.85,601.88 L510.67,601.48 L510.50,601.08 L510.32,600.68 L510.14,600.27 L509.94,599.87 L509.74,599.47 L509.55,599.07 L509.38,598.67 L509.20,598.26 L509.04,597.86 L508.87,597.46 L508.70,597.06 L508.54,596.66 L508.36,596.25 L508.18,595.85 L507.99,595.45 L507.79,595.05 L507.58,594.65 L507.34,594.25 L507.03,593.84 L506.68,593.44 L506.30,593.04 L505.92,592.64 L505.56,592.24 L505.24,591.83 L505.00,591.43 L504.84,591.03 L504.80,590.63 L504.80,590.23 L504.81,589.82 L504.83,589.42 L504.85,589.02 L504.87,588.62 L504.90,588.22 L504.93,587.81 L504.96,587.41 L505.00,587.01 L505.07,586.61 L505.20,586.21 L505.39,585.80 L505.61,585.40 L505.85,585.00 L506.11,584.60 L506.36,584.20 L506.60,583.79 L506.82,583.39 L507.00,582.99 L507.17,582.59 L507.35,582.19 L507.53,581.78 L507.69,581.38 L507.83,580.98 L507.94,580.58 L507.99,580.18 L507.99,579.77 L507.94,579.37 L507.85,578.97 L507.74,578.57 L507.61,578.17 L507.47,577.76 L507.34,577.36 L507.23,576.96 L507.15,576.56 L507.10,576.16 L507.10,575.75 L507.11,575.35 L507.13,574.95 L507.16,574.55 L507.19,574.15 L507.23,573.75 L507.27,573.34 L507.32,572.94 L507.37,572.54 L507.42,572.14 L507.47,571.74 L507.52,571.33 L507.61,570.93 L507.72,570.53 L507.84,570.13 L507.96,569.73 L508.08,569.32 L508.19,568.92 L508.26,568.52 L508.30,568.12 L508.29,567.72 L508.27,567.31 L508.24,566.91 L508.19,566.51 L508.14,566.11 L508.08,565.71 L508.03,565.30 L507.99,564.90 L507.95,564.50 L507.90,564.10 L507.84,563.70 L507.79,563.29 L507.74,562.89 L507.69,562.49 L507.64,562.09 L507.59,561.69 L507.56,561.28 L507.53,560.88 L507.51,560.48 L507.50,560.08 L507.52,559.68 L507.59,559.27 L507.70,558.87 L507.84,558.47 L508.01,558.07 L508.19,557.67 L508.38,557.26 L508.56,556.86 L508.79,556.46 L509.05,556.06 L509.34,555.66 L509.65,555.25 L509.97,554.85 L510.28,554.45 L510.58,554.05 L510.85,553.65 L511.09,553.25 L511.32,552.84 L511.54,552.44 L511.75,552.04 L511.96,551.64 L512.17,551.24 L512.37,550.83 L512.57,550.43 L512.76,550.03 L512.95,549.63 L513.13,549.23 L513.30,548.82 L513.47,548.42 L513.64,548.02 L513.80,547.62 L513.96,547.22 L514.11,546.81 L514.25,546.41 L514.39,546.01 L514.52,545.61 L514.65,545.21 L514.77,544.80 L514.89,544.40 L515.00,544.00Z" fill="#f5897a" fill-opacity="0.78"/>
<circle cx="516.50" cy="541.70" r="1.50" fill="#f59a8a"/>
<line x1="516.50" y1="542.70" x2="516.50" y2="568.60" stroke="#6e3228" stroke-width="0.65"/>
<line x1="516.50" y1="590.60" x2="516.50" y2="603.80" stroke="#6e3228" stroke-width="0.65"/>
<rect x="511.35" y="568.60" width="10.30" height="22.00" fill="#ffffff" fill-opacity="0.45" stroke="#333" stroke-width="0.75"/>
<line x1="511.35" y1="581.10" x2="521.65" y2="581.10" stroke="#333" stroke-width="1.4"/>
<line x1="514.70" y1="542.70" x2="518.30" y2="542.70" stroke="#333" stroke-width="0.5"/>
<line x1="514.70" y1="603.80" x2="518.30" y2="603.80" stroke="#333" stroke-width="0.5"/>
<path d="M544.70,547.90 L545.05,548.30 L545.40,548.70 L545.74,549.11 L546.09,549.51 L546.43,549.91 L546.78,550.31 L547.12,550.71 L547.46,551.11 L547.81,551.52 L548.15,551.92 L548.49,552.32 L548.83,552.72 L549.17,553.12 L549.51,553.52 L549.88,553.93 L550.30,554.33 L550.73,554.73 L551.18,555.13 L551.62,555.53 L552.03,555.93 L552.41,556.34 L552.74,556.74 L553.01,557.14 L553.20,557.54 L553.29,557.94 L553.27,558.34 L553.11,558.75 L552.83,559.15 L552.44,559.55 L551.99,559.95 L551.48,560.35 L550.94,560.75 L550.39,561.16 L549.87,561.56 L549.38,561.96 L548.96,562.36 L548.63,562.76 L548.36,563.16 L548.12,563.57 L547.89,563.97 L547.68,564.37 L547.48,564.77 L547.28,565.17 L547.10,565.57 L546.91,565.98 L546.73,566.38 L546.54,566.78 L546.36,567.18 L546.16,567.58 L545.98,567.98 L545.81,568.39 L545.65,568.79 L545.48,569.19 L545.29,569.59 L545.09,569.99 L544.84,570.39 L544.54,570.80 L544.10,571.20 L543.60,571.60 L542.60,571.60 L542.10,571.20 L541.66,570.80 L541.36,570.39 L541.11,569.99 L540.91,569.59 L540.72,569.19 L540.55,568.79 L540.39,568.39 L540.22,567.98 L540.04,567.58 L539.84,567.18 L539.66,566.78 L539.47,566.38 L539.29,565.98 L539.10,565.57 L538.92,565.17 L538.72,564.77 L538.52,564.37 L538.31,563.97 L538.08,563.57 L537.84,563.16 L537.57,562.76 L537.24,562.36 L536.82,561.96 L536.33,561.56 L535.81,561.16 L535.26,560.75 L534.72,560.35 L534.21,559.95 L533.76,559.55 L533.37,559.15 L533.09,558.75 L532.93,558.34 L532.91,557.94 L533.00,557.54 L533.19,557.14 L533.46,556.74 L533.79,556.34 L534.17,555.93 L534.58,555.53 L535.02,555.13 L535.47,554.73 L535.90,554.33 L536.32,553.93 L536.69,553.52 L537.03,553.12 L537.37,552.72 L537.71,552.32 L538.05,551.92 L538.39,551.52 L538.74,551.11 L539.08,550.71 L539.42,550.31 L539.77,549.91 L540.11,549.51 L540.46,549.11 L540.80,548.70 L541.15,548.30 L541.50,547.90Z" fill="#b6dcef" fill-opacity="0.78"/>
<circle cx="543.10" cy="576.10" r="1.30" fill="#bcdff0"/>
<line x1="543.10" y1="547.90" x2="543.10" y2="556.50" stroke="#3f7f9f" stroke-width="0.65"/>
<line x1="543.10" y1="562.50" x2="543.10" y2="570.60" stroke="#3f7f9f" stroke-width="0.65"/>
<rect x="537.95" y="556.50" width="10.30" height="6.00" fill="#ffffff" fill-opacity="0.45" stroke="#333" stroke-width="0.75"/>
<line x1="537.95" y1="558.40" x2="548.25" y2="558.40" stroke="#333" stroke-width="1.4"/>
<line x1="541.30" y1="547.90" x2="544.90" y2="547.90" stroke="#333" stroke-width="0.5"/>
<line x1="541.30" y1="570.60" x2="544.90" y2="570.60" stroke="#333" stroke-width="0.5"/>
<path d="M516.50,542.80 V540.60 H543.10 V542.80" fill="none" stroke="#222" stroke-width="0.7"/>
<text x="530.10" y="540.50" font-size="7.4" text-anchor="middle" fill="#111" textLength="8.6" lengthAdjust="spacingAndGlyphs" stroke="#111" stroke-width="0.35">***</text>
<rect x="495.30" y="510.50" width="68.30" height="97.90" fill="none" stroke="#8a8a8a" stroke-width="0.8"/>
<text x="468.30" y="559.20" font-size="5.4" text-anchor="middle" fill="#111" transform="rotate(-90 468.30 559.20)" textLength="43.1" lengthAdjust="spacingAndGlyphs" stroke="#111" stroke-width="0.12">Normalized counts</text>
<text x="474.00" y="559.20" font-size="5.4" text-anchor="middle" fill="#111" transform="rotate(-90 474.00 559.20)" textLength="41.7" lengthAdjust="spacingAndGlyphs" stroke="#111" stroke-width="0.12">(RNA Expression)</text>
<text x="528.95" y="616.70" font-size="5.7" text-anchor="middle" fill="#111" textLength="56.62" lengthAdjust="spacingAndGlyphs" stroke="#111" stroke-width="0.1">G046073 (Unannotated)</text>
<text x="528.95" y="625.10" font-size="6.6" text-anchor="middle" fill="#7a3bd6" textLength="27.2" lengthAdjust="spacingAndGlyphs">(Thyroid)</text>
<text x="528.95" y="633.20" font-size="5.3" text-anchor="middle" fill="#111" textLength="48.2" lengthAdjust="spacingAndGlyphs" stroke="#111" stroke-width="0.06">#chr2_507, chr2_508</text>
<text x="528.95" y="637.00" font-size="3.6" text-anchor="middle" fill="#222" textLength="36.43" lengthAdjust="spacingAndGlyphs" stroke="#222" stroke-width="0.08">logFC: -3.24; q: 3.7e-12</text>
<line x1="603.30" y1="604.05" x2="671.60" y2="604.05" stroke="#bdbdbd" stroke-width="0.75" stroke-dasharray="3.4,3.1"/>
<line x1="600.50" y1="604.05" x2="603.30" y2="604.05" stroke="#222" stroke-width="0.75"/>
<text x="598.90" y="605.55" font-size="4.2" text-anchor="end" fill="#222" stroke="#222" stroke-width="0.12">0</text>
<line x1="603.30" y1="588.13" x2="671.60" y2="588.13" stroke="#bdbdbd" stroke-width="0.75" stroke-dasharray="3.4,3.1"/>
<line x1="600.50" y1="588.13" x2="603.30" y2="588.13" stroke="#222" stroke-width="0.75"/>
<text x="598.90" y="589.63" font-size="4.2" text-anchor="end" fill="#222" stroke="#222" stroke-width="0.12">10</text>
<line x1="603.30" y1="577.12" x2="671.60" y2="577.12" stroke="#bdbdbd" stroke-width="0.75" stroke-dasharray="3.4,3.1"/>
<line x1="600.50" y1="577.12" x2="603.30" y2="577.12" stroke="#222" stroke-width="0.75"/>
<text x="598.90" y="578.62" font-size="4.2" text-anchor="end" fill="#222" stroke="#222" stroke-width="0.12">50</text>
<line x1="603.30" y1="572.35" x2="671.60" y2="572.35" stroke="#bdbdbd" stroke-width="0.75" stroke-dasharray="3.4,3.1"/>
<line x1="600.50" y1="572.35" x2="603.30" y2="572.35" stroke="#222" stroke-width="0.75"/>
<text x="598.90" y="573.85" font-size="4.2" text-anchor="end" fill="#222" stroke="#222" stroke-width="0.12">100</text>
<line x1="603.30" y1="566.04" x2="671.60" y2="566.04" stroke="#bdbdbd" stroke-width="0.75" stroke-dasharray="3.4,3.1"/>
<line x1="600.50" y1="566.04" x2="603.30" y2="566.04" stroke="#222" stroke-width="0.75"/>
<text x="598.90" y="567.54" font-size="4.2" text-anchor="end" fill="#222" stroke="#222" stroke-width="0.12">250</text>
<line x1="603.30" y1="561.27" x2="671.60" y2="561.27" stroke="#bdbdbd" stroke-width="0.75" stroke-dasharray="3.4,3.1"/>
<line x1="600.50" y1="561.27" x2="603.30" y2="561.27" stroke="#222" stroke-width="0.75"/>
<text x="598.90" y="562.77" font-size="4.2" text-anchor="end" fill="#222" stroke="#222" stroke-width="0.12">500</text>
<line x1="603.30" y1="556.50" x2="671.60" y2="556.50" stroke="#bdbdbd" stroke-width="0.75" stroke-dasharray="3.4,3.1"/>
<line x1="600.50" y1="556.50" x2="603.30" y2="556.50" stroke="#222" stroke-width="0.75"/>
<text x="598.90" y="558.00" font-size="4.2" text-anchor="end" fill="#222" stroke="#222" stroke-width="0.12">1000</text>
<line x1="603.30" y1="550.19" x2="671.60" y2="550.19" stroke="#bdbdbd" stroke-width="0.75" stroke-dasharray="3.4,3.1"/>
<line x1="600.50" y1="550.19" x2="603.30" y2="550.19" stroke="#222" stroke-width="0.75"/>
<text x="598.90" y="551.69" font-size="4.2" text-anchor="end" fill="#222" stroke="#222" stroke-width="0.12">2500</text>
<line x1="603.30" y1="545.42" x2="671.60" y2="545.42" stroke="#bdbdbd" stroke-width="0.75" stroke-dasharray="3.4,3.1"/>
<line x1="600.50" y1="545.42" x2="603.30" y2="545.42" stroke="#222" stroke-width="0.75"/>
<text x="598.90" y="546.92" font-size="4.2" text-anchor="end" fill="#222" stroke="#222" stroke-width="0.12">5000</text>
<line x1="603.30" y1="540.65" x2="671.60" y2="540.65" stroke="#bdbdbd" stroke-width="0.75" stroke-dasharray="3.4,3.1"/>
<line x1="600.50" y1="540.65" x2="603.30" y2="540.65" stroke="#222" stroke-width="0.75"/>
<text x="598.90" y="542.15" font-size="4.2" text-anchor="end" fill="#222" stroke="#222" stroke-width="0.12">10000</text>
<line x1="603.30" y1="534.34" x2="671.60" y2="534.34" stroke="#bdbdbd" stroke-width="0.75" stroke-dasharray="3.4,3.1"/>
<line x1="600.50" y1="534.34" x2="603.30" y2="534.34" stroke="#222" stroke-width="0.75"/>
<text x="598.90" y="535.84" font-size="4.2" text-anchor="end" fill="#222" stroke="#222" stroke-width="0.12">25000</text>
<line x1="603.30" y1="529.57" x2="671.60" y2="529.57" stroke="#bdbdbd" stroke-width="0.75" stroke-dasharray="3.4,3.1"/>
<line x1="600.50" y1="529.57" x2="603.30" y2="529.57" stroke="#222" stroke-width="0.75"/>
<text x="598.90" y="531.07" font-size="4.2" text-anchor="end" fill="#222" stroke="#222" stroke-width="0.12">50000</text>
<line x1="603.30" y1="524.80" x2="671.60" y2="524.80" stroke="#bdbdbd" stroke-width="0.75" stroke-dasharray="3.4,3.1"/>
<line x1="600.50" y1="524.80" x2="603.30" y2="524.80" stroke="#222" stroke-width="0.75"/>
<text x="598.90" y="526.30" font-size="4.2" text-anchor="end" fill="#222" stroke="#222" stroke-width="0.12">100000</text>
<line x1="603.30" y1="520.03" x2="671.60" y2="520.03" stroke="#bdbdbd" stroke-width="0.75" stroke-dasharray="3.4,3.1"/>
<line x1="600.50" y1="520.03" x2="603.30" y2="520.03" stroke="#222" stroke-width="0.75"/>
<text x="598.90" y="521.53" font-size="4.2" text-anchor="end" fill="#222" stroke="#222" stroke-width="0.12">200000</text>
<path d="M626.40,558.50 L626.62,558.90 L626.84,559.31 L627.06,559.71 L627.29,560.11 L627.52,560.51 L627.75,560.92 L627.99,561.32 L628.23,561.72 L628.49,562.12 L628.74,562.53 L628.99,562.93 L629.24,563.33 L629.48,563.73 L629.71,564.14 L629.93,564.54 L630.14,564.94 L630.35,565.34 L630.56,565.75 L630.77,566.15 L630.97,566.55 L631.17,566.95 L631.36,567.36 L631.56,567.76 L631.74,568.16 L631.93,568.56 L632.11,568.97 L632.28,569.37 L632.46,569.77 L632.63,570.17 L632.79,570.58 L632.95,570.98 L633.12,571.38 L633.29,571.79 L633.45,572.19 L633.61,572.59 L633.78,572.99 L633.93,573.40 L634.09,573.80 L634.23,574.20 L634.38,574.60 L634.51,575.01 L634.63,575.41 L634.75,575.81 L634.85,576.21 L634.94,576.62 L635.02,577.02 L635.09,577.42 L635.15,577.82 L635.21,578.23 L635.26,578.63 L635.31,579.03 L635.36,579.43 L635.40,579.84 L635.45,580.24 L635.49,580.64 L635.53,581.04 L635.58,581.45 L635.62,581.85 L635.68,582.25 L635.73,582.66 L635.79,583.06 L635.87,583.46 L635.96,583.86 L636.06,584.27 L636.17,584.67 L636.29,585.07 L636.40,585.47 L636.51,585.88 L636.61,586.28 L636.69,586.68 L636.75,587.08 L636.79,587.49 L636.80,587.89 L636.79,588.29 L636.77,588.69 L636.73,589.10 L636.69,589.50 L636.63,589.90 L636.57,590.30 L636.50,590.71 L636.42,591.11 L636.34,591.51 L636.26,591.91 L636.17,592.32 L636.08,592.72 L636.00,593.12 L635.91,593.53 L635.83,593.93 L635.76,594.33 L635.67,594.73 L635.59,595.14 L635.50,595.54 L635.41,595.94 L635.32,596.34 L635.23,596.75 L635.13,597.15 L635.03,597.55 L634.93,597.95 L634.82,598.36 L634.72,598.76 L634.61,599.16 L634.50,599.56 L634.39,599.97 L634.28,600.37 L634.18,600.77 L634.10,601.17 L634.01,601.58 L633.92,601.98 L633.81,602.38 L633.66,602.78 L633.48,603.19 L633.22,603.59 L632.46,603.99 L631.16,604.39 L629.53,604.80 L627.80,605.20 L621.80,605.20 L620.07,604.80 L618.44,604.39 L617.14,603.99 L616.38,603.59 L616.12,603.19 L615.94,602.78 L615.79,602.38 L615.68,601.98 L615.59,601.58 L615.50,601.17 L615.42,600.77 L615.32,600.37 L615.21,599.97 L615.10,599.56 L614.99,599.16 L614.88,598.76 L614.78,598.36 L614.67,597.95 L614.57,597.55 L614.47,597.15 L614.37,596.75 L614.28,596.34 L614.19,595.94 L614.10,595.54 L614.01,595.14 L613.93,594.73 L613.84,594.33 L613.77,593.93 L613.69,593.53 L613.60,593.12 L613.52,592.72 L613.43,592.32 L613.34,591.91 L613.26,591.51 L613.18,591.11 L613.10,590.71 L613.03,590.30 L612.97,589.90 L612.91,589.50 L612.87,589.10 L612.83,588.69 L612.81,588.29 L612.80,587.89 L612.81,587.49 L612.85,587.08 L612.91,586.68 L612.99,586.28 L613.09,585.88 L613.20,585.47 L613.31,585.07 L613.43,584.67 L613.54,584.27 L613.64,583.86 L613.73,583.46 L613.81,583.06 L613.87,582.66 L613.92,582.25 L613.98,581.85 L614.02,581.45 L614.07,581.04 L614.11,580.64 L614.15,580.24 L614.20,579.84 L614.24,579.43 L614.29,579.03 L614.34,578.63 L614.39,578.23 L614.45,577.82 L614.51,577.42 L614.58,577.02 L614.66,576.62 L614.75,576.21 L614.85,575.81 L614.97,575.41 L615.09,575.01 L615.22,574.60 L615.37,574.20 L615.51,573.80 L615.67,573.40 L615.82,572.99 L615.99,572.59 L616.15,572.19 L616.31,571.79 L616.48,571.38 L616.65,570.98 L616.81,570.58 L616.97,570.17 L617.14,569.77 L617.32,569.37 L617.49,568.97 L617.67,568.56 L617.86,568.16 L618.04,567.76 L618.24,567.36 L618.43,566.95 L618.63,566.55 L618.83,566.15 L619.04,565.75 L619.25,565.34 L619.46,564.94 L619.67,564.54 L619.89,564.14 L620.12,563.73 L620.36,563.33 L620.61,562.93 L620.86,562.53 L621.11,562.12 L621.37,561.72 L621.61,561.32 L621.85,560.92 L622.08,560.51 L622.31,560.11 L622.54,559.71 L622.76,559.31 L622.98,558.90 L623.20,558.50Z" fill="#f5897a" fill-opacity="0.78"/>
<circle cx="624.80" cy="536.20" r="1.50" fill="#f59a8a"/>
<circle cx="624.80" cy="550.00" r="1.50" fill="#f59a8a"/>
<circle cx="624.80" cy="552.60" r="1.40" fill="#f59a8a"/>
<line x1="624.80" y1="560.90" x2="624.80" y2="578.40" stroke="#6e3228" stroke-width="0.65"/>
<line x1="624.80" y1="594.10" x2="624.80" y2="603.50" stroke="#6e3228" stroke-width="0.65"/>
<rect x="619.65" y="578.40" width="10.30" height="15.70" fill="#ffffff" fill-opacity="0.45" stroke="#333" stroke-width="0.75"/>
<line x1="619.65" y1="586.00" x2="629.95" y2="586.00" stroke="#333" stroke-width="1.4"/>
<line x1="623.00" y1="560.90" x2="626.60" y2="560.90" stroke="#333" stroke-width="0.5"/>
<line x1="623.00" y1="603.50" x2="626.60" y2="603.50" stroke="#333" stroke-width="0.5"/>
<path d="M653.90,601.50 L657.87,601.91 L660.70,602.33 L662.52,602.74 L663.47,603.15 L663.68,603.56 L662.62,603.97 L660.18,604.39 L656.70,604.80 L648.70,604.80 L645.22,604.39 L642.78,603.97 L641.72,603.56 L641.93,603.15 L642.88,602.74 L644.70,602.33 L647.53,601.91 L651.50,601.50Z" fill="#b6dcef" fill-opacity="0.78"/>
<circle cx="652.70" cy="573.70" r="1.40" fill="#bcdff0"/>
<circle cx="652.70" cy="590.60" r="1.40" fill="#bcdff0"/>
<circle cx="652.70" cy="595.30" r="1.40" fill="#bcdff0"/>
<line x1="652.70" y1="601.60" x2="652.70" y2="601.60" stroke="#3f7f9f" stroke-width="0.65"/>
<line x1="652.70" y1="604.30" x2="652.70" y2="604.30" stroke="#3f7f9f" stroke-width="0.65"/>
<rect x="647.55" y="601.60" width="10.30" height="2.70" fill="#ffffff" fill-opacity="0.45" stroke="#333" stroke-width="0.75"/>
<line x1="647.55" y1="602.70" x2="657.85" y2="602.70" stroke="#333" stroke-width="1.4"/>
<line x1="650.90" y1="601.60" x2="654.50" y2="601.60" stroke="#333" stroke-width="0.5"/>
<line x1="650.90" y1="604.30" x2="654.50" y2="604.30" stroke="#333" stroke-width="0.5"/>
<path d="M624.80,535.20 V533.00 H652.70 V535.20" fill="none" stroke="#222" stroke-width="0.7"/>
<text x="639.05" y="532.90" font-size="7.4" text-anchor="middle" fill="#111" textLength="8.6" lengthAdjust="spacingAndGlyphs" stroke="#111" stroke-width="0.35">***</text>
<rect x="603.30" y="510.50" width="68.30" height="97.90" fill="none" stroke="#8a8a8a" stroke-width="0.8"/>
<text x="576.30" y="559.20" font-size="5.4" text-anchor="middle" fill="#111" transform="rotate(-90 576.30 559.20)" textLength="43.1" lengthAdjust="spacingAndGlyphs" stroke="#111" stroke-width="0.12">Normalized counts</text>
<text x="582.00" y="559.20" font-size="5.4" text-anchor="middle" fill="#111" transform="rotate(-90 582.00 559.20)" textLength="41.7" lengthAdjust="spacingAndGlyphs" stroke="#111" stroke-width="0.12">(RNA Expression)</text>
<text x="636.95" y="616.70" font-size="5.7" text-anchor="middle" fill="#111" textLength="56.62" lengthAdjust="spacingAndGlyphs" stroke="#111" stroke-width="0.1">G005582 (Unannotated)</text>
<text x="636.95" y="625.10" font-size="6.6" text-anchor="middle" fill="#c9a096" textLength="38.55" lengthAdjust="spacingAndGlyphs">(Esophagus)</text>
<text x="636.95" y="633.20" font-size="5.3" text-anchor="middle" fill="#111" textLength="24.1" lengthAdjust="spacingAndGlyphs" stroke="#111" stroke-width="0.06">#chr1_641</text>
<text x="636.95" y="637.00" font-size="3.6" text-anchor="middle" fill="#222" textLength="35.29" lengthAdjust="spacingAndGlyphs" stroke="#222" stroke-width="0.08">logFC: 4.53; q: 1.6e-08</text>
<circle cx="296.2" cy="647.6" r="2.6" fill="#f7a295"/>
<text x="305.40" y="649.90" font-size="6.25" text-anchor="start" fill="#333" stroke="#333" stroke-width="0.08">Primary Cancer</text>
<circle cx="361.6" cy="647.6" r="2.6" fill="#c6e4f3"/>
<text x="371.90" y="649.90" font-size="6.1" text-anchor="start" fill="#333" stroke="#333" stroke-width="0.08">Healthy tissue</text>
</svg></body></html>
